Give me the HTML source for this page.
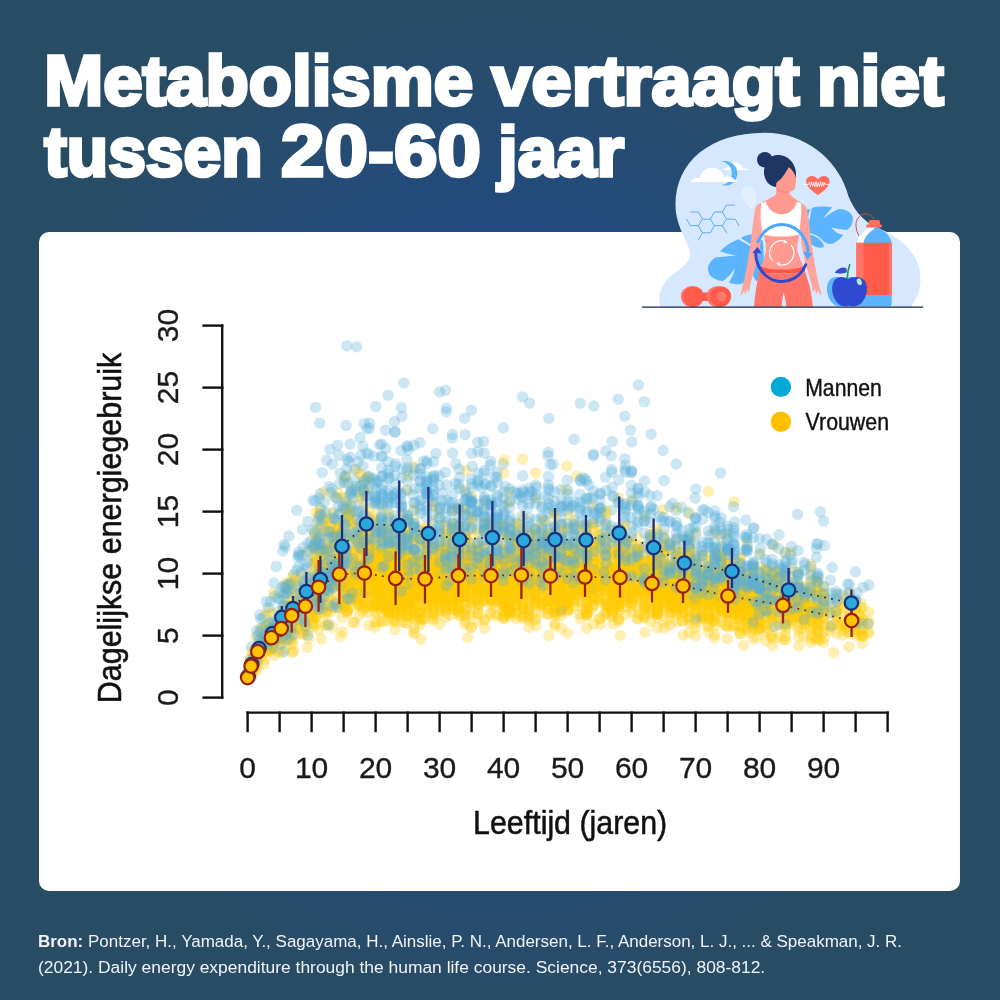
<!DOCTYPE html>
<html lang="nl">
<head>
<meta charset="utf-8">
<title>Metabolisme vertraagt niet tussen 20-60 jaar</title>
<style>
*{margin:0;padding:0;box-sizing:border-box}
html,body{width:1000px;height:1000px;overflow:hidden}
body{position:relative;font-family:"Liberation Sans",sans-serif;
 background:#294c65 radial-gradient(circle 500px at 500px 500px,rgb(24,74,157) 0%,rgb(41,76,101) 100%);}
.card{position:absolute;left:39px;top:231.5px;width:921px;height:659.5px;background:#fff;border-radius:10px}
svg{position:absolute;left:0;top:0;overflow:visible}
.title text{font-family:"Liberation Sans",sans-serif;font-weight:700;font-size:70px;fill:#fff;stroke:#fff;stroke-width:3.6px;stroke-linejoin:miter;stroke-miterlimit:2.5;paint-order:stroke fill}
.scatter circle{fill:#ffcb00;fill-opacity:.3}
.scatter circle.m{fill:#55acd6;fill-opacity:.3}
.ticks text{font-family:"Liberation Sans",sans-serif;font-size:30px;fill:#1a1a1a;stroke:#1a1a1a;stroke-width:.35px}
.axt text{font-family:"Liberation Sans",sans-serif;font-size:33.5px;fill:#111;stroke:#111;stroke-width:.55px}
.leg text{font-family:"Liberation Sans",sans-serif;font-size:23.2px;fill:#111;stroke:#111;stroke-width:.4px}
.src{position:absolute;left:38.1px;top:929px;width:940px;color:#f0f3f7;font-size:16.8px;line-height:26.2px;white-space:nowrap}
.src span{display:block;transform-origin:0 50%}
.src .l1{transform:scaleX(1.012)}
.src .l2{transform:scaleX(1.038)}
</style>
</head>
<body>
<div class="card"></div>

<svg class="title" width="1000" height="230" viewBox="0 0 1000 230" role="heading" aria-level="1">
<text x="44.2" y="105.3" textLength="428.9" lengthAdjust="spacingAndGlyphs">Metabolisme</text>
<text x="491.6" y="105.3" textLength="308.0" lengthAdjust="spacingAndGlyphs">vertraagt</text>
<text x="816.9" y="105.3" textLength="126.8" lengthAdjust="spacingAndGlyphs">niet</text>
<text x="44.2" y="175.6" textLength="218.4" lengthAdjust="spacingAndGlyphs">tussen</text>
<text x="281.0" y="175.8" textLength="199.9" lengthAdjust="spacingAndGlyphs" style="font-size:72.6px">20-60</text>
<text x="498.0" y="175.6" textLength="126.0" lengthAdjust="spacingAndGlyphs">jaar</text>
</svg>

<svg class="chart" width="1000" height="1000" viewBox="0 0 1000 1000">
<filter id="soft" x="0" y="0" width="1000" height="1000" filterUnits="userSpaceOnUse"><feGaussianBlur stdDeviation="0.7"/></filter>
<g class="scatter" filter="url(#soft)">
<circle cx="515.3" cy="604.0" r="5.7"/>
<circle cx="660.6" cy="587.7" r="5.7"/>
<circle cx="445.9" cy="540.7" r="5.7"/>
<circle cx="700.7" cy="583.1" r="5.7"/>
<circle cx="330.7" cy="585.9" r="5.7"/>
<circle cx="669.7" cy="567.0" r="5.7"/>
<circle cx="560.8" cy="600.4" r="5.7"/>
<circle cx="567.9" cy="571.3" r="5.7"/>
<circle cx="785.1" cy="601.1" r="5.7"/>
<circle cx="611.9" cy="595.3" r="5.7"/>
<circle cx="657.7" cy="581.8" r="5.7"/>
<circle cx="523.1" cy="543.2" r="5.7"/>
<circle cx="657.0" cy="603.3" r="5.7"/>
<circle cx="606.5" cy="606.8" r="5.7"/>
<circle cx="439.5" cy="565.2" r="5.7"/>
<circle cx="388.4" cy="564.8" r="5.7"/>
<circle cx="359.6" cy="556.9" r="5.7"/>
<circle cx="380.8" cy="540.0" r="5.7"/>
<circle cx="568.2" cy="585.0" r="5.7"/>
<circle cx="497.0" cy="561.0" r="5.7"/>
<circle cx="272.2" cy="613.8" r="5.7"/>
<circle cx="689.3" cy="548.9" r="5.7"/>
<circle cx="731.8" cy="588.9" r="5.7"/>
<circle cx="638.3" cy="559.0" r="5.7"/>
<circle cx="797.9" cy="582.9" r="5.7"/>
<circle cx="502.7" cy="583.0" r="5.7"/>
<circle cx="342.9" cy="565.7" r="5.7"/>
<circle cx="747.1" cy="596.7" r="5.7"/>
<circle cx="375.4" cy="576.5" r="5.7"/>
<circle cx="561.3" cy="541.0" r="5.7"/>
<circle cx="283.1" cy="609.6" r="5.7"/>
<circle cx="253.6" cy="653.0" r="5.7"/>
<circle cx="810.6" cy="606.7" r="5.7"/>
<circle cx="366.8" cy="542.9" r="5.7"/>
<circle cx="709.2" cy="601.1" r="5.7"/>
<circle cx="670.8" cy="576.8" r="5.7"/>
<circle cx="625.6" cy="595.8" r="5.7"/>
<circle cx="356.5" cy="538.3" r="5.7"/>
<circle cx="273.0" cy="645.0" r="5.7"/>
<circle cx="543.7" cy="544.9" r="5.7"/>
<circle cx="618.5" cy="618.7" r="5.7"/>
<circle cx="611.8" cy="572.9" r="5.7"/>
<circle cx="329.5" cy="558.3" r="5.7"/>
<circle cx="618.7" cy="561.6" r="5.7"/>
<circle cx="612.3" cy="598.9" r="5.7"/>
<circle cx="504.0" cy="562.9" r="5.7"/>
<circle cx="664.5" cy="597.8" r="5.7"/>
<circle cx="772.6" cy="602.4" r="5.7"/>
<circle cx="420.0" cy="567.1" r="5.7"/>
<circle cx="496.9" cy="565.9" r="5.7"/>
<circle cx="682.9" cy="580.5" r="5.7"/>
<circle cx="548.4" cy="562.7" r="5.7"/>
<circle cx="439.5" cy="599.0" r="5.7"/>
<circle cx="382.1" cy="593.8" r="5.7"/>
<circle cx="714.2" cy="575.8" r="5.7"/>
<circle cx="506.5" cy="600.2" r="5.7"/>
<circle cx="546.8" cy="573.5" r="5.7"/>
<circle cx="427.3" cy="587.3" r="5.7"/>
<circle cx="400.7" cy="562.2" r="5.7"/>
<circle cx="515.5" cy="548.4" r="5.7"/>
<circle cx="265.8" cy="624.9" r="5.7"/>
<circle cx="496.9" cy="575.7" r="5.7"/>
<circle cx="452.9" cy="574.5" r="5.7"/>
<circle cx="253.1" cy="669.1" r="5.7"/>
<circle cx="708.5" cy="595.9" r="5.7"/>
<circle cx="368.9" cy="554.2" r="5.7"/>
<circle cx="477.3" cy="598.3" r="5.7"/>
<circle cx="433.3" cy="520.7" r="5.7"/>
<circle cx="329.8" cy="518.8" r="5.7"/>
<circle cx="689.3" cy="584.8" r="5.7"/>
<circle cx="465.3" cy="585.9" r="5.7"/>
<circle cx="760.3" cy="587.8" r="5.7"/>
<circle cx="855.4" cy="622.0" r="5.7"/>
<circle cx="862.4" cy="628.0" r="5.7"/>
<circle cx="702.6" cy="576.8" r="5.7"/>
<circle cx="759.8" cy="591.3" r="5.7"/>
<circle cx="336.8" cy="582.6" r="5.7"/>
<circle cx="548.6" cy="599.2" r="5.7"/>
<circle cx="661.4" cy="571.3" r="5.7"/>
<circle cx="359.3" cy="615.5" r="5.7"/>
<circle cx="352.6" cy="575.2" r="5.7"/>
<circle cx="727.9" cy="607.3" r="5.7"/>
<circle cx="421.1" cy="582.6" r="5.7"/>
<circle cx="724.9" cy="625.3" r="5.7"/>
<circle cx="859.2" cy="621.8" r="5.7"/>
<circle cx="346.5" cy="506.1" r="5.7"/>
<circle cx="491.1" cy="555.6" r="5.7"/>
<circle cx="465.3" cy="609.4" r="5.7"/>
<circle cx="394.5" cy="619.4" r="5.7"/>
<circle cx="320.6" cy="548.7" r="5.7"/>
<circle cx="817.4" cy="581.9" r="5.7"/>
<circle cx="619.1" cy="552.9" r="5.7"/>
<circle cx="394.6" cy="547.1" r="5.7"/>
<circle cx="387.6" cy="574.4" r="5.7"/>
<circle cx="548.9" cy="574.2" r="5.7"/>
<circle cx="338.9" cy="560.3" r="5.7"/>
<circle cx="433.0" cy="594.8" r="5.7"/>
<circle cx="522.8" cy="564.3" r="5.7"/>
<circle cx="554.8" cy="565.8" r="5.7"/>
<circle cx="560.7" cy="598.3" r="5.7"/>
<circle cx="313.9" cy="546.1" r="5.7"/>
<circle cx="535.4" cy="528.4" r="5.7"/>
<circle cx="427.1" cy="540.0" r="5.7"/>
<circle cx="560.8" cy="584.2" r="5.7"/>
<circle cx="628.1" cy="558.0" r="5.7"/>
<circle cx="446.7" cy="594.5" r="5.7"/>
<circle cx="535.6" cy="499.0" r="5.7"/>
<circle cx="382.3" cy="507.8" r="5.7"/>
<circle cx="327.5" cy="589.8" r="5.7"/>
<circle cx="473.5" cy="591.6" r="5.7"/>
<circle cx="644.2" cy="585.2" r="5.7"/>
<circle cx="683.4" cy="594.6" r="5.7"/>
<circle cx="465.0" cy="576.3" r="5.7"/>
<circle cx="522.1" cy="561.4" r="5.7"/>
<circle cx="663.3" cy="587.4" r="5.7"/>
<circle cx="574.1" cy="564.2" r="5.7"/>
<circle cx="357.6" cy="574.3" r="5.7"/>
<circle cx="620.2" cy="585.5" r="5.7"/>
<circle cx="588.4" cy="612.7" r="5.7"/>
<circle cx="458.2" cy="591.3" r="5.7"/>
<circle cx="522.7" cy="558.7" r="5.7"/>
<circle cx="491.3" cy="574.9" r="5.7"/>
<circle cx="414.2" cy="615.7" r="5.7"/>
<circle cx="363.9" cy="507.2" r="5.7"/>
<circle cx="355.9" cy="580.7" r="5.7"/>
<circle cx="689.7" cy="577.2" r="5.7"/>
<circle cx="420.9" cy="576.2" r="5.7"/>
<circle cx="567.2" cy="603.4" r="5.7"/>
<circle cx="535.7" cy="545.1" r="5.7"/>
<circle cx="618.4" cy="585.8" r="5.7"/>
<circle cx="650.8" cy="590.4" r="5.7"/>
<circle cx="285.3" cy="620.7" r="5.7"/>
<circle cx="846.8" cy="627.9" r="5.7"/>
<circle cx="394.2" cy="584.8" r="5.7"/>
<circle cx="387.4" cy="604.5" r="5.7"/>
<circle cx="637.4" cy="582.5" r="5.7"/>
<circle cx="394.7" cy="561.1" r="5.7"/>
<circle cx="672.4" cy="593.2" r="5.7"/>
<circle cx="689.2" cy="578.2" r="5.7"/>
<circle cx="549.3" cy="581.2" r="5.7"/>
<circle cx="359.7" cy="473.0" r="5.7"/>
<circle cx="332.0" cy="529.7" r="5.7"/>
<circle cx="484.4" cy="573.9" r="5.7"/>
<circle cx="381.7" cy="558.5" r="5.7"/>
<circle cx="328.3" cy="564.1" r="5.7"/>
<circle cx="663.2" cy="601.9" r="5.7"/>
<circle cx="271.1" cy="649.7" r="5.7"/>
<circle cx="784.9" cy="596.8" r="5.7"/>
<circle cx="394.8" cy="588.0" r="5.7"/>
<circle cx="471.6" cy="517.4" r="5.7"/>
<circle cx="321.7" cy="584.9" r="5.7"/>
<circle cx="433.7" cy="618.4" r="5.7"/>
<circle cx="759.4" cy="584.6" r="5.7"/>
<circle cx="619.3" cy="597.4" r="5.7"/>
<circle cx="452.8" cy="533.4" r="5.7"/>
<circle cx="394.6" cy="560.5" r="5.7"/>
<circle cx="480.4" cy="589.6" r="5.7"/>
<circle cx="382.0" cy="595.1" r="5.7"/>
<circle cx="759.4" cy="622.8" r="5.7"/>
<circle cx="410.8" cy="602.2" r="5.7"/>
<circle cx="740.5" cy="608.1" r="5.7"/>
<circle cx="656.7" cy="564.7" r="5.7"/>
<circle cx="473.1" cy="582.4" r="5.7"/>
<circle cx="497.0" cy="569.0" r="5.7"/>
<circle cx="510.1" cy="588.6" r="5.7"/>
<circle cx="342.9" cy="525.3" r="5.7"/>
<circle cx="369.5" cy="561.5" r="5.7"/>
<circle cx="541.9" cy="553.3" r="5.7"/>
<circle cx="753.7" cy="599.0" r="5.7"/>
<circle cx="714.4" cy="606.4" r="5.7"/>
<circle cx="554.8" cy="604.8" r="5.7"/>
<circle cx="593.6" cy="579.7" r="5.7"/>
<circle cx="459.0" cy="591.1" r="5.7"/>
<circle cx="560.7" cy="566.6" r="5.7"/>
<circle cx="740.4" cy="602.6" r="5.7"/>
<circle cx="403.7" cy="584.2" r="5.7"/>
<circle cx="381.8" cy="598.2" r="5.7"/>
<circle cx="732.0" cy="626.7" r="5.7"/>
<circle cx="505.9" cy="594.6" r="5.7"/>
<circle cx="414.3" cy="581.1" r="5.7"/>
<circle cx="544.3" cy="570.1" r="5.7"/>
<circle cx="567.8" cy="595.3" r="5.7"/>
<circle cx="467.7" cy="637.8" r="5.7"/>
<circle cx="677.2" cy="600.5" r="5.7"/>
<circle cx="555.7" cy="562.3" r="5.7"/>
<circle cx="348.2" cy="601.9" r="5.7"/>
<circle cx="353.3" cy="579.9" r="5.7"/>
<circle cx="420.3" cy="618.3" r="5.7"/>
<circle cx="516.5" cy="582.6" r="5.7"/>
<circle cx="403.1" cy="591.7" r="5.7"/>
<circle cx="688.9" cy="600.9" r="5.7"/>
<circle cx="567.7" cy="568.0" r="5.7"/>
<circle cx="690.7" cy="541.4" r="5.7"/>
<circle cx="558.7" cy="545.4" r="5.7"/>
<circle cx="388.9" cy="561.6" r="5.7"/>
<circle cx="548.5" cy="567.5" r="5.7"/>
<circle cx="516.6" cy="571.8" r="5.7"/>
<circle cx="573.6" cy="571.3" r="5.7"/>
<circle cx="708.2" cy="605.4" r="5.7"/>
<circle cx="727.3" cy="638.5" r="5.7"/>
<circle cx="388.4" cy="552.4" r="5.7"/>
<circle cx="721.9" cy="592.3" r="5.7"/>
<circle cx="503.3" cy="590.3" r="5.7"/>
<circle cx="709.2" cy="615.7" r="5.7"/>
<circle cx="772.1" cy="587.6" r="5.7"/>
<circle cx="721.3" cy="595.2" r="5.7"/>
<circle cx="576.2" cy="601.8" r="5.7"/>
<circle cx="324.2" cy="517.8" r="5.7"/>
<circle cx="612.5" cy="594.1" r="5.7"/>
<circle cx="445.4" cy="552.9" r="5.7"/>
<circle cx="375.4" cy="598.3" r="5.7"/>
<circle cx="656.8" cy="593.0" r="5.7"/>
<circle cx="548.8" cy="550.8" r="5.7"/>
<circle cx="766.0" cy="589.4" r="5.7"/>
<circle cx="503.6" cy="616.6" r="5.7"/>
<circle cx="389.2" cy="565.6" r="5.7"/>
<circle cx="458.5" cy="598.6" r="5.7"/>
<circle cx="384.5" cy="565.2" r="5.7"/>
<circle cx="509.9" cy="570.2" r="5.7"/>
<circle cx="497.0" cy="585.8" r="5.7"/>
<circle cx="318.5" cy="570.5" r="5.7"/>
<circle cx="849.3" cy="615.2" r="5.7"/>
<circle cx="612.3" cy="599.1" r="5.7"/>
<circle cx="360.7" cy="602.6" r="5.7"/>
<circle cx="381.7" cy="568.9" r="5.7"/>
<circle cx="714.5" cy="598.8" r="5.7"/>
<circle cx="471.6" cy="591.1" r="5.7"/>
<circle cx="862.2" cy="636.1" r="5.7"/>
<circle cx="340.7" cy="513.3" r="5.7"/>
<circle cx="369.7" cy="545.5" r="5.7"/>
<circle cx="292.8" cy="581.1" r="5.7"/>
<circle cx="316.9" cy="594.8" r="5.7"/>
<circle cx="555.4" cy="514.8" r="5.7"/>
<circle cx="554.8" cy="611.5" r="5.7"/>
<circle cx="567.2" cy="557.3" r="5.7"/>
<circle cx="388.5" cy="570.7" r="5.7"/>
<circle cx="522.1" cy="582.1" r="5.7"/>
<circle cx="432.7" cy="567.6" r="5.7"/>
<circle cx="471.3" cy="582.6" r="5.7"/>
<circle cx="574.0" cy="599.1" r="5.7"/>
<circle cx="522.5" cy="585.4" r="5.7"/>
<circle cx="721.1" cy="602.8" r="5.7"/>
<circle cx="567.7" cy="602.9" r="5.7"/>
<circle cx="823.5" cy="631.6" r="5.7"/>
<circle cx="554.0" cy="545.6" r="5.7"/>
<circle cx="375.1" cy="555.5" r="5.7"/>
<circle cx="574.1" cy="560.8" r="5.7"/>
<circle cx="517.4" cy="549.0" r="5.7"/>
<circle cx="676.9" cy="595.9" r="5.7"/>
<circle cx="358.6" cy="604.9" r="5.7"/>
<circle cx="355.1" cy="586.9" r="5.7"/>
<circle cx="288.1" cy="628.6" r="5.7"/>
<circle cx="420.4" cy="605.6" r="5.7"/>
<circle cx="432.8" cy="576.8" r="5.7"/>
<circle cx="624.7" cy="564.3" r="5.7"/>
<circle cx="439.6" cy="578.1" r="5.7"/>
<circle cx="720.8" cy="591.1" r="5.7"/>
<circle cx="400.8" cy="593.5" r="5.7"/>
<circle cx="580.2" cy="589.1" r="5.7"/>
<circle cx="497.7" cy="592.8" r="5.7"/>
<circle cx="593.5" cy="538.9" r="5.7"/>
<circle cx="622.7" cy="600.4" r="5.7"/>
<circle cx="347.8" cy="580.0" r="5.7"/>
<circle cx="424.6" cy="593.4" r="5.7"/>
<circle cx="357.6" cy="577.3" r="5.7"/>
<circle cx="625.0" cy="576.8" r="5.7"/>
<circle cx="440.1" cy="599.6" r="5.7"/>
<circle cx="445.4" cy="548.8" r="5.7"/>
<circle cx="388.9" cy="575.2" r="5.7"/>
<circle cx="765.6" cy="568.9" r="5.7"/>
<circle cx="849.2" cy="619.5" r="5.7"/>
<circle cx="509.6" cy="537.0" r="5.7"/>
<circle cx="388.1" cy="569.3" r="5.7"/>
<circle cx="464.6" cy="573.9" r="5.7"/>
<circle cx="600.9" cy="624.2" r="5.7"/>
<circle cx="587.1" cy="577.7" r="5.7"/>
<circle cx="721.0" cy="585.5" r="5.7"/>
<circle cx="452.6" cy="523.7" r="5.7"/>
<circle cx="766.3" cy="603.5" r="5.7"/>
<circle cx="394.3" cy="587.9" r="5.7"/>
<circle cx="818.2" cy="632.0" r="5.7"/>
<circle cx="388.0" cy="582.7" r="5.7"/>
<circle cx="349.3" cy="588.0" r="5.7"/>
<circle cx="644.9" cy="576.1" r="5.7"/>
<circle cx="426.0" cy="608.5" r="5.7"/>
<circle cx="536.2" cy="602.7" r="5.7"/>
<circle cx="502.9" cy="575.3" r="5.7"/>
<circle cx="366.4" cy="582.2" r="5.7"/>
<circle cx="758.7" cy="603.6" r="5.7"/>
<circle cx="618.8" cy="498.0" r="5.7"/>
<circle cx="567.7" cy="571.4" r="5.7"/>
<circle cx="619.2" cy="574.5" r="5.7"/>
<circle cx="394.9" cy="571.0" r="5.7"/>
<circle cx="402.1" cy="614.7" r="5.7"/>
<circle cx="360.3" cy="579.7" r="5.7"/>
<circle cx="367.2" cy="562.1" r="5.7"/>
<circle cx="423.5" cy="619.8" r="5.7"/>
<circle cx="381.7" cy="534.7" r="5.7"/>
<circle cx="680.5" cy="589.3" r="5.7"/>
<circle cx="407.5" cy="565.4" r="5.7"/>
<circle cx="515.8" cy="580.1" r="5.7"/>
<circle cx="528.9" cy="537.8" r="5.7"/>
<circle cx="817.4" cy="620.7" r="5.7"/>
<circle cx="471.8" cy="578.9" r="5.7"/>
<circle cx="287.6" cy="635.9" r="5.7"/>
<circle cx="446.3" cy="598.9" r="5.7"/>
<circle cx="766.3" cy="583.5" r="5.7"/>
<circle cx="783.4" cy="589.0" r="5.7"/>
<circle cx="522.7" cy="459.1" r="5.7"/>
<circle cx="331.1" cy="584.9" r="5.7"/>
<circle cx="398.9" cy="545.7" r="5.7"/>
<circle cx="618.8" cy="567.3" r="5.7"/>
<circle cx="420.4" cy="587.5" r="5.7"/>
<circle cx="580.3" cy="583.6" r="5.7"/>
<circle cx="374.9" cy="592.1" r="5.7"/>
<circle cx="797.7" cy="598.8" r="5.7"/>
<circle cx="298.8" cy="614.0" r="5.7"/>
<circle cx="535.2" cy="583.4" r="5.7"/>
<circle cx="503.7" cy="473.3" r="5.7"/>
<circle cx="407.8" cy="597.9" r="5.7"/>
<circle cx="619.0" cy="557.1" r="5.7"/>
<circle cx="432.6" cy="572.5" r="5.7"/>
<circle cx="448.1" cy="563.3" r="5.7"/>
<circle cx="739.2" cy="600.5" r="5.7"/>
<circle cx="280.4" cy="638.5" r="5.7"/>
<circle cx="250.6" cy="661.8" r="5.7"/>
<circle cx="740.2" cy="600.7" r="5.7"/>
<circle cx="733.8" cy="596.8" r="5.7"/>
<circle cx="522.3" cy="568.9" r="5.7"/>
<circle cx="529.0" cy="559.3" r="5.7"/>
<circle cx="458.5" cy="578.5" r="5.7"/>
<circle cx="797.8" cy="611.8" r="5.7"/>
<circle cx="421.1" cy="563.8" r="5.7"/>
<circle cx="720.9" cy="606.5" r="5.7"/>
<circle cx="437.7" cy="575.0" r="5.7"/>
<circle cx="592.8" cy="588.0" r="5.7"/>
<circle cx="555.3" cy="606.9" r="5.7"/>
<circle cx="754.2" cy="579.4" r="5.7"/>
<circle cx="670.0" cy="549.9" r="5.7"/>
<circle cx="393.0" cy="557.0" r="5.7"/>
<circle cx="618.8" cy="606.4" r="5.7"/>
<circle cx="429.6" cy="601.3" r="5.7"/>
<circle cx="496.5" cy="616.3" r="5.7"/>
<circle cx="503.5" cy="589.6" r="5.7"/>
<circle cx="740.6" cy="558.1" r="5.7"/>
<circle cx="439.9" cy="592.8" r="5.7"/>
<circle cx="382.0" cy="571.8" r="5.7"/>
<circle cx="758.8" cy="620.6" r="5.7"/>
<circle cx="587.0" cy="615.2" r="5.7"/>
<circle cx="271.7" cy="630.4" r="5.7"/>
<circle cx="491.2" cy="604.8" r="5.7"/>
<circle cx="505.5" cy="613.7" r="5.7"/>
<circle cx="702.4" cy="586.3" r="5.7"/>
<circle cx="587.1" cy="563.3" r="5.7"/>
<circle cx="797.7" cy="610.6" r="5.7"/>
<circle cx="842.9" cy="602.2" r="5.7"/>
<circle cx="567.7" cy="544.1" r="5.7"/>
<circle cx="811.4" cy="634.5" r="5.7"/>
<circle cx="523.0" cy="547.8" r="5.7"/>
<circle cx="752.8" cy="595.1" r="5.7"/>
<circle cx="478.5" cy="559.5" r="5.7"/>
<circle cx="494.9" cy="595.8" r="5.7"/>
<circle cx="753.4" cy="583.9" r="5.7"/>
<circle cx="352.3" cy="591.1" r="5.7"/>
<circle cx="353.6" cy="549.0" r="5.7"/>
<circle cx="402.0" cy="596.6" r="5.7"/>
<circle cx="420.3" cy="600.7" r="5.7"/>
<circle cx="338.0" cy="493.0" r="5.7"/>
<circle cx="347.7" cy="576.4" r="5.7"/>
<circle cx="484.1" cy="562.4" r="5.7"/>
<circle cx="381.8" cy="598.8" r="5.7"/>
<circle cx="292.2" cy="641.2" r="5.7"/>
<circle cx="267.5" cy="650.2" r="5.7"/>
<circle cx="535.8" cy="581.1" r="5.7"/>
<circle cx="334.3" cy="535.9" r="5.7"/>
<circle cx="252.5" cy="671.7" r="5.7"/>
<circle cx="314.0" cy="626.4" r="5.7"/>
<circle cx="357.3" cy="560.6" r="5.7"/>
<circle cx="433.5" cy="603.7" r="5.7"/>
<circle cx="343.9" cy="606.6" r="5.7"/>
<circle cx="496.8" cy="587.3" r="5.7"/>
<circle cx="446.3" cy="612.9" r="5.7"/>
<circle cx="414.9" cy="586.7" r="5.7"/>
<circle cx="322.3" cy="555.7" r="5.7"/>
<circle cx="274.4" cy="655.1" r="5.7"/>
<circle cx="772.2" cy="593.8" r="5.7"/>
<circle cx="337.7" cy="573.6" r="5.7"/>
<circle cx="801.3" cy="590.7" r="5.7"/>
<circle cx="605.7" cy="590.7" r="5.7"/>
<circle cx="449.0" cy="571.1" r="5.7"/>
<circle cx="561.7" cy="574.3" r="5.7"/>
<circle cx="855.4" cy="611.7" r="5.7"/>
<circle cx="700.5" cy="587.8" r="5.7"/>
<circle cx="414.4" cy="563.0" r="5.7"/>
<circle cx="342.7" cy="576.1" r="5.7"/>
<circle cx="496.7" cy="614.7" r="5.7"/>
<circle cx="516.9" cy="600.5" r="5.7"/>
<circle cx="516.8" cy="545.3" r="5.7"/>
<circle cx="547.9" cy="564.2" r="5.7"/>
<circle cx="721.1" cy="607.0" r="5.7"/>
<circle cx="644.9" cy="580.9" r="5.7"/>
<circle cx="593.0" cy="596.7" r="5.7"/>
<circle cx="613.4" cy="579.9" r="5.7"/>
<circle cx="484.1" cy="562.3" r="5.7"/>
<circle cx="452.4" cy="596.4" r="5.7"/>
<circle cx="587.6" cy="608.8" r="5.7"/>
<circle cx="434.0" cy="552.9" r="5.7"/>
<circle cx="574.6" cy="582.2" r="5.7"/>
<circle cx="319.0" cy="513.9" r="5.7"/>
<circle cx="484.5" cy="574.2" r="5.7"/>
<circle cx="567.3" cy="576.3" r="5.7"/>
<circle cx="586.6" cy="595.3" r="5.7"/>
<circle cx="758.7" cy="630.4" r="5.7"/>
<circle cx="452.6" cy="569.2" r="5.7"/>
<circle cx="495.7" cy="583.5" r="5.7"/>
<circle cx="549.1" cy="566.1" r="5.7"/>
<circle cx="504.0" cy="588.5" r="5.7"/>
<circle cx="536.0" cy="553.7" r="5.7"/>
<circle cx="721.4" cy="610.1" r="5.7"/>
<circle cx="575.8" cy="535.0" r="5.7"/>
<circle cx="740.0" cy="626.3" r="5.7"/>
<circle cx="657.1" cy="563.5" r="5.7"/>
<circle cx="599.0" cy="581.3" r="5.7"/>
<circle cx="530.7" cy="589.8" r="5.7"/>
<circle cx="433.7" cy="589.3" r="5.7"/>
<circle cx="471.6" cy="603.4" r="5.7"/>
<circle cx="387.5" cy="541.6" r="5.7"/>
<circle cx="842.7" cy="635.1" r="5.7"/>
<circle cx="479.7" cy="573.0" r="5.7"/>
<circle cx="516.7" cy="562.2" r="5.7"/>
<circle cx="318.3" cy="596.5" r="5.7"/>
<circle cx="346.1" cy="605.3" r="5.7"/>
<circle cx="753.1" cy="578.4" r="5.7"/>
<circle cx="535.1" cy="594.2" r="5.7"/>
<circle cx="333.1" cy="536.6" r="5.7"/>
<circle cx="641.1" cy="561.3" r="5.7"/>
<circle cx="823.2" cy="642.4" r="5.7"/>
<circle cx="414.2" cy="582.5" r="5.7"/>
<circle cx="772.1" cy="592.4" r="5.7"/>
<circle cx="812.5" cy="597.3" r="5.7"/>
<circle cx="348.6" cy="566.4" r="5.7"/>
<circle cx="752.6" cy="583.6" r="5.7"/>
<circle cx="676.4" cy="614.0" r="5.7"/>
<circle cx="469.5" cy="559.0" r="5.7"/>
<circle cx="593.7" cy="528.6" r="5.7"/>
<circle cx="862.3" cy="621.6" r="5.7"/>
<circle cx="427.2" cy="590.4" r="5.7"/>
<circle cx="619.3" cy="569.4" r="5.7"/>
<circle cx="477.7" cy="573.4" r="5.7"/>
<circle cx="721.3" cy="602.7" r="5.7"/>
<circle cx="473.6" cy="569.3" r="5.7"/>
<circle cx="404.8" cy="583.0" r="5.7"/>
<circle cx="365.5" cy="530.3" r="5.7"/>
<circle cx="663.5" cy="610.8" r="5.7"/>
<circle cx="478.5" cy="584.5" r="5.7"/>
<circle cx="580.4" cy="532.3" r="5.7"/>
<circle cx="775.8" cy="585.1" r="5.7"/>
<circle cx="375.1" cy="534.5" r="5.7"/>
<circle cx="338.5" cy="585.1" r="5.7"/>
<circle cx="464.9" cy="568.4" r="5.7"/>
<circle cx="387.8" cy="565.6" r="5.7"/>
<circle cx="817.5" cy="589.0" r="5.7"/>
<circle cx="785.2" cy="594.7" r="5.7"/>
<circle cx="367.3" cy="477.3" r="5.7"/>
<circle cx="497.5" cy="578.4" r="5.7"/>
<circle cx="317.7" cy="586.9" r="5.7"/>
<circle cx="862.4" cy="629.7" r="5.7"/>
<circle cx="352.1" cy="582.8" r="5.7"/>
<circle cx="618.2" cy="591.8" r="5.7"/>
<circle cx="506.9" cy="592.2" r="5.7"/>
<circle cx="618.7" cy="605.7" r="5.7"/>
<circle cx="439.6" cy="595.3" r="5.7"/>
<circle cx="604.3" cy="615.1" r="5.7"/>
<circle cx="536.2" cy="588.0" r="5.7"/>
<circle cx="510.6" cy="583.7" r="5.7"/>
<circle cx="608.8" cy="571.0" r="5.7"/>
<circle cx="464.7" cy="561.6" r="5.7"/>
<circle cx="414.0" cy="553.5" r="5.7"/>
<circle cx="631.7" cy="565.1" r="5.7"/>
<circle cx="347.0" cy="611.1" r="5.7"/>
<circle cx="599.5" cy="555.1" r="5.7"/>
<circle cx="625.8" cy="540.8" r="5.7"/>
<circle cx="541.9" cy="589.6" r="5.7"/>
<circle cx="587.1" cy="591.0" r="5.7"/>
<circle cx="314.2" cy="548.2" r="5.7"/>
<circle cx="742.1" cy="627.7" r="5.7"/>
<circle cx="535.9" cy="571.9" r="5.7"/>
<circle cx="463.2" cy="590.3" r="5.7"/>
<circle cx="505.3" cy="606.7" r="5.7"/>
<circle cx="490.7" cy="598.7" r="5.7"/>
<circle cx="823.5" cy="600.8" r="5.7"/>
<circle cx="535.2" cy="572.4" r="5.7"/>
<circle cx="682.5" cy="589.7" r="5.7"/>
<circle cx="644.3" cy="598.1" r="5.7"/>
<circle cx="445.2" cy="591.1" r="5.7"/>
<circle cx="387.9" cy="568.3" r="5.7"/>
<circle cx="358.0" cy="600.3" r="5.7"/>
<circle cx="619.3" cy="570.5" r="5.7"/>
<circle cx="868.8" cy="611.9" r="5.7"/>
<circle cx="459.1" cy="597.5" r="5.7"/>
<circle cx="560.8" cy="574.3" r="5.7"/>
<circle cx="555.3" cy="572.7" r="5.7"/>
<circle cx="633.7" cy="583.7" r="5.7"/>
<circle cx="330.0" cy="582.2" r="5.7"/>
<circle cx="490.4" cy="570.7" r="5.7"/>
<circle cx="529.1" cy="542.6" r="5.7"/>
<circle cx="420.6" cy="585.9" r="5.7"/>
<circle cx="715.0" cy="596.9" r="5.7"/>
<circle cx="656.2" cy="590.6" r="5.7"/>
<circle cx="650.8" cy="591.0" r="5.7"/>
<circle cx="432.9" cy="581.7" r="5.7"/>
<circle cx="414.5" cy="595.6" r="5.7"/>
<circle cx="413.7" cy="555.9" r="5.7"/>
<circle cx="702.0" cy="611.4" r="5.7"/>
<circle cx="720.9" cy="569.4" r="5.7"/>
<circle cx="574.1" cy="560.7" r="5.7"/>
<circle cx="509.4" cy="585.3" r="5.7"/>
<circle cx="427.0" cy="569.8" r="5.7"/>
<circle cx="594.2" cy="589.9" r="5.7"/>
<circle cx="701.6" cy="589.8" r="5.7"/>
<circle cx="753.8" cy="596.5" r="5.7"/>
<circle cx="740.5" cy="578.0" r="5.7"/>
<circle cx="765.6" cy="597.6" r="5.7"/>
<circle cx="759.7" cy="585.2" r="5.7"/>
<circle cx="439.1" cy="562.2" r="5.7"/>
<circle cx="606.2" cy="606.0" r="5.7"/>
<circle cx="375.4" cy="627.2" r="5.7"/>
<circle cx="406.0" cy="591.9" r="5.7"/>
<circle cx="755.0" cy="592.2" r="5.7"/>
<circle cx="420.2" cy="571.5" r="5.7"/>
<circle cx="592.8" cy="549.1" r="5.7"/>
<circle cx="341.8" cy="497.5" r="5.7"/>
<circle cx="688.7" cy="537.4" r="5.7"/>
<circle cx="606.2" cy="537.8" r="5.7"/>
<circle cx="516.2" cy="581.8" r="5.7"/>
<circle cx="410.3" cy="592.2" r="5.7"/>
<circle cx="413.9" cy="633.7" r="5.7"/>
<circle cx="478.1" cy="563.9" r="5.7"/>
<circle cx="433.4" cy="564.4" r="5.7"/>
<circle cx="656.0" cy="529.4" r="5.7"/>
<circle cx="669.9" cy="602.0" r="5.7"/>
<circle cx="586.5" cy="563.2" r="5.7"/>
<circle cx="574.3" cy="562.8" r="5.7"/>
<circle cx="657.8" cy="556.6" r="5.7"/>
<circle cx="477.6" cy="592.6" r="5.7"/>
<circle cx="388.1" cy="533.3" r="5.7"/>
<circle cx="772.1" cy="587.0" r="5.7"/>
<circle cx="407.8" cy="587.1" r="5.7"/>
<circle cx="791.9" cy="616.5" r="5.7"/>
<circle cx="561.9" cy="597.0" r="5.7"/>
<circle cx="413.4" cy="587.8" r="5.7"/>
<circle cx="606.0" cy="552.4" r="5.7"/>
<circle cx="407.6" cy="572.8" r="5.7"/>
<circle cx="855.9" cy="609.1" r="5.7"/>
<circle cx="702.5" cy="604.3" r="5.7"/>
<circle cx="618.6" cy="565.7" r="5.7"/>
<circle cx="357.2" cy="591.0" r="5.7"/>
<circle cx="509.8" cy="599.8" r="5.7"/>
<circle cx="490.3" cy="568.9" r="5.7"/>
<circle cx="657.2" cy="576.2" r="5.7"/>
<circle cx="619.1" cy="603.2" r="5.7"/>
<circle cx="297.3" cy="627.9" r="5.7"/>
<circle cx="644.0" cy="583.1" r="5.7"/>
<circle cx="567.3" cy="611.9" r="5.7"/>
<circle cx="323.9" cy="590.3" r="5.7"/>
<circle cx="497.5" cy="565.1" r="5.7"/>
<circle cx="362.5" cy="547.3" r="5.7"/>
<circle cx="500.5" cy="524.3" r="5.7"/>
<circle cx="574.2" cy="580.9" r="5.7"/>
<circle cx="388.7" cy="593.5" r="5.7"/>
<circle cx="676.1" cy="605.7" r="5.7"/>
<circle cx="770.3" cy="594.2" r="5.7"/>
<circle cx="656.5" cy="574.0" r="5.7"/>
<circle cx="401.7" cy="570.9" r="5.7"/>
<circle cx="779.3" cy="617.8" r="5.7"/>
<circle cx="483.6" cy="572.0" r="5.7"/>
<circle cx="727.6" cy="534.3" r="5.7"/>
<circle cx="670.1" cy="589.1" r="5.7"/>
<circle cx="529.6" cy="581.5" r="5.7"/>
<circle cx="478.0" cy="587.1" r="5.7"/>
<circle cx="393.7" cy="586.7" r="5.7"/>
<circle cx="708.6" cy="566.2" r="5.7"/>
<circle cx="567.6" cy="597.6" r="5.7"/>
<circle cx="555.3" cy="614.2" r="5.7"/>
<circle cx="388.2" cy="611.3" r="5.7"/>
<circle cx="715.1" cy="594.8" r="5.7"/>
<circle cx="432.6" cy="567.9" r="5.7"/>
<circle cx="379.9" cy="536.3" r="5.7"/>
<circle cx="434.2" cy="597.2" r="5.7"/>
<circle cx="811.1" cy="638.3" r="5.7"/>
<circle cx="705.9" cy="605.8" r="5.7"/>
<circle cx="479.6" cy="557.2" r="5.7"/>
<circle cx="560.5" cy="611.9" r="5.7"/>
<circle cx="637.9" cy="589.8" r="5.7"/>
<circle cx="586.9" cy="561.1" r="5.7"/>
<circle cx="381.9" cy="564.6" r="5.7"/>
<circle cx="310.8" cy="615.0" r="5.7"/>
<circle cx="401.4" cy="563.9" r="5.7"/>
<circle cx="427.1" cy="609.3" r="5.7"/>
<circle cx="625.2" cy="601.7" r="5.7"/>
<circle cx="734.1" cy="591.6" r="5.7"/>
<circle cx="463.8" cy="573.2" r="5.7"/>
<circle cx="461.4" cy="580.9" r="5.7"/>
<circle cx="462.9" cy="574.0" r="5.7"/>
<circle cx="593.2" cy="562.3" r="5.7"/>
<circle cx="484.9" cy="592.2" r="5.7"/>
<circle cx="465.3" cy="587.4" r="5.7"/>
<circle cx="433.4" cy="563.8" r="5.7"/>
<circle cx="778.4" cy="584.8" r="5.7"/>
<circle cx="700.3" cy="579.5" r="5.7"/>
<circle cx="466.5" cy="573.2" r="5.7"/>
<circle cx="406.7" cy="577.7" r="5.7"/>
<circle cx="657.1" cy="592.4" r="5.7"/>
<circle cx="516.8" cy="576.9" r="5.7"/>
<circle cx="376.0" cy="576.7" r="5.7"/>
<circle cx="603.6" cy="581.1" r="5.7"/>
<circle cx="288.3" cy="585.4" r="5.7"/>
<circle cx="816.7" cy="640.2" r="5.7"/>
<circle cx="414.3" cy="584.4" r="5.7"/>
<circle cx="714.4" cy="557.5" r="5.7"/>
<circle cx="445.6" cy="570.6" r="5.7"/>
<circle cx="369.4" cy="574.4" r="5.7"/>
<circle cx="670.3" cy="603.1" r="5.7"/>
<circle cx="395.5" cy="581.0" r="5.7"/>
<circle cx="388.7" cy="605.6" r="5.7"/>
<circle cx="452.2" cy="579.4" r="5.7"/>
<circle cx="746.7" cy="614.6" r="5.7"/>
<circle cx="540.3" cy="573.1" r="5.7"/>
<circle cx="670.5" cy="605.4" r="5.7"/>
<circle cx="583.9" cy="579.9" r="5.7"/>
<circle cx="771.7" cy="616.4" r="5.7"/>
<circle cx="316.5" cy="562.3" r="5.7"/>
<circle cx="388.7" cy="564.2" r="5.7"/>
<circle cx="452.9" cy="558.8" r="5.7"/>
<circle cx="368.9" cy="576.3" r="5.7"/>
<circle cx="414.1" cy="563.7" r="5.7"/>
<circle cx="791.7" cy="616.8" r="5.7"/>
<circle cx="765.3" cy="586.0" r="5.7"/>
<circle cx="739.3" cy="604.2" r="5.7"/>
<circle cx="643.6" cy="583.7" r="5.7"/>
<circle cx="541.8" cy="587.7" r="5.7"/>
<circle cx="656.8" cy="561.3" r="5.7"/>
<circle cx="580.2" cy="558.7" r="5.7"/>
<circle cx="446.2" cy="583.2" r="5.7"/>
<circle cx="534.3" cy="560.7" r="5.7"/>
<circle cx="357.1" cy="514.9" r="5.7"/>
<circle cx="426.3" cy="574.4" r="5.7"/>
<circle cx="542.1" cy="595.2" r="5.7"/>
<circle cx="817.6" cy="594.6" r="5.7"/>
<circle cx="484.2" cy="589.7" r="5.7"/>
<circle cx="360.8" cy="496.8" r="5.7"/>
<circle cx="414.9" cy="563.3" r="5.7"/>
<circle cx="586.4" cy="553.4" r="5.7"/>
<circle cx="271.4" cy="636.5" r="5.7"/>
<circle cx="427.3" cy="591.4" r="5.7"/>
<circle cx="341.7" cy="554.7" r="5.7"/>
<circle cx="644.9" cy="594.4" r="5.7"/>
<circle cx="479.9" cy="559.7" r="5.7"/>
<circle cx="657.5" cy="601.6" r="5.7"/>
<circle cx="407.9" cy="576.9" r="5.7"/>
<circle cx="407.3" cy="553.6" r="5.7"/>
<circle cx="847.2" cy="597.6" r="5.7"/>
<circle cx="303.3" cy="607.1" r="5.7"/>
<circle cx="785.1" cy="587.9" r="5.7"/>
<circle cx="734.4" cy="597.5" r="5.7"/>
<circle cx="310.8" cy="597.6" r="5.7"/>
<circle cx="452.3" cy="582.1" r="5.7"/>
<circle cx="810.6" cy="612.1" r="5.7"/>
<circle cx="369.4" cy="578.2" r="5.7"/>
<circle cx="462.0" cy="571.4" r="5.7"/>
<circle cx="561.3" cy="524.8" r="5.7"/>
<circle cx="676.3" cy="579.4" r="5.7"/>
<circle cx="740.3" cy="609.8" r="5.7"/>
<circle cx="650.2" cy="584.2" r="5.7"/>
<circle cx="568.3" cy="571.7" r="5.7"/>
<circle cx="663.6" cy="549.4" r="5.7"/>
<circle cx="458.8" cy="564.9" r="5.7"/>
<circle cx="458.7" cy="588.8" r="5.7"/>
<circle cx="504.0" cy="603.5" r="5.7"/>
<circle cx="414.1" cy="560.0" r="5.7"/>
<circle cx="573.7" cy="556.0" r="5.7"/>
<circle cx="464.8" cy="574.3" r="5.7"/>
<circle cx="560.3" cy="570.1" r="5.7"/>
<circle cx="522.7" cy="576.0" r="5.7"/>
<circle cx="522.9" cy="562.1" r="5.7"/>
<circle cx="606.5" cy="599.7" r="5.7"/>
<circle cx="336.6" cy="535.9" r="5.7"/>
<circle cx="747.0" cy="604.6" r="5.7"/>
<circle cx="630.4" cy="589.7" r="5.7"/>
<circle cx="388.2" cy="562.0" r="5.7"/>
<circle cx="452.8" cy="573.1" r="5.7"/>
<circle cx="599.3" cy="535.1" r="5.7"/>
<circle cx="696.0" cy="597.6" r="5.7"/>
<circle cx="381.7" cy="566.4" r="5.7"/>
<circle cx="714.3" cy="581.9" r="5.7"/>
<circle cx="587.1" cy="606.9" r="5.7"/>
<circle cx="275.4" cy="638.5" r="5.7"/>
<circle cx="720.9" cy="594.2" r="5.7"/>
<circle cx="382.7" cy="621.1" r="5.7"/>
<circle cx="410.4" cy="587.2" r="5.7"/>
<circle cx="491.8" cy="599.5" r="5.7"/>
<circle cx="644.1" cy="616.9" r="5.7"/>
<circle cx="391.4" cy="573.5" r="5.7"/>
<circle cx="625.4" cy="557.3" r="5.7"/>
<circle cx="842.0" cy="606.8" r="5.7"/>
<circle cx="351.9" cy="596.4" r="5.7"/>
<circle cx="329.0" cy="580.7" r="5.7"/>
<circle cx="497.3" cy="576.4" r="5.7"/>
<circle cx="740.1" cy="614.2" r="5.7"/>
<circle cx="555.7" cy="592.1" r="5.7"/>
<circle cx="445.5" cy="568.7" r="5.7"/>
<circle cx="388.4" cy="584.4" r="5.7"/>
<circle cx="343.4" cy="599.4" r="5.7"/>
<circle cx="478.6" cy="575.2" r="5.7"/>
<circle cx="465.5" cy="554.7" r="5.7"/>
<circle cx="329.6" cy="526.9" r="5.7"/>
<circle cx="580.7" cy="580.3" r="5.7"/>
<circle cx="534.8" cy="619.9" r="5.7"/>
<circle cx="363.9" cy="566.6" r="5.7"/>
<circle cx="726.8" cy="608.4" r="5.7"/>
<circle cx="452.6" cy="586.8" r="5.7"/>
<circle cx="565.6" cy="489.9" r="5.7"/>
<circle cx="485.1" cy="519.5" r="5.7"/>
<circle cx="670.2" cy="593.3" r="5.7"/>
<circle cx="580.5" cy="569.0" r="5.7"/>
<circle cx="452.5" cy="557.1" r="5.7"/>
<circle cx="413.8" cy="553.8" r="5.7"/>
<circle cx="695.9" cy="587.5" r="5.7"/>
<circle cx="798.0" cy="627.0" r="5.7"/>
<circle cx="580.9" cy="567.0" r="5.7"/>
<circle cx="529.2" cy="603.4" r="5.7"/>
<circle cx="420.6" cy="560.8" r="5.7"/>
<circle cx="419.9" cy="570.8" r="5.7"/>
<circle cx="498.0" cy="588.5" r="5.7"/>
<circle cx="618.2" cy="619.4" r="5.7"/>
<circle cx="324.2" cy="536.8" r="5.7"/>
<circle cx="560.6" cy="573.4" r="5.7"/>
<circle cx="638.0" cy="569.9" r="5.7"/>
<circle cx="465.8" cy="538.5" r="5.7"/>
<circle cx="644.8" cy="560.4" r="5.7"/>
<circle cx="663.6" cy="590.3" r="5.7"/>
<circle cx="407.7" cy="566.5" r="5.7"/>
<circle cx="407.5" cy="540.2" r="5.7"/>
<circle cx="535.2" cy="578.7" r="5.7"/>
<circle cx="682.3" cy="620.9" r="5.7"/>
<circle cx="555.1" cy="607.7" r="5.7"/>
<circle cx="758.4" cy="615.2" r="5.7"/>
<circle cx="745.7" cy="602.2" r="5.7"/>
<circle cx="740.2" cy="630.9" r="5.7"/>
<circle cx="618.7" cy="582.8" r="5.7"/>
<circle cx="759.5" cy="622.6" r="5.7"/>
<circle cx="753.0" cy="573.2" r="5.7"/>
<circle cx="689.2" cy="595.4" r="5.7"/>
<circle cx="759.5" cy="598.3" r="5.7"/>
<circle cx="359.8" cy="592.8" r="5.7"/>
<circle cx="837.1" cy="601.9" r="5.7"/>
<circle cx="509.8" cy="588.8" r="5.7"/>
<circle cx="333.4" cy="496.2" r="5.7"/>
<circle cx="670.2" cy="552.6" r="5.7"/>
<circle cx="445.9" cy="534.7" r="5.7"/>
<circle cx="401.0" cy="586.8" r="5.7"/>
<circle cx="612.6" cy="554.5" r="5.7"/>
<circle cx="484.0" cy="561.5" r="5.7"/>
<circle cx="797.8" cy="607.6" r="5.7"/>
<circle cx="312.6" cy="617.7" r="5.7"/>
<circle cx="814.9" cy="638.3" r="5.7"/>
<circle cx="452.0" cy="589.9" r="5.7"/>
<circle cx="429.7" cy="575.2" r="5.7"/>
<circle cx="721.3" cy="573.2" r="5.7"/>
<circle cx="535.8" cy="472.9" r="5.7"/>
<circle cx="271.5" cy="645.7" r="5.7"/>
<circle cx="258.5" cy="658.8" r="5.7"/>
<circle cx="650.7" cy="587.7" r="5.7"/>
<circle cx="522.6" cy="594.5" r="5.7"/>
<circle cx="389.4" cy="585.9" r="5.7"/>
<circle cx="388.8" cy="572.0" r="5.7"/>
<circle cx="676.5" cy="547.5" r="5.7"/>
<circle cx="307.2" cy="623.5" r="5.7"/>
<circle cx="387.5" cy="540.1" r="5.7"/>
<circle cx="346.7" cy="536.7" r="5.7"/>
<circle cx="413.1" cy="564.2" r="5.7"/>
<circle cx="529.8" cy="533.5" r="5.7"/>
<circle cx="358.6" cy="576.5" r="5.7"/>
<circle cx="341.7" cy="586.9" r="5.7"/>
<circle cx="484.2" cy="578.7" r="5.7"/>
<circle cx="625.2" cy="568.6" r="5.7"/>
<circle cx="382.9" cy="600.6" r="5.7"/>
<circle cx="308.7" cy="638.6" r="5.7"/>
<circle cx="484.4" cy="587.3" r="5.7"/>
<circle cx="548.1" cy="585.0" r="5.7"/>
<circle cx="567.9" cy="572.2" r="5.7"/>
<circle cx="452.9" cy="510.6" r="5.7"/>
<circle cx="420.6" cy="613.4" r="5.7"/>
<circle cx="384.6" cy="593.1" r="5.7"/>
<circle cx="400.9" cy="545.3" r="5.7"/>
<circle cx="471.1" cy="552.9" r="5.7"/>
<circle cx="735.8" cy="566.6" r="5.7"/>
<circle cx="332.5" cy="627.4" r="5.7"/>
<circle cx="426.0" cy="604.8" r="5.7"/>
<circle cx="427.3" cy="585.9" r="5.7"/>
<circle cx="586.3" cy="554.9" r="5.7"/>
<circle cx="753.7" cy="608.6" r="5.7"/>
<circle cx="766.1" cy="606.0" r="5.7"/>
<circle cx="490.3" cy="587.8" r="5.7"/>
<circle cx="364.5" cy="575.8" r="5.7"/>
<circle cx="439.7" cy="587.7" r="5.7"/>
<circle cx="772.2" cy="586.7" r="5.7"/>
<circle cx="369.4" cy="566.5" r="5.7"/>
<circle cx="497.3" cy="576.2" r="5.7"/>
<circle cx="417.7" cy="586.7" r="5.7"/>
<circle cx="559.4" cy="554.6" r="5.7"/>
<circle cx="525.3" cy="600.9" r="5.7"/>
<circle cx="387.5" cy="593.3" r="5.7"/>
<circle cx="753.5" cy="638.7" r="5.7"/>
<circle cx="445.9" cy="577.6" r="5.7"/>
<circle cx="823.9" cy="595.6" r="5.7"/>
<circle cx="599.2" cy="599.1" r="5.7"/>
<circle cx="407.3" cy="565.4" r="5.7"/>
<circle cx="300.3" cy="633.8" r="5.7"/>
<circle cx="670.6" cy="569.2" r="5.7"/>
<circle cx="732.4" cy="581.3" r="5.7"/>
<circle cx="541.6" cy="604.7" r="5.7"/>
<circle cx="465.3" cy="588.8" r="5.7"/>
<circle cx="401.5" cy="571.6" r="5.7"/>
<circle cx="561.5" cy="578.0" r="5.7"/>
<circle cx="638.4" cy="591.9" r="5.7"/>
<circle cx="414.4" cy="598.3" r="5.7"/>
<circle cx="541.9" cy="580.7" r="5.7"/>
<circle cx="451.7" cy="584.7" r="5.7"/>
<circle cx="433.2" cy="583.7" r="5.7"/>
<circle cx="561.2" cy="628.1" r="5.7"/>
<circle cx="320.8" cy="581.2" r="5.7"/>
<circle cx="588.6" cy="549.9" r="5.7"/>
<circle cx="388.3" cy="582.0" r="5.7"/>
<circle cx="644.5" cy="581.7" r="5.7"/>
<circle cx="394.6" cy="611.9" r="5.7"/>
<circle cx="263.0" cy="630.1" r="5.7"/>
<circle cx="414.0" cy="581.6" r="5.7"/>
<circle cx="389.1" cy="556.8" r="5.7"/>
<circle cx="683.4" cy="606.7" r="5.7"/>
<circle cx="791.8" cy="576.8" r="5.7"/>
<circle cx="630.7" cy="590.9" r="5.7"/>
<circle cx="625.7" cy="554.1" r="5.7"/>
<circle cx="791.4" cy="552.0" r="5.7"/>
<circle cx="452.3" cy="569.1" r="5.7"/>
<circle cx="355.7" cy="537.4" r="5.7"/>
<circle cx="482.9" cy="591.5" r="5.7"/>
<circle cx="403.7" cy="549.3" r="5.7"/>
<circle cx="445.6" cy="606.4" r="5.7"/>
<circle cx="269.2" cy="640.7" r="5.7"/>
<circle cx="407.6" cy="599.6" r="5.7"/>
<circle cx="530.8" cy="552.4" r="5.7"/>
<circle cx="354.5" cy="561.3" r="5.7"/>
<circle cx="798.3" cy="572.2" r="5.7"/>
<circle cx="272.3" cy="636.7" r="5.7"/>
<circle cx="814.0" cy="625.3" r="5.7"/>
<circle cx="657.1" cy="567.8" r="5.7"/>
<circle cx="683.2" cy="635.2" r="5.7"/>
<circle cx="490.3" cy="560.2" r="5.7"/>
<circle cx="394.4" cy="610.8" r="5.7"/>
<circle cx="465.2" cy="509.6" r="5.7"/>
<circle cx="458.2" cy="611.5" r="5.7"/>
<circle cx="251.9" cy="651.5" r="5.7"/>
<circle cx="743.6" cy="608.3" r="5.7"/>
<circle cx="485.0" cy="581.8" r="5.7"/>
<circle cx="651.9" cy="594.8" r="5.7"/>
<circle cx="714.3" cy="638.0" r="5.7"/>
<circle cx="375.0" cy="566.4" r="5.7"/>
<circle cx="369.4" cy="568.8" r="5.7"/>
<circle cx="420.2" cy="620.3" r="5.7"/>
<circle cx="249.7" cy="674.2" r="5.7"/>
<circle cx="685.3" cy="558.1" r="5.7"/>
<circle cx="442.3" cy="610.3" r="5.7"/>
<circle cx="778.3" cy="594.0" r="5.7"/>
<circle cx="783.7" cy="596.2" r="5.7"/>
<circle cx="388.0" cy="606.0" r="5.7"/>
<circle cx="328.2" cy="576.0" r="5.7"/>
<circle cx="715.7" cy="586.2" r="5.7"/>
<circle cx="580.7" cy="558.9" r="5.7"/>
<circle cx="631.1" cy="568.0" r="5.7"/>
<circle cx="464.6" cy="489.6" r="5.7"/>
<circle cx="312.8" cy="577.5" r="5.7"/>
<circle cx="762.2" cy="591.0" r="5.7"/>
<circle cx="471.6" cy="553.5" r="5.7"/>
<circle cx="778.6" cy="570.6" r="5.7"/>
<circle cx="804.5" cy="618.0" r="5.7"/>
<circle cx="439.3" cy="610.3" r="5.7"/>
<circle cx="356.5" cy="575.9" r="5.7"/>
<circle cx="478.4" cy="604.2" r="5.7"/>
<circle cx="580.3" cy="602.2" r="5.7"/>
<circle cx="548.8" cy="576.7" r="5.7"/>
<circle cx="554.8" cy="565.6" r="5.7"/>
<circle cx="612.7" cy="588.1" r="5.7"/>
<circle cx="612.1" cy="586.7" r="5.7"/>
<circle cx="521.2" cy="616.6" r="5.7"/>
<circle cx="446.8" cy="577.6" r="5.7"/>
<circle cx="414.7" cy="601.8" r="5.7"/>
<circle cx="344.5" cy="603.8" r="5.7"/>
<circle cx="381.7" cy="567.9" r="5.7"/>
<circle cx="445.8" cy="597.0" r="5.7"/>
<circle cx="695.8" cy="595.4" r="5.7"/>
<circle cx="325.7" cy="612.4" r="5.7"/>
<circle cx="477.8" cy="587.3" r="5.7"/>
<circle cx="516.0" cy="561.4" r="5.7"/>
<circle cx="497.0" cy="582.0" r="5.7"/>
<circle cx="561.4" cy="585.1" r="5.7"/>
<circle cx="670.2" cy="602.2" r="5.7"/>
<circle cx="733.1" cy="613.7" r="5.7"/>
<circle cx="702.5" cy="599.5" r="5.7"/>
<circle cx="374.8" cy="553.0" r="5.7"/>
<circle cx="657.0" cy="530.7" r="5.7"/>
<circle cx="477.6" cy="598.8" r="5.7"/>
<circle cx="334.6" cy="599.9" r="5.7"/>
<circle cx="747.3" cy="578.9" r="5.7"/>
<circle cx="823.8" cy="617.7" r="5.7"/>
<circle cx="407.6" cy="595.9" r="5.7"/>
<circle cx="599.4" cy="572.1" r="5.7"/>
<circle cx="426.7" cy="544.2" r="5.7"/>
<circle cx="567.6" cy="571.9" r="5.7"/>
<circle cx="586.1" cy="614.3" r="5.7"/>
<circle cx="330.9" cy="522.5" r="5.7"/>
<circle cx="638.5" cy="570.2" r="5.7"/>
<circle cx="388.2" cy="580.9" r="5.7"/>
<circle cx="407.2" cy="555.6" r="5.7"/>
<circle cx="714.7" cy="619.3" r="5.7"/>
<circle cx="325.4" cy="554.7" r="5.7"/>
<circle cx="375.3" cy="571.6" r="5.7"/>
<circle cx="554.4" cy="610.1" r="5.7"/>
<circle cx="816.7" cy="582.0" r="5.7"/>
<circle cx="625.3" cy="550.0" r="5.7"/>
<circle cx="426.4" cy="557.2" r="5.7"/>
<circle cx="690.0" cy="560.9" r="5.7"/>
<circle cx="696.1" cy="562.1" r="5.7"/>
<circle cx="647.7" cy="596.1" r="5.7"/>
<circle cx="541.8" cy="603.9" r="5.7"/>
<circle cx="631.9" cy="570.1" r="5.7"/>
<circle cx="382.3" cy="552.5" r="5.7"/>
<circle cx="388.5" cy="575.5" r="5.7"/>
<circle cx="673.9" cy="589.8" r="5.7"/>
<circle cx="738.3" cy="584.8" r="5.7"/>
<circle cx="689.7" cy="573.2" r="5.7"/>
<circle cx="484.2" cy="528.8" r="5.7"/>
<circle cx="612.3" cy="582.8" r="5.7"/>
<circle cx="570.3" cy="609.8" r="5.7"/>
<circle cx="760.2" cy="610.8" r="5.7"/>
<circle cx="751.1" cy="625.4" r="5.7"/>
<circle cx="503.5" cy="560.8" r="5.7"/>
<circle cx="669.9" cy="571.2" r="5.7"/>
<circle cx="426.2" cy="595.3" r="5.7"/>
<circle cx="548.9" cy="635.5" r="5.7"/>
<circle cx="708.1" cy="576.9" r="5.7"/>
<circle cx="340.1" cy="557.8" r="5.7"/>
<circle cx="454.9" cy="537.2" r="5.7"/>
<circle cx="432.8" cy="574.0" r="5.7"/>
<circle cx="562.7" cy="582.3" r="5.7"/>
<circle cx="445.9" cy="586.1" r="5.7"/>
<circle cx="555.3" cy="615.1" r="5.7"/>
<circle cx="707.5" cy="571.8" r="5.7"/>
<circle cx="759.9" cy="613.1" r="5.7"/>
<circle cx="492.9" cy="577.1" r="5.7"/>
<circle cx="606.2" cy="564.3" r="5.7"/>
<circle cx="484.3" cy="558.6" r="5.7"/>
<circle cx="657.4" cy="564.2" r="5.7"/>
<circle cx="663.9" cy="574.2" r="5.7"/>
<circle cx="619.7" cy="592.1" r="5.7"/>
<circle cx="522.3" cy="556.4" r="5.7"/>
<circle cx="695.2" cy="532.6" r="5.7"/>
<circle cx="663.6" cy="570.9" r="5.7"/>
<circle cx="670.5" cy="604.6" r="5.7"/>
<circle cx="499.5" cy="596.2" r="5.7"/>
<circle cx="612.3" cy="553.8" r="5.7"/>
<circle cx="504.0" cy="618.6" r="5.7"/>
<circle cx="708.6" cy="607.9" r="5.7"/>
<circle cx="381.8" cy="586.0" r="5.7"/>
<circle cx="688.9" cy="619.4" r="5.7"/>
<circle cx="433.3" cy="568.7" r="5.7"/>
<circle cx="489.8" cy="523.2" r="5.7"/>
<circle cx="624.8" cy="560.8" r="5.7"/>
<circle cx="349.9" cy="512.5" r="5.7"/>
<circle cx="340.7" cy="636.4" r="5.7"/>
<circle cx="624.4" cy="568.3" r="5.7"/>
<circle cx="605.3" cy="588.6" r="5.7"/>
<circle cx="637.6" cy="536.8" r="5.7"/>
<circle cx="823.9" cy="612.4" r="5.7"/>
<circle cx="535.3" cy="595.3" r="5.7"/>
<circle cx="484.7" cy="585.2" r="5.7"/>
<circle cx="547.7" cy="573.1" r="5.7"/>
<circle cx="490.6" cy="556.0" r="5.7"/>
<circle cx="420.6" cy="590.8" r="5.7"/>
<circle cx="395.0" cy="590.0" r="5.7"/>
<circle cx="787.2" cy="592.0" r="5.7"/>
<circle cx="631.0" cy="597.1" r="5.7"/>
<circle cx="772.7" cy="606.9" r="5.7"/>
<circle cx="347.5" cy="598.6" r="5.7"/>
<circle cx="439.0" cy="512.6" r="5.7"/>
<circle cx="593.7" cy="563.7" r="5.7"/>
<circle cx="645.4" cy="590.1" r="5.7"/>
<circle cx="471.3" cy="561.2" r="5.7"/>
<circle cx="458.4" cy="556.2" r="5.7"/>
<circle cx="295.1" cy="635.8" r="5.7"/>
<circle cx="465.3" cy="585.7" r="5.7"/>
<circle cx="318.0" cy="550.5" r="5.7"/>
<circle cx="445.6" cy="586.0" r="5.7"/>
<circle cx="618.2" cy="556.7" r="5.7"/>
<circle cx="425.2" cy="577.0" r="5.7"/>
<circle cx="422.8" cy="605.1" r="5.7"/>
<circle cx="291.2" cy="587.5" r="5.7"/>
<circle cx="358.9" cy="597.8" r="5.7"/>
<circle cx="791.9" cy="594.8" r="5.7"/>
<circle cx="727.6" cy="596.3" r="5.7"/>
<circle cx="727.6" cy="613.2" r="5.7"/>
<circle cx="490.2" cy="559.2" r="5.7"/>
<circle cx="325.1" cy="572.7" r="5.7"/>
<circle cx="833.6" cy="652.5" r="5.7"/>
<circle cx="547.5" cy="614.4" r="5.7"/>
<circle cx="523.4" cy="570.0" r="5.7"/>
<circle cx="412.7" cy="560.1" r="5.7"/>
<circle cx="323.8" cy="587.7" r="5.7"/>
<circle cx="340.8" cy="586.7" r="5.7"/>
<circle cx="715.4" cy="554.0" r="5.7"/>
<circle cx="368.4" cy="612.7" r="5.7"/>
<circle cx="459.1" cy="584.2" r="5.7"/>
<circle cx="348.9" cy="533.7" r="5.7"/>
<circle cx="426.3" cy="611.1" r="5.7"/>
<circle cx="464.6" cy="575.1" r="5.7"/>
<circle cx="612.5" cy="571.1" r="5.7"/>
<circle cx="478.2" cy="576.3" r="5.7"/>
<circle cx="445.4" cy="569.5" r="5.7"/>
<circle cx="823.7" cy="598.7" r="5.7"/>
<circle cx="639.0" cy="589.3" r="5.7"/>
<circle cx="593.3" cy="571.7" r="5.7"/>
<circle cx="644.4" cy="546.2" r="5.7"/>
<circle cx="644.2" cy="580.0" r="5.7"/>
<circle cx="669.8" cy="562.1" r="5.7"/>
<circle cx="650.9" cy="537.8" r="5.7"/>
<circle cx="417.5" cy="582.9" r="5.7"/>
<circle cx="759.7" cy="587.8" r="5.7"/>
<circle cx="712.6" cy="617.6" r="5.7"/>
<circle cx="503.8" cy="577.4" r="5.7"/>
<circle cx="811.0" cy="629.3" r="5.7"/>
<circle cx="613.1" cy="623.9" r="5.7"/>
<circle cx="497.5" cy="558.7" r="5.7"/>
<circle cx="624.9" cy="578.0" r="5.7"/>
<circle cx="619.1" cy="594.9" r="5.7"/>
<circle cx="292.5" cy="602.9" r="5.7"/>
<circle cx="688.9" cy="576.2" r="5.7"/>
<circle cx="294.2" cy="625.5" r="5.7"/>
<circle cx="708.3" cy="604.0" r="5.7"/>
<circle cx="638.1" cy="551.1" r="5.7"/>
<circle cx="295.4" cy="594.1" r="5.7"/>
<circle cx="358.3" cy="567.5" r="5.7"/>
<circle cx="441.4" cy="582.9" r="5.7"/>
<circle cx="651.7" cy="577.6" r="5.7"/>
<circle cx="593.3" cy="578.6" r="5.7"/>
<circle cx="382.5" cy="601.5" r="5.7"/>
<circle cx="453.1" cy="528.0" r="5.7"/>
<circle cx="631.9" cy="603.4" r="5.7"/>
<circle cx="420.3" cy="527.4" r="5.7"/>
<circle cx="414.3" cy="541.0" r="5.7"/>
<circle cx="785.0" cy="578.0" r="5.7"/>
<circle cx="464.3" cy="561.2" r="5.7"/>
<circle cx="740.0" cy="595.9" r="5.7"/>
<circle cx="503.8" cy="573.2" r="5.7"/>
<circle cx="497.4" cy="572.8" r="5.7"/>
<circle cx="721.0" cy="608.9" r="5.7"/>
<circle cx="561.4" cy="567.9" r="5.7"/>
<circle cx="497.4" cy="594.5" r="5.7"/>
<circle cx="809.7" cy="591.9" r="5.7"/>
<circle cx="414.0" cy="585.7" r="5.7"/>
<circle cx="612.2" cy="553.4" r="5.7"/>
<circle cx="397.8" cy="582.5" r="5.7"/>
<circle cx="663.5" cy="589.2" r="5.7"/>
<circle cx="573.9" cy="588.4" r="5.7"/>
<circle cx="554.1" cy="591.9" r="5.7"/>
<circle cx="381.6" cy="612.2" r="5.7"/>
<circle cx="464.1" cy="589.4" r="5.7"/>
<circle cx="458.4" cy="573.4" r="5.7"/>
<circle cx="592.7" cy="605.1" r="5.7"/>
<circle cx="721.7" cy="570.7" r="5.7"/>
<circle cx="516.5" cy="583.4" r="5.7"/>
<circle cx="445.8" cy="554.8" r="5.7"/>
<circle cx="604.4" cy="578.9" r="5.7"/>
<circle cx="638.1" cy="550.0" r="5.7"/>
<circle cx="721.1" cy="587.9" r="5.7"/>
<circle cx="346.3" cy="601.9" r="5.7"/>
<circle cx="849.1" cy="618.7" r="5.7"/>
<circle cx="419.5" cy="583.5" r="5.7"/>
<circle cx="734.3" cy="607.9" r="5.7"/>
<circle cx="580.3" cy="578.4" r="5.7"/>
<circle cx="357.4" cy="604.1" r="5.7"/>
<circle cx="325.5" cy="625.1" r="5.7"/>
<circle cx="427.1" cy="547.7" r="5.7"/>
<circle cx="464.8" cy="603.6" r="5.7"/>
<circle cx="414.2" cy="577.5" r="5.7"/>
<circle cx="593.6" cy="580.8" r="5.7"/>
<circle cx="478.4" cy="569.8" r="5.7"/>
<circle cx="528.6" cy="545.1" r="5.7"/>
<circle cx="711.8" cy="587.2" r="5.7"/>
<circle cx="394.9" cy="550.9" r="5.7"/>
<circle cx="376.5" cy="572.6" r="5.7"/>
<circle cx="535.6" cy="574.4" r="5.7"/>
<circle cx="548.8" cy="577.8" r="5.7"/>
<circle cx="437.8" cy="547.4" r="5.7"/>
<circle cx="564.9" cy="582.5" r="5.7"/>
<circle cx="484.1" cy="577.2" r="5.7"/>
<circle cx="548.2" cy="569.0" r="5.7"/>
<circle cx="612.5" cy="611.2" r="5.7"/>
<circle cx="663.5" cy="578.6" r="5.7"/>
<circle cx="472.2" cy="551.4" r="5.7"/>
<circle cx="765.5" cy="597.8" r="5.7"/>
<circle cx="739.7" cy="577.3" r="5.7"/>
<circle cx="560.9" cy="562.0" r="5.7"/>
<circle cx="612.2" cy="614.6" r="5.7"/>
<circle cx="586.8" cy="553.1" r="5.7"/>
<circle cx="414.1" cy="593.1" r="5.7"/>
<circle cx="528.8" cy="570.0" r="5.7"/>
<circle cx="618.3" cy="601.9" r="5.7"/>
<circle cx="446.1" cy="576.2" r="5.7"/>
<circle cx="657.2" cy="614.1" r="5.7"/>
<circle cx="580.2" cy="577.9" r="5.7"/>
<circle cx="388.6" cy="555.8" r="5.7"/>
<circle cx="433.2" cy="564.0" r="5.7"/>
<circle cx="333.5" cy="608.3" r="5.7"/>
<circle cx="419.5" cy="609.9" r="5.7"/>
<circle cx="440.0" cy="594.7" r="5.7"/>
<circle cx="510.5" cy="581.6" r="5.7"/>
<circle cx="624.8" cy="576.4" r="5.7"/>
<circle cx="803.9" cy="616.3" r="5.7"/>
<circle cx="772.8" cy="572.3" r="5.7"/>
<circle cx="554.9" cy="599.5" r="5.7"/>
<circle cx="465.4" cy="564.5" r="5.7"/>
<circle cx="381.8" cy="529.9" r="5.7"/>
<circle cx="439.4" cy="607.0" r="5.7"/>
<circle cx="334.9" cy="558.4" r="5.7"/>
<circle cx="792.0" cy="619.9" r="5.7"/>
<circle cx="355.5" cy="575.4" r="5.7"/>
<circle cx="798.5" cy="609.5" r="5.7"/>
<circle cx="510.5" cy="599.2" r="5.7"/>
<circle cx="816.8" cy="610.8" r="5.7"/>
<circle cx="730.8" cy="604.5" r="5.7"/>
<circle cx="779.4" cy="601.3" r="5.7"/>
<circle cx="477.6" cy="589.1" r="5.7"/>
<circle cx="401.1" cy="563.3" r="5.7"/>
<circle cx="708.9" cy="619.7" r="5.7"/>
<circle cx="445.9" cy="601.0" r="5.7"/>
<circle cx="740.2" cy="575.2" r="5.7"/>
<circle cx="772.3" cy="600.2" r="5.7"/>
<circle cx="426.9" cy="587.4" r="5.7"/>
<circle cx="802.6" cy="615.9" r="5.7"/>
<circle cx="555.0" cy="599.3" r="5.7"/>
<circle cx="723.9" cy="582.6" r="5.7"/>
<circle cx="586.6" cy="593.8" r="5.7"/>
<circle cx="485.0" cy="619.8" r="5.7"/>
<circle cx="638.9" cy="568.5" r="5.7"/>
<circle cx="650.9" cy="579.3" r="5.7"/>
<circle cx="542.0" cy="602.9" r="5.7"/>
<circle cx="477.8" cy="591.1" r="5.7"/>
<circle cx="458.5" cy="564.2" r="5.7"/>
<circle cx="637.6" cy="558.7" r="5.7"/>
<circle cx="707.9" cy="601.2" r="5.7"/>
<circle cx="283.6" cy="636.6" r="5.7"/>
<circle cx="433.3" cy="553.3" r="5.7"/>
<circle cx="535.0" cy="599.7" r="5.7"/>
<circle cx="759.7" cy="609.1" r="5.7"/>
<circle cx="282.5" cy="613.5" r="5.7"/>
<circle cx="363.9" cy="540.4" r="5.7"/>
<circle cx="714.5" cy="575.1" r="5.7"/>
<circle cx="426.3" cy="590.0" r="5.7"/>
<circle cx="442.1" cy="562.5" r="5.7"/>
<circle cx="810.6" cy="610.8" r="5.7"/>
<circle cx="431.6" cy="583.9" r="5.7"/>
<circle cx="702.0" cy="592.4" r="5.7"/>
<circle cx="586.9" cy="613.6" r="5.7"/>
<circle cx="325.2" cy="623.0" r="5.7"/>
<circle cx="433.4" cy="600.5" r="5.7"/>
<circle cx="407.1" cy="519.2" r="5.7"/>
<circle cx="624.9" cy="587.9" r="5.7"/>
<circle cx="632.1" cy="583.1" r="5.7"/>
<circle cx="510.1" cy="560.4" r="5.7"/>
<circle cx="261.1" cy="642.6" r="5.7"/>
<circle cx="510.4" cy="595.1" r="5.7"/>
<circle cx="510.2" cy="582.0" r="5.7"/>
<circle cx="510.1" cy="585.1" r="5.7"/>
<circle cx="535.6" cy="586.2" r="5.7"/>
<circle cx="679.2" cy="604.1" r="5.7"/>
<circle cx="452.6" cy="582.0" r="5.7"/>
<circle cx="824.1" cy="626.8" r="5.7"/>
<circle cx="593.6" cy="604.7" r="5.7"/>
<circle cx="772.3" cy="635.4" r="5.7"/>
<circle cx="804.2" cy="607.9" r="5.7"/>
<circle cx="382.4" cy="607.5" r="5.7"/>
<circle cx="568.2" cy="602.6" r="5.7"/>
<circle cx="388.5" cy="548.3" r="5.7"/>
<circle cx="740.2" cy="597.9" r="5.7"/>
<circle cx="586.6" cy="557.0" r="5.7"/>
<circle cx="661.0" cy="554.2" r="5.7"/>
<circle cx="682.5" cy="612.2" r="5.7"/>
<circle cx="320.4" cy="603.0" r="5.7"/>
<circle cx="375.1" cy="580.4" r="5.7"/>
<circle cx="402.0" cy="513.6" r="5.7"/>
<circle cx="370.0" cy="559.7" r="5.7"/>
<circle cx="278.5" cy="623.0" r="5.7"/>
<circle cx="612.3" cy="611.4" r="5.7"/>
<circle cx="477.8" cy="544.8" r="5.7"/>
<circle cx="490.8" cy="565.0" r="5.7"/>
<circle cx="814.6" cy="579.7" r="5.7"/>
<circle cx="721.1" cy="599.5" r="5.7"/>
<circle cx="600.3" cy="568.5" r="5.7"/>
<circle cx="548.3" cy="600.5" r="5.7"/>
<circle cx="295.5" cy="576.9" r="5.7"/>
<circle cx="380.9" cy="569.6" r="5.7"/>
<circle cx="554.8" cy="574.3" r="5.7"/>
<circle cx="574.5" cy="568.3" r="5.7"/>
<circle cx="567.4" cy="558.4" r="5.7"/>
<circle cx="299.4" cy="598.9" r="5.7"/>
<circle cx="491.1" cy="583.6" r="5.7"/>
<circle cx="804.8" cy="596.7" r="5.7"/>
<circle cx="733.3" cy="614.2" r="5.7"/>
<circle cx="306.5" cy="588.0" r="5.7"/>
<circle cx="567.3" cy="583.6" r="5.7"/>
<circle cx="404.9" cy="622.5" r="5.7"/>
<circle cx="256.3" cy="670.7" r="5.7"/>
<circle cx="361.6" cy="476.9" r="5.7"/>
<circle cx="335.9" cy="569.0" r="5.7"/>
<circle cx="728.4" cy="607.6" r="5.7"/>
<circle cx="670.6" cy="577.5" r="5.7"/>
<circle cx="509.9" cy="586.3" r="5.7"/>
<circle cx="342.5" cy="603.8" r="5.7"/>
<circle cx="576.5" cy="476.3" r="5.7"/>
<circle cx="267.6" cy="647.0" r="5.7"/>
<circle cx="381.7" cy="554.3" r="5.7"/>
<circle cx="382.2" cy="587.4" r="5.7"/>
<circle cx="676.0" cy="583.1" r="5.7"/>
<circle cx="452.7" cy="597.4" r="5.7"/>
<circle cx="561.5" cy="589.5" r="5.7"/>
<circle cx="720.9" cy="549.5" r="5.7"/>
<circle cx="619.0" cy="577.0" r="5.7"/>
<circle cx="861.7" cy="608.2" r="5.7"/>
<circle cx="701.5" cy="599.6" r="5.7"/>
<circle cx="407.9" cy="617.0" r="5.7"/>
<circle cx="359.1" cy="545.0" r="5.7"/>
<circle cx="490.7" cy="588.5" r="5.7"/>
<circle cx="509.4" cy="560.5" r="5.7"/>
<circle cx="528.9" cy="585.7" r="5.7"/>
<circle cx="747.0" cy="590.5" r="5.7"/>
<circle cx="419.8" cy="563.8" r="5.7"/>
<circle cx="699.0" cy="603.6" r="5.7"/>
<circle cx="663.7" cy="582.3" r="5.7"/>
<circle cx="468.6" cy="569.9" r="5.7"/>
<circle cx="516.4" cy="584.9" r="5.7"/>
<circle cx="446.1" cy="576.9" r="5.7"/>
<circle cx="452.3" cy="605.2" r="5.7"/>
<circle cx="444.8" cy="571.1" r="5.7"/>
<circle cx="741.1" cy="589.9" r="5.7"/>
<circle cx="367.3" cy="598.4" r="5.7"/>
<circle cx="842.6" cy="624.1" r="5.7"/>
<circle cx="523.1" cy="600.6" r="5.7"/>
<circle cx="676.9" cy="582.5" r="5.7"/>
<circle cx="268.7" cy="638.2" r="5.7"/>
<circle cx="765.9" cy="640.4" r="5.7"/>
<circle cx="573.9" cy="524.5" r="5.7"/>
<circle cx="322.4" cy="570.2" r="5.7"/>
<circle cx="747.1" cy="612.9" r="5.7"/>
<circle cx="702.2" cy="608.2" r="5.7"/>
<circle cx="484.1" cy="589.5" r="5.7"/>
<circle cx="426.7" cy="593.8" r="5.7"/>
<circle cx="746.8" cy="600.6" r="5.7"/>
<circle cx="669.6" cy="544.1" r="5.7"/>
<circle cx="555.0" cy="560.0" r="5.7"/>
<circle cx="529.2" cy="614.8" r="5.7"/>
<circle cx="375.6" cy="587.0" r="5.7"/>
<circle cx="580.5" cy="571.9" r="5.7"/>
<circle cx="811.4" cy="617.6" r="5.7"/>
<circle cx="388.3" cy="597.8" r="5.7"/>
<circle cx="676.2" cy="586.1" r="5.7"/>
<circle cx="759.5" cy="627.8" r="5.7"/>
<circle cx="433.6" cy="578.7" r="5.7"/>
<circle cx="356.7" cy="584.0" r="5.7"/>
<circle cx="528.8" cy="569.1" r="5.7"/>
<circle cx="702.2" cy="617.7" r="5.7"/>
<circle cx="675.9" cy="584.0" r="5.7"/>
<circle cx="394.1" cy="559.0" r="5.7"/>
<circle cx="311.0" cy="602.2" r="5.7"/>
<circle cx="682.6" cy="593.6" r="5.7"/>
<circle cx="472.0" cy="558.7" r="5.7"/>
<circle cx="387.1" cy="611.8" r="5.7"/>
<circle cx="317.8" cy="528.9" r="5.7"/>
<circle cx="439.5" cy="602.0" r="5.7"/>
<circle cx="543.9" cy="520.2" r="5.7"/>
<circle cx="433.1" cy="575.9" r="5.7"/>
<circle cx="338.7" cy="532.8" r="5.7"/>
<circle cx="328.6" cy="586.1" r="5.7"/>
<circle cx="574.1" cy="560.3" r="5.7"/>
<circle cx="302.6" cy="573.8" r="5.7"/>
<circle cx="623.8" cy="598.9" r="5.7"/>
<circle cx="515.5" cy="607.2" r="5.7"/>
<circle cx="432.7" cy="611.6" r="5.7"/>
<circle cx="407.6" cy="603.0" r="5.7"/>
<circle cx="612.3" cy="554.1" r="5.7"/>
<circle cx="657.4" cy="590.2" r="5.7"/>
<circle cx="785.4" cy="574.2" r="5.7"/>
<circle cx="612.6" cy="584.2" r="5.7"/>
<circle cx="291.1" cy="603.7" r="5.7"/>
<circle cx="312.9" cy="617.9" r="5.7"/>
<circle cx="555.0" cy="559.8" r="5.7"/>
<circle cx="795.9" cy="609.4" r="5.7"/>
<circle cx="528.9" cy="609.6" r="5.7"/>
<circle cx="375.5" cy="559.7" r="5.7"/>
<circle cx="446.2" cy="589.0" r="5.7"/>
<circle cx="561.4" cy="586.7" r="5.7"/>
<circle cx="674.8" cy="599.2" r="5.7"/>
<circle cx="810.6" cy="619.2" r="5.7"/>
<circle cx="593.7" cy="573.9" r="5.7"/>
<circle cx="791.8" cy="601.4" r="5.7"/>
<circle cx="602.7" cy="571.6" r="5.7"/>
<circle cx="765.8" cy="574.2" r="5.7"/>
<circle cx="541.7" cy="579.8" r="5.7"/>
<circle cx="586.8" cy="559.8" r="5.7"/>
<circle cx="503.2" cy="574.7" r="5.7"/>
<circle cx="452.6" cy="583.0" r="5.7"/>
<circle cx="708.0" cy="614.6" r="5.7"/>
<circle cx="838.3" cy="625.3" r="5.7"/>
<circle cx="395.0" cy="629.8" r="5.7"/>
<circle cx="401.1" cy="595.5" r="5.7"/>
<circle cx="414.0" cy="571.7" r="5.7"/>
<circle cx="414.0" cy="596.9" r="5.7"/>
<circle cx="529.0" cy="610.3" r="5.7"/>
<circle cx="682.9" cy="612.2" r="5.7"/>
<circle cx="605.4" cy="603.5" r="5.7"/>
<circle cx="747.0" cy="576.9" r="5.7"/>
<circle cx="770.0" cy="570.3" r="5.7"/>
<circle cx="433.1" cy="565.1" r="5.7"/>
<circle cx="548.9" cy="555.8" r="5.7"/>
<circle cx="567.0" cy="572.5" r="5.7"/>
<circle cx="503.3" cy="565.7" r="5.7"/>
<circle cx="621.9" cy="565.7" r="5.7"/>
<circle cx="285.2" cy="626.3" r="5.7"/>
<circle cx="702.2" cy="615.3" r="5.7"/>
<circle cx="542.0" cy="584.1" r="5.7"/>
<circle cx="669.6" cy="594.8" r="5.7"/>
<circle cx="465.3" cy="576.1" r="5.7"/>
<circle cx="566.8" cy="580.0" r="5.7"/>
<circle cx="658.8" cy="605.5" r="5.7"/>
<circle cx="713.1" cy="620.8" r="5.7"/>
<circle cx="612.7" cy="560.9" r="5.7"/>
<circle cx="420.4" cy="568.3" r="5.7"/>
<circle cx="318.2" cy="570.4" r="5.7"/>
<circle cx="427.3" cy="581.5" r="5.7"/>
<circle cx="784.5" cy="590.7" r="5.7"/>
<circle cx="497.0" cy="583.1" r="5.7"/>
<circle cx="638.0" cy="553.2" r="5.7"/>
<circle cx="375.2" cy="583.4" r="5.7"/>
<circle cx="560.6" cy="580.8" r="5.7"/>
<circle cx="810.5" cy="569.7" r="5.7"/>
<circle cx="402.1" cy="582.2" r="5.7"/>
<circle cx="746.8" cy="604.6" r="5.7"/>
<circle cx="528.6" cy="616.7" r="5.7"/>
<circle cx="771.8" cy="595.4" r="5.7"/>
<circle cx="731.9" cy="593.3" r="5.7"/>
<circle cx="695.5" cy="575.8" r="5.7"/>
<circle cx="492.0" cy="579.2" r="5.7"/>
<circle cx="407.2" cy="538.5" r="5.7"/>
<circle cx="597.9" cy="575.3" r="5.7"/>
<circle cx="341.5" cy="554.6" r="5.7"/>
<circle cx="625.6" cy="567.1" r="5.7"/>
<circle cx="362.1" cy="485.1" r="5.7"/>
<circle cx="375.5" cy="593.3" r="5.7"/>
<circle cx="689.7" cy="598.6" r="5.7"/>
<circle cx="451.9" cy="604.3" r="5.7"/>
<circle cx="314.0" cy="548.5" r="5.7"/>
<circle cx="510.2" cy="550.8" r="5.7"/>
<circle cx="797.9" cy="588.6" r="5.7"/>
<circle cx="459.1" cy="587.5" r="5.7"/>
<circle cx="672.7" cy="592.5" r="5.7"/>
<circle cx="803.7" cy="599.0" r="5.7"/>
<circle cx="605.7" cy="548.4" r="5.7"/>
<circle cx="452.1" cy="595.7" r="5.7"/>
<circle cx="369.1" cy="580.3" r="5.7"/>
<circle cx="509.9" cy="612.5" r="5.7"/>
<circle cx="561.3" cy="592.5" r="5.7"/>
<circle cx="725.3" cy="604.2" r="5.7"/>
<circle cx="388.7" cy="581.1" r="5.7"/>
<circle cx="338.2" cy="570.1" r="5.7"/>
<circle cx="541.9" cy="600.2" r="5.7"/>
<circle cx="401.3" cy="602.6" r="5.7"/>
<circle cx="682.7" cy="583.7" r="5.7"/>
<circle cx="701.9" cy="595.8" r="5.7"/>
<circle cx="804.2" cy="610.2" r="5.7"/>
<circle cx="655.2" cy="563.0" r="5.7"/>
<circle cx="696.8" cy="602.9" r="5.7"/>
<circle cx="427.2" cy="543.0" r="5.7"/>
<circle cx="562.1" cy="557.7" r="5.7"/>
<circle cx="388.7" cy="513.7" r="5.7"/>
<circle cx="624.0" cy="540.2" r="5.7"/>
<circle cx="543.5" cy="549.7" r="5.7"/>
<circle cx="519.3" cy="557.2" r="5.7"/>
<circle cx="529.1" cy="586.5" r="5.7"/>
<circle cx="797.8" cy="584.7" r="5.7"/>
<circle cx="778.0" cy="616.8" r="5.7"/>
<circle cx="471.8" cy="520.5" r="5.7"/>
<circle cx="619.2" cy="530.1" r="5.7"/>
<circle cx="766.0" cy="606.6" r="5.7"/>
<circle cx="506.8" cy="580.0" r="5.7"/>
<circle cx="631.8" cy="590.7" r="5.7"/>
<circle cx="440.6" cy="587.2" r="5.7"/>
<circle cx="548.6" cy="561.2" r="5.7"/>
<circle cx="779.1" cy="615.4" r="5.7"/>
<circle cx="785.0" cy="607.3" r="5.7"/>
<circle cx="483.9" cy="575.3" r="5.7"/>
<circle cx="728.5" cy="616.2" r="5.7"/>
<circle cx="733.7" cy="582.6" r="5.7"/>
<circle cx="432.6" cy="579.3" r="5.7"/>
<circle cx="811.3" cy="614.4" r="5.7"/>
<circle cx="842.6" cy="608.2" r="5.7"/>
<circle cx="625.5" cy="576.3" r="5.7"/>
<circle cx="382.8" cy="552.4" r="5.7"/>
<circle cx="401.1" cy="599.7" r="5.7"/>
<circle cx="313.7" cy="576.8" r="5.7"/>
<circle cx="765.8" cy="627.8" r="5.7"/>
<circle cx="381.9" cy="566.8" r="5.7"/>
<circle cx="740.3" cy="562.8" r="5.7"/>
<circle cx="445.9" cy="558.7" r="5.7"/>
<circle cx="464.1" cy="575.4" r="5.7"/>
<circle cx="625.0" cy="571.7" r="5.7"/>
<circle cx="548.2" cy="608.9" r="5.7"/>
<circle cx="701.8" cy="577.9" r="5.7"/>
<circle cx="715.0" cy="598.8" r="5.7"/>
<circle cx="403.9" cy="588.5" r="5.7"/>
<circle cx="707.2" cy="560.8" r="5.7"/>
<circle cx="458.7" cy="614.1" r="5.7"/>
<circle cx="465.9" cy="582.9" r="5.7"/>
<circle cx="529.6" cy="537.4" r="5.7"/>
<circle cx="682.6" cy="620.6" r="5.7"/>
<circle cx="736.4" cy="598.2" r="5.7"/>
<circle cx="446.3" cy="588.3" r="5.7"/>
<circle cx="758.8" cy="609.8" r="5.7"/>
<circle cx="541.9" cy="598.4" r="5.7"/>
<circle cx="737.7" cy="591.7" r="5.7"/>
<circle cx="348.0" cy="509.1" r="5.7"/>
<circle cx="625.1" cy="557.3" r="5.7"/>
<circle cx="734.1" cy="584.2" r="5.7"/>
<circle cx="452.7" cy="597.5" r="5.7"/>
<circle cx="285.8" cy="606.0" r="5.7"/>
<circle cx="548.9" cy="575.2" r="5.7"/>
<circle cx="522.7" cy="578.7" r="5.7"/>
<circle cx="452.2" cy="602.6" r="5.7"/>
<circle cx="682.3" cy="607.9" r="5.7"/>
<circle cx="458.9" cy="576.5" r="5.7"/>
<circle cx="746.6" cy="604.8" r="5.7"/>
<circle cx="509.8" cy="567.7" r="5.7"/>
<circle cx="631.7" cy="556.2" r="5.7"/>
<circle cx="760.1" cy="611.7" r="5.7"/>
<circle cx="523.0" cy="609.3" r="5.7"/>
<circle cx="503.4" cy="557.5" r="5.7"/>
<circle cx="344.7" cy="606.0" r="5.7"/>
<circle cx="671.5" cy="584.2" r="5.7"/>
<circle cx="785.7" cy="625.0" r="5.7"/>
<circle cx="481.3" cy="586.0" r="5.7"/>
<circle cx="342.9" cy="586.7" r="5.7"/>
<circle cx="420.1" cy="578.8" r="5.7"/>
<circle cx="515.8" cy="566.2" r="5.7"/>
<circle cx="548.3" cy="593.0" r="5.7"/>
<circle cx="631.3" cy="590.5" r="5.7"/>
<circle cx="808.3" cy="586.2" r="5.7"/>
<circle cx="542.0" cy="567.0" r="5.7"/>
<circle cx="375.2" cy="622.1" r="5.7"/>
<circle cx="336.2" cy="563.7" r="5.7"/>
<circle cx="817.1" cy="616.5" r="5.7"/>
<circle cx="587.0" cy="577.5" r="5.7"/>
<circle cx="613.1" cy="578.1" r="5.7"/>
<circle cx="534.8" cy="576.4" r="5.7"/>
<circle cx="413.7" cy="613.2" r="5.7"/>
<circle cx="414.8" cy="586.6" r="5.7"/>
<circle cx="387.4" cy="590.8" r="5.7"/>
<circle cx="561.2" cy="549.8" r="5.7"/>
<circle cx="516.5" cy="544.6" r="5.7"/>
<circle cx="785.6" cy="603.8" r="5.7"/>
<circle cx="651.0" cy="537.6" r="5.7"/>
<circle cx="394.3" cy="598.4" r="5.7"/>
<circle cx="734.1" cy="587.3" r="5.7"/>
<circle cx="599.6" cy="541.8" r="5.7"/>
<circle cx="683.1" cy="581.7" r="5.7"/>
<circle cx="644.0" cy="605.5" r="5.7"/>
<circle cx="432.1" cy="557.3" r="5.7"/>
<circle cx="459.1" cy="600.2" r="5.7"/>
<circle cx="413.7" cy="586.2" r="5.7"/>
<circle cx="740.6" cy="595.7" r="5.7"/>
<circle cx="388.7" cy="581.7" r="5.7"/>
<circle cx="329.5" cy="592.3" r="5.7"/>
<circle cx="599.7" cy="590.7" r="5.7"/>
<circle cx="618.1" cy="593.4" r="5.7"/>
<circle cx="375.6" cy="604.8" r="5.7"/>
<circle cx="535.8" cy="597.1" r="5.7"/>
<circle cx="446.1" cy="581.5" r="5.7"/>
<circle cx="529.4" cy="598.6" r="5.7"/>
<circle cx="814.7" cy="607.3" r="5.7"/>
<circle cx="754.0" cy="605.7" r="5.7"/>
<circle cx="384.9" cy="575.9" r="5.7"/>
<circle cx="342.5" cy="575.5" r="5.7"/>
<circle cx="525.1" cy="586.9" r="5.7"/>
<circle cx="753.3" cy="590.6" r="5.7"/>
<circle cx="360.6" cy="591.5" r="5.7"/>
<circle cx="426.5" cy="597.3" r="5.7"/>
<circle cx="445.9" cy="597.4" r="5.7"/>
<circle cx="662.1" cy="565.4" r="5.7"/>
<circle cx="731.0" cy="583.3" r="5.7"/>
<circle cx="618.8" cy="552.5" r="5.7"/>
<circle cx="320.0" cy="576.1" r="5.7"/>
<circle cx="484.2" cy="574.9" r="5.7"/>
<circle cx="689.5" cy="606.9" r="5.7"/>
<circle cx="690.5" cy="597.8" r="5.7"/>
<circle cx="312.3" cy="570.8" r="5.7"/>
<circle cx="473.9" cy="576.5" r="5.7"/>
<circle cx="541.7" cy="571.2" r="5.7"/>
<circle cx="824.2" cy="596.8" r="5.7"/>
<circle cx="765.9" cy="605.9" r="5.7"/>
<circle cx="400.9" cy="568.7" r="5.7"/>
<circle cx="746.4" cy="595.3" r="5.7"/>
<circle cx="432.9" cy="582.4" r="5.7"/>
<circle cx="341.7" cy="594.0" r="5.7"/>
<circle cx="798.1" cy="593.0" r="5.7"/>
<circle cx="504.2" cy="587.7" r="5.7"/>
<circle cx="540.1" cy="602.7" r="5.7"/>
<circle cx="314.8" cy="562.2" r="5.7"/>
<circle cx="676.0" cy="597.8" r="5.7"/>
<circle cx="478.3" cy="566.1" r="5.7"/>
<circle cx="702.2" cy="570.7" r="5.7"/>
<circle cx="432.8" cy="601.3" r="5.7"/>
<circle cx="586.9" cy="596.7" r="5.7"/>
<circle cx="668.8" cy="619.5" r="5.7"/>
<circle cx="391.8" cy="577.3" r="5.7"/>
<circle cx="421.4" cy="598.8" r="5.7"/>
<circle cx="766.7" cy="631.2" r="5.7"/>
<circle cx="650.8" cy="578.2" r="5.7"/>
<circle cx="715.0" cy="568.2" r="5.7"/>
<circle cx="361.1" cy="596.8" r="5.7"/>
<circle cx="618.5" cy="559.9" r="5.7"/>
<circle cx="362.3" cy="551.9" r="5.7"/>
<circle cx="599.4" cy="581.6" r="5.7"/>
<circle cx="461.4" cy="567.8" r="5.7"/>
<circle cx="650.8" cy="577.4" r="5.7"/>
<circle cx="383.9" cy="558.4" r="5.7"/>
<circle cx="324.0" cy="550.9" r="5.7"/>
<circle cx="573.9" cy="587.9" r="5.7"/>
<circle cx="689.1" cy="588.2" r="5.7"/>
<circle cx="810.7" cy="620.5" r="5.7"/>
<circle cx="452.9" cy="574.7" r="5.7"/>
<circle cx="541.7" cy="560.0" r="5.7"/>
<circle cx="594.0" cy="563.2" r="5.7"/>
<circle cx="856.0" cy="629.4" r="5.7"/>
<circle cx="721.0" cy="589.3" r="5.7"/>
<circle cx="702.0" cy="616.2" r="5.7"/>
<circle cx="777.0" cy="596.7" r="5.7"/>
<circle cx="452.0" cy="590.0" r="5.7"/>
<circle cx="548.8" cy="601.2" r="5.7"/>
<circle cx="733.0" cy="610.2" r="5.7"/>
<circle cx="702.9" cy="556.7" r="5.7"/>
<circle cx="587.0" cy="583.0" r="5.7"/>
<circle cx="388.8" cy="571.0" r="5.7"/>
<circle cx="587.1" cy="579.4" r="5.7"/>
<circle cx="330.4" cy="526.6" r="5.7"/>
<circle cx="535.5" cy="563.3" r="5.7"/>
<circle cx="452.0" cy="547.3" r="5.7"/>
<circle cx="817.0" cy="599.6" r="5.7"/>
<circle cx="293.7" cy="651.5" r="5.7"/>
<circle cx="351.5" cy="524.5" r="5.7"/>
<circle cx="740.5" cy="598.5" r="5.7"/>
<circle cx="363.9" cy="595.6" r="5.7"/>
<circle cx="682.3" cy="579.1" r="5.7"/>
<circle cx="599.7" cy="617.9" r="5.7"/>
<circle cx="721.4" cy="591.2" r="5.7"/>
<circle cx="382.2" cy="567.0" r="5.7"/>
<circle cx="538.1" cy="588.8" r="5.7"/>
<circle cx="722.1" cy="556.5" r="5.7"/>
<circle cx="494.3" cy="580.5" r="5.7"/>
<circle cx="695.7" cy="607.3" r="5.7"/>
<circle cx="574.0" cy="551.4" r="5.7"/>
<circle cx="382.2" cy="606.7" r="5.7"/>
<circle cx="407.1" cy="593.8" r="5.7"/>
<circle cx="445.8" cy="558.4" r="5.7"/>
<circle cx="592.8" cy="550.5" r="5.7"/>
<circle cx="618.5" cy="595.5" r="5.7"/>
<circle cx="433.9" cy="577.2" r="5.7"/>
<circle cx="554.7" cy="570.9" r="5.7"/>
<circle cx="346.6" cy="576.2" r="5.7"/>
<circle cx="395.1" cy="555.3" r="5.7"/>
<circle cx="261.6" cy="657.8" r="5.7"/>
<circle cx="535.3" cy="575.3" r="5.7"/>
<circle cx="574.3" cy="586.2" r="5.7"/>
<circle cx="465.1" cy="601.1" r="5.7"/>
<circle cx="427.5" cy="585.4" r="5.7"/>
<circle cx="446.0" cy="600.9" r="5.7"/>
<circle cx="400.9" cy="580.2" r="5.7"/>
<circle cx="663.7" cy="552.0" r="5.7"/>
<circle cx="773.0" cy="579.0" r="5.7"/>
<circle cx="382.4" cy="602.9" r="5.7"/>
<circle cx="542.6" cy="542.5" r="5.7"/>
<circle cx="443.7" cy="559.5" r="5.7"/>
<circle cx="682.3" cy="576.1" r="5.7"/>
<circle cx="740.4" cy="617.4" r="5.7"/>
<circle cx="688.6" cy="632.6" r="5.7"/>
<circle cx="395.2" cy="560.6" r="5.7"/>
<circle cx="382.0" cy="543.9" r="5.7"/>
<circle cx="542.6" cy="552.6" r="5.7"/>
<circle cx="804.6" cy="608.9" r="5.7"/>
<circle cx="670.0" cy="576.0" r="5.7"/>
<circle cx="702.7" cy="605.1" r="5.7"/>
<circle cx="368.7" cy="572.0" r="5.7"/>
<circle cx="567.3" cy="574.6" r="5.7"/>
<circle cx="376.0" cy="604.7" r="5.7"/>
<circle cx="364.9" cy="591.1" r="5.7"/>
<circle cx="567.5" cy="560.9" r="5.7"/>
<circle cx="380.9" cy="575.3" r="5.7"/>
<circle cx="346.5" cy="515.8" r="5.7"/>
<circle cx="478.4" cy="577.3" r="5.7"/>
<circle cx="427.5" cy="578.7" r="5.7"/>
<circle cx="395.3" cy="594.9" r="5.7"/>
<circle cx="407.5" cy="600.9" r="5.7"/>
<circle cx="471.5" cy="496.3" r="5.7"/>
<circle cx="400.9" cy="532.9" r="5.7"/>
<circle cx="461.1" cy="595.9" r="5.7"/>
<circle cx="477.7" cy="554.5" r="5.7"/>
<circle cx="682.1" cy="599.7" r="5.7"/>
<circle cx="510.1" cy="589.3" r="5.7"/>
<circle cx="714.8" cy="572.1" r="5.7"/>
<circle cx="612.0" cy="603.0" r="5.7"/>
<circle cx="674.0" cy="599.7" r="5.7"/>
<circle cx="695.9" cy="583.2" r="5.7"/>
<circle cx="446.2" cy="557.8" r="5.7"/>
<circle cx="394.9" cy="590.7" r="5.7"/>
<circle cx="599.4" cy="562.1" r="5.7"/>
<circle cx="515.7" cy="566.5" r="5.7"/>
<circle cx="785.0" cy="618.8" r="5.7"/>
<circle cx="413.7" cy="573.4" r="5.7"/>
<circle cx="516.1" cy="618.4" r="5.7"/>
<circle cx="339.1" cy="533.4" r="5.7"/>
<circle cx="394.8" cy="526.0" r="5.7"/>
<circle cx="741.0" cy="616.5" r="5.7"/>
<circle cx="548.1" cy="584.3" r="5.7"/>
<circle cx="593.8" cy="588.8" r="5.7"/>
<circle cx="691.3" cy="603.2" r="5.7"/>
<circle cx="307.6" cy="631.1" r="5.7"/>
<circle cx="458.7" cy="551.4" r="5.7"/>
<circle cx="413.7" cy="595.2" r="5.7"/>
<circle cx="364.3" cy="588.8" r="5.7"/>
<circle cx="785.1" cy="603.5" r="5.7"/>
<circle cx="862.2" cy="619.7" r="5.7"/>
<circle cx="560.5" cy="588.0" r="5.7"/>
<circle cx="371.7" cy="547.7" r="5.7"/>
<circle cx="561.2" cy="608.0" r="5.7"/>
<circle cx="408.0" cy="591.9" r="5.7"/>
<circle cx="328.5" cy="540.7" r="5.7"/>
<circle cx="556.0" cy="565.4" r="5.7"/>
<circle cx="438.8" cy="572.4" r="5.7"/>
<circle cx="426.8" cy="595.3" r="5.7"/>
<circle cx="628.1" cy="567.1" r="5.7"/>
<circle cx="335.6" cy="604.7" r="5.7"/>
<circle cx="523.4" cy="562.8" r="5.7"/>
<circle cx="567.0" cy="577.7" r="5.7"/>
<circle cx="785.7" cy="591.1" r="5.7"/>
<circle cx="315.9" cy="616.7" r="5.7"/>
<circle cx="407.5" cy="567.4" r="5.7"/>
<circle cx="394.6" cy="542.1" r="5.7"/>
<circle cx="688.9" cy="602.5" r="5.7"/>
<circle cx="254.8" cy="648.9" r="5.7"/>
<circle cx="759.8" cy="553.3" r="5.7"/>
<circle cx="516.0" cy="563.2" r="5.7"/>
<circle cx="573.6" cy="587.7" r="5.7"/>
<circle cx="490.9" cy="591.2" r="5.7"/>
<circle cx="420.3" cy="565.4" r="5.7"/>
<circle cx="682.9" cy="602.8" r="5.7"/>
<circle cx="547.7" cy="608.8" r="5.7"/>
<circle cx="478.1" cy="573.4" r="5.7"/>
<circle cx="656.8" cy="601.2" r="5.7"/>
<circle cx="420.3" cy="573.7" r="5.7"/>
<circle cx="428.8" cy="536.3" r="5.7"/>
<circle cx="394.9" cy="612.9" r="5.7"/>
<circle cx="808.3" cy="610.3" r="5.7"/>
<circle cx="625.3" cy="587.4" r="5.7"/>
<circle cx="432.8" cy="620.8" r="5.7"/>
<circle cx="625.5" cy="558.5" r="5.7"/>
<circle cx="721.3" cy="598.1" r="5.7"/>
<circle cx="765.7" cy="617.4" r="5.7"/>
<circle cx="522.1" cy="556.6" r="5.7"/>
<circle cx="345.1" cy="535.1" r="5.7"/>
<circle cx="605.2" cy="598.1" r="5.7"/>
<circle cx="647.4" cy="606.4" r="5.7"/>
<circle cx="446.2" cy="566.7" r="5.7"/>
<circle cx="599.3" cy="543.8" r="5.7"/>
<circle cx="676.0" cy="610.7" r="5.7"/>
<circle cx="804.7" cy="606.8" r="5.7"/>
<circle cx="788.0" cy="601.4" r="5.7"/>
<circle cx="426.5" cy="581.4" r="5.7"/>
<circle cx="759.1" cy="594.4" r="5.7"/>
<circle cx="798.0" cy="615.6" r="5.7"/>
<circle cx="797.4" cy="617.0" r="5.7"/>
<circle cx="362.8" cy="548.8" r="5.7"/>
<circle cx="702.4" cy="554.6" r="5.7"/>
<circle cx="791.7" cy="595.2" r="5.7"/>
<circle cx="598.7" cy="576.4" r="5.7"/>
<circle cx="699.8" cy="600.6" r="5.7"/>
<circle cx="625.3" cy="569.4" r="5.7"/>
<circle cx="555.0" cy="557.1" r="5.7"/>
<circle cx="670.2" cy="583.1" r="5.7"/>
<circle cx="497.6" cy="546.1" r="5.7"/>
<circle cx="574.0" cy="542.9" r="5.7"/>
<circle cx="695.0" cy="603.4" r="5.7"/>
<circle cx="676.5" cy="584.4" r="5.7"/>
<circle cx="494.3" cy="586.1" r="5.7"/>
<circle cx="388.3" cy="587.4" r="5.7"/>
<circle cx="514.7" cy="571.4" r="5.7"/>
<circle cx="657.3" cy="609.0" r="5.7"/>
<circle cx="580.5" cy="546.2" r="5.7"/>
<circle cx="868.4" cy="631.8" r="5.7"/>
<circle cx="708.9" cy="586.2" r="5.7"/>
<circle cx="342.8" cy="591.0" r="5.7"/>
<circle cx="701.8" cy="573.8" r="5.7"/>
<circle cx="660.5" cy="570.4" r="5.7"/>
<circle cx="415.0" cy="597.8" r="5.7"/>
<circle cx="752.8" cy="595.4" r="5.7"/>
<circle cx="458.7" cy="541.6" r="5.7"/>
<circle cx="587.2" cy="588.9" r="5.7"/>
<circle cx="426.4" cy="558.5" r="5.7"/>
<circle cx="432.9" cy="569.2" r="5.7"/>
<circle cx="497.3" cy="590.2" r="5.7"/>
<circle cx="503.9" cy="596.1" r="5.7"/>
<circle cx="817.1" cy="621.9" r="5.7"/>
<circle cx="439.2" cy="570.4" r="5.7"/>
<circle cx="823.4" cy="593.6" r="5.7"/>
<circle cx="370.3" cy="554.1" r="5.7"/>
<circle cx="465.5" cy="542.0" r="5.7"/>
<circle cx="554.8" cy="559.2" r="5.7"/>
<circle cx="302.3" cy="620.5" r="5.7"/>
<circle cx="444.4" cy="526.0" r="5.7"/>
<circle cx="721.0" cy="590.4" r="5.7"/>
<circle cx="626.7" cy="600.8" r="5.7"/>
<circle cx="503.3" cy="604.4" r="5.7"/>
<circle cx="381.7" cy="582.7" r="5.7"/>
<circle cx="855.6" cy="629.2" r="5.7"/>
<circle cx="644.9" cy="575.1" r="5.7"/>
<circle cx="580.9" cy="584.0" r="5.7"/>
<circle cx="433.2" cy="588.6" r="5.7"/>
<circle cx="288.7" cy="605.1" r="5.7"/>
<circle cx="315.8" cy="541.2" r="5.7"/>
<circle cx="612.9" cy="587.2" r="5.7"/>
<circle cx="452.1" cy="573.2" r="5.7"/>
<circle cx="539.6" cy="532.2" r="5.7"/>
<circle cx="753.2" cy="591.0" r="5.7"/>
<circle cx="836.3" cy="615.7" r="5.7"/>
<circle cx="375.0" cy="612.7" r="5.7"/>
<circle cx="591.6" cy="593.3" r="5.7"/>
<circle cx="587.4" cy="552.7" r="5.7"/>
<circle cx="664.1" cy="628.3" r="5.7"/>
<circle cx="338.4" cy="529.0" r="5.7"/>
<circle cx="529.6" cy="572.9" r="5.7"/>
<circle cx="360.6" cy="547.4" r="5.7"/>
<circle cx="542.6" cy="586.7" r="5.7"/>
<circle cx="381.9" cy="588.9" r="5.7"/>
<circle cx="471.7" cy="584.7" r="5.7"/>
<circle cx="471.6" cy="598.3" r="5.7"/>
<circle cx="465.1" cy="616.3" r="5.7"/>
<circle cx="472.1" cy="594.2" r="5.7"/>
<circle cx="561.6" cy="594.8" r="5.7"/>
<circle cx="427.4" cy="586.2" r="5.7"/>
<circle cx="817.6" cy="599.3" r="5.7"/>
<circle cx="452.5" cy="556.6" r="5.7"/>
<circle cx="586.8" cy="526.9" r="5.7"/>
<circle cx="382.6" cy="582.5" r="5.7"/>
<circle cx="420.1" cy="587.6" r="5.7"/>
<circle cx="356.2" cy="525.0" r="5.7"/>
<circle cx="472.0" cy="517.5" r="5.7"/>
<circle cx="567.9" cy="602.4" r="5.7"/>
<circle cx="720.7" cy="589.3" r="5.7"/>
<circle cx="445.7" cy="589.8" r="5.7"/>
<circle cx="468.6" cy="591.7" r="5.7"/>
<circle cx="484.1" cy="600.6" r="5.7"/>
<circle cx="638.6" cy="574.9" r="5.7"/>
<circle cx="771.9" cy="616.4" r="5.7"/>
<circle cx="458.5" cy="580.2" r="5.7"/>
<circle cx="663.9" cy="576.8" r="5.7"/>
<circle cx="716.0" cy="577.0" r="5.7"/>
<circle cx="375.3" cy="589.2" r="5.7"/>
<circle cx="275.3" cy="640.1" r="5.7"/>
<circle cx="664.3" cy="583.3" r="5.7"/>
<circle cx="484.5" cy="598.6" r="5.7"/>
<circle cx="443.9" cy="565.6" r="5.7"/>
<circle cx="580.2" cy="618.7" r="5.7"/>
<circle cx="368.7" cy="508.5" r="5.7"/>
<circle cx="319.9" cy="562.3" r="5.7"/>
<circle cx="573.9" cy="589.8" r="5.7"/>
<circle cx="650.8" cy="559.9" r="5.7"/>
<circle cx="567.8" cy="529.0" r="5.7"/>
<circle cx="484.1" cy="561.8" r="5.7"/>
<circle cx="459.9" cy="608.0" r="5.7"/>
<circle cx="401.5" cy="532.5" r="5.7"/>
<circle cx="535.4" cy="600.8" r="5.7"/>
<circle cx="663.7" cy="572.4" r="5.7"/>
<circle cx="420.4" cy="580.7" r="5.7"/>
<circle cx="610.9" cy="568.9" r="5.7"/>
<circle cx="602.4" cy="574.2" r="5.7"/>
<circle cx="354.2" cy="551.8" r="5.7"/>
<circle cx="288.9" cy="608.2" r="5.7"/>
<circle cx="509.0" cy="492.4" r="5.7"/>
<circle cx="253.2" cy="671.1" r="5.7"/>
<circle cx="541.9" cy="579.5" r="5.7"/>
<circle cx="727.9" cy="616.2" r="5.7"/>
<circle cx="600.9" cy="579.4" r="5.7"/>
<circle cx="689.1" cy="617.3" r="5.7"/>
<circle cx="727.9" cy="604.5" r="5.7"/>
<circle cx="718.9" cy="583.1" r="5.7"/>
<circle cx="570.3" cy="583.7" r="5.7"/>
<circle cx="785.4" cy="635.9" r="5.7"/>
<circle cx="740.2" cy="558.0" r="5.7"/>
<circle cx="319.1" cy="586.6" r="5.7"/>
<circle cx="644.4" cy="573.7" r="5.7"/>
<circle cx="593.3" cy="523.4" r="5.7"/>
<circle cx="759.1" cy="620.4" r="5.7"/>
<circle cx="612.5" cy="598.2" r="5.7"/>
<circle cx="352.2" cy="598.8" r="5.7"/>
<circle cx="739.8" cy="590.1" r="5.7"/>
<circle cx="670.0" cy="569.1" r="5.7"/>
<circle cx="516.9" cy="588.8" r="5.7"/>
<circle cx="478.0" cy="575.7" r="5.7"/>
<circle cx="382.5" cy="575.0" r="5.7"/>
<circle cx="637.3" cy="618.2" r="5.7"/>
<circle cx="471.2" cy="557.0" r="5.7"/>
<circle cx="722.1" cy="592.5" r="5.7"/>
<circle cx="285.5" cy="583.4" r="5.7"/>
<circle cx="688.4" cy="588.6" r="5.7"/>
<circle cx="689.0" cy="563.2" r="5.7"/>
<circle cx="804.5" cy="623.4" r="5.7"/>
<circle cx="555.4" cy="611.9" r="5.7"/>
<circle cx="778.9" cy="577.0" r="5.7"/>
<circle cx="369.5" cy="577.9" r="5.7"/>
<circle cx="759.1" cy="621.5" r="5.7"/>
<circle cx="477.4" cy="582.8" r="5.7"/>
<circle cx="478.4" cy="573.0" r="5.7"/>
<circle cx="407.5" cy="566.5" r="5.7"/>
<circle cx="528.8" cy="555.7" r="5.7"/>
<circle cx="413.9" cy="595.5" r="5.7"/>
<circle cx="644.5" cy="571.9" r="5.7"/>
<circle cx="708.0" cy="578.7" r="5.7"/>
<circle cx="522.4" cy="580.4" r="5.7"/>
<circle cx="599.3" cy="590.4" r="5.7"/>
<circle cx="312.9" cy="593.0" r="5.7"/>
<circle cx="753.2" cy="595.2" r="5.7"/>
<circle cx="321.7" cy="585.8" r="5.7"/>
<circle cx="465.1" cy="581.1" r="5.7"/>
<circle cx="817.0" cy="614.8" r="5.7"/>
<circle cx="691.2" cy="549.8" r="5.7"/>
<circle cx="791.8" cy="597.0" r="5.7"/>
<circle cx="791.8" cy="568.2" r="5.7"/>
<circle cx="376.4" cy="595.4" r="5.7"/>
<circle cx="388.7" cy="609.5" r="5.7"/>
<circle cx="529.6" cy="575.3" r="5.7"/>
<circle cx="632.2" cy="598.8" r="5.7"/>
<circle cx="407.7" cy="564.0" r="5.7"/>
<circle cx="382.3" cy="570.0" r="5.7"/>
<circle cx="609.8" cy="568.1" r="5.7"/>
<circle cx="485.6" cy="557.5" r="5.7"/>
<circle cx="741.3" cy="590.0" r="5.7"/>
<circle cx="394.9" cy="622.3" r="5.7"/>
<circle cx="593.1" cy="506.2" r="5.7"/>
<circle cx="593.4" cy="550.2" r="5.7"/>
<circle cx="496.5" cy="583.0" r="5.7"/>
<circle cx="714.7" cy="600.1" r="5.7"/>
<circle cx="765.6" cy="597.7" r="5.7"/>
<circle cx="510.6" cy="612.2" r="5.7"/>
<circle cx="573.0" cy="557.4" r="5.7"/>
<circle cx="696.2" cy="584.7" r="5.7"/>
<circle cx="426.3" cy="571.4" r="5.7"/>
<circle cx="832.7" cy="624.8" r="5.7"/>
<circle cx="510.0" cy="559.1" r="5.7"/>
<circle cx="554.9" cy="574.3" r="5.7"/>
<circle cx="709.0" cy="569.9" r="5.7"/>
<circle cx="426.7" cy="546.4" r="5.7"/>
<circle cx="400.8" cy="569.1" r="5.7"/>
<circle cx="824.1" cy="586.9" r="5.7"/>
<circle cx="696.1" cy="568.7" r="5.7"/>
<circle cx="683.1" cy="605.7" r="5.7"/>
<circle cx="433.6" cy="574.3" r="5.7"/>
<circle cx="615.9" cy="574.9" r="5.7"/>
<circle cx="315.1" cy="533.5" r="5.7"/>
<circle cx="683.0" cy="569.6" r="5.7"/>
<circle cx="785.0" cy="618.1" r="5.7"/>
<circle cx="733.4" cy="607.4" r="5.7"/>
<circle cx="596.7" cy="584.2" r="5.7"/>
<circle cx="293.3" cy="628.5" r="5.7"/>
<circle cx="388.4" cy="576.6" r="5.7"/>
<circle cx="541.3" cy="540.2" r="5.7"/>
<circle cx="414.1" cy="595.6" r="5.7"/>
<circle cx="407.5" cy="563.0" r="5.7"/>
<circle cx="376.0" cy="560.3" r="5.7"/>
<circle cx="394.8" cy="603.4" r="5.7"/>
<circle cx="746.3" cy="605.5" r="5.7"/>
<circle cx="804.1" cy="622.8" r="5.7"/>
<circle cx="497.5" cy="581.9" r="5.7"/>
<circle cx="616.1" cy="570.3" r="5.7"/>
<circle cx="478.3" cy="609.7" r="5.7"/>
<circle cx="322.1" cy="566.4" r="5.7"/>
<circle cx="658.0" cy="597.7" r="5.7"/>
<circle cx="714.9" cy="586.9" r="5.7"/>
<circle cx="586.7" cy="540.9" r="5.7"/>
<circle cx="420.9" cy="577.9" r="5.7"/>
<circle cx="548.9" cy="555.4" r="5.7"/>
<circle cx="859.1" cy="615.2" r="5.7"/>
<circle cx="618.5" cy="589.8" r="5.7"/>
<circle cx="352.2" cy="562.0" r="5.7"/>
<circle cx="688.0" cy="587.7" r="5.7"/>
<circle cx="484.7" cy="560.0" r="5.7"/>
<circle cx="420.2" cy="575.1" r="5.7"/>
<circle cx="710.5" cy="592.5" r="5.7"/>
<circle cx="458.5" cy="573.3" r="5.7"/>
<circle cx="484.6" cy="571.6" r="5.7"/>
<circle cx="806.0" cy="606.3" r="5.7"/>
<circle cx="458.9" cy="611.4" r="5.7"/>
<circle cx="477.9" cy="549.5" r="5.7"/>
<circle cx="670.3" cy="597.5" r="5.7"/>
<circle cx="727.5" cy="604.3" r="5.7"/>
<circle cx="657.5" cy="592.3" r="5.7"/>
<circle cx="722.3" cy="604.3" r="5.7"/>
<circle cx="274.4" cy="638.4" r="5.7"/>
<circle cx="345.5" cy="548.7" r="5.7"/>
<circle cx="313.6" cy="595.6" r="5.7"/>
<circle cx="357.3" cy="599.5" r="5.7"/>
<circle cx="490.9" cy="590.9" r="5.7"/>
<circle cx="733.7" cy="603.5" r="5.7"/>
<circle cx="414.3" cy="581.2" r="5.7"/>
<circle cx="536.1" cy="557.9" r="5.7"/>
<circle cx="759.9" cy="613.2" r="5.7"/>
<circle cx="606.0" cy="542.7" r="5.7"/>
<circle cx="458.2" cy="508.1" r="5.7"/>
<circle cx="497.1" cy="589.8" r="5.7"/>
<circle cx="510.1" cy="558.4" r="5.7"/>
<circle cx="516.3" cy="584.2" r="5.7"/>
<circle cx="459.2" cy="597.4" r="5.7"/>
<circle cx="375.6" cy="602.7" r="5.7"/>
<circle cx="791.4" cy="591.0" r="5.7"/>
<circle cx="618.7" cy="551.8" r="5.7"/>
<circle cx="433.6" cy="580.4" r="5.7"/>
<circle cx="637.7" cy="586.8" r="5.7"/>
<circle cx="721.1" cy="599.2" r="5.7"/>
<circle cx="721.6" cy="566.0" r="5.7"/>
<circle cx="496.4" cy="560.2" r="5.7"/>
<circle cx="478.2" cy="572.0" r="5.7"/>
<circle cx="708.4" cy="591.9" r="5.7"/>
<circle cx="669.7" cy="580.3" r="5.7"/>
<circle cx="563.4" cy="527.9" r="5.7"/>
<circle cx="727.8" cy="626.6" r="5.7"/>
<circle cx="696.4" cy="582.4" r="5.7"/>
<circle cx="554.9" cy="554.5" r="5.7"/>
<circle cx="593.1" cy="545.8" r="5.7"/>
<circle cx="464.8" cy="539.6" r="5.7"/>
<circle cx="842.7" cy="624.3" r="5.7"/>
<circle cx="726.8" cy="591.8" r="5.7"/>
<circle cx="262.0" cy="653.1" r="5.7"/>
<circle cx="625.0" cy="591.6" r="5.7"/>
<circle cx="713.4" cy="533.1" r="5.7"/>
<circle cx="407.2" cy="605.9" r="5.7"/>
<circle cx="599.6" cy="565.1" r="5.7"/>
<circle cx="341.9" cy="617.3" r="5.7"/>
<circle cx="471.6" cy="559.5" r="5.7"/>
<circle cx="433.2" cy="548.2" r="5.7"/>
<circle cx="281.7" cy="619.4" r="5.7"/>
<circle cx="439.9" cy="582.5" r="5.7"/>
<circle cx="823.9" cy="604.3" r="5.7"/>
<circle cx="817.5" cy="614.6" r="5.7"/>
<circle cx="810.7" cy="628.0" r="5.7"/>
<circle cx="489.0" cy="572.4" r="5.7"/>
<circle cx="682.3" cy="578.1" r="5.7"/>
<circle cx="541.7" cy="547.2" r="5.7"/>
<circle cx="490.5" cy="582.1" r="5.7"/>
<circle cx="328.3" cy="599.7" r="5.7"/>
<circle cx="375.3" cy="589.7" r="5.7"/>
<circle cx="562.5" cy="534.8" r="5.7"/>
<circle cx="613.5" cy="590.8" r="5.7"/>
<circle cx="388.6" cy="574.4" r="5.7"/>
<circle cx="268.2" cy="650.9" r="5.7"/>
<circle cx="454.5" cy="591.2" r="5.7"/>
<circle cx="667.9" cy="574.1" r="5.7"/>
<circle cx="694.4" cy="577.6" r="5.7"/>
<circle cx="439.5" cy="583.3" r="5.7"/>
<circle cx="688.8" cy="576.0" r="5.7"/>
<circle cx="398.7" cy="594.2" r="5.7"/>
<circle cx="433.1" cy="569.0" r="5.7"/>
<circle cx="330.7" cy="611.6" r="5.7"/>
<circle cx="522.4" cy="572.9" r="5.7"/>
<circle cx="740.5" cy="613.5" r="5.7"/>
<circle cx="599.4" cy="593.2" r="5.7"/>
<circle cx="586.0" cy="527.3" r="5.7"/>
<circle cx="644.4" cy="561.5" r="5.7"/>
<circle cx="753.0" cy="607.6" r="5.7"/>
<circle cx="798.7" cy="645.9" r="5.7"/>
<circle cx="426.7" cy="568.9" r="5.7"/>
<circle cx="445.9" cy="569.6" r="5.7"/>
<circle cx="785.2" cy="573.4" r="5.7"/>
<circle cx="503.8" cy="550.7" r="5.7"/>
<circle cx="753.8" cy="616.3" r="5.7"/>
<circle cx="732.7" cy="599.1" r="5.7"/>
<circle cx="257.5" cy="665.7" r="5.7"/>
<circle cx="387.8" cy="593.9" r="5.7"/>
<circle cx="598.5" cy="599.0" r="5.7"/>
<circle cx="320.1" cy="509.2" r="5.7"/>
<circle cx="555.0" cy="586.3" r="5.7"/>
<circle cx="382.1" cy="590.0" r="5.7"/>
<circle cx="382.2" cy="521.7" r="5.7"/>
<circle cx="400.8" cy="596.0" r="5.7"/>
<circle cx="358.5" cy="532.9" r="5.7"/>
<circle cx="369.1" cy="569.9" r="5.7"/>
<circle cx="768.3" cy="582.4" r="5.7"/>
<circle cx="535.5" cy="561.5" r="5.7"/>
<circle cx="625.2" cy="592.2" r="5.7"/>
<circle cx="580.2" cy="570.7" r="5.7"/>
<circle cx="314.4" cy="596.2" r="5.7"/>
<circle cx="535.5" cy="558.7" r="5.7"/>
<circle cx="464.6" cy="574.8" r="5.7"/>
<circle cx="388.5" cy="570.4" r="5.7"/>
<circle cx="425.0" cy="563.7" r="5.7"/>
<circle cx="772.7" cy="638.5" r="5.7"/>
<circle cx="298.0" cy="628.4" r="5.7"/>
<circle cx="413.9" cy="466.3" r="5.7"/>
<circle cx="568.2" cy="559.7" r="5.7"/>
<circle cx="394.9" cy="579.1" r="5.7"/>
<circle cx="376.1" cy="554.4" r="5.7"/>
<circle cx="665.4" cy="605.8" r="5.7"/>
<circle cx="516.1" cy="578.8" r="5.7"/>
<circle cx="701.6" cy="598.6" r="5.7"/>
<circle cx="528.9" cy="533.8" r="5.7"/>
<circle cx="637.2" cy="588.5" r="5.7"/>
<circle cx="618.4" cy="603.9" r="5.7"/>
<circle cx="310.6" cy="595.7" r="5.7"/>
<circle cx="284.4" cy="598.5" r="5.7"/>
<circle cx="676.3" cy="579.1" r="5.7"/>
<circle cx="536.3" cy="579.6" r="5.7"/>
<circle cx="303.8" cy="634.2" r="5.7"/>
<circle cx="490.2" cy="614.4" r="5.7"/>
<circle cx="484.3" cy="504.6" r="5.7"/>
<circle cx="528.9" cy="566.1" r="5.7"/>
<circle cx="817.1" cy="625.9" r="5.7"/>
<circle cx="542.1" cy="576.1" r="5.7"/>
<circle cx="464.7" cy="614.3" r="5.7"/>
<circle cx="323.6" cy="573.0" r="5.7"/>
<circle cx="593.3" cy="558.9" r="5.7"/>
<circle cx="701.7" cy="618.9" r="5.7"/>
<circle cx="275.5" cy="629.1" r="5.7"/>
<circle cx="759.4" cy="605.6" r="5.7"/>
<circle cx="484.5" cy="589.0" r="5.7"/>
<circle cx="361.3" cy="528.1" r="5.7"/>
<circle cx="328.6" cy="624.1" r="5.7"/>
<circle cx="598.8" cy="542.7" r="5.7"/>
<circle cx="276.4" cy="637.7" r="5.7"/>
<circle cx="670.5" cy="596.8" r="5.7"/>
<circle cx="281.7" cy="631.0" r="5.7"/>
<circle cx="644.5" cy="579.4" r="5.7"/>
<circle cx="350.7" cy="607.8" r="5.7"/>
<circle cx="382.0" cy="590.5" r="5.7"/>
<circle cx="264.8" cy="659.5" r="5.7"/>
<circle cx="650.6" cy="612.6" r="5.7"/>
<circle cx="253.3" cy="657.3" r="5.7"/>
<circle cx="759.0" cy="609.1" r="5.7"/>
<circle cx="433.2" cy="591.5" r="5.7"/>
<circle cx="339.4" cy="608.4" r="5.7"/>
<circle cx="677.4" cy="553.3" r="5.7"/>
<circle cx="263.2" cy="635.3" r="5.7"/>
<circle cx="381.4" cy="582.1" r="5.7"/>
<circle cx="339.6" cy="524.3" r="5.7"/>
<circle cx="515.7" cy="559.2" r="5.7"/>
<circle cx="491.3" cy="565.8" r="5.7"/>
<circle cx="407.6" cy="585.1" r="5.7"/>
<circle cx="726.9" cy="595.0" r="5.7"/>
<circle cx="717.1" cy="604.2" r="5.7"/>
<circle cx="434.6" cy="591.0" r="5.7"/>
<circle cx="368.9" cy="569.4" r="5.7"/>
<circle cx="292.8" cy="627.4" r="5.7"/>
<circle cx="371.3" cy="540.8" r="5.7"/>
<circle cx="469.9" cy="602.4" r="5.7"/>
<circle cx="547.8" cy="599.4" r="5.7"/>
<circle cx="255.6" cy="658.0" r="5.7"/>
<circle cx="433.4" cy="564.2" r="5.7"/>
<circle cx="670.0" cy="580.9" r="5.7"/>
<circle cx="394.9" cy="610.6" r="5.7"/>
<circle cx="784.9" cy="597.5" r="5.7"/>
<circle cx="291.7" cy="593.2" r="5.7"/>
<circle cx="566.6" cy="561.8" r="5.7"/>
<circle cx="375.1" cy="584.4" r="5.7"/>
<circle cx="433.0" cy="590.3" r="5.7"/>
<circle cx="381.9" cy="596.9" r="5.7"/>
<circle cx="291.1" cy="619.7" r="5.7"/>
<circle cx="413.4" cy="566.8" r="5.7"/>
<circle cx="406.8" cy="565.2" r="5.7"/>
<circle cx="599.1" cy="581.4" r="5.7"/>
<circle cx="745.5" cy="579.2" r="5.7"/>
<circle cx="315.8" cy="616.4" r="5.7"/>
<circle cx="380.3" cy="581.9" r="5.7"/>
<circle cx="433.3" cy="568.3" r="5.7"/>
<circle cx="452.3" cy="579.1" r="5.7"/>
<circle cx="682.2" cy="551.8" r="5.7"/>
<circle cx="516.3" cy="572.2" r="5.7"/>
<circle cx="565.3" cy="606.3" r="5.7"/>
<circle cx="426.3" cy="584.7" r="5.7"/>
<circle cx="542.0" cy="561.1" r="5.7"/>
<circle cx="586.8" cy="594.5" r="5.7"/>
<circle cx="529.4" cy="553.4" r="5.7"/>
<circle cx="388.5" cy="565.0" r="5.7"/>
<circle cx="789.4" cy="605.4" r="5.7"/>
<circle cx="490.7" cy="556.3" r="5.7"/>
<circle cx="402.0" cy="571.3" r="5.7"/>
<circle cx="401.1" cy="559.2" r="5.7"/>
<circle cx="259.6" cy="650.3" r="5.7"/>
<circle cx="734.1" cy="591.0" r="5.7"/>
<circle cx="471.4" cy="553.7" r="5.7"/>
<circle cx="439.6" cy="564.3" r="5.7"/>
<circle cx="714.4" cy="584.5" r="5.7"/>
<circle cx="407.3" cy="576.2" r="5.7"/>
<circle cx="414.2" cy="590.0" r="5.7"/>
<circle cx="616.3" cy="547.5" r="5.7"/>
<circle cx="542.4" cy="564.8" r="5.7"/>
<circle cx="497.6" cy="561.3" r="5.7"/>
<circle cx="657.0" cy="577.9" r="5.7"/>
<circle cx="746.5" cy="542.7" r="5.7"/>
<circle cx="496.7" cy="590.3" r="5.7"/>
<circle cx="677.1" cy="560.3" r="5.7"/>
<circle cx="407.4" cy="571.8" r="5.7"/>
<circle cx="433.8" cy="559.9" r="5.7"/>
<circle cx="288.0" cy="630.5" r="5.7"/>
<circle cx="467.1" cy="576.3" r="5.7"/>
<circle cx="414.1" cy="627.6" r="5.7"/>
<circle cx="439.5" cy="604.3" r="5.7"/>
<circle cx="804.6" cy="602.3" r="5.7"/>
<circle cx="414.1" cy="588.8" r="5.7"/>
<circle cx="420.2" cy="566.9" r="5.7"/>
<circle cx="554.9" cy="525.7" r="5.7"/>
<circle cx="339.1" cy="568.0" r="5.7"/>
<circle cx="746.3" cy="575.8" r="5.7"/>
<circle cx="369.9" cy="578.8" r="5.7"/>
<circle cx="497.4" cy="560.5" r="5.7"/>
<circle cx="398.4" cy="596.6" r="5.7"/>
<circle cx="369.6" cy="560.9" r="5.7"/>
<circle cx="759.8" cy="592.3" r="5.7"/>
<circle cx="413.6" cy="593.2" r="5.7"/>
<circle cx="557.5" cy="584.5" r="5.7"/>
<circle cx="392.9" cy="620.2" r="5.7"/>
<circle cx="860.6" cy="602.6" r="5.7"/>
<circle cx="548.7" cy="572.2" r="5.7"/>
<circle cx="862.2" cy="619.1" r="5.7"/>
<circle cx="496.7" cy="583.2" r="5.7"/>
<circle cx="388.5" cy="557.9" r="5.7"/>
<circle cx="440.8" cy="573.9" r="5.7"/>
<circle cx="375.3" cy="549.7" r="5.7"/>
<circle cx="263.2" cy="649.8" r="5.7"/>
<circle cx="377.8" cy="621.9" r="5.7"/>
<circle cx="714.6" cy="587.5" r="5.7"/>
<circle cx="497.7" cy="560.7" r="5.7"/>
<circle cx="868.5" cy="633.8" r="5.7"/>
<circle cx="810.9" cy="564.5" r="5.7"/>
<circle cx="714.6" cy="576.9" r="5.7"/>
<circle cx="503.6" cy="573.3" r="5.7"/>
<circle cx="504.0" cy="572.1" r="5.7"/>
<circle cx="516.3" cy="592.4" r="5.7"/>
<circle cx="559.4" cy="557.7" r="5.7"/>
<circle cx="689.3" cy="513.4" r="5.7"/>
<circle cx="317.2" cy="521.7" r="5.7"/>
<circle cx="517.4" cy="611.7" r="5.7"/>
<circle cx="535.3" cy="578.8" r="5.7"/>
<circle cx="408.0" cy="475.5" r="5.7"/>
<circle cx="401.1" cy="616.0" r="5.7"/>
<circle cx="510.1" cy="601.4" r="5.7"/>
<circle cx="484.7" cy="556.5" r="5.7"/>
<circle cx="482.4" cy="595.7" r="5.7"/>
<circle cx="323.6" cy="565.6" r="5.7"/>
<circle cx="394.7" cy="588.9" r="5.7"/>
<circle cx="307.3" cy="647.5" r="5.7"/>
<circle cx="427.1" cy="577.7" r="5.7"/>
<circle cx="458.1" cy="560.2" r="5.7"/>
<circle cx="573.9" cy="572.0" r="5.7"/>
<circle cx="395.4" cy="568.5" r="5.7"/>
<circle cx="267.9" cy="635.5" r="5.7"/>
<circle cx="554.9" cy="604.2" r="5.7"/>
<circle cx="593.0" cy="575.9" r="5.7"/>
<circle cx="313.2" cy="581.1" r="5.7"/>
<circle cx="754.0" cy="606.9" r="5.7"/>
<circle cx="344.3" cy="554.9" r="5.7"/>
<circle cx="427.0" cy="581.5" r="5.7"/>
<circle cx="702.1" cy="598.5" r="5.7"/>
<circle cx="650.2" cy="580.3" r="5.7"/>
<circle cx="388.5" cy="565.0" r="5.7"/>
<circle cx="702.5" cy="586.9" r="5.7"/>
<circle cx="286.3" cy="627.8" r="5.7"/>
<circle cx="702.1" cy="589.9" r="5.7"/>
<circle cx="612.0" cy="575.7" r="5.7"/>
<circle cx="509.8" cy="608.6" r="5.7"/>
<circle cx="338.4" cy="528.2" r="5.7"/>
<circle cx="271.0" cy="642.6" r="5.7"/>
<circle cx="517.0" cy="524.3" r="5.7"/>
<circle cx="563.8" cy="607.4" r="5.7"/>
<circle cx="561.2" cy="543.8" r="5.7"/>
<circle cx="349.7" cy="586.3" r="5.7"/>
<circle cx="401.7" cy="603.8" r="5.7"/>
<circle cx="420.4" cy="553.5" r="5.7"/>
<circle cx="523.6" cy="517.5" r="5.7"/>
<circle cx="452.0" cy="561.4" r="5.7"/>
<circle cx="611.9" cy="563.9" r="5.7"/>
<circle cx="349.1" cy="586.0" r="5.7"/>
<circle cx="503.7" cy="540.8" r="5.7"/>
<circle cx="491.0" cy="569.8" r="5.7"/>
<circle cx="421.7" cy="575.0" r="5.7"/>
<circle cx="465.6" cy="563.7" r="5.7"/>
<circle cx="382.7" cy="566.8" r="5.7"/>
<circle cx="746.1" cy="613.7" r="5.7"/>
<circle cx="446.2" cy="561.7" r="5.7"/>
<circle cx="458.4" cy="563.5" r="5.7"/>
<circle cx="414.4" cy="519.5" r="5.7"/>
<circle cx="420.8" cy="639.2" r="5.7"/>
<circle cx="632.4" cy="599.3" r="5.7"/>
<circle cx="271.5" cy="634.2" r="5.7"/>
<circle cx="365.8" cy="567.0" r="5.7"/>
<circle cx="752.9" cy="572.6" r="5.7"/>
<circle cx="554.9" cy="626.0" r="5.7"/>
<circle cx="296.0" cy="600.9" r="5.7"/>
<circle cx="787.3" cy="589.2" r="5.7"/>
<circle cx="427.0" cy="578.5" r="5.7"/>
<circle cx="471.6" cy="548.6" r="5.7"/>
<circle cx="395.1" cy="565.9" r="5.7"/>
<circle cx="702.5" cy="586.8" r="5.7"/>
<circle cx="592.8" cy="583.6" r="5.7"/>
<circle cx="375.7" cy="592.2" r="5.7"/>
<circle cx="778.9" cy="580.7" r="5.7"/>
<circle cx="709.1" cy="590.0" r="5.7"/>
<circle cx="250.6" cy="665.5" r="5.7"/>
<circle cx="848.8" cy="631.7" r="5.7"/>
<circle cx="752.2" cy="592.6" r="5.7"/>
<circle cx="477.7" cy="567.7" r="5.7"/>
<circle cx="784.6" cy="614.5" r="5.7"/>
<circle cx="349.6" cy="595.5" r="5.7"/>
<circle cx="746.9" cy="606.7" r="5.7"/>
<circle cx="510.0" cy="582.6" r="5.7"/>
<circle cx="327.7" cy="576.8" r="5.7"/>
<circle cx="622.6" cy="548.6" r="5.7"/>
<circle cx="721.7" cy="581.4" r="5.7"/>
<circle cx="459.0" cy="596.3" r="5.7"/>
<circle cx="401.0" cy="609.0" r="5.7"/>
<circle cx="427.1" cy="529.1" r="5.7"/>
<circle cx="335.5" cy="576.0" r="5.7"/>
<circle cx="477.9" cy="570.9" r="5.7"/>
<circle cx="752.9" cy="606.2" r="5.7"/>
<circle cx="657.9" cy="549.4" r="5.7"/>
<circle cx="368.9" cy="571.8" r="5.7"/>
<circle cx="535.5" cy="593.7" r="5.7"/>
<circle class="m" cx="785.8" cy="603.3" r="5.7"/>
<circle class="m" cx="586.9" cy="499.4" r="5.7"/>
<circle cx="580.8" cy="593.4" r="5.7"/>
<circle cx="788.2" cy="610.8" r="5.7"/>
<circle cx="711.4" cy="605.2" r="5.7"/>
<circle cx="387.9" cy="611.2" r="5.7"/>
<circle cx="653.5" cy="584.7" r="5.7"/>
<circle cx="779.1" cy="609.0" r="5.7"/>
<circle cx="798.2" cy="618.1" r="5.7"/>
<circle cx="368.1" cy="603.0" r="5.7"/>
<circle cx="421.0" cy="594.2" r="5.7"/>
<circle class="m" cx="477.8" cy="482.2" r="5.7"/>
<circle cx="452.9" cy="558.0" r="5.7"/>
<circle cx="478.9" cy="582.3" r="5.7"/>
<circle cx="382.1" cy="533.1" r="5.7"/>
<circle cx="426.9" cy="599.3" r="5.7"/>
<circle class="m" cx="644.3" cy="549.1" r="5.7"/>
<circle cx="442.9" cy="582.2" r="5.7"/>
<circle cx="682.9" cy="591.8" r="5.7"/>
<circle class="m" cx="676.0" cy="510.5" r="5.7"/>
<circle cx="541.6" cy="545.6" r="5.7"/>
<circle cx="760.1" cy="612.5" r="5.7"/>
<circle class="m" cx="772.2" cy="573.5" r="5.7"/>
<circle cx="503.5" cy="565.9" r="5.7"/>
<circle class="m" cx="549.1" cy="490.3" r="5.7"/>
<circle cx="548.1" cy="558.7" r="5.7"/>
<circle cx="464.4" cy="556.6" r="5.7"/>
<circle class="m" cx="437.0" cy="551.9" r="5.7"/>
<circle class="m" cx="631.9" cy="532.6" r="5.7"/>
<circle cx="567.5" cy="583.3" r="5.7"/>
<circle cx="631.5" cy="573.7" r="5.7"/>
<circle class="m" cx="708.4" cy="574.7" r="5.7"/>
<circle cx="631.7" cy="602.0" r="5.7"/>
<circle cx="803.4" cy="604.3" r="5.7"/>
<circle class="m" cx="554.9" cy="491.9" r="5.7"/>
<circle class="m" cx="567.5" cy="501.4" r="5.7"/>
<circle cx="580.3" cy="540.7" r="5.7"/>
<circle cx="401.0" cy="563.3" r="5.7"/>
<circle class="m" cx="747.0" cy="537.5" r="5.7"/>
<circle cx="555.2" cy="594.8" r="5.7"/>
<circle class="m" cx="425.4" cy="489.3" r="5.7"/>
<circle cx="401.4" cy="603.9" r="5.7"/>
<circle cx="401.2" cy="569.0" r="5.7"/>
<circle cx="373.2" cy="568.4" r="5.7"/>
<circle cx="484.1" cy="572.7" r="5.7"/>
<circle cx="427.0" cy="591.2" r="5.7"/>
<circle cx="484.7" cy="571.4" r="5.7"/>
<circle cx="400.8" cy="582.0" r="5.7"/>
<circle cx="516.3" cy="537.6" r="5.7"/>
<circle cx="785.4" cy="601.6" r="5.7"/>
<circle cx="578.0" cy="597.7" r="5.7"/>
<circle cx="510.4" cy="590.7" r="5.7"/>
<circle cx="718.6" cy="600.6" r="5.7"/>
<circle cx="606.4" cy="613.7" r="5.7"/>
<circle class="m" cx="483.9" cy="557.2" r="5.7"/>
<circle cx="365.9" cy="566.9" r="5.7"/>
<circle class="m" cx="394.7" cy="494.4" r="5.7"/>
<circle cx="747.4" cy="597.5" r="5.7"/>
<circle cx="522.7" cy="608.2" r="5.7"/>
<circle class="m" cx="797.4" cy="572.1" r="5.7"/>
<circle cx="542.9" cy="593.7" r="5.7"/>
<circle cx="382.0" cy="558.5" r="5.7"/>
<circle cx="765.3" cy="608.2" r="5.7"/>
<circle cx="824.3" cy="638.0" r="5.7"/>
<circle cx="708.0" cy="598.3" r="5.7"/>
<circle class="m" cx="471.6" cy="483.9" r="5.7"/>
<circle cx="838.5" cy="594.8" r="5.7"/>
<circle cx="555.0" cy="556.9" r="5.7"/>
<circle class="m" cx="548.9" cy="560.0" r="5.7"/>
<circle class="m" cx="363.9" cy="528.3" r="5.7"/>
<circle cx="446.4" cy="553.5" r="5.7"/>
<circle class="m" cx="686.3" cy="539.8" r="5.7"/>
<circle cx="606.2" cy="582.2" r="5.7"/>
<circle cx="471.6" cy="578.4" r="5.7"/>
<circle class="m" cx="690.1" cy="528.4" r="5.7"/>
<circle cx="445.7" cy="590.9" r="5.7"/>
<circle cx="360.1" cy="584.6" r="5.7"/>
<circle cx="759.5" cy="611.1" r="5.7"/>
<circle cx="548.3" cy="535.1" r="5.7"/>
<circle cx="299.3" cy="622.1" r="5.7"/>
<circle cx="688.1" cy="597.7" r="5.7"/>
<circle cx="496.9" cy="596.5" r="5.7"/>
<circle cx="727.0" cy="584.7" r="5.7"/>
<circle class="m" cx="433.1" cy="531.0" r="5.7"/>
<circle cx="392.0" cy="563.5" r="5.7"/>
<circle cx="573.9" cy="594.4" r="5.7"/>
<circle class="m" cx="433.2" cy="543.0" r="5.7"/>
<circle class="m" cx="387.6" cy="506.3" r="5.7"/>
<circle cx="388.3" cy="516.5" r="5.7"/>
<circle cx="420.3" cy="624.7" r="5.7"/>
<circle cx="316.1" cy="569.4" r="5.7"/>
<circle class="m" cx="830.1" cy="599.7" r="5.7"/>
<circle class="m" cx="531.6" cy="492.0" r="5.7"/>
<circle cx="714.8" cy="576.4" r="5.7"/>
<circle class="m" cx="625.1" cy="549.4" r="5.7"/>
<circle class="m" cx="710.8" cy="578.5" r="5.7"/>
<circle cx="484.3" cy="530.4" r="5.7"/>
<circle class="m" cx="263.0" cy="640.4" r="5.7"/>
<circle cx="286.2" cy="617.4" r="5.7"/>
<circle cx="629.7" cy="567.4" r="5.7"/>
<circle cx="451.7" cy="533.8" r="5.7"/>
<circle class="m" cx="381.6" cy="444.0" r="5.7"/>
<circle cx="394.7" cy="558.4" r="5.7"/>
<circle cx="779.0" cy="604.0" r="5.7"/>
<circle cx="452.4" cy="598.2" r="5.7"/>
<circle cx="523.2" cy="575.1" r="5.7"/>
<circle cx="702.5" cy="595.0" r="5.7"/>
<circle cx="516.3" cy="549.3" r="5.7"/>
<circle cx="471.3" cy="577.6" r="5.7"/>
<circle cx="415.0" cy="603.0" r="5.7"/>
<circle cx="382.5" cy="603.0" r="5.7"/>
<circle cx="778.9" cy="599.7" r="5.7"/>
<circle cx="281.2" cy="652.7" r="5.7"/>
<circle cx="490.4" cy="539.4" r="5.7"/>
<circle cx="765.6" cy="610.7" r="5.7"/>
<circle class="m" cx="688.9" cy="567.3" r="5.7"/>
<circle cx="548.3" cy="533.1" r="5.7"/>
<circle class="m" cx="792.1" cy="596.2" r="5.7"/>
<circle cx="637.5" cy="564.5" r="5.7"/>
<circle cx="618.5" cy="603.8" r="5.7"/>
<circle cx="340.0" cy="569.2" r="5.7"/>
<circle cx="407.9" cy="592.3" r="5.7"/>
<circle cx="335.3" cy="573.5" r="5.7"/>
<circle class="m" cx="753.2" cy="537.9" r="5.7"/>
<circle cx="753.9" cy="594.2" r="5.7"/>
<circle cx="552.7" cy="594.3" r="5.7"/>
<circle cx="566.8" cy="465.9" r="5.7"/>
<circle cx="523.2" cy="604.7" r="5.7"/>
<circle cx="381.7" cy="582.8" r="5.7"/>
<circle cx="416.0" cy="534.2" r="5.7"/>
<circle cx="509.9" cy="571.7" r="5.7"/>
<circle class="m" cx="381.7" cy="494.0" r="5.7"/>
<circle cx="714.8" cy="634.6" r="5.7"/>
<circle cx="413.7" cy="528.6" r="5.7"/>
<circle cx="280.5" cy="631.5" r="5.7"/>
<circle cx="375.9" cy="573.4" r="5.7"/>
<circle class="m" cx="385.4" cy="531.9" r="5.7"/>
<circle cx="733.5" cy="611.8" r="5.7"/>
<circle cx="849.5" cy="592.5" r="5.7"/>
<circle cx="344.3" cy="595.2" r="5.7"/>
<circle cx="670.8" cy="572.7" r="5.7"/>
<circle class="m" cx="407.5" cy="446.7" r="5.7"/>
<circle cx="714.6" cy="593.5" r="5.7"/>
<circle cx="567.3" cy="579.3" r="5.7"/>
<circle cx="748.9" cy="622.6" r="5.7"/>
<circle cx="370.1" cy="559.7" r="5.7"/>
<circle class="m" cx="337.7" cy="546.9" r="5.7"/>
<circle cx="497.4" cy="574.0" r="5.7"/>
<circle cx="810.4" cy="642.2" r="5.7"/>
<circle cx="346.9" cy="561.7" r="5.7"/>
<circle cx="484.3" cy="545.0" r="5.7"/>
<circle cx="445.0" cy="617.4" r="5.7"/>
<circle class="m" cx="377.0" cy="481.9" r="5.7"/>
<circle cx="558.5" cy="561.1" r="5.7"/>
<circle cx="734.1" cy="501.9" r="5.7"/>
<circle cx="459.2" cy="557.4" r="5.7"/>
<circle cx="554.5" cy="567.7" r="5.7"/>
<circle cx="446.1" cy="571.7" r="5.7"/>
<circle cx="666.1" cy="601.0" r="5.7"/>
<circle class="m" cx="375.7" cy="524.1" r="5.7"/>
<circle cx="650.6" cy="575.7" r="5.7"/>
<circle cx="413.7" cy="584.9" r="5.7"/>
<circle cx="740.8" cy="588.3" r="5.7"/>
<circle cx="644.6" cy="566.1" r="5.7"/>
<circle cx="382.6" cy="608.0" r="5.7"/>
<circle cx="503.1" cy="598.0" r="5.7"/>
<circle cx="638.2" cy="570.2" r="5.7"/>
<circle cx="375.6" cy="583.4" r="5.7"/>
<circle cx="554.6" cy="551.7" r="5.7"/>
<circle cx="580.0" cy="591.8" r="5.7"/>
<circle cx="460.8" cy="559.8" r="5.7"/>
<circle cx="783.9" cy="640.0" r="5.7"/>
<circle cx="850.8" cy="605.2" r="5.7"/>
<circle cx="341.9" cy="540.4" r="5.7"/>
<circle cx="695.7" cy="563.3" r="5.7"/>
<circle class="m" cx="497.5" cy="514.5" r="5.7"/>
<circle cx="695.8" cy="593.9" r="5.7"/>
<circle cx="400.8" cy="576.1" r="5.7"/>
<circle cx="728.6" cy="591.6" r="5.7"/>
<circle cx="355.8" cy="541.0" r="5.7"/>
<circle cx="734.5" cy="602.4" r="5.7"/>
<circle class="m" cx="395.2" cy="493.6" r="5.7"/>
<circle class="m" cx="791.8" cy="604.0" r="5.7"/>
<circle cx="608.2" cy="608.3" r="5.7"/>
<circle cx="606.5" cy="552.7" r="5.7"/>
<circle cx="663.6" cy="552.4" r="5.7"/>
<circle cx="439.8" cy="590.0" r="5.7"/>
<circle cx="701.5" cy="618.6" r="5.7"/>
<circle cx="490.3" cy="571.5" r="5.7"/>
<circle cx="495.1" cy="548.1" r="5.7"/>
<circle class="m" cx="734.2" cy="579.0" r="5.7"/>
<circle class="m" cx="318.8" cy="584.7" r="5.7"/>
<circle class="m" cx="580.4" cy="584.9" r="5.7"/>
<circle cx="529.4" cy="545.8" r="5.7"/>
<circle cx="497.4" cy="568.4" r="5.7"/>
<circle cx="631.7" cy="543.2" r="5.7"/>
<circle cx="618.8" cy="597.6" r="5.7"/>
<circle cx="754.3" cy="616.1" r="5.7"/>
<circle cx="695.2" cy="581.5" r="5.7"/>
<circle class="m" cx="651.2" cy="557.6" r="5.7"/>
<circle cx="513.3" cy="591.1" r="5.7"/>
<circle cx="532.7" cy="559.5" r="5.7"/>
<circle cx="644.9" cy="632.1" r="5.7"/>
<circle cx="740.1" cy="592.3" r="5.7"/>
<circle cx="529.8" cy="571.5" r="5.7"/>
<circle cx="727.9" cy="598.6" r="5.7"/>
<circle cx="497.5" cy="581.4" r="5.7"/>
<circle cx="734.3" cy="595.4" r="5.7"/>
<circle cx="438.2" cy="576.0" r="5.7"/>
<circle cx="394.6" cy="584.6" r="5.7"/>
<circle cx="381.6" cy="585.2" r="5.7"/>
<circle cx="611.9" cy="549.1" r="5.7"/>
<circle class="m" cx="573.9" cy="526.4" r="5.7"/>
<circle cx="715.1" cy="599.7" r="5.7"/>
<circle class="m" cx="701.6" cy="546.1" r="5.7"/>
<circle cx="785.8" cy="627.0" r="5.7"/>
<circle class="m" cx="343.6" cy="564.8" r="5.7"/>
<circle class="m" cx="574.3" cy="520.1" r="5.7"/>
<circle cx="638.9" cy="614.2" r="5.7"/>
<circle cx="625.4" cy="614.6" r="5.7"/>
<circle cx="413.8" cy="601.0" r="5.7"/>
<circle class="m" cx="624.8" cy="546.2" r="5.7"/>
<circle cx="579.7" cy="593.1" r="5.7"/>
<circle cx="477.7" cy="621.1" r="5.7"/>
<circle cx="644.1" cy="579.7" r="5.7"/>
<circle cx="343.9" cy="480.8" r="5.7"/>
<circle class="m" cx="485.5" cy="500.4" r="5.7"/>
<circle cx="420.5" cy="590.5" r="5.7"/>
<circle cx="657.4" cy="583.6" r="5.7"/>
<circle class="m" cx="745.8" cy="520.0" r="5.7"/>
<circle cx="734.2" cy="585.4" r="5.7"/>
<circle cx="414.5" cy="619.3" r="5.7"/>
<circle class="m" cx="739.9" cy="582.3" r="5.7"/>
<circle cx="471.2" cy="567.8" r="5.7"/>
<circle cx="369.6" cy="596.6" r="5.7"/>
<circle class="m" cx="465.0" cy="558.7" r="5.7"/>
<circle cx="535.5" cy="603.7" r="5.7"/>
<circle cx="375.7" cy="571.6" r="5.7"/>
<circle class="m" cx="503.5" cy="561.0" r="5.7"/>
<circle cx="587.4" cy="570.4" r="5.7"/>
<circle cx="420.3" cy="533.5" r="5.7"/>
<circle class="m" cx="348.5" cy="461.5" r="5.7"/>
<circle cx="490.1" cy="565.3" r="5.7"/>
<circle class="m" cx="728.0" cy="549.5" r="5.7"/>
<circle cx="716.8" cy="594.7" r="5.7"/>
<circle class="m" cx="696.6" cy="588.8" r="5.7"/>
<circle class="m" cx="279.2" cy="592.4" r="5.7"/>
<circle class="m" cx="618.4" cy="503.0" r="5.7"/>
<circle cx="561.3" cy="598.2" r="5.7"/>
<circle cx="548.1" cy="555.8" r="5.7"/>
<circle cx="494.4" cy="586.3" r="5.7"/>
<circle cx="375.4" cy="530.4" r="5.7"/>
<circle cx="253.9" cy="659.0" r="5.7"/>
<circle class="m" cx="359.7" cy="505.0" r="5.7"/>
<circle class="m" cx="491.0" cy="503.1" r="5.7"/>
<circle cx="650.6" cy="568.2" r="5.7"/>
<circle cx="414.3" cy="614.6" r="5.7"/>
<circle class="m" cx="497.2" cy="494.7" r="5.7"/>
<circle cx="631.7" cy="571.3" r="5.7"/>
<circle class="m" cx="328.7" cy="605.5" r="5.7"/>
<circle cx="459.0" cy="567.9" r="5.7"/>
<circle class="m" cx="414.9" cy="503.1" r="5.7"/>
<circle cx="497.2" cy="579.0" r="5.7"/>
<circle cx="375.5" cy="580.3" r="5.7"/>
<circle class="m" cx="261.9" cy="642.3" r="5.7"/>
<circle cx="432.3" cy="567.4" r="5.7"/>
<circle cx="298.9" cy="612.0" r="5.7"/>
<circle cx="514.5" cy="578.4" r="5.7"/>
<circle cx="438.9" cy="580.9" r="5.7"/>
<circle class="m" cx="574.4" cy="567.1" r="5.7"/>
<circle cx="490.3" cy="571.9" r="5.7"/>
<circle cx="740.4" cy="633.5" r="5.7"/>
<circle cx="714.4" cy="614.8" r="5.7"/>
<circle cx="830.9" cy="627.6" r="5.7"/>
<circle cx="400.5" cy="612.7" r="5.7"/>
<circle cx="394.4" cy="592.6" r="5.7"/>
<circle cx="619.4" cy="586.0" r="5.7"/>
<circle cx="500.5" cy="575.3" r="5.7"/>
<circle cx="548.5" cy="562.3" r="5.7"/>
<circle class="m" cx="855.3" cy="600.7" r="5.7"/>
<circle cx="407.7" cy="579.7" r="5.7"/>
<circle cx="804.2" cy="587.4" r="5.7"/>
<circle cx="490.8" cy="573.1" r="5.7"/>
<circle cx="407.9" cy="607.7" r="5.7"/>
<circle class="m" cx="450.0" cy="552.4" r="5.7"/>
<circle cx="567.6" cy="606.4" r="5.7"/>
<circle cx="746.9" cy="588.0" r="5.7"/>
<circle class="m" cx="388.1" cy="498.8" r="5.7"/>
<circle class="m" cx="313.2" cy="556.4" r="5.7"/>
<circle cx="529.2" cy="591.3" r="5.7"/>
<circle cx="316.6" cy="597.9" r="5.7"/>
<circle cx="567.2" cy="610.4" r="5.7"/>
<circle cx="522.5" cy="566.3" r="5.7"/>
<circle class="m" cx="338.6" cy="506.6" r="5.7"/>
<circle cx="346.6" cy="581.9" r="5.7"/>
<circle class="m" cx="753.5" cy="574.0" r="5.7"/>
<circle class="m" cx="289.7" cy="639.6" r="5.7"/>
<circle class="m" cx="785.1" cy="562.6" r="5.7"/>
<circle cx="335.1" cy="559.6" r="5.7"/>
<circle cx="798.5" cy="616.2" r="5.7"/>
<circle cx="804.2" cy="603.4" r="5.7"/>
<circle cx="311.0" cy="596.7" r="5.7"/>
<circle cx="493.7" cy="585.4" r="5.7"/>
<circle cx="753.2" cy="617.0" r="5.7"/>
<circle cx="495.1" cy="558.2" r="5.7"/>
<circle cx="727.3" cy="595.4" r="5.7"/>
<circle cx="554.4" cy="575.0" r="5.7"/>
<circle cx="354.4" cy="622.5" r="5.7"/>
<circle cx="631.8" cy="591.9" r="5.7"/>
<circle cx="727.4" cy="596.6" r="5.7"/>
<circle cx="664.6" cy="595.4" r="5.7"/>
<circle cx="817.2" cy="608.4" r="5.7"/>
<circle cx="567.1" cy="576.0" r="5.7"/>
<circle class="m" cx="413.8" cy="564.4" r="5.7"/>
<circle class="m" cx="484.3" cy="552.8" r="5.7"/>
<circle cx="695.8" cy="604.6" r="5.7"/>
<circle class="m" cx="265.3" cy="644.8" r="5.7"/>
<circle cx="631.5" cy="572.7" r="5.7"/>
<circle cx="574.5" cy="556.7" r="5.7"/>
<circle class="m" cx="276.8" cy="623.5" r="5.7"/>
<circle cx="407.5" cy="598.1" r="5.7"/>
<circle cx="785.1" cy="591.7" r="5.7"/>
<circle class="m" cx="552.0" cy="506.0" r="5.7"/>
<circle cx="561.1" cy="561.7" r="5.7"/>
<circle cx="484.3" cy="570.6" r="5.7"/>
<circle cx="542.8" cy="552.1" r="5.7"/>
<circle cx="458.5" cy="591.3" r="5.7"/>
<circle cx="343.6" cy="601.4" r="5.7"/>
<circle cx="407.9" cy="536.9" r="5.7"/>
<circle cx="759.1" cy="618.0" r="5.7"/>
<circle class="m" cx="734.4" cy="545.6" r="5.7"/>
<circle cx="407.2" cy="562.1" r="5.7"/>
<circle cx="587.0" cy="546.5" r="5.7"/>
<circle cx="765.8" cy="570.1" r="5.7"/>
<circle cx="313.4" cy="591.9" r="5.7"/>
<circle class="m" cx="522.6" cy="396.9" r="5.7"/>
<circle class="m" cx="349.7" cy="514.8" r="5.7"/>
<circle cx="676.8" cy="507.5" r="5.7"/>
<circle cx="549.3" cy="605.5" r="5.7"/>
<circle class="m" cx="490.4" cy="465.3" r="5.7"/>
<circle class="m" cx="714.9" cy="526.3" r="5.7"/>
<circle class="m" cx="529.2" cy="503.1" r="5.7"/>
<circle cx="388.4" cy="579.4" r="5.7"/>
<circle cx="361.6" cy="534.3" r="5.7"/>
<circle cx="567.8" cy="579.6" r="5.7"/>
<circle cx="612.8" cy="545.9" r="5.7"/>
<circle class="m" cx="496.9" cy="477.5" r="5.7"/>
<circle cx="593.1" cy="578.8" r="5.7"/>
<circle cx="364.8" cy="608.4" r="5.7"/>
<circle cx="548.8" cy="558.9" r="5.7"/>
<circle cx="369.1" cy="538.2" r="5.7"/>
<circle class="m" cx="503.3" cy="463.7" r="5.7"/>
<circle cx="600.1" cy="570.4" r="5.7"/>
<circle class="m" cx="560.9" cy="524.1" r="5.7"/>
<circle class="m" cx="516.4" cy="559.1" r="5.7"/>
<circle class="m" cx="259.8" cy="615.0" r="5.7"/>
<circle class="m" cx="413.8" cy="537.4" r="5.7"/>
<circle cx="503.6" cy="605.7" r="5.7"/>
<circle cx="586.9" cy="589.1" r="5.7"/>
<circle class="m" cx="469.7" cy="555.5" r="5.7"/>
<circle cx="542.2" cy="563.3" r="5.7"/>
<circle class="m" cx="490.6" cy="520.8" r="5.7"/>
<circle class="m" cx="582.7" cy="554.7" r="5.7"/>
<circle cx="670.5" cy="574.2" r="5.7"/>
<circle class="m" cx="663.9" cy="538.4" r="5.7"/>
<circle cx="401.0" cy="576.4" r="5.7"/>
<circle cx="771.7" cy="607.0" r="5.7"/>
<circle cx="740.5" cy="589.7" r="5.7"/>
<circle cx="613.0" cy="588.8" r="5.7"/>
<circle cx="804.1" cy="636.5" r="5.7"/>
<circle class="m" cx="785.1" cy="592.9" r="5.7"/>
<circle cx="663.0" cy="572.4" r="5.7"/>
<circle cx="733.7" cy="614.5" r="5.7"/>
<circle cx="626.7" cy="564.0" r="5.7"/>
<circle cx="326.3" cy="544.2" r="5.7"/>
<circle cx="551.2" cy="573.8" r="5.7"/>
<circle cx="654.0" cy="576.7" r="5.7"/>
<circle class="m" cx="286.2" cy="631.6" r="5.7"/>
<circle class="m" cx="361.3" cy="549.0" r="5.7"/>
<circle class="m" cx="567.6" cy="523.6" r="5.7"/>
<circle cx="656.7" cy="583.8" r="5.7"/>
<circle cx="493.2" cy="591.9" r="5.7"/>
<circle cx="478.7" cy="565.8" r="5.7"/>
<circle cx="557.1" cy="585.7" r="5.7"/>
<circle cx="561.5" cy="590.9" r="5.7"/>
<circle cx="779.0" cy="637.1" r="5.7"/>
<circle cx="752.8" cy="617.3" r="5.7"/>
<circle cx="432.6" cy="583.6" r="5.7"/>
<circle cx="452.1" cy="567.8" r="5.7"/>
<circle cx="778.6" cy="578.7" r="5.7"/>
<circle class="m" cx="464.6" cy="549.1" r="5.7"/>
<circle cx="477.3" cy="577.5" r="5.7"/>
<circle class="m" cx="364.5" cy="514.6" r="5.7"/>
<circle class="m" cx="484.0" cy="473.4" r="5.7"/>
<circle cx="650.9" cy="578.5" r="5.7"/>
<circle cx="445.8" cy="536.7" r="5.7"/>
<circle class="m" cx="350.6" cy="491.6" r="5.7"/>
<circle cx="445.5" cy="585.4" r="5.7"/>
<circle cx="288.4" cy="592.6" r="5.7"/>
<circle cx="528.6" cy="555.8" r="5.7"/>
<circle cx="581.8" cy="609.3" r="5.7"/>
<circle class="m" cx="798.0" cy="589.0" r="5.7"/>
<circle cx="778.9" cy="624.6" r="5.7"/>
<circle cx="365.1" cy="544.2" r="5.7"/>
<circle class="m" cx="426.9" cy="476.9" r="5.7"/>
<circle cx="849.0" cy="646.8" r="5.7"/>
<circle class="m" cx="322.3" cy="472.6" r="5.7"/>
<circle cx="772.2" cy="602.9" r="5.7"/>
<circle cx="631.7" cy="546.5" r="5.7"/>
<circle cx="491.4" cy="577.7" r="5.7"/>
<circle cx="445.3" cy="586.2" r="5.7"/>
<circle cx="516.4" cy="584.0" r="5.7"/>
<circle cx="313.2" cy="623.5" r="5.7"/>
<circle cx="618.4" cy="606.6" r="5.7"/>
<circle cx="369.3" cy="565.2" r="5.7"/>
<circle cx="573.2" cy="551.5" r="5.7"/>
<circle class="m" cx="782.2" cy="569.0" r="5.7"/>
<circle class="m" cx="580.0" cy="507.6" r="5.7"/>
<circle cx="401.2" cy="613.2" r="5.7"/>
<circle cx="589.9" cy="587.8" r="5.7"/>
<circle class="m" cx="391.3" cy="503.6" r="5.7"/>
<circle class="m" cx="270.3" cy="629.2" r="5.7"/>
<circle cx="560.6" cy="578.3" r="5.7"/>
<circle cx="379.4" cy="563.3" r="5.7"/>
<circle cx="842.6" cy="630.7" r="5.7"/>
<circle class="m" cx="471.7" cy="453.1" r="5.7"/>
<circle cx="650.7" cy="580.8" r="5.7"/>
<circle cx="651.7" cy="595.4" r="5.7"/>
<circle cx="533.9" cy="592.5" r="5.7"/>
<circle cx="708.7" cy="606.9" r="5.7"/>
<circle cx="753.4" cy="613.6" r="5.7"/>
<circle class="m" cx="766.3" cy="586.0" r="5.7"/>
<circle class="m" cx="740.4" cy="571.6" r="5.7"/>
<circle cx="381.2" cy="564.7" r="5.7"/>
<circle cx="413.7" cy="556.8" r="5.7"/>
<circle cx="638.1" cy="571.8" r="5.7"/>
<circle cx="824.6" cy="608.9" r="5.7"/>
<circle class="m" cx="388.3" cy="538.8" r="5.7"/>
<circle class="m" cx="600.3" cy="548.0" r="5.7"/>
<circle class="m" cx="748.1" cy="569.7" r="5.7"/>
<circle class="m" cx="637.2" cy="565.6" r="5.7"/>
<circle cx="324.4" cy="581.2" r="5.7"/>
<circle class="m" cx="479.0" cy="551.1" r="5.7"/>
<circle cx="675.7" cy="551.4" r="5.7"/>
<circle class="m" cx="426.9" cy="480.6" r="5.7"/>
<circle cx="739.5" cy="618.8" r="5.7"/>
<circle class="m" cx="715.9" cy="594.3" r="5.7"/>
<circle cx="803.8" cy="589.6" r="5.7"/>
<circle cx="535.4" cy="561.0" r="5.7"/>
<circle cx="452.8" cy="605.7" r="5.7"/>
<circle cx="484.6" cy="523.2" r="5.7"/>
<circle cx="791.6" cy="586.2" r="5.7"/>
<circle cx="394.0" cy="606.9" r="5.7"/>
<circle class="m" cx="279.7" cy="598.7" r="5.7"/>
<circle cx="504.3" cy="582.9" r="5.7"/>
<circle cx="312.4" cy="586.7" r="5.7"/>
<circle cx="612.6" cy="538.9" r="5.7"/>
<circle cx="446.2" cy="535.3" r="5.7"/>
<circle cx="466.0" cy="527.6" r="5.7"/>
<circle cx="388.2" cy="599.6" r="5.7"/>
<circle cx="548.2" cy="550.2" r="5.7"/>
<circle cx="670.8" cy="588.3" r="5.7"/>
<circle cx="415.6" cy="563.9" r="5.7"/>
<circle cx="726.0" cy="567.6" r="5.7"/>
<circle cx="556.7" cy="586.8" r="5.7"/>
<circle cx="753.4" cy="602.4" r="5.7"/>
<circle cx="701.4" cy="584.7" r="5.7"/>
<circle class="m" cx="624.6" cy="566.0" r="5.7"/>
<circle cx="669.6" cy="595.9" r="5.7"/>
<circle cx="542.3" cy="561.6" r="5.7"/>
<circle cx="516.1" cy="577.0" r="5.7"/>
<circle class="m" cx="721.3" cy="546.7" r="5.7"/>
<circle cx="339.7" cy="586.3" r="5.7"/>
<circle cx="612.5" cy="590.7" r="5.7"/>
<circle cx="558.3" cy="570.0" r="5.7"/>
<circle cx="798.9" cy="636.7" r="5.7"/>
<circle cx="618.5" cy="592.3" r="5.7"/>
<circle cx="650.3" cy="621.2" r="5.7"/>
<circle cx="382.2" cy="593.2" r="5.7"/>
<circle cx="337.9" cy="568.1" r="5.7"/>
<circle cx="708.5" cy="554.0" r="5.7"/>
<circle cx="416.9" cy="537.5" r="5.7"/>
<circle cx="547.7" cy="601.0" r="5.7"/>
<circle class="m" cx="625.5" cy="472.1" r="5.7"/>
<circle cx="356.1" cy="578.3" r="5.7"/>
<circle class="m" cx="299.1" cy="555.2" r="5.7"/>
<circle class="m" cx="613.8" cy="496.8" r="5.7"/>
<circle cx="753.2" cy="594.8" r="5.7"/>
<circle class="m" cx="747.1" cy="573.7" r="5.7"/>
<circle cx="676.0" cy="601.3" r="5.7"/>
<circle cx="792.3" cy="605.7" r="5.7"/>
<circle cx="427.5" cy="556.4" r="5.7"/>
<circle class="m" cx="638.1" cy="493.1" r="5.7"/>
<circle class="m" cx="798.0" cy="585.8" r="5.7"/>
<circle cx="765.8" cy="592.0" r="5.7"/>
<circle cx="420.3" cy="560.7" r="5.7"/>
<circle cx="586.7" cy="604.1" r="5.7"/>
<circle cx="394.6" cy="588.5" r="5.7"/>
<circle cx="400.5" cy="585.9" r="5.7"/>
<circle cx="592.9" cy="607.5" r="5.7"/>
<circle cx="452.2" cy="601.4" r="5.7"/>
<circle class="m" cx="637.9" cy="489.3" r="5.7"/>
<circle class="m" cx="446.5" cy="484.7" r="5.7"/>
<circle class="m" cx="547.5" cy="536.3" r="5.7"/>
<circle cx="593.0" cy="558.1" r="5.7"/>
<circle cx="631.3" cy="576.7" r="5.7"/>
<circle class="m" cx="695.9" cy="561.3" r="5.7"/>
<circle cx="446.1" cy="553.5" r="5.7"/>
<circle cx="445.8" cy="610.2" r="5.7"/>
<circle class="m" cx="817.0" cy="577.0" r="5.7"/>
<circle cx="272.0" cy="628.3" r="5.7"/>
<circle cx="465.4" cy="571.8" r="5.7"/>
<circle cx="599.8" cy="541.5" r="5.7"/>
<circle cx="452.4" cy="527.9" r="5.7"/>
<circle cx="657.1" cy="567.2" r="5.7"/>
<circle cx="360.6" cy="583.2" r="5.7"/>
<circle cx="407.8" cy="572.7" r="5.7"/>
<circle cx="573.7" cy="549.5" r="5.7"/>
<circle cx="695.3" cy="628.3" r="5.7"/>
<circle class="m" cx="375.2" cy="503.5" r="5.7"/>
<circle cx="567.2" cy="566.3" r="5.7"/>
<circle class="m" cx="708.2" cy="512.3" r="5.7"/>
<circle class="m" cx="769.1" cy="579.3" r="5.7"/>
<circle class="m" cx="510.3" cy="549.3" r="5.7"/>
<circle cx="676.6" cy="592.7" r="5.7"/>
<circle class="m" cx="605.9" cy="450.9" r="5.7"/>
<circle cx="734.0" cy="563.1" r="5.7"/>
<circle cx="375.6" cy="586.1" r="5.7"/>
<circle class="m" cx="277.0" cy="631.4" r="5.7"/>
<circle cx="567.8" cy="598.2" r="5.7"/>
<circle class="m" cx="378.4" cy="481.0" r="5.7"/>
<circle cx="375.5" cy="570.6" r="5.7"/>
<circle class="m" cx="779.7" cy="568.2" r="5.7"/>
<circle cx="486.3" cy="562.7" r="5.7"/>
<circle class="m" cx="657.2" cy="562.1" r="5.7"/>
<circle class="m" cx="541.3" cy="518.4" r="5.7"/>
<circle cx="439.2" cy="574.7" r="5.7"/>
<circle cx="447.2" cy="583.4" r="5.7"/>
<circle cx="411.6" cy="559.2" r="5.7"/>
<circle class="m" cx="785.8" cy="589.7" r="5.7"/>
<circle cx="503.2" cy="566.7" r="5.7"/>
<circle class="m" cx="580.3" cy="510.4" r="5.7"/>
<circle cx="695.7" cy="614.3" r="5.7"/>
<circle cx="595.3" cy="585.9" r="5.7"/>
<circle cx="567.0" cy="605.4" r="5.7"/>
<circle class="m" cx="676.3" cy="560.8" r="5.7"/>
<circle cx="402.9" cy="531.9" r="5.7"/>
<circle cx="663.8" cy="573.2" r="5.7"/>
<circle cx="386.1" cy="575.4" r="5.7"/>
<circle cx="319.6" cy="602.9" r="5.7"/>
<circle cx="593.4" cy="573.7" r="5.7"/>
<circle cx="304.4" cy="580.7" r="5.7"/>
<circle cx="694.3" cy="581.1" r="5.7"/>
<circle cx="335.6" cy="586.1" r="5.7"/>
<circle class="m" cx="573.8" cy="524.6" r="5.7"/>
<circle cx="420.1" cy="574.0" r="5.7"/>
<circle cx="523.0" cy="571.7" r="5.7"/>
<circle class="m" cx="332.0" cy="551.9" r="5.7"/>
<circle cx="631.6" cy="551.7" r="5.7"/>
<circle cx="439.8" cy="589.4" r="5.7"/>
<circle cx="359.6" cy="557.5" r="5.7"/>
<circle cx="382.0" cy="556.1" r="5.7"/>
<circle cx="535.3" cy="546.4" r="5.7"/>
<circle cx="747.0" cy="630.0" r="5.7"/>
<circle cx="790.6" cy="611.6" r="5.7"/>
<circle class="m" cx="322.6" cy="585.7" r="5.7"/>
<circle cx="356.3" cy="469.5" r="5.7"/>
<circle cx="334.4" cy="535.1" r="5.7"/>
<circle cx="633.2" cy="593.5" r="5.7"/>
<circle class="m" cx="375.6" cy="500.6" r="5.7"/>
<circle cx="567.4" cy="557.7" r="5.7"/>
<circle class="m" cx="398.2" cy="554.0" r="5.7"/>
<circle cx="567.0" cy="562.1" r="5.7"/>
<circle cx="779.3" cy="574.7" r="5.7"/>
<circle cx="746.9" cy="608.1" r="5.7"/>
<circle cx="420.0" cy="565.1" r="5.7"/>
<circle cx="369.2" cy="516.9" r="5.7"/>
<circle class="m" cx="446.1" cy="561.0" r="5.7"/>
<circle class="m" cx="548.7" cy="542.8" r="5.7"/>
<circle cx="553.9" cy="583.1" r="5.7"/>
<circle cx="785.5" cy="580.4" r="5.7"/>
<circle cx="453.1" cy="575.4" r="5.7"/>
<circle class="m" cx="497.4" cy="482.4" r="5.7"/>
<circle cx="266.7" cy="624.6" r="5.7"/>
<circle class="m" cx="693.3" cy="595.2" r="5.7"/>
<circle cx="401.7" cy="577.3" r="5.7"/>
<circle cx="368.3" cy="564.0" r="5.7"/>
<circle cx="702.1" cy="585.2" r="5.7"/>
<circle cx="523.0" cy="592.6" r="5.7"/>
<circle class="m" cx="478.1" cy="451.5" r="5.7"/>
<circle cx="484.7" cy="531.6" r="5.7"/>
<circle cx="740.6" cy="613.2" r="5.7"/>
<circle cx="759.6" cy="590.4" r="5.7"/>
<circle cx="522.9" cy="618.5" r="5.7"/>
<circle cx="554.4" cy="593.2" r="5.7"/>
<circle cx="592.9" cy="568.9" r="5.7"/>
<circle cx="503.1" cy="570.4" r="5.7"/>
<circle cx="683.0" cy="593.7" r="5.7"/>
<circle cx="420.0" cy="591.8" r="5.7"/>
<circle cx="458.5" cy="586.8" r="5.7"/>
<circle class="m" cx="601.7" cy="512.3" r="5.7"/>
<circle cx="478.5" cy="588.7" r="5.7"/>
<circle cx="657.2" cy="566.5" r="5.7"/>
<circle class="m" cx="657.4" cy="577.1" r="5.7"/>
<circle class="m" cx="733.6" cy="506.6" r="5.7"/>
<circle cx="714.6" cy="586.6" r="5.7"/>
<circle cx="529.1" cy="553.5" r="5.7"/>
<circle class="m" cx="333.5" cy="513.2" r="5.7"/>
<circle cx="278.5" cy="636.7" r="5.7"/>
<circle class="m" cx="402.2" cy="512.1" r="5.7"/>
<circle cx="375.5" cy="577.5" r="5.7"/>
<circle cx="471.2" cy="551.2" r="5.7"/>
<circle class="m" cx="785.0" cy="570.3" r="5.7"/>
<circle cx="516.9" cy="589.9" r="5.7"/>
<circle cx="676.1" cy="567.8" r="5.7"/>
<circle cx="388.5" cy="590.1" r="5.7"/>
<circle cx="326.5" cy="605.9" r="5.7"/>
<circle cx="785.1" cy="552.4" r="5.7"/>
<circle class="m" cx="548.6" cy="484.9" r="5.7"/>
<circle cx="651.0" cy="574.8" r="5.7"/>
<circle cx="695.2" cy="624.0" r="5.7"/>
<circle cx="479.2" cy="548.9" r="5.7"/>
<circle cx="328.8" cy="548.6" r="5.7"/>
<circle cx="388.2" cy="579.3" r="5.7"/>
<circle cx="413.7" cy="610.7" r="5.7"/>
<circle cx="810.3" cy="592.4" r="5.7"/>
<circle cx="612.4" cy="596.7" r="5.7"/>
<circle cx="401.2" cy="589.9" r="5.7"/>
<circle cx="401.2" cy="554.2" r="5.7"/>
<circle cx="426.4" cy="577.9" r="5.7"/>
<circle cx="325.3" cy="549.8" r="5.7"/>
<circle cx="529.2" cy="594.0" r="5.7"/>
<circle class="m" cx="364.7" cy="592.1" r="5.7"/>
<circle class="m" cx="339.5" cy="546.6" r="5.7"/>
<circle cx="680.2" cy="561.2" r="5.7"/>
<circle cx="335.0" cy="581.0" r="5.7"/>
<circle cx="369.3" cy="548.1" r="5.7"/>
<circle cx="445.9" cy="574.5" r="5.7"/>
<circle cx="364.7" cy="587.0" r="5.7"/>
<circle class="m" cx="551.8" cy="568.4" r="5.7"/>
<circle cx="612.4" cy="565.5" r="5.7"/>
<circle cx="407.8" cy="554.4" r="5.7"/>
<circle cx="567.9" cy="609.1" r="5.7"/>
<circle cx="442.1" cy="557.1" r="5.7"/>
<circle cx="355.5" cy="568.3" r="5.7"/>
<circle cx="753.4" cy="601.9" r="5.7"/>
<circle cx="368.4" cy="548.5" r="5.7"/>
<circle class="m" cx="330.9" cy="492.4" r="5.7"/>
<circle class="m" cx="624.6" cy="522.3" r="5.7"/>
<circle cx="623.7" cy="563.8" r="5.7"/>
<circle cx="465.2" cy="509.3" r="5.7"/>
<circle class="m" cx="627.6" cy="540.6" r="5.7"/>
<circle cx="427.2" cy="554.1" r="5.7"/>
<circle cx="451.9" cy="558.1" r="5.7"/>
<circle class="m" cx="465.3" cy="499.9" r="5.7"/>
<circle cx="633.4" cy="582.8" r="5.7"/>
<circle cx="477.9" cy="576.7" r="5.7"/>
<circle cx="388.4" cy="611.0" r="5.7"/>
<circle cx="319.4" cy="602.2" r="5.7"/>
<circle class="m" cx="727.4" cy="563.2" r="5.7"/>
<circle cx="516.6" cy="606.0" r="5.7"/>
<circle cx="376.0" cy="593.1" r="5.7"/>
<circle cx="772.1" cy="614.7" r="5.7"/>
<circle class="m" cx="548.1" cy="537.3" r="5.7"/>
<circle cx="288.8" cy="620.7" r="5.7"/>
<circle class="m" cx="586.2" cy="528.5" r="5.7"/>
<circle cx="605.4" cy="550.3" r="5.7"/>
<circle cx="657.5" cy="579.3" r="5.7"/>
<circle class="m" cx="650.7" cy="546.7" r="5.7"/>
<circle cx="657.0" cy="593.9" r="5.7"/>
<circle cx="656.9" cy="596.0" r="5.7"/>
<circle cx="510.2" cy="590.4" r="5.7"/>
<circle cx="720.9" cy="568.3" r="5.7"/>
<circle class="m" cx="434.0" cy="547.2" r="5.7"/>
<circle class="m" cx="493.1" cy="526.9" r="5.7"/>
<circle class="m" cx="573.7" cy="536.2" r="5.7"/>
<circle cx="721.6" cy="580.4" r="5.7"/>
<circle class="m" cx="330.1" cy="582.0" r="5.7"/>
<circle cx="413.9" cy="579.7" r="5.7"/>
<circle cx="612.8" cy="572.0" r="5.7"/>
<circle cx="618.6" cy="583.6" r="5.7"/>
<circle cx="741.4" cy="613.9" r="5.7"/>
<circle cx="451.4" cy="583.8" r="5.7"/>
<circle class="m" cx="401.4" cy="507.3" r="5.7"/>
<circle cx="426.8" cy="540.9" r="5.7"/>
<circle cx="465.0" cy="596.3" r="5.7"/>
<circle class="m" cx="714.8" cy="562.6" r="5.7"/>
<circle cx="644.4" cy="582.4" r="5.7"/>
<circle cx="458.8" cy="522.6" r="5.7"/>
<circle cx="465.7" cy="573.2" r="5.7"/>
<circle cx="542.8" cy="568.8" r="5.7"/>
<circle class="m" cx="367.3" cy="495.4" r="5.7"/>
<circle class="m" cx="452.7" cy="502.6" r="5.7"/>
<circle cx="645.0" cy="516.7" r="5.7"/>
<circle class="m" cx="772.2" cy="599.3" r="5.7"/>
<circle cx="364.4" cy="532.4" r="5.7"/>
<circle class="m" cx="740.4" cy="593.6" r="5.7"/>
<circle class="m" cx="401.9" cy="504.9" r="5.7"/>
<circle cx="752.7" cy="598.8" r="5.7"/>
<circle cx="514.0" cy="559.4" r="5.7"/>
<circle cx="351.6" cy="551.3" r="5.7"/>
<circle cx="753.1" cy="605.8" r="5.7"/>
<circle class="m" cx="660.9" cy="520.1" r="5.7"/>
<circle class="m" cx="739.7" cy="562.6" r="5.7"/>
<circle class="m" cx="593.0" cy="512.5" r="5.7"/>
<circle cx="721.2" cy="553.7" r="5.7"/>
<circle cx="388.4" cy="614.0" r="5.7"/>
<circle cx="353.1" cy="595.6" r="5.7"/>
<circle cx="401.4" cy="604.7" r="5.7"/>
<circle class="m" cx="765.7" cy="612.6" r="5.7"/>
<circle cx="561.3" cy="565.3" r="5.7"/>
<circle cx="395.2" cy="589.3" r="5.7"/>
<circle class="m" cx="452.3" cy="508.4" r="5.7"/>
<circle cx="586.5" cy="548.5" r="5.7"/>
<circle cx="688.5" cy="563.3" r="5.7"/>
<circle cx="484.8" cy="628.5" r="5.7"/>
<circle class="m" cx="721.5" cy="557.9" r="5.7"/>
<circle cx="326.8" cy="613.1" r="5.7"/>
<circle cx="747.2" cy="614.0" r="5.7"/>
<circle cx="446.9" cy="568.2" r="5.7"/>
<circle cx="753.2" cy="628.6" r="5.7"/>
<circle cx="394.5" cy="576.6" r="5.7"/>
<circle cx="529.8" cy="601.5" r="5.7"/>
<circle cx="311.2" cy="613.0" r="5.7"/>
<circle class="m" cx="381.5" cy="549.1" r="5.7"/>
<circle cx="829.9" cy="631.3" r="5.7"/>
<circle cx="554.7" cy="623.8" r="5.7"/>
<circle cx="625.2" cy="558.2" r="5.7"/>
<circle cx="495.6" cy="568.1" r="5.7"/>
<circle class="m" cx="484.6" cy="522.2" r="5.7"/>
<circle class="m" cx="567.7" cy="544.8" r="5.7"/>
<circle cx="656.9" cy="567.6" r="5.7"/>
<circle class="m" cx="818.6" cy="577.3" r="5.7"/>
<circle class="m" cx="816.3" cy="600.3" r="5.7"/>
<circle cx="644.9" cy="569.6" r="5.7"/>
<circle class="m" cx="290.9" cy="583.1" r="5.7"/>
<circle class="m" cx="817.9" cy="583.1" r="5.7"/>
<circle cx="516.5" cy="592.9" r="5.7"/>
<circle cx="714.4" cy="622.0" r="5.7"/>
<circle cx="561.1" cy="597.3" r="5.7"/>
<circle cx="460.6" cy="572.5" r="5.7"/>
<circle cx="490.8" cy="569.9" r="5.7"/>
<circle cx="394.2" cy="579.5" r="5.7"/>
<circle cx="503.6" cy="576.5" r="5.7"/>
<circle class="m" cx="331.4" cy="580.5" r="5.7"/>
<circle cx="369.3" cy="575.6" r="5.7"/>
<circle cx="650.7" cy="571.5" r="5.7"/>
<circle cx="708.2" cy="592.5" r="5.7"/>
<circle class="m" cx="568.0" cy="510.6" r="5.7"/>
<circle cx="374.8" cy="594.4" r="5.7"/>
<circle cx="715.2" cy="599.7" r="5.7"/>
<circle cx="638.0" cy="618.9" r="5.7"/>
<circle cx="721.9" cy="621.8" r="5.7"/>
<circle class="m" cx="631.6" cy="578.6" r="5.7"/>
<circle cx="666.1" cy="577.1" r="5.7"/>
<circle cx="798.2" cy="615.2" r="5.7"/>
<circle cx="759.3" cy="610.3" r="5.7"/>
<circle class="m" cx="490.9" cy="524.0" r="5.7"/>
<circle cx="360.0" cy="604.8" r="5.7"/>
<circle cx="663.4" cy="588.7" r="5.7"/>
<circle cx="849.2" cy="617.9" r="5.7"/>
<circle cx="670.3" cy="597.9" r="5.7"/>
<circle cx="580.8" cy="588.3" r="5.7"/>
<circle class="m" cx="560.8" cy="610.1" r="5.7"/>
<circle cx="695.8" cy="600.9" r="5.7"/>
<circle cx="426.7" cy="570.1" r="5.7"/>
<circle cx="695.1" cy="606.9" r="5.7"/>
<circle cx="766.6" cy="577.1" r="5.7"/>
<circle cx="750.1" cy="585.6" r="5.7"/>
<circle class="m" cx="653.6" cy="509.8" r="5.7"/>
<circle cx="382.2" cy="587.4" r="5.7"/>
<circle cx="702.5" cy="593.0" r="5.7"/>
<circle class="m" cx="721.1" cy="581.1" r="5.7"/>
<circle class="m" cx="726.8" cy="577.1" r="5.7"/>
<circle cx="578.7" cy="574.8" r="5.7"/>
<circle cx="356.7" cy="585.5" r="5.7"/>
<circle cx="663.5" cy="582.6" r="5.7"/>
<circle class="m" cx="740.2" cy="574.6" r="5.7"/>
<circle cx="449.9" cy="615.1" r="5.7"/>
<circle cx="382.1" cy="621.5" r="5.7"/>
<circle cx="413.8" cy="610.9" r="5.7"/>
<circle cx="708.3" cy="590.1" r="5.7"/>
<circle class="m" cx="439.8" cy="533.1" r="5.7"/>
<circle cx="559.2" cy="571.1" r="5.7"/>
<circle class="m" cx="727.5" cy="545.3" r="5.7"/>
<circle cx="529.1" cy="573.0" r="5.7"/>
<circle cx="769.4" cy="587.5" r="5.7"/>
<circle class="m" cx="364.6" cy="484.4" r="5.7"/>
<circle class="m" cx="657.0" cy="567.9" r="5.7"/>
<circle class="m" cx="382.3" cy="456.8" r="5.7"/>
<circle class="m" cx="471.9" cy="501.3" r="5.7"/>
<circle cx="741.0" cy="621.6" r="5.7"/>
<circle cx="504.3" cy="559.5" r="5.7"/>
<circle cx="804.2" cy="604.8" r="5.7"/>
<circle class="m" cx="785.5" cy="582.9" r="5.7"/>
<circle cx="395.6" cy="561.0" r="5.7"/>
<circle cx="408.1" cy="550.4" r="5.7"/>
<circle class="m" cx="704.6" cy="509.7" r="5.7"/>
<circle cx="433.0" cy="581.0" r="5.7"/>
<circle cx="465.6" cy="578.6" r="5.7"/>
<circle class="m" cx="332.1" cy="566.0" r="5.7"/>
<circle cx="279.9" cy="639.8" r="5.7"/>
<circle cx="338.4" cy="582.9" r="5.7"/>
<circle cx="615.8" cy="607.6" r="5.7"/>
<circle cx="401.0" cy="569.7" r="5.7"/>
<circle cx="421.0" cy="583.5" r="5.7"/>
<circle cx="424.5" cy="568.8" r="5.7"/>
<circle cx="561.2" cy="565.9" r="5.7"/>
<circle cx="561.6" cy="546.0" r="5.7"/>
<circle class="m" cx="318.5" cy="580.9" r="5.7"/>
<circle cx="535.3" cy="604.7" r="5.7"/>
<circle class="m" cx="276.0" cy="623.3" r="5.7"/>
<circle cx="645.1" cy="590.9" r="5.7"/>
<circle cx="401.2" cy="601.4" r="5.7"/>
<circle cx="490.7" cy="540.9" r="5.7"/>
<circle class="m" cx="286.7" cy="588.5" r="5.7"/>
<circle cx="651.3" cy="565.1" r="5.7"/>
<circle cx="470.8" cy="576.5" r="5.7"/>
<circle cx="637.8" cy="589.4" r="5.7"/>
<circle cx="452.6" cy="578.8" r="5.7"/>
<circle class="m" cx="451.0" cy="536.1" r="5.7"/>
<circle cx="503.9" cy="560.4" r="5.7"/>
<circle cx="625.6" cy="562.5" r="5.7"/>
<circle cx="439.1" cy="574.8" r="5.7"/>
<circle cx="689.2" cy="582.5" r="5.7"/>
<circle cx="458.3" cy="563.8" r="5.7"/>
<circle cx="554.3" cy="558.5" r="5.7"/>
<circle class="m" cx="275.5" cy="627.5" r="5.7"/>
<circle cx="644.5" cy="617.6" r="5.7"/>
<circle cx="805.3" cy="604.3" r="5.7"/>
<circle cx="478.3" cy="549.5" r="5.7"/>
<circle class="m" cx="276.3" cy="566.4" r="5.7"/>
<circle class="m" cx="789.4" cy="576.3" r="5.7"/>
<circle class="m" cx="670.0" cy="521.9" r="5.7"/>
<circle class="m" cx="357.0" cy="527.3" r="5.7"/>
<circle cx="624.6" cy="564.8" r="5.7"/>
<circle cx="584.6" cy="581.1" r="5.7"/>
<circle class="m" cx="490.7" cy="573.4" r="5.7"/>
<circle class="m" cx="445.3" cy="472.4" r="5.7"/>
<circle cx="367.1" cy="491.1" r="5.7"/>
<circle cx="766.6" cy="624.7" r="5.7"/>
<circle cx="352.4" cy="489.3" r="5.7"/>
<circle cx="690.1" cy="600.0" r="5.7"/>
<circle cx="587.0" cy="550.0" r="5.7"/>
<circle class="m" cx="446.2" cy="508.2" r="5.7"/>
<circle cx="618.9" cy="598.4" r="5.7"/>
<circle cx="414.4" cy="560.4" r="5.7"/>
<circle cx="330.3" cy="547.4" r="5.7"/>
<circle cx="567.5" cy="579.2" r="5.7"/>
<circle class="m" cx="350.1" cy="444.3" r="5.7"/>
<circle cx="427.0" cy="565.7" r="5.7"/>
<circle cx="772.7" cy="571.8" r="5.7"/>
<circle class="m" cx="333.2" cy="578.9" r="5.7"/>
<circle cx="753.0" cy="593.3" r="5.7"/>
<circle cx="733.5" cy="598.1" r="5.7"/>
<circle class="m" cx="676.2" cy="557.0" r="5.7"/>
<circle cx="663.8" cy="559.9" r="5.7"/>
<circle class="m" cx="388.7" cy="547.5" r="5.7"/>
<circle cx="436.5" cy="585.7" r="5.7"/>
<circle class="m" cx="481.8" cy="540.2" r="5.7"/>
<circle cx="811.6" cy="614.6" r="5.7"/>
<circle class="m" cx="481.6" cy="487.8" r="5.7"/>
<circle cx="348.1" cy="516.7" r="5.7"/>
<circle cx="459.1" cy="511.3" r="5.7"/>
<circle cx="314.9" cy="623.9" r="5.7"/>
<circle cx="459.2" cy="600.8" r="5.7"/>
<circle cx="708.7" cy="580.2" r="5.7"/>
<circle class="m" cx="637.6" cy="557.6" r="5.7"/>
<circle cx="827.0" cy="607.0" r="5.7"/>
<circle class="m" cx="345.1" cy="477.5" r="5.7"/>
<circle cx="535.5" cy="619.6" r="5.7"/>
<circle cx="484.5" cy="591.5" r="5.7"/>
<circle class="m" cx="715.2" cy="556.1" r="5.7"/>
<circle class="m" cx="709.7" cy="535.1" r="5.7"/>
<circle cx="529.7" cy="586.7" r="5.7"/>
<circle cx="285.9" cy="649.1" r="5.7"/>
<circle cx="682.8" cy="602.9" r="5.7"/>
<circle class="m" cx="516.9" cy="493.1" r="5.7"/>
<circle class="m" cx="342.5" cy="508.3" r="5.7"/>
<circle cx="599.4" cy="618.9" r="5.7"/>
<circle cx="491.2" cy="578.3" r="5.7"/>
<circle cx="599.7" cy="601.9" r="5.7"/>
<circle cx="631.3" cy="612.2" r="5.7"/>
<circle cx="849.1" cy="633.2" r="5.7"/>
<circle cx="638.2" cy="592.8" r="5.7"/>
<circle class="m" cx="740.8" cy="564.8" r="5.7"/>
<circle cx="759.5" cy="567.3" r="5.7"/>
<circle cx="522.9" cy="579.1" r="5.7"/>
<circle cx="466.0" cy="470.5" r="5.7"/>
<circle cx="662.5" cy="572.6" r="5.7"/>
<circle cx="445.7" cy="575.9" r="5.7"/>
<circle cx="689.4" cy="584.5" r="5.7"/>
<circle class="m" cx="429.0" cy="539.0" r="5.7"/>
<circle cx="606.4" cy="604.6" r="5.7"/>
<circle cx="277.3" cy="640.3" r="5.7"/>
<circle cx="386.0" cy="567.5" r="5.7"/>
<circle class="m" cx="739.7" cy="606.2" r="5.7"/>
<circle class="m" cx="439.3" cy="552.2" r="5.7"/>
<circle cx="420.7" cy="568.5" r="5.7"/>
<circle cx="407.5" cy="490.2" r="5.7"/>
<circle cx="420.5" cy="592.2" r="5.7"/>
<circle class="m" cx="407.9" cy="534.9" r="5.7"/>
<circle cx="502.6" cy="549.2" r="5.7"/>
<circle cx="746.7" cy="602.6" r="5.7"/>
<circle cx="747.0" cy="586.8" r="5.7"/>
<circle cx="381.9" cy="574.8" r="5.7"/>
<circle cx="535.8" cy="566.9" r="5.7"/>
<circle cx="697.3" cy="585.0" r="5.7"/>
<circle cx="741.7" cy="606.9" r="5.7"/>
<circle cx="753.1" cy="628.2" r="5.7"/>
<circle cx="413.9" cy="558.9" r="5.7"/>
<circle cx="357.1" cy="579.5" r="5.7"/>
<circle cx="388.1" cy="596.4" r="5.7"/>
<circle cx="422.3" cy="618.9" r="5.7"/>
<circle cx="529.6" cy="563.2" r="5.7"/>
<circle cx="733.4" cy="600.2" r="5.7"/>
<circle cx="651.7" cy="609.7" r="5.7"/>
<circle cx="575.2" cy="562.4" r="5.7"/>
<circle cx="446.1" cy="606.0" r="5.7"/>
<circle cx="701.3" cy="584.4" r="5.7"/>
<circle class="m" cx="497.9" cy="518.8" r="5.7"/>
<circle class="m" cx="503.1" cy="524.1" r="5.7"/>
<circle class="m" cx="682.8" cy="575.3" r="5.7"/>
<circle class="m" cx="268.7" cy="638.5" r="5.7"/>
<circle cx="252.3" cy="660.1" r="5.7"/>
<circle class="m" cx="778.4" cy="576.5" r="5.7"/>
<circle cx="663.3" cy="593.6" r="5.7"/>
<circle cx="491.1" cy="573.5" r="5.7"/>
<circle cx="413.9" cy="592.1" r="5.7"/>
<circle cx="445.4" cy="531.9" r="5.7"/>
<circle cx="727.9" cy="594.7" r="5.7"/>
<circle cx="255.8" cy="650.5" r="5.7"/>
<circle class="m" cx="766.3" cy="610.3" r="5.7"/>
<circle cx="369.1" cy="530.9" r="5.7"/>
<circle cx="573.6" cy="606.3" r="5.7"/>
<circle cx="439.8" cy="584.1" r="5.7"/>
<circle cx="351.2" cy="596.1" r="5.7"/>
<circle cx="586.9" cy="536.0" r="5.7"/>
<circle cx="541.9" cy="583.6" r="5.7"/>
<circle cx="561.5" cy="567.7" r="5.7"/>
<circle cx="650.4" cy="609.7" r="5.7"/>
<circle cx="445.1" cy="524.6" r="5.7"/>
<circle class="m" cx="585.9" cy="548.6" r="5.7"/>
<circle cx="618.6" cy="575.2" r="5.7"/>
<circle class="m" cx="567.4" cy="565.4" r="5.7"/>
<circle cx="571.6" cy="566.7" r="5.7"/>
<circle cx="515.9" cy="568.3" r="5.7"/>
<circle cx="707.7" cy="626.6" r="5.7"/>
<circle cx="368.9" cy="592.7" r="5.7"/>
<circle cx="593.5" cy="596.3" r="5.7"/>
<circle class="m" cx="401.3" cy="558.1" r="5.7"/>
<circle class="m" cx="772.5" cy="586.8" r="5.7"/>
<circle class="m" cx="357.2" cy="512.0" r="5.7"/>
<circle cx="509.5" cy="607.9" r="5.7"/>
<circle class="m" cx="688.6" cy="582.2" r="5.7"/>
<circle class="m" cx="263.5" cy="617.6" r="5.7"/>
<circle cx="475.4" cy="581.2" r="5.7"/>
<circle cx="497.4" cy="599.5" r="5.7"/>
<circle cx="682.6" cy="565.6" r="5.7"/>
<circle cx="460.4" cy="574.0" r="5.7"/>
<circle cx="521.9" cy="587.7" r="5.7"/>
<circle cx="458.5" cy="551.3" r="5.7"/>
<circle cx="586.5" cy="586.4" r="5.7"/>
<circle cx="407.7" cy="597.2" r="5.7"/>
<circle class="m" cx="516.3" cy="563.0" r="5.7"/>
<circle class="m" cx="348.0" cy="516.0" r="5.7"/>
<circle class="m" cx="373.3" cy="503.1" r="5.7"/>
<circle cx="365.1" cy="607.0" r="5.7"/>
<circle class="m" cx="689.1" cy="572.8" r="5.7"/>
<circle class="m" cx="650.8" cy="552.1" r="5.7"/>
<circle cx="798.1" cy="630.0" r="5.7"/>
<circle class="m" cx="766.5" cy="539.3" r="5.7"/>
<circle cx="321.6" cy="612.0" r="5.7"/>
<circle cx="363.2" cy="611.1" r="5.7"/>
<circle class="m" cx="567.3" cy="480.5" r="5.7"/>
<circle class="m" cx="759.6" cy="554.5" r="5.7"/>
<circle cx="746.8" cy="616.3" r="5.7"/>
<circle cx="746.7" cy="601.0" r="5.7"/>
<circle cx="362.4" cy="539.8" r="5.7"/>
<circle class="m" cx="497.2" cy="554.4" r="5.7"/>
<circle class="m" cx="603.2" cy="533.2" r="5.7"/>
<circle class="m" cx="497.4" cy="496.6" r="5.7"/>
<circle cx="555.4" cy="565.6" r="5.7"/>
<circle class="m" cx="318.5" cy="546.8" r="5.7"/>
<circle cx="452.6" cy="574.1" r="5.7"/>
<circle cx="624.9" cy="578.7" r="5.7"/>
<circle cx="696.2" cy="621.0" r="5.7"/>
<circle class="m" cx="772.3" cy="611.9" r="5.7"/>
<circle cx="528.9" cy="627.3" r="5.7"/>
<circle cx="855.8" cy="635.7" r="5.7"/>
<circle cx="515.3" cy="523.8" r="5.7"/>
<circle cx="388.1" cy="609.1" r="5.7"/>
<circle cx="624.8" cy="581.8" r="5.7"/>
<circle cx="400.7" cy="555.3" r="5.7"/>
<circle cx="749.4" cy="633.0" r="5.7"/>
<circle class="m" cx="720.2" cy="558.3" r="5.7"/>
<circle cx="670.4" cy="569.9" r="5.7"/>
<circle cx="592.3" cy="561.2" r="5.7"/>
<circle class="m" cx="560.3" cy="567.1" r="5.7"/>
<circle cx="314.9" cy="534.1" r="5.7"/>
<circle cx="368.6" cy="571.9" r="5.7"/>
<circle class="m" cx="490.4" cy="536.2" r="5.7"/>
<circle cx="374.4" cy="518.9" r="5.7"/>
<circle cx="771.7" cy="584.9" r="5.7"/>
<circle cx="797.6" cy="602.8" r="5.7"/>
<circle cx="427.6" cy="591.6" r="5.7"/>
<circle class="m" cx="792.0" cy="593.9" r="5.7"/>
<circle cx="490.2" cy="573.0" r="5.7"/>
<circle cx="618.4" cy="578.4" r="5.7"/>
<circle cx="478.2" cy="599.8" r="5.7"/>
<circle cx="278.4" cy="651.8" r="5.7"/>
<circle cx="755.5" cy="591.4" r="5.7"/>
<circle cx="663.8" cy="591.8" r="5.7"/>
<circle cx="663.7" cy="583.9" r="5.7"/>
<circle cx="334.4" cy="564.4" r="5.7"/>
<circle cx="509.7" cy="570.8" r="5.7"/>
<circle cx="528.9" cy="557.8" r="5.7"/>
<circle class="m" cx="360.2" cy="535.4" r="5.7"/>
<circle cx="727.6" cy="611.7" r="5.7"/>
<circle class="m" cx="727.6" cy="549.7" r="5.7"/>
<circle cx="459.3" cy="615.9" r="5.7"/>
<circle cx="401.5" cy="622.3" r="5.7"/>
<circle cx="471.1" cy="528.7" r="5.7"/>
<circle cx="522.6" cy="568.7" r="5.7"/>
<circle class="m" cx="442.4" cy="493.2" r="5.7"/>
<circle cx="483.1" cy="592.6" r="5.7"/>
<circle cx="477.8" cy="613.8" r="5.7"/>
<circle cx="407.5" cy="560.2" r="5.7"/>
<circle cx="620.3" cy="635.4" r="5.7"/>
<circle cx="580.9" cy="567.6" r="5.7"/>
<circle cx="315.6" cy="617.3" r="5.7"/>
<circle cx="400.4" cy="584.3" r="5.7"/>
<circle cx="427.3" cy="593.2" r="5.7"/>
<circle class="m" cx="548.6" cy="513.1" r="5.7"/>
<circle class="m" cx="542.4" cy="528.2" r="5.7"/>
<circle cx="702.5" cy="574.6" r="5.7"/>
<circle cx="280.3" cy="614.5" r="5.7"/>
<circle cx="360.1" cy="590.2" r="5.7"/>
<circle cx="677.0" cy="561.4" r="5.7"/>
<circle class="m" cx="496.8" cy="517.1" r="5.7"/>
<circle cx="365.9" cy="552.7" r="5.7"/>
<circle cx="574.0" cy="566.7" r="5.7"/>
<circle class="m" cx="583.5" cy="503.8" r="5.7"/>
<circle class="m" cx="625.3" cy="563.4" r="5.7"/>
<circle class="m" cx="466.1" cy="494.1" r="5.7"/>
<circle cx="414.3" cy="609.1" r="5.7"/>
<circle cx="548.7" cy="586.3" r="5.7"/>
<circle cx="733.7" cy="625.5" r="5.7"/>
<circle cx="382.5" cy="605.1" r="5.7"/>
<circle cx="507.7" cy="534.3" r="5.7"/>
<circle class="m" cx="458.9" cy="557.3" r="5.7"/>
<circle class="m" cx="458.6" cy="551.3" r="5.7"/>
<circle class="m" cx="687.8" cy="594.1" r="5.7"/>
<circle cx="401.6" cy="594.5" r="5.7"/>
<circle class="m" cx="785.2" cy="593.8" r="5.7"/>
<circle cx="759.3" cy="596.7" r="5.7"/>
<circle class="m" cx="445.7" cy="558.6" r="5.7"/>
<circle class="m" cx="863.4" cy="587.4" r="5.7"/>
<circle cx="743.9" cy="578.4" r="5.7"/>
<circle cx="452.6" cy="586.9" r="5.7"/>
<circle class="m" cx="624.8" cy="512.3" r="5.7"/>
<circle cx="390.0" cy="587.0" r="5.7"/>
<circle class="m" cx="810.9" cy="566.7" r="5.7"/>
<circle cx="715.2" cy="625.5" r="5.7"/>
<circle class="m" cx="321.0" cy="515.3" r="5.7"/>
<circle class="m" cx="302.6" cy="529.6" r="5.7"/>
<circle class="m" cx="575.9" cy="528.8" r="5.7"/>
<circle cx="490.7" cy="578.4" r="5.7"/>
<circle cx="484.9" cy="599.2" r="5.7"/>
<circle class="m" cx="817.4" cy="603.6" r="5.7"/>
<circle cx="630.9" cy="591.6" r="5.7"/>
<circle cx="600.0" cy="533.5" r="5.7"/>
<circle cx="714.8" cy="580.8" r="5.7"/>
<circle cx="353.6" cy="570.5" r="5.7"/>
<circle cx="444.8" cy="547.4" r="5.7"/>
<circle class="m" cx="560.8" cy="517.3" r="5.7"/>
<circle cx="356.5" cy="570.8" r="5.7"/>
<circle cx="607.7" cy="570.8" r="5.7"/>
<circle class="m" cx="324.6" cy="530.7" r="5.7"/>
<circle cx="458.6" cy="600.2" r="5.7"/>
<circle class="m" cx="650.6" cy="536.3" r="5.7"/>
<circle class="m" cx="363.2" cy="542.0" r="5.7"/>
<circle cx="766.2" cy="606.7" r="5.7"/>
<circle cx="433.2" cy="595.5" r="5.7"/>
<circle cx="746.7" cy="578.1" r="5.7"/>
<circle class="m" cx="407.5" cy="515.3" r="5.7"/>
<circle cx="542.4" cy="575.4" r="5.7"/>
<circle class="m" cx="407.2" cy="480.3" r="5.7"/>
<circle cx="663.1" cy="586.3" r="5.7"/>
<circle class="m" cx="361.1" cy="485.3" r="5.7"/>
<circle cx="446.1" cy="589.3" r="5.7"/>
<circle cx="395.1" cy="581.0" r="5.7"/>
<circle cx="452.4" cy="568.9" r="5.7"/>
<circle cx="401.7" cy="582.2" r="5.7"/>
<circle class="m" cx="676.6" cy="573.4" r="5.7"/>
<circle class="m" cx="605.7" cy="547.1" r="5.7"/>
<circle class="m" cx="273.0" cy="622.4" r="5.7"/>
<circle cx="535.2" cy="537.2" r="5.7"/>
<circle cx="693.9" cy="613.0" r="5.7"/>
<circle class="m" cx="408.0" cy="540.4" r="5.7"/>
<circle class="m" cx="509.5" cy="563.7" r="5.7"/>
<circle cx="574.1" cy="583.3" r="5.7"/>
<circle cx="555.2" cy="554.9" r="5.7"/>
<circle cx="708.5" cy="586.8" r="5.7"/>
<circle cx="733.9" cy="601.5" r="5.7"/>
<circle cx="336.2" cy="553.5" r="5.7"/>
<circle cx="388.7" cy="567.4" r="5.7"/>
<circle cx="452.2" cy="569.3" r="5.7"/>
<circle cx="566.9" cy="570.5" r="5.7"/>
<circle cx="753.7" cy="588.1" r="5.7"/>
<circle class="m" cx="503.5" cy="506.8" r="5.7"/>
<circle cx="476.0" cy="562.5" r="5.7"/>
<circle class="m" cx="420.6" cy="513.3" r="5.7"/>
<circle class="m" cx="682.9" cy="572.7" r="5.7"/>
<circle cx="682.2" cy="586.6" r="5.7"/>
<circle cx="420.5" cy="566.5" r="5.7"/>
<circle cx="347.2" cy="610.3" r="5.7"/>
<circle class="m" cx="573.6" cy="505.2" r="5.7"/>
<circle cx="823.2" cy="616.1" r="5.7"/>
<circle cx="797.9" cy="595.8" r="5.7"/>
<circle cx="696.9" cy="588.5" r="5.7"/>
<circle cx="593.2" cy="576.7" r="5.7"/>
<circle cx="342.6" cy="602.9" r="5.7"/>
<circle class="m" cx="328.9" cy="567.2" r="5.7"/>
<circle cx="586.7" cy="568.1" r="5.7"/>
<circle class="m" cx="529.6" cy="491.5" r="5.7"/>
<circle cx="515.7" cy="540.3" r="5.7"/>
<circle cx="740.7" cy="598.5" r="5.7"/>
<circle cx="338.1" cy="522.3" r="5.7"/>
<circle cx="618.9" cy="621.3" r="5.7"/>
<circle cx="509.5" cy="577.4" r="5.7"/>
<circle cx="554.8" cy="564.5" r="5.7"/>
<circle cx="458.7" cy="590.3" r="5.7"/>
<circle class="m" cx="778.7" cy="578.9" r="5.7"/>
<circle cx="555.0" cy="550.3" r="5.7"/>
<circle class="m" cx="721.0" cy="582.9" r="5.7"/>
<circle cx="503.3" cy="564.8" r="5.7"/>
<circle cx="420.2" cy="588.3" r="5.7"/>
<circle cx="261.1" cy="646.2" r="5.7"/>
<circle cx="459.2" cy="538.0" r="5.7"/>
<circle cx="734.4" cy="610.4" r="5.7"/>
<circle cx="734.8" cy="625.1" r="5.7"/>
<circle cx="440.6" cy="563.3" r="5.7"/>
<circle cx="759.7" cy="597.2" r="5.7"/>
<circle cx="376.2" cy="611.1" r="5.7"/>
<circle cx="522.5" cy="593.6" r="5.7"/>
<circle class="m" cx="723.7" cy="569.2" r="5.7"/>
<circle cx="401.4" cy="576.1" r="5.7"/>
<circle cx="637.1" cy="576.8" r="5.7"/>
<circle cx="621.7" cy="582.8" r="5.7"/>
<circle cx="835.9" cy="615.3" r="5.7"/>
<circle cx="676.7" cy="595.4" r="5.7"/>
<circle cx="477.7" cy="602.8" r="5.7"/>
<circle cx="324.8" cy="561.5" r="5.7"/>
<circle cx="322.7" cy="609.6" r="5.7"/>
<circle cx="280.1" cy="644.6" r="5.7"/>
<circle cx="605.9" cy="575.6" r="5.7"/>
<circle cx="503.1" cy="557.6" r="5.7"/>
<circle cx="740.3" cy="606.9" r="5.7"/>
<circle class="m" cx="382.3" cy="542.4" r="5.7"/>
<circle class="m" cx="471.3" cy="479.2" r="5.7"/>
<circle class="m" cx="720.6" cy="472.9" r="5.7"/>
<circle cx="656.9" cy="553.8" r="5.7"/>
<circle cx="497.4" cy="574.4" r="5.7"/>
<circle cx="819.2" cy="624.6" r="5.7"/>
<circle class="m" cx="329.1" cy="486.4" r="5.7"/>
<circle class="m" cx="407.7" cy="518.5" r="5.7"/>
<circle class="m" cx="778.9" cy="534.8" r="5.7"/>
<circle cx="345.9" cy="475.4" r="5.7"/>
<circle cx="330.0" cy="578.1" r="5.7"/>
<circle cx="676.3" cy="592.0" r="5.7"/>
<circle cx="733.9" cy="608.3" r="5.7"/>
<circle cx="650.8" cy="581.8" r="5.7"/>
<circle cx="560.9" cy="575.9" r="5.7"/>
<circle cx="657.2" cy="582.6" r="5.7"/>
<circle cx="657.4" cy="567.3" r="5.7"/>
<circle cx="740.1" cy="599.5" r="5.7"/>
<circle class="m" cx="793.8" cy="603.7" r="5.7"/>
<circle class="m" cx="256.7" cy="662.0" r="5.7"/>
<circle class="m" cx="270.5" cy="601.6" r="5.7"/>
<circle cx="619.2" cy="592.0" r="5.7"/>
<circle class="m" cx="492.3" cy="504.8" r="5.7"/>
<circle cx="478.5" cy="613.2" r="5.7"/>
<circle cx="640.4" cy="572.3" r="5.7"/>
<circle class="m" cx="555.1" cy="573.3" r="5.7"/>
<circle cx="650.2" cy="601.7" r="5.7"/>
<circle cx="580.8" cy="588.1" r="5.7"/>
<circle cx="452.4" cy="585.0" r="5.7"/>
<circle cx="312.9" cy="613.4" r="5.7"/>
<circle cx="350.1" cy="503.6" r="5.7"/>
<circle cx="452.7" cy="566.9" r="5.7"/>
<circle cx="529.0" cy="620.2" r="5.7"/>
<circle cx="509.9" cy="560.5" r="5.7"/>
<circle class="m" cx="638.1" cy="574.3" r="5.7"/>
<circle cx="318.5" cy="630.3" r="5.7"/>
<circle class="m" cx="375.7" cy="494.9" r="5.7"/>
<circle class="m" cx="548.4" cy="452.3" r="5.7"/>
<circle cx="414.2" cy="572.8" r="5.7"/>
<circle cx="772.3" cy="613.6" r="5.7"/>
<circle class="m" cx="798.1" cy="600.2" r="5.7"/>
<circle class="m" cx="426.8" cy="551.1" r="5.7"/>
<circle cx="683.3" cy="582.1" r="5.7"/>
<circle cx="747.0" cy="573.3" r="5.7"/>
<circle cx="557.0" cy="603.2" r="5.7"/>
<circle class="m" cx="435.9" cy="453.5" r="5.7"/>
<circle cx="375.2" cy="605.9" r="5.7"/>
<circle class="m" cx="509.6" cy="535.7" r="5.7"/>
<circle cx="823.7" cy="598.8" r="5.7"/>
<circle class="m" cx="611.2" cy="510.3" r="5.7"/>
<circle cx="759.5" cy="587.6" r="5.7"/>
<circle cx="797.9" cy="598.6" r="5.7"/>
<circle cx="721.8" cy="573.3" r="5.7"/>
<circle cx="631.7" cy="499.8" r="5.7"/>
<circle cx="695.3" cy="635.9" r="5.7"/>
<circle cx="535.6" cy="554.4" r="5.7"/>
<circle cx="858.8" cy="613.5" r="5.7"/>
<circle cx="820.7" cy="639.8" r="5.7"/>
<circle cx="670.3" cy="596.4" r="5.7"/>
<circle cx="301.0" cy="593.4" r="5.7"/>
<circle cx="612.6" cy="609.5" r="5.7"/>
<circle cx="432.7" cy="596.6" r="5.7"/>
<circle cx="389.2" cy="562.4" r="5.7"/>
<circle cx="765.6" cy="583.3" r="5.7"/>
<circle cx="521.0" cy="566.1" r="5.7"/>
<circle cx="458.3" cy="610.0" r="5.7"/>
<circle cx="301.5" cy="620.2" r="5.7"/>
<circle cx="670.4" cy="594.6" r="5.7"/>
<circle cx="592.9" cy="542.7" r="5.7"/>
<circle cx="522.7" cy="553.6" r="5.7"/>
<circle cx="657.4" cy="555.0" r="5.7"/>
<circle class="m" cx="277.4" cy="598.2" r="5.7"/>
<circle cx="465.3" cy="559.8" r="5.7"/>
<circle cx="529.4" cy="579.5" r="5.7"/>
<circle cx="381.4" cy="561.4" r="5.7"/>
<circle cx="509.0" cy="593.3" r="5.7"/>
<circle cx="780.5" cy="601.3" r="5.7"/>
<circle cx="349.8" cy="599.1" r="5.7"/>
<circle cx="555.3" cy="588.3" r="5.7"/>
<circle cx="375.5" cy="606.1" r="5.7"/>
<circle class="m" cx="509.8" cy="539.3" r="5.7"/>
<circle class="m" cx="252.0" cy="668.8" r="5.7"/>
<circle class="m" cx="762.4" cy="593.9" r="5.7"/>
<circle class="m" cx="366.4" cy="496.2" r="5.7"/>
<circle cx="631.5" cy="604.2" r="5.7"/>
<circle cx="507.0" cy="611.7" r="5.7"/>
<circle cx="542.2" cy="605.9" r="5.7"/>
<circle cx="407.9" cy="605.6" r="5.7"/>
<circle class="m" cx="344.0" cy="592.9" r="5.7"/>
<circle cx="433.6" cy="599.1" r="5.7"/>
<circle class="m" cx="804.5" cy="603.0" r="5.7"/>
<circle class="m" cx="452.8" cy="549.4" r="5.7"/>
<circle cx="818.1" cy="631.4" r="5.7"/>
<circle class="m" cx="541.8" cy="506.9" r="5.7"/>
<circle cx="673.1" cy="595.6" r="5.7"/>
<circle cx="548.7" cy="613.7" r="5.7"/>
<circle class="m" cx="420.4" cy="468.7" r="5.7"/>
<circle class="m" cx="746.8" cy="584.2" r="5.7"/>
<circle cx="694.9" cy="598.8" r="5.7"/>
<circle cx="367.4" cy="606.9" r="5.7"/>
<circle cx="599.8" cy="581.7" r="5.7"/>
<circle class="m" cx="510.2" cy="501.9" r="5.7"/>
<circle cx="457.1" cy="578.8" r="5.7"/>
<circle cx="657.4" cy="572.7" r="5.7"/>
<circle cx="414.1" cy="631.6" r="5.7"/>
<circle cx="650.4" cy="579.6" r="5.7"/>
<circle cx="446.1" cy="599.6" r="5.7"/>
<circle cx="548.3" cy="557.4" r="5.7"/>
<circle cx="268.6" cy="636.9" r="5.7"/>
<circle cx="522.3" cy="600.8" r="5.7"/>
<circle cx="689.5" cy="609.0" r="5.7"/>
<circle cx="368.8" cy="625.2" r="5.7"/>
<circle cx="746.8" cy="620.3" r="5.7"/>
<circle class="m" cx="338.8" cy="455.3" r="5.7"/>
<circle cx="561.2" cy="601.9" r="5.7"/>
<circle cx="446.9" cy="563.8" r="5.7"/>
<circle class="m" cx="328.3" cy="560.2" r="5.7"/>
<circle cx="599.7" cy="586.8" r="5.7"/>
<circle class="m" cx="478.4" cy="564.3" r="5.7"/>
<circle class="m" cx="657.1" cy="495.6" r="5.7"/>
<circle class="m" cx="649.0" cy="538.4" r="5.7"/>
<circle class="m" cx="420.3" cy="506.3" r="5.7"/>
<circle class="m" cx="395.1" cy="498.7" r="5.7"/>
<circle class="m" cx="263.3" cy="644.7" r="5.7"/>
<circle cx="410.8" cy="594.9" r="5.7"/>
<circle cx="452.5" cy="569.0" r="5.7"/>
<circle cx="484.7" cy="561.1" r="5.7"/>
<circle cx="408.1" cy="605.8" r="5.7"/>
<circle cx="689.2" cy="589.0" r="5.7"/>
<circle class="m" cx="631.9" cy="525.9" r="5.7"/>
<circle cx="451.7" cy="564.2" r="5.7"/>
<circle cx="574.5" cy="594.5" r="5.7"/>
<circle cx="516.2" cy="613.4" r="5.7"/>
<circle cx="285.1" cy="614.4" r="5.7"/>
<circle class="m" cx="567.2" cy="543.5" r="5.7"/>
<circle cx="459.0" cy="593.5" r="5.7"/>
<circle class="m" cx="733.8" cy="543.9" r="5.7"/>
<circle cx="561.6" cy="586.5" r="5.7"/>
<circle class="m" cx="574.1" cy="543.2" r="5.7"/>
<circle cx="443.4" cy="564.7" r="5.7"/>
<circle cx="503.9" cy="603.4" r="5.7"/>
<circle cx="465.3" cy="596.1" r="5.7"/>
<circle cx="471.5" cy="554.7" r="5.7"/>
<circle cx="657.4" cy="577.3" r="5.7"/>
<circle cx="433.2" cy="615.1" r="5.7"/>
<circle cx="445.7" cy="545.2" r="5.7"/>
<circle cx="394.8" cy="548.5" r="5.7"/>
<circle cx="580.2" cy="591.8" r="5.7"/>
<circle class="m" cx="331.5" cy="572.5" r="5.7"/>
<circle cx="708.6" cy="613.2" r="5.7"/>
<circle cx="268.0" cy="649.0" r="5.7"/>
<circle cx="586.6" cy="628.2" r="5.7"/>
<circle class="m" cx="297.6" cy="585.6" r="5.7"/>
<circle cx="733.2" cy="578.4" r="5.7"/>
<circle cx="752.6" cy="566.5" r="5.7"/>
<circle cx="611.9" cy="568.7" r="5.7"/>
<circle cx="551.5" cy="552.1" r="5.7"/>
<circle cx="390.8" cy="558.1" r="5.7"/>
<circle cx="580.4" cy="525.6" r="5.7"/>
<circle cx="739.8" cy="600.7" r="5.7"/>
<circle class="m" cx="455.4" cy="483.6" r="5.7"/>
<circle cx="672.6" cy="612.0" r="5.7"/>
<circle class="m" cx="407.3" cy="575.0" r="5.7"/>
<circle class="m" cx="451.7" cy="527.4" r="5.7"/>
<circle cx="662.0" cy="550.5" r="5.7"/>
<circle cx="787.0" cy="606.6" r="5.7"/>
<circle class="m" cx="401.9" cy="477.7" r="5.7"/>
<circle cx="606.0" cy="556.2" r="5.7"/>
<circle cx="785.4" cy="610.4" r="5.7"/>
<circle cx="516.0" cy="581.6" r="5.7"/>
<circle cx="772.0" cy="620.0" r="5.7"/>
<circle class="m" cx="746.8" cy="538.3" r="5.7"/>
<circle cx="426.7" cy="568.6" r="5.7"/>
<circle cx="644.1" cy="584.4" r="5.7"/>
<circle class="m" cx="574.0" cy="439.2" r="5.7"/>
<circle cx="586.6" cy="604.2" r="5.7"/>
<circle cx="739.8" cy="633.5" r="5.7"/>
<circle cx="250.0" cy="658.4" r="5.7"/>
<circle cx="465.1" cy="551.2" r="5.7"/>
<circle cx="265.8" cy="614.7" r="5.7"/>
<circle cx="548.4" cy="575.0" r="5.7"/>
<circle cx="836.8" cy="633.1" r="5.7"/>
<circle cx="804.4" cy="613.0" r="5.7"/>
<circle class="m" cx="381.9" cy="520.2" r="5.7"/>
<circle cx="452.1" cy="589.9" r="5.7"/>
<circle class="m" cx="338.8" cy="581.2" r="5.7"/>
<circle class="m" cx="733.8" cy="586.6" r="5.7"/>
<circle cx="587.2" cy="566.2" r="5.7"/>
<circle cx="484.5" cy="546.6" r="5.7"/>
<circle cx="478.3" cy="559.6" r="5.7"/>
<circle cx="452.2" cy="588.5" r="5.7"/>
<circle class="m" cx="458.8" cy="577.6" r="5.7"/>
<circle cx="385.7" cy="570.7" r="5.7"/>
<circle class="m" cx="351.1" cy="505.2" r="5.7"/>
<circle class="m" cx="656.8" cy="562.9" r="5.7"/>
<circle cx="446.0" cy="569.4" r="5.7"/>
<circle class="m" cx="545.3" cy="496.0" r="5.7"/>
<circle class="m" cx="746.8" cy="599.4" r="5.7"/>
<circle cx="490.6" cy="571.6" r="5.7"/>
<circle cx="439.7" cy="591.9" r="5.7"/>
<circle cx="714.2" cy="587.8" r="5.7"/>
<circle cx="264.0" cy="663.9" r="5.7"/>
<circle cx="375.3" cy="605.9" r="5.7"/>
<circle cx="570.4" cy="596.5" r="5.7"/>
<circle class="m" cx="266.0" cy="627.4" r="5.7"/>
<circle cx="388.1" cy="581.9" r="5.7"/>
<circle cx="504.0" cy="588.2" r="5.7"/>
<circle cx="426.5" cy="571.5" r="5.7"/>
<circle class="m" cx="452.4" cy="434.5" r="5.7"/>
<circle class="m" cx="663.6" cy="543.8" r="5.7"/>
<circle cx="567.8" cy="592.8" r="5.7"/>
<circle cx="605.8" cy="590.7" r="5.7"/>
<circle class="m" cx="319.0" cy="564.7" r="5.7"/>
<circle class="m" cx="744.6" cy="536.7" r="5.7"/>
<circle cx="644.5" cy="606.0" r="5.7"/>
<circle cx="571.8" cy="592.5" r="5.7"/>
<circle cx="669.9" cy="581.8" r="5.7"/>
<circle cx="670.2" cy="613.4" r="5.7"/>
<circle cx="407.2" cy="573.7" r="5.7"/>
<circle cx="560.5" cy="578.8" r="5.7"/>
<circle cx="702.1" cy="595.3" r="5.7"/>
<circle cx="365.0" cy="586.2" r="5.7"/>
<circle cx="453.0" cy="572.6" r="5.7"/>
<circle cx="746.1" cy="596.0" r="5.7"/>
<circle cx="458.1" cy="572.8" r="5.7"/>
<circle cx="261.8" cy="644.6" r="5.7"/>
<circle cx="375.2" cy="514.9" r="5.7"/>
<circle cx="376.1" cy="541.6" r="5.7"/>
<circle class="m" cx="291.4" cy="607.3" r="5.7"/>
<circle cx="401.3" cy="571.2" r="5.7"/>
<circle class="m" cx="282.7" cy="551.0" r="5.7"/>
<circle cx="388.0" cy="526.2" r="5.7"/>
<circle cx="574.7" cy="547.1" r="5.7"/>
<circle cx="688.6" cy="601.0" r="5.7"/>
<circle cx="292.5" cy="644.9" r="5.7"/>
<circle class="m" cx="695.4" cy="588.9" r="5.7"/>
<circle cx="355.0" cy="558.7" r="5.7"/>
<circle cx="669.9" cy="592.7" r="5.7"/>
<circle cx="408.4" cy="585.4" r="5.7"/>
<circle cx="707.9" cy="582.2" r="5.7"/>
<circle cx="471.4" cy="573.7" r="5.7"/>
<circle cx="510.0" cy="611.1" r="5.7"/>
<circle cx="561.3" cy="565.2" r="5.7"/>
<circle cx="414.1" cy="556.6" r="5.7"/>
<circle cx="772.7" cy="605.3" r="5.7"/>
<circle cx="523.0" cy="559.3" r="5.7"/>
<circle class="m" cx="395.3" cy="502.4" r="5.7"/>
<circle cx="471.8" cy="582.7" r="5.7"/>
<circle cx="316.8" cy="558.1" r="5.7"/>
<circle cx="433.2" cy="573.4" r="5.7"/>
<circle class="m" cx="477.3" cy="529.1" r="5.7"/>
<circle cx="284.9" cy="613.7" r="5.7"/>
<circle cx="702.3" cy="570.1" r="5.7"/>
<circle cx="458.2" cy="569.9" r="5.7"/>
<circle cx="555.2" cy="571.8" r="5.7"/>
<circle cx="408.5" cy="595.3" r="5.7"/>
<circle cx="785.4" cy="596.8" r="5.7"/>
<circle class="m" cx="324.4" cy="502.1" r="5.7"/>
<circle cx="305.6" cy="614.2" r="5.7"/>
<circle class="m" cx="426.1" cy="483.1" r="5.7"/>
<circle class="m" cx="855.0" cy="601.6" r="5.7"/>
<circle cx="407.7" cy="528.8" r="5.7"/>
<circle cx="529.7" cy="543.2" r="5.7"/>
<circle cx="528.8" cy="616.6" r="5.7"/>
<circle class="m" cx="529.3" cy="517.6" r="5.7"/>
<circle cx="862.0" cy="633.9" r="5.7"/>
<circle cx="728.0" cy="612.3" r="5.7"/>
<circle cx="465.0" cy="554.8" r="5.7"/>
<circle class="m" cx="766.3" cy="602.6" r="5.7"/>
<circle class="m" cx="490.6" cy="539.2" r="5.7"/>
<circle cx="439.3" cy="599.6" r="5.7"/>
<circle class="m" cx="293.7" cy="574.6" r="5.7"/>
<circle cx="555.6" cy="553.7" r="5.7"/>
<circle class="m" cx="503.3" cy="527.2" r="5.7"/>
<circle cx="445.7" cy="608.4" r="5.7"/>
<circle cx="255.3" cy="667.7" r="5.7"/>
<circle cx="325.1" cy="551.5" r="5.7"/>
<circle cx="789.4" cy="605.5" r="5.7"/>
<circle cx="676.7" cy="580.0" r="5.7"/>
<circle class="m" cx="462.6" cy="533.5" r="5.7"/>
<circle class="m" cx="491.4" cy="485.7" r="5.7"/>
<circle cx="407.2" cy="623.3" r="5.7"/>
<circle class="m" cx="432.9" cy="514.2" r="5.7"/>
<circle class="m" cx="483.9" cy="576.2" r="5.7"/>
<circle class="m" cx="672.6" cy="503.5" r="5.7"/>
<circle class="m" cx="374.2" cy="483.6" r="5.7"/>
<circle cx="533.0" cy="552.8" r="5.7"/>
<circle class="m" cx="275.6" cy="633.3" r="5.7"/>
<circle cx="772.9" cy="592.4" r="5.7"/>
<circle cx="421.3" cy="539.8" r="5.7"/>
<circle cx="451.9" cy="582.5" r="5.7"/>
<circle cx="388.0" cy="573.0" r="5.7"/>
<circle class="m" cx="731.4" cy="581.2" r="5.7"/>
<circle class="m" cx="830.4" cy="580.1" r="5.7"/>
<circle class="m" cx="836.1" cy="591.2" r="5.7"/>
<circle cx="544.0" cy="537.1" r="5.7"/>
<circle cx="679.0" cy="568.9" r="5.7"/>
<circle cx="438.4" cy="567.8" r="5.7"/>
<circle class="m" cx="659.4" cy="516.2" r="5.7"/>
<circle cx="433.0" cy="504.7" r="5.7"/>
<circle cx="836.3" cy="611.6" r="5.7"/>
<circle cx="395.1" cy="615.2" r="5.7"/>
<circle cx="714.6" cy="589.2" r="5.7"/>
<circle class="m" cx="708.6" cy="581.0" r="5.7"/>
<circle cx="754.0" cy="590.7" r="5.7"/>
<circle class="m" cx="529.4" cy="488.2" r="5.7"/>
<circle cx="395.1" cy="587.7" r="5.7"/>
<circle class="m" cx="791.9" cy="611.4" r="5.7"/>
<circle class="m" cx="861.9" cy="623.6" r="5.7"/>
<circle cx="772.8" cy="580.6" r="5.7"/>
<circle cx="670.3" cy="598.1" r="5.7"/>
<circle cx="342.5" cy="587.6" r="5.7"/>
<circle cx="785.0" cy="619.8" r="5.7"/>
<circle cx="774.1" cy="545.9" r="5.7"/>
<circle cx="407.5" cy="530.0" r="5.7"/>
<circle cx="665.9" cy="590.0" r="5.7"/>
<circle class="m" cx="561.1" cy="507.2" r="5.7"/>
<circle cx="382.2" cy="575.7" r="5.7"/>
<circle cx="376.0" cy="549.2" r="5.7"/>
<circle cx="408.3" cy="521.7" r="5.7"/>
<circle cx="791.7" cy="615.4" r="5.7"/>
<circle cx="618.9" cy="551.1" r="5.7"/>
<circle cx="772.1" cy="574.1" r="5.7"/>
<circle cx="420.2" cy="578.6" r="5.7"/>
<circle class="m" cx="624.8" cy="416.2" r="5.7"/>
<circle class="m" cx="350.2" cy="457.0" r="5.7"/>
<circle cx="625.2" cy="525.0" r="5.7"/>
<circle class="m" cx="605.8" cy="520.5" r="5.7"/>
<circle class="m" cx="707.9" cy="542.4" r="5.7"/>
<circle cx="521.8" cy="583.4" r="5.7"/>
<circle class="m" cx="472.2" cy="550.4" r="5.7"/>
<circle cx="291.1" cy="606.1" r="5.7"/>
<circle cx="797.9" cy="592.9" r="5.7"/>
<circle cx="374.1" cy="575.7" r="5.7"/>
<circle class="m" cx="708.0" cy="571.5" r="5.7"/>
<circle cx="426.8" cy="595.8" r="5.7"/>
<circle cx="510.0" cy="612.5" r="5.7"/>
<circle cx="567.7" cy="588.8" r="5.7"/>
<circle cx="401.6" cy="582.2" r="5.7"/>
<circle cx="669.4" cy="586.7" r="5.7"/>
<circle cx="421.4" cy="563.8" r="5.7"/>
<circle cx="516.8" cy="603.6" r="5.7"/>
<circle cx="515.4" cy="590.6" r="5.7"/>
<circle cx="849.3" cy="611.1" r="5.7"/>
<circle cx="516.3" cy="590.5" r="5.7"/>
<circle cx="451.3" cy="561.9" r="5.7"/>
<circle cx="397.8" cy="583.0" r="5.7"/>
<circle class="m" cx="309.2" cy="578.7" r="5.7"/>
<circle class="m" cx="304.6" cy="610.0" r="5.7"/>
<circle cx="542.0" cy="560.1" r="5.7"/>
<circle cx="586.4" cy="568.5" r="5.7"/>
<circle cx="426.0" cy="527.8" r="5.7"/>
<circle cx="785.6" cy="599.5" r="5.7"/>
<circle cx="593.7" cy="624.0" r="5.7"/>
<circle cx="662.7" cy="573.7" r="5.7"/>
<circle cx="611.3" cy="530.3" r="5.7"/>
<circle class="m" cx="287.3" cy="621.3" r="5.7"/>
<circle cx="599.2" cy="597.5" r="5.7"/>
<circle cx="548.5" cy="539.5" r="5.7"/>
<circle class="m" cx="606.1" cy="490.6" r="5.7"/>
<circle cx="375.9" cy="581.3" r="5.7"/>
<circle cx="395.1" cy="604.5" r="5.7"/>
<circle cx="788.0" cy="623.2" r="5.7"/>
<circle cx="458.6" cy="559.7" r="5.7"/>
<circle cx="554.8" cy="584.4" r="5.7"/>
<circle cx="542.3" cy="544.2" r="5.7"/>
<circle cx="868.6" cy="623.7" r="5.7"/>
<circle cx="496.7" cy="579.1" r="5.7"/>
<circle cx="375.3" cy="575.3" r="5.7"/>
<circle cx="657.6" cy="587.5" r="5.7"/>
<circle cx="804.8" cy="596.8" r="5.7"/>
<circle cx="471.4" cy="581.5" r="5.7"/>
<circle class="m" cx="555.2" cy="575.4" r="5.7"/>
<circle class="m" cx="816.5" cy="548.6" r="5.7"/>
<circle class="m" cx="791.8" cy="563.2" r="5.7"/>
<circle cx="345.4" cy="498.3" r="5.7"/>
<circle cx="542.9" cy="545.1" r="5.7"/>
<circle cx="366.8" cy="535.7" r="5.7"/>
<circle class="m" cx="290.3" cy="630.7" r="5.7"/>
<circle class="m" cx="727.6" cy="576.7" r="5.7"/>
<circle class="m" cx="356.9" cy="492.0" r="5.7"/>
<circle class="m" cx="452.3" cy="438.1" r="5.7"/>
<circle class="m" cx="631.2" cy="536.4" r="5.7"/>
<circle class="m" cx="407.9" cy="572.0" r="5.7"/>
<circle cx="804.3" cy="613.2" r="5.7"/>
<circle cx="369.2" cy="541.9" r="5.7"/>
<circle cx="663.5" cy="574.8" r="5.7"/>
<circle class="m" cx="257.6" cy="654.9" r="5.7"/>
<circle cx="477.8" cy="590.9" r="5.7"/>
<circle class="m" cx="392.5" cy="496.7" r="5.7"/>
<circle cx="637.7" cy="575.0" r="5.7"/>
<circle cx="388.6" cy="605.5" r="5.7"/>
<circle cx="414.2" cy="577.8" r="5.7"/>
<circle cx="663.3" cy="563.4" r="5.7"/>
<circle class="m" cx="778.6" cy="602.0" r="5.7"/>
<circle cx="772.5" cy="589.5" r="5.7"/>
<circle cx="612.3" cy="562.7" r="5.7"/>
<circle cx="650.2" cy="565.7" r="5.7"/>
<circle cx="408.0" cy="608.7" r="5.7"/>
<circle cx="536.0" cy="585.0" r="5.7"/>
<circle cx="381.8" cy="587.1" r="5.7"/>
<circle cx="541.1" cy="612.7" r="5.7"/>
<circle cx="375.5" cy="585.6" r="5.7"/>
<circle class="m" cx="548.6" cy="560.0" r="5.7"/>
<circle cx="561.5" cy="578.1" r="5.7"/>
<circle cx="382.5" cy="593.3" r="5.7"/>
<circle cx="516.4" cy="539.5" r="5.7"/>
<circle cx="377.6" cy="556.6" r="5.7"/>
<circle class="m" cx="585.0" cy="478.8" r="5.7"/>
<circle cx="420.9" cy="574.6" r="5.7"/>
<circle cx="600.9" cy="557.0" r="5.7"/>
<circle cx="446.0" cy="576.5" r="5.7"/>
<circle cx="668.3" cy="578.3" r="5.7"/>
<circle cx="269.8" cy="647.6" r="5.7"/>
<circle cx="720.9" cy="592.8" r="5.7"/>
<circle cx="816.5" cy="580.1" r="5.7"/>
<circle cx="420.5" cy="593.8" r="5.7"/>
<circle class="m" cx="366.3" cy="557.4" r="5.7"/>
<circle cx="721.8" cy="611.7" r="5.7"/>
<circle cx="356.3" cy="577.8" r="5.7"/>
<circle cx="529.4" cy="570.0" r="5.7"/>
<circle cx="407.3" cy="561.4" r="5.7"/>
<circle class="m" cx="302.9" cy="618.2" r="5.7"/>
<circle cx="465.3" cy="582.9" r="5.7"/>
<circle cx="810.8" cy="606.7" r="5.7"/>
<circle cx="364.3" cy="602.6" r="5.7"/>
<circle cx="560.8" cy="551.3" r="5.7"/>
<circle cx="772.7" cy="604.0" r="5.7"/>
<circle cx="369.0" cy="581.0" r="5.7"/>
<circle class="m" cx="561.7" cy="524.4" r="5.7"/>
<circle class="m" cx="702.6" cy="509.8" r="5.7"/>
<circle cx="593.4" cy="574.3" r="5.7"/>
<circle class="m" cx="523.8" cy="492.1" r="5.7"/>
<circle cx="312.2" cy="606.6" r="5.7"/>
<circle cx="516.3" cy="527.4" r="5.7"/>
<circle cx="382.2" cy="595.0" r="5.7"/>
<circle cx="297.5" cy="607.0" r="5.7"/>
<circle cx="617.0" cy="572.7" r="5.7"/>
<circle class="m" cx="484.8" cy="483.6" r="5.7"/>
<circle class="m" cx="433.4" cy="494.8" r="5.7"/>
<circle cx="817.5" cy="612.7" r="5.7"/>
<circle cx="625.3" cy="562.6" r="5.7"/>
<circle cx="580.6" cy="579.9" r="5.7"/>
<circle cx="785.8" cy="594.2" r="5.7"/>
<circle cx="254.9" cy="657.8" r="5.7"/>
<circle cx="388.3" cy="620.4" r="5.7"/>
<circle class="m" cx="428.0" cy="497.5" r="5.7"/>
<circle cx="394.3" cy="601.5" r="5.7"/>
<circle cx="734.5" cy="595.6" r="5.7"/>
<circle cx="382.1" cy="582.4" r="5.7"/>
<circle cx="361.3" cy="532.0" r="5.7"/>
<circle cx="689.2" cy="592.8" r="5.7"/>
<circle cx="714.2" cy="594.8" r="5.7"/>
<circle class="m" cx="715.0" cy="553.3" r="5.7"/>
<circle cx="362.7" cy="491.5" r="5.7"/>
<circle cx="682.3" cy="571.4" r="5.7"/>
<circle class="m" cx="586.0" cy="523.7" r="5.7"/>
<circle cx="339.1" cy="575.0" r="5.7"/>
<circle cx="593.1" cy="531.5" r="5.7"/>
<circle cx="541.9" cy="572.2" r="5.7"/>
<circle class="m" cx="593.4" cy="588.5" r="5.7"/>
<circle cx="359.1" cy="575.2" r="5.7"/>
<circle cx="344.3" cy="592.4" r="5.7"/>
<circle class="m" cx="791.5" cy="546.4" r="5.7"/>
<circle class="m" cx="509.7" cy="488.8" r="5.7"/>
<circle class="m" cx="548.1" cy="508.2" r="5.7"/>
<circle cx="303.7" cy="631.7" r="5.7"/>
<circle cx="550.4" cy="599.1" r="5.7"/>
<circle cx="823.4" cy="610.4" r="5.7"/>
<circle cx="727.7" cy="565.3" r="5.7"/>
<circle cx="490.7" cy="569.7" r="5.7"/>
<circle cx="355.2" cy="572.3" r="5.7"/>
<circle cx="663.6" cy="535.2" r="5.7"/>
<circle class="m" cx="649.8" cy="522.4" r="5.7"/>
<circle cx="747.3" cy="608.3" r="5.7"/>
<circle class="m" cx="497.3" cy="502.2" r="5.7"/>
<circle cx="497.3" cy="570.6" r="5.7"/>
<circle cx="369.3" cy="591.3" r="5.7"/>
<circle cx="606.1" cy="564.3" r="5.7"/>
<circle class="m" cx="695.6" cy="598.8" r="5.7"/>
<circle cx="427.1" cy="544.0" r="5.7"/>
<circle cx="727.0" cy="564.6" r="5.7"/>
<circle cx="358.9" cy="565.2" r="5.7"/>
<circle class="m" cx="453.0" cy="493.7" r="5.7"/>
<circle cx="459.1" cy="550.4" r="5.7"/>
<circle cx="407.9" cy="597.2" r="5.7"/>
<circle cx="631.7" cy="541.7" r="5.7"/>
<circle cx="388.0" cy="581.6" r="5.7"/>
<circle class="m" cx="831.2" cy="593.1" r="5.7"/>
<circle cx="503.4" cy="591.3" r="5.7"/>
<circle cx="318.9" cy="556.6" r="5.7"/>
<circle class="m" cx="637.7" cy="526.0" r="5.7"/>
<circle class="m" cx="368.5" cy="546.8" r="5.7"/>
<circle class="m" cx="637.7" cy="505.6" r="5.7"/>
<circle cx="784.7" cy="606.6" r="5.7"/>
<circle class="m" cx="535.6" cy="485.0" r="5.7"/>
<circle class="m" cx="278.3" cy="611.6" r="5.7"/>
<circle cx="426.8" cy="586.0" r="5.7"/>
<circle cx="721.1" cy="606.1" r="5.7"/>
<circle class="m" cx="689.5" cy="548.1" r="5.7"/>
<circle class="m" cx="546.5" cy="539.2" r="5.7"/>
<circle class="m" cx="328.8" cy="532.3" r="5.7"/>
<circle class="m" cx="561.0" cy="545.3" r="5.7"/>
<circle cx="632.2" cy="587.4" r="5.7"/>
<circle cx="465.1" cy="576.9" r="5.7"/>
<circle cx="432.8" cy="566.9" r="5.7"/>
<circle cx="472.0" cy="584.9" r="5.7"/>
<circle class="m" cx="810.8" cy="592.5" r="5.7"/>
<circle class="m" cx="491.3" cy="550.7" r="5.7"/>
<circle cx="651.3" cy="557.0" r="5.7"/>
<circle cx="727.7" cy="573.3" r="5.7"/>
<circle cx="625.6" cy="579.4" r="5.7"/>
<circle cx="465.2" cy="596.8" r="5.7"/>
<circle class="m" cx="588.9" cy="485.1" r="5.7"/>
<circle class="m" cx="752.5" cy="565.1" r="5.7"/>
<circle class="m" cx="414.0" cy="445.3" r="5.7"/>
<circle class="m" cx="408.0" cy="450.0" r="5.7"/>
<circle cx="599.5" cy="590.1" r="5.7"/>
<circle cx="522.9" cy="608.6" r="5.7"/>
<circle cx="452.1" cy="587.0" r="5.7"/>
<circle cx="625.3" cy="581.2" r="5.7"/>
<circle cx="797.7" cy="615.5" r="5.7"/>
<circle cx="759.4" cy="608.7" r="5.7"/>
<circle cx="426.6" cy="589.9" r="5.7"/>
<circle class="m" cx="574.1" cy="534.9" r="5.7"/>
<circle class="m" cx="695.4" cy="563.0" r="5.7"/>
<circle cx="644.2" cy="557.2" r="5.7"/>
<circle cx="319.6" cy="597.3" r="5.7"/>
<circle cx="820.7" cy="612.6" r="5.7"/>
<circle cx="375.1" cy="606.6" r="5.7"/>
<circle class="m" cx="426.5" cy="461.0" r="5.7"/>
<circle cx="464.8" cy="582.4" r="5.7"/>
<circle cx="587.3" cy="563.7" r="5.7"/>
<circle cx="569.8" cy="516.0" r="5.7"/>
<circle cx="714.2" cy="601.2" r="5.7"/>
<circle class="m" cx="393.5" cy="564.2" r="5.7"/>
<circle cx="334.6" cy="573.1" r="5.7"/>
<circle cx="728.4" cy="583.7" r="5.7"/>
<circle cx="401.3" cy="594.3" r="5.7"/>
<circle cx="420.5" cy="565.1" r="5.7"/>
<circle class="m" cx="771.5" cy="591.9" r="5.7"/>
<circle cx="702.0" cy="598.9" r="5.7"/>
<circle class="m" cx="401.6" cy="540.2" r="5.7"/>
<circle cx="453.4" cy="584.6" r="5.7"/>
<circle cx="816.7" cy="591.9" r="5.7"/>
<circle cx="446.5" cy="592.1" r="5.7"/>
<circle cx="471.4" cy="627.0" r="5.7"/>
<circle class="m" cx="328.2" cy="576.8" r="5.7"/>
<circle cx="535.1" cy="539.3" r="5.7"/>
<circle cx="325.4" cy="530.7" r="5.7"/>
<circle cx="561.5" cy="544.5" r="5.7"/>
<circle class="m" cx="339.3" cy="546.2" r="5.7"/>
<circle class="m" cx="272.9" cy="630.5" r="5.7"/>
<circle class="m" cx="509.6" cy="520.1" r="5.7"/>
<circle class="m" cx="354.7" cy="575.0" r="5.7"/>
<circle cx="663.8" cy="597.1" r="5.7"/>
<circle cx="342.7" cy="631.8" r="5.7"/>
<circle class="m" cx="396.4" cy="551.1" r="5.7"/>
<circle class="m" cx="663.8" cy="564.5" r="5.7"/>
<circle cx="561.2" cy="571.2" r="5.7"/>
<circle class="m" cx="471.6" cy="547.7" r="5.7"/>
<circle cx="638.3" cy="600.1" r="5.7"/>
<circle cx="284.5" cy="622.5" r="5.7"/>
<circle cx="413.6" cy="553.9" r="5.7"/>
<circle cx="458.9" cy="538.2" r="5.7"/>
<circle cx="497.4" cy="587.1" r="5.7"/>
<circle cx="382.2" cy="590.0" r="5.7"/>
<circle cx="638.7" cy="587.5" r="5.7"/>
<circle class="m" cx="830.8" cy="625.8" r="5.7"/>
<circle cx="734.9" cy="586.0" r="5.7"/>
<circle cx="400.9" cy="577.6" r="5.7"/>
<circle cx="728.4" cy="606.4" r="5.7"/>
<circle cx="312.4" cy="608.9" r="5.7"/>
<circle cx="637.5" cy="596.4" r="5.7"/>
<circle cx="453.1" cy="552.2" r="5.7"/>
<circle cx="354.0" cy="572.0" r="5.7"/>
<circle cx="433.6" cy="607.4" r="5.7"/>
<circle cx="394.4" cy="589.1" r="5.7"/>
<circle cx="563.8" cy="592.1" r="5.7"/>
<circle cx="617.6" cy="603.0" r="5.7"/>
<circle cx="394.2" cy="560.1" r="5.7"/>
<circle class="m" cx="491.2" cy="486.5" r="5.7"/>
<circle cx="734.4" cy="589.3" r="5.7"/>
<circle cx="516.5" cy="581.1" r="5.7"/>
<circle cx="401.8" cy="610.1" r="5.7"/>
<circle cx="355.4" cy="593.6" r="5.7"/>
<circle class="m" cx="298.8" cy="555.3" r="5.7"/>
<circle class="m" cx="354.3" cy="469.8" r="5.7"/>
<circle cx="605.7" cy="523.5" r="5.7"/>
<circle class="m" cx="714.1" cy="567.9" r="5.7"/>
<circle cx="759.5" cy="608.4" r="5.7"/>
<circle class="m" cx="747.2" cy="566.3" r="5.7"/>
<circle cx="682.5" cy="599.7" r="5.7"/>
<circle class="m" cx="311.8" cy="584.4" r="5.7"/>
<circle cx="433.4" cy="505.7" r="5.7"/>
<circle class="m" cx="682.9" cy="536.1" r="5.7"/>
<circle cx="625.6" cy="563.9" r="5.7"/>
<circle cx="708.8" cy="604.6" r="5.7"/>
<circle cx="401.5" cy="592.4" r="5.7"/>
<circle class="m" cx="625.0" cy="544.4" r="5.7"/>
<circle class="m" cx="644.3" cy="521.3" r="5.7"/>
<circle cx="491.1" cy="523.4" r="5.7"/>
<circle cx="599.6" cy="570.1" r="5.7"/>
<circle cx="414.0" cy="508.9" r="5.7"/>
<circle cx="414.4" cy="563.5" r="5.7"/>
<circle cx="365.9" cy="553.3" r="5.7"/>
<circle class="m" cx="848.9" cy="601.4" r="5.7"/>
<circle class="m" cx="505.3" cy="486.4" r="5.7"/>
<circle class="m" cx="637.7" cy="548.6" r="5.7"/>
<circle class="m" cx="395.3" cy="535.3" r="5.7"/>
<circle class="m" cx="824.0" cy="608.9" r="5.7"/>
<circle cx="381.7" cy="529.4" r="5.7"/>
<circle cx="477.9" cy="604.5" r="5.7"/>
<circle cx="670.2" cy="566.8" r="5.7"/>
<circle class="m" cx="340.3" cy="473.1" r="5.7"/>
<circle cx="464.9" cy="536.8" r="5.7"/>
<circle cx="606.0" cy="564.1" r="5.7"/>
<circle cx="338.3" cy="562.2" r="5.7"/>
<circle cx="532.6" cy="554.2" r="5.7"/>
<circle class="m" cx="727.4" cy="526.2" r="5.7"/>
<circle class="m" cx="712.0" cy="547.2" r="5.7"/>
<circle class="m" cx="528.7" cy="526.5" r="5.7"/>
<circle cx="529.6" cy="562.5" r="5.7"/>
<circle class="m" cx="586.4" cy="572.6" r="5.7"/>
<circle class="m" cx="771.7" cy="544.2" r="5.7"/>
<circle cx="389.3" cy="573.4" r="5.7"/>
<circle cx="625.6" cy="575.3" r="5.7"/>
<circle cx="791.8" cy="600.7" r="5.7"/>
<circle class="m" cx="746.6" cy="584.7" r="5.7"/>
<circle cx="856.2" cy="629.0" r="5.7"/>
<circle cx="446.7" cy="573.2" r="5.7"/>
<circle cx="522.6" cy="606.3" r="5.7"/>
<circle cx="407.2" cy="579.1" r="5.7"/>
<circle cx="548.1" cy="591.8" r="5.7"/>
<circle cx="515.5" cy="565.9" r="5.7"/>
<circle class="m" cx="439.1" cy="574.6" r="5.7"/>
<circle cx="394.1" cy="566.1" r="5.7"/>
<circle cx="330.1" cy="585.4" r="5.7"/>
<circle cx="747.5" cy="628.1" r="5.7"/>
<circle cx="506.1" cy="584.7" r="5.7"/>
<circle cx="631.2" cy="591.7" r="5.7"/>
<circle cx="676.2" cy="604.6" r="5.7"/>
<circle class="m" cx="305.7" cy="588.9" r="5.7"/>
<circle cx="389.9" cy="547.6" r="5.7"/>
<circle cx="331.2" cy="595.6" r="5.7"/>
<circle cx="432.6" cy="565.0" r="5.7"/>
<circle cx="322.7" cy="526.5" r="5.7"/>
<circle cx="433.1" cy="560.6" r="5.7"/>
<circle cx="753.3" cy="614.7" r="5.7"/>
<circle cx="439.6" cy="554.0" r="5.7"/>
<circle cx="644.2" cy="590.3" r="5.7"/>
<circle cx="720.6" cy="592.2" r="5.7"/>
<circle class="m" cx="497.8" cy="525.6" r="5.7"/>
<circle class="m" cx="401.1" cy="525.0" r="5.7"/>
<circle cx="322.7" cy="570.4" r="5.7"/>
<circle cx="791.4" cy="588.5" r="5.7"/>
<circle cx="465.4" cy="556.3" r="5.7"/>
<circle cx="516.7" cy="582.4" r="5.7"/>
<circle cx="702.2" cy="580.9" r="5.7"/>
<circle cx="388.1" cy="611.5" r="5.7"/>
<circle class="m" cx="471.2" cy="528.6" r="5.7"/>
<circle cx="612.3" cy="589.7" r="5.7"/>
<circle cx="727.9" cy="568.2" r="5.7"/>
<circle cx="638.5" cy="597.6" r="5.7"/>
<circle cx="679.7" cy="575.8" r="5.7"/>
<circle class="m" cx="708.3" cy="530.7" r="5.7"/>
<circle cx="401.4" cy="560.3" r="5.7"/>
<circle cx="694.9" cy="572.2" r="5.7"/>
<circle cx="682.2" cy="596.8" r="5.7"/>
<circle cx="620.6" cy="566.9" r="5.7"/>
<circle class="m" cx="702.2" cy="555.5" r="5.7"/>
<circle cx="663.0" cy="603.6" r="5.7"/>
<circle cx="676.6" cy="590.5" r="5.7"/>
<circle cx="855.2" cy="605.7" r="5.7"/>
<circle cx="365.7" cy="571.4" r="5.7"/>
<circle cx="407.3" cy="590.2" r="5.7"/>
<circle cx="452.4" cy="543.9" r="5.7"/>
<circle cx="599.2" cy="564.0" r="5.7"/>
<circle cx="817.2" cy="591.9" r="5.7"/>
<circle class="m" cx="477.7" cy="442.2" r="5.7"/>
<circle cx="821.0" cy="592.9" r="5.7"/>
<circle cx="676.3" cy="566.7" r="5.7"/>
<circle cx="494.1" cy="605.7" r="5.7"/>
<circle cx="479.3" cy="533.1" r="5.7"/>
<circle cx="414.1" cy="594.5" r="5.7"/>
<circle cx="548.4" cy="585.6" r="5.7"/>
<circle cx="663.8" cy="574.9" r="5.7"/>
<circle cx="400.8" cy="584.7" r="5.7"/>
<circle cx="624.7" cy="567.9" r="5.7"/>
<circle cx="587.0" cy="575.5" r="5.7"/>
<circle class="m" cx="359.3" cy="529.9" r="5.7"/>
<circle class="m" cx="580.0" cy="547.5" r="5.7"/>
<circle cx="453.2" cy="608.8" r="5.7"/>
<circle class="m" cx="561.4" cy="539.7" r="5.7"/>
<circle cx="440.1" cy="573.0" r="5.7"/>
<circle cx="593.3" cy="548.3" r="5.7"/>
<circle cx="650.8" cy="561.7" r="5.7"/>
<circle cx="548.1" cy="533.6" r="5.7"/>
<circle class="m" cx="778.1" cy="587.1" r="5.7"/>
<circle cx="574.1" cy="601.5" r="5.7"/>
<circle cx="460.0" cy="554.5" r="5.7"/>
<circle cx="586.8" cy="615.0" r="5.7"/>
<circle cx="509.6" cy="610.0" r="5.7"/>
<circle cx="357.8" cy="564.8" r="5.7"/>
<circle cx="804.0" cy="594.0" r="5.7"/>
<circle class="m" cx="394.4" cy="541.3" r="5.7"/>
<circle cx="797.7" cy="609.4" r="5.7"/>
<circle cx="670.3" cy="569.7" r="5.7"/>
<circle cx="490.7" cy="575.9" r="5.7"/>
<circle cx="477.9" cy="571.6" r="5.7"/>
<circle cx="766.2" cy="588.9" r="5.7"/>
<circle cx="711.5" cy="617.8" r="5.7"/>
<circle cx="381.6" cy="569.0" r="5.7"/>
<circle class="m" cx="414.4" cy="526.4" r="5.7"/>
<circle class="m" cx="385.8" cy="448.3" r="5.7"/>
<circle cx="413.7" cy="542.3" r="5.7"/>
<circle cx="752.8" cy="594.1" r="5.7"/>
<circle cx="657.6" cy="572.1" r="5.7"/>
<circle cx="345.8" cy="578.8" r="5.7"/>
<circle class="m" cx="382.2" cy="495.3" r="5.7"/>
<circle cx="350.6" cy="564.9" r="5.7"/>
<circle cx="622.3" cy="528.9" r="5.7"/>
<circle class="m" cx="381.6" cy="497.3" r="5.7"/>
<circle class="m" cx="407.4" cy="515.4" r="5.7"/>
<circle cx="554.1" cy="514.5" r="5.7"/>
<circle cx="347.1" cy="611.0" r="5.7"/>
<circle class="m" cx="631.7" cy="549.8" r="5.7"/>
<circle cx="356.0" cy="550.4" r="5.7"/>
<circle cx="356.8" cy="541.5" r="5.7"/>
<circle class="m" cx="779.6" cy="587.8" r="5.7"/>
<circle class="m" cx="338.7" cy="555.8" r="5.7"/>
<circle class="m" cx="562.5" cy="505.4" r="5.7"/>
<circle cx="770.6" cy="635.9" r="5.7"/>
<circle cx="663.6" cy="552.0" r="5.7"/>
<circle cx="657.1" cy="613.8" r="5.7"/>
<circle cx="292.4" cy="652.4" r="5.7"/>
<circle class="m" cx="288.9" cy="536.0" r="5.7"/>
<circle cx="355.0" cy="598.5" r="5.7"/>
<circle cx="645.0" cy="603.3" r="5.7"/>
<circle cx="656.8" cy="570.1" r="5.7"/>
<circle class="m" cx="414.6" cy="550.0" r="5.7"/>
<circle cx="823.1" cy="617.9" r="5.7"/>
<circle cx="708.3" cy="625.5" r="5.7"/>
<circle cx="388.1" cy="590.5" r="5.7"/>
<circle class="m" cx="362.9" cy="446.5" r="5.7"/>
<circle cx="650.3" cy="563.3" r="5.7"/>
<circle cx="566.9" cy="552.6" r="5.7"/>
<circle class="m" cx="651.5" cy="574.3" r="5.7"/>
<circle cx="375.6" cy="604.0" r="5.7"/>
<circle cx="529.2" cy="582.8" r="5.7"/>
<circle cx="567.7" cy="581.4" r="5.7"/>
<circle class="m" cx="600.1" cy="512.4" r="5.7"/>
<circle class="m" cx="368.7" cy="519.0" r="5.7"/>
<circle cx="574.5" cy="594.6" r="5.7"/>
<circle class="m" cx="471.0" cy="501.4" r="5.7"/>
<circle cx="484.8" cy="620.1" r="5.7"/>
<circle class="m" cx="689.2" cy="559.8" r="5.7"/>
<circle cx="401.2" cy="572.8" r="5.7"/>
<circle class="m" cx="345.9" cy="501.5" r="5.7"/>
<circle cx="413.9" cy="595.5" r="5.7"/>
<circle cx="317.8" cy="550.7" r="5.7"/>
<circle class="m" cx="433.6" cy="461.7" r="5.7"/>
<circle cx="657.0" cy="585.4" r="5.7"/>
<circle cx="369.0" cy="602.7" r="5.7"/>
<circle class="m" cx="286.6" cy="605.2" r="5.7"/>
<circle cx="394.6" cy="553.0" r="5.7"/>
<circle cx="529.3" cy="560.0" r="5.7"/>
<circle cx="394.9" cy="602.7" r="5.7"/>
<circle class="m" cx="407.6" cy="544.0" r="5.7"/>
<circle cx="503.1" cy="529.0" r="5.7"/>
<circle cx="804.6" cy="602.6" r="5.7"/>
<circle class="m" cx="593.0" cy="569.8" r="5.7"/>
<circle cx="354.8" cy="574.1" r="5.7"/>
<circle cx="772.6" cy="626.3" r="5.7"/>
<circle cx="538.2" cy="563.5" r="5.7"/>
<circle cx="395.2" cy="604.3" r="5.7"/>
<circle class="m" cx="315.0" cy="580.7" r="5.7"/>
<circle cx="280.6" cy="630.3" r="5.7"/>
<circle cx="420.6" cy="564.4" r="5.7"/>
<circle cx="599.6" cy="586.5" r="5.7"/>
<circle cx="373.7" cy="552.8" r="5.7"/>
<circle class="m" cx="670.3" cy="542.5" r="5.7"/>
<circle cx="523.1" cy="557.7" r="5.7"/>
<circle class="m" cx="734.1" cy="554.5" r="5.7"/>
<circle cx="523.5" cy="546.2" r="5.7"/>
<circle cx="586.6" cy="602.8" r="5.7"/>
<circle cx="560.9" cy="615.9" r="5.7"/>
<circle cx="682.5" cy="552.4" r="5.7"/>
<circle cx="343.0" cy="541.1" r="5.7"/>
<circle class="m" cx="388.7" cy="542.0" r="5.7"/>
<circle cx="678.7" cy="580.0" r="5.7"/>
<circle cx="548.7" cy="560.7" r="5.7"/>
<circle class="m" cx="810.7" cy="596.6" r="5.7"/>
<circle cx="352.7" cy="590.3" r="5.7"/>
<circle cx="638.5" cy="591.0" r="5.7"/>
<circle cx="560.6" cy="599.1" r="5.7"/>
<circle cx="260.2" cy="628.3" r="5.7"/>
<circle cx="555.0" cy="595.4" r="5.7"/>
<circle class="m" cx="510.3" cy="572.6" r="5.7"/>
<circle cx="407.5" cy="613.8" r="5.7"/>
<circle cx="517.9" cy="561.8" r="5.7"/>
<circle cx="496.8" cy="577.3" r="5.7"/>
<circle cx="407.4" cy="584.4" r="5.7"/>
<circle cx="497.2" cy="581.1" r="5.7"/>
<circle cx="817.0" cy="611.7" r="5.7"/>
<circle cx="394.8" cy="574.4" r="5.7"/>
<circle cx="555.9" cy="560.3" r="5.7"/>
<circle class="m" cx="284.8" cy="585.6" r="5.7"/>
<circle cx="604.8" cy="586.5" r="5.7"/>
<circle class="m" cx="264.4" cy="637.6" r="5.7"/>
<circle cx="422.8" cy="583.5" r="5.7"/>
<circle class="m" cx="798.1" cy="575.7" r="5.7"/>
<circle cx="408.4" cy="582.0" r="5.7"/>
<circle cx="810.6" cy="606.2" r="5.7"/>
<circle cx="413.9" cy="542.7" r="5.7"/>
<circle cx="845.7" cy="628.0" r="5.7"/>
<circle class="m" cx="733.8" cy="554.4" r="5.7"/>
<circle class="m" cx="702.7" cy="588.7" r="5.7"/>
<circle class="m" cx="670.8" cy="548.8" r="5.7"/>
<circle cx="352.0" cy="583.2" r="5.7"/>
<circle class="m" cx="522.7" cy="475.7" r="5.7"/>
<circle cx="702.5" cy="616.4" r="5.7"/>
<circle cx="753.0" cy="610.6" r="5.7"/>
<circle cx="606.7" cy="591.2" r="5.7"/>
<circle cx="503.5" cy="596.0" r="5.7"/>
<circle cx="360.8" cy="565.6" r="5.7"/>
<circle cx="575.8" cy="567.6" r="5.7"/>
<circle class="m" cx="379.0" cy="504.7" r="5.7"/>
<circle cx="433.4" cy="576.4" r="5.7"/>
<circle cx="638.0" cy="568.2" r="5.7"/>
<circle class="m" cx="643.7" cy="547.0" r="5.7"/>
<circle cx="401.3" cy="577.9" r="5.7"/>
<circle cx="324.1" cy="595.8" r="5.7"/>
<circle cx="433.4" cy="561.2" r="5.7"/>
<circle cx="300.0" cy="591.8" r="5.7"/>
<circle class="m" cx="746.9" cy="566.3" r="5.7"/>
<circle cx="641.2" cy="563.2" r="5.7"/>
<circle cx="689.4" cy="580.6" r="5.7"/>
<circle class="m" cx="426.6" cy="518.0" r="5.7"/>
<circle cx="432.5" cy="590.1" r="5.7"/>
<circle cx="388.8" cy="596.7" r="5.7"/>
<circle class="m" cx="792.2" cy="559.7" r="5.7"/>
<circle cx="618.0" cy="570.2" r="5.7"/>
<circle cx="588.6" cy="572.0" r="5.7"/>
<circle cx="825.9" cy="624.0" r="5.7"/>
<circle cx="331.0" cy="547.7" r="5.7"/>
<circle cx="554.9" cy="544.1" r="5.7"/>
<circle cx="740.9" cy="590.2" r="5.7"/>
<circle cx="516.3" cy="587.6" r="5.7"/>
<circle class="m" cx="459.0" cy="540.4" r="5.7"/>
<circle cx="338.4" cy="556.9" r="5.7"/>
<circle cx="433.0" cy="582.9" r="5.7"/>
<circle cx="255.3" cy="658.7" r="5.7"/>
<circle class="m" cx="497.2" cy="531.5" r="5.7"/>
<circle cx="452.1" cy="581.7" r="5.7"/>
<circle cx="657.2" cy="574.6" r="5.7"/>
<circle cx="437.7" cy="602.7" r="5.7"/>
<circle cx="314.1" cy="560.2" r="5.7"/>
<circle cx="734.0" cy="593.5" r="5.7"/>
<circle class="m" cx="657.1" cy="583.1" r="5.7"/>
<circle class="m" cx="395.1" cy="432.1" r="5.7"/>
<circle cx="394.9" cy="593.8" r="5.7"/>
<circle class="m" cx="464.7" cy="418.3" r="5.7"/>
<circle cx="323.2" cy="492.3" r="5.7"/>
<circle cx="535.5" cy="578.2" r="5.7"/>
<circle class="m" cx="510.1" cy="541.7" r="5.7"/>
<circle cx="349.3" cy="553.5" r="5.7"/>
<circle class="m" cx="720.8" cy="595.8" r="5.7"/>
<circle cx="522.2" cy="586.6" r="5.7"/>
<circle class="m" cx="605.4" cy="477.1" r="5.7"/>
<circle cx="695.0" cy="566.4" r="5.7"/>
<circle cx="605.5" cy="588.3" r="5.7"/>
<circle class="m" cx="740.5" cy="591.3" r="5.7"/>
<circle cx="471.9" cy="565.0" r="5.7"/>
<circle cx="695.5" cy="603.0" r="5.7"/>
<circle cx="694.9" cy="566.5" r="5.7"/>
<circle cx="420.1" cy="568.9" r="5.7"/>
<circle cx="504.6" cy="459.6" r="5.7"/>
<circle class="m" cx="832.2" cy="567.5" r="5.7"/>
<circle class="m" cx="494.3" cy="476.6" r="5.7"/>
<circle cx="339.6" cy="606.8" r="5.7"/>
<circle cx="414.2" cy="592.4" r="5.7"/>
<circle cx="303.0" cy="629.8" r="5.7"/>
<circle cx="559.2" cy="604.4" r="5.7"/>
<circle cx="582.0" cy="590.4" r="5.7"/>
<circle cx="367.9" cy="581.3" r="5.7"/>
<circle cx="375.6" cy="590.2" r="5.7"/>
<circle cx="420.6" cy="542.1" r="5.7"/>
<circle cx="676.3" cy="566.4" r="5.7"/>
<circle class="m" cx="686.4" cy="539.2" r="5.7"/>
<circle cx="382.7" cy="564.5" r="5.7"/>
<circle class="m" cx="535.5" cy="553.2" r="5.7"/>
<circle cx="651.3" cy="573.4" r="5.7"/>
<circle cx="721.1" cy="611.3" r="5.7"/>
<circle cx="572.8" cy="569.5" r="5.7"/>
<circle class="m" cx="708.4" cy="594.7" r="5.7"/>
<circle class="m" cx="509.7" cy="553.0" r="5.7"/>
<circle cx="508.0" cy="502.7" r="5.7"/>
<circle class="m" cx="554.9" cy="527.9" r="5.7"/>
<circle cx="388.3" cy="561.6" r="5.7"/>
<circle class="m" cx="507.6" cy="553.0" r="5.7"/>
<circle class="m" cx="485.2" cy="555.6" r="5.7"/>
<circle class="m" cx="651.5" cy="506.1" r="5.7"/>
<circle class="m" cx="471.9" cy="564.3" r="5.7"/>
<circle cx="651.6" cy="568.2" r="5.7"/>
<circle class="m" cx="339.6" cy="483.5" r="5.7"/>
<circle class="m" cx="676.2" cy="464.0" r="5.7"/>
<circle cx="567.7" cy="633.0" r="5.7"/>
<circle class="m" cx="804.4" cy="593.9" r="5.7"/>
<circle cx="658.6" cy="605.4" r="5.7"/>
<circle class="m" cx="471.2" cy="511.5" r="5.7"/>
<circle cx="522.8" cy="571.5" r="5.7"/>
<circle class="m" cx="568.6" cy="573.2" r="5.7"/>
<circle cx="708.5" cy="491.4" r="5.7"/>
<circle cx="650.9" cy="566.9" r="5.7"/>
<circle cx="353.7" cy="522.7" r="5.7"/>
<circle cx="459.4" cy="597.8" r="5.7"/>
<circle cx="426.8" cy="562.3" r="5.7"/>
<circle cx="657.0" cy="581.8" r="5.7"/>
<circle cx="443.0" cy="549.3" r="5.7"/>
<circle class="m" cx="312.5" cy="546.3" r="5.7"/>
<circle cx="849.2" cy="620.0" r="5.7"/>
<circle cx="664.5" cy="575.4" r="5.7"/>
<circle cx="407.7" cy="575.7" r="5.7"/>
<circle cx="301.1" cy="600.6" r="5.7"/>
<circle cx="401.1" cy="545.6" r="5.7"/>
<circle cx="393.7" cy="573.7" r="5.7"/>
<circle cx="458.3" cy="558.0" r="5.7"/>
<circle class="m" cx="574.4" cy="578.0" r="5.7"/>
<circle cx="517.0" cy="597.5" r="5.7"/>
<circle cx="400.5" cy="560.9" r="5.7"/>
<circle cx="745.1" cy="605.9" r="5.7"/>
<circle class="m" cx="280.6" cy="643.9" r="5.7"/>
<circle cx="605.8" cy="610.9" r="5.7"/>
<circle cx="618.9" cy="539.3" r="5.7"/>
<circle cx="563.2" cy="532.8" r="5.7"/>
<circle class="m" cx="695.8" cy="618.3" r="5.7"/>
<circle class="m" cx="503.5" cy="544.5" r="5.7"/>
<circle class="m" cx="593.3" cy="522.3" r="5.7"/>
<circle class="m" cx="618.2" cy="399.3" r="5.7"/>
<circle cx="321.3" cy="639.2" r="5.7"/>
<circle cx="480.0" cy="568.6" r="5.7"/>
<circle cx="747.2" cy="622.0" r="5.7"/>
<circle cx="290.4" cy="637.7" r="5.7"/>
<circle cx="316.3" cy="583.8" r="5.7"/>
<circle class="m" cx="650.2" cy="534.7" r="5.7"/>
<circle cx="439.7" cy="624.2" r="5.7"/>
<circle cx="670.0" cy="612.5" r="5.7"/>
<circle cx="511.0" cy="595.4" r="5.7"/>
<circle class="m" cx="426.4" cy="491.8" r="5.7"/>
<circle class="m" cx="347.6" cy="566.6" r="5.7"/>
<circle cx="760.3" cy="591.9" r="5.7"/>
<circle class="m" cx="349.8" cy="508.9" r="5.7"/>
<circle cx="792.0" cy="619.9" r="5.7"/>
<circle cx="255.8" cy="637.0" r="5.7"/>
<circle cx="561.0" cy="560.2" r="5.7"/>
<circle cx="306.1" cy="552.1" r="5.7"/>
<circle cx="677.6" cy="609.2" r="5.7"/>
<circle cx="381.7" cy="554.0" r="5.7"/>
<circle cx="712.6" cy="590.4" r="5.7"/>
<circle cx="785.6" cy="629.5" r="5.7"/>
<circle cx="542.0" cy="574.4" r="5.7"/>
<circle class="m" cx="772.4" cy="563.6" r="5.7"/>
<circle cx="330.9" cy="512.4" r="5.7"/>
<circle cx="599.5" cy="539.8" r="5.7"/>
<circle cx="740.0" cy="608.6" r="5.7"/>
<circle cx="325.1" cy="575.1" r="5.7"/>
<circle cx="401.2" cy="562.6" r="5.7"/>
<circle cx="535.9" cy="589.8" r="5.7"/>
<circle cx="458.4" cy="576.7" r="5.7"/>
<circle cx="567.4" cy="557.6" r="5.7"/>
<circle cx="731.4" cy="611.6" r="5.7"/>
<circle cx="433.3" cy="615.3" r="5.7"/>
<circle cx="836.6" cy="612.2" r="5.7"/>
<circle cx="419.8" cy="559.7" r="5.7"/>
<circle cx="580.6" cy="583.3" r="5.7"/>
<circle cx="440.4" cy="585.2" r="5.7"/>
<circle cx="801.4" cy="628.4" r="5.7"/>
<circle class="m" cx="823.8" cy="593.2" r="5.7"/>
<circle cx="366.1" cy="563.7" r="5.7"/>
<circle cx="521.8" cy="583.6" r="5.7"/>
<circle cx="394.7" cy="582.5" r="5.7"/>
<circle cx="568.0" cy="566.6" r="5.7"/>
<circle class="m" cx="282.7" cy="618.0" r="5.7"/>
<circle cx="510.1" cy="586.4" r="5.7"/>
<circle class="m" cx="800.5" cy="608.2" r="5.7"/>
<circle class="m" cx="760.4" cy="578.2" r="5.7"/>
<circle cx="594.8" cy="523.8" r="5.7"/>
<circle cx="503.0" cy="572.0" r="5.7"/>
<circle cx="407.8" cy="569.0" r="5.7"/>
<circle class="m" cx="464.9" cy="562.0" r="5.7"/>
<circle cx="292.3" cy="577.2" r="5.7"/>
<circle cx="650.5" cy="575.9" r="5.7"/>
<circle cx="490.9" cy="600.5" r="5.7"/>
<circle cx="465.7" cy="571.8" r="5.7"/>
<circle cx="368.7" cy="573.8" r="5.7"/>
<circle class="m" cx="343.2" cy="561.2" r="5.7"/>
<circle cx="413.8" cy="589.6" r="5.7"/>
<circle cx="465.6" cy="621.6" r="5.7"/>
<circle cx="272.0" cy="630.7" r="5.7"/>
<circle class="m" cx="490.2" cy="500.0" r="5.7"/>
<circle cx="503.5" cy="550.3" r="5.7"/>
<circle cx="793.5" cy="600.9" r="5.7"/>
<circle class="m" cx="439.8" cy="517.6" r="5.7"/>
<circle cx="520.7" cy="595.9" r="5.7"/>
<circle class="m" cx="644.4" cy="481.0" r="5.7"/>
<circle class="m" cx="296.5" cy="570.3" r="5.7"/>
<circle class="m" cx="689.6" cy="538.0" r="5.7"/>
<circle cx="465.0" cy="587.8" r="5.7"/>
<circle cx="595.1" cy="599.5" r="5.7"/>
<circle cx="679.1" cy="609.8" r="5.7"/>
<circle cx="599.4" cy="572.1" r="5.7"/>
<circle cx="760.5" cy="595.5" r="5.7"/>
<circle cx="370.7" cy="564.2" r="5.7"/>
<circle cx="804.2" cy="608.7" r="5.7"/>
<circle cx="650.5" cy="589.4" r="5.7"/>
<circle class="m" cx="320.4" cy="514.7" r="5.7"/>
<circle cx="388.5" cy="573.5" r="5.7"/>
<circle cx="490.4" cy="568.9" r="5.7"/>
<circle class="m" cx="554.4" cy="555.4" r="5.7"/>
<circle class="m" cx="298.5" cy="599.1" r="5.7"/>
<circle class="m" cx="335.0" cy="573.0" r="5.7"/>
<circle cx="413.8" cy="595.5" r="5.7"/>
<circle class="m" cx="459.1" cy="469.1" r="5.7"/>
<circle cx="516.2" cy="594.7" r="5.7"/>
<circle class="m" cx="363.0" cy="466.1" r="5.7"/>
<circle cx="516.1" cy="574.9" r="5.7"/>
<circle cx="559.1" cy="557.8" r="5.7"/>
<circle cx="536.1" cy="625.7" r="5.7"/>
<circle cx="778.6" cy="624.4" r="5.7"/>
<circle cx="512.0" cy="566.5" r="5.7"/>
<circle cx="381.1" cy="585.0" r="5.7"/>
<circle cx="382.3" cy="571.7" r="5.7"/>
<circle cx="400.9" cy="597.8" r="5.7"/>
<circle cx="856.1" cy="633.5" r="5.7"/>
<circle cx="407.8" cy="556.4" r="5.7"/>
<circle cx="523.0" cy="572.4" r="5.7"/>
<circle cx="670.2" cy="607.2" r="5.7"/>
<circle cx="529.5" cy="555.9" r="5.7"/>
<circle cx="721.6" cy="592.1" r="5.7"/>
<circle class="m" cx="491.3" cy="505.3" r="5.7"/>
<circle cx="344.6" cy="572.1" r="5.7"/>
<circle cx="708.3" cy="632.0" r="5.7"/>
<circle class="m" cx="251.0" cy="665.6" r="5.7"/>
<circle class="m" cx="541.7" cy="569.1" r="5.7"/>
<circle cx="586.2" cy="610.3" r="5.7"/>
<circle cx="439.3" cy="567.5" r="5.7"/>
<circle cx="587.3" cy="572.0" r="5.7"/>
<circle cx="477.5" cy="567.6" r="5.7"/>
<circle cx="529.4" cy="564.2" r="5.7"/>
<circle class="m" cx="394.7" cy="575.8" r="5.7"/>
<circle class="m" cx="535.8" cy="541.0" r="5.7"/>
<circle cx="644.3" cy="588.6" r="5.7"/>
<circle cx="682.8" cy="606.1" r="5.7"/>
<circle cx="433.0" cy="581.8" r="5.7"/>
<circle cx="335.3" cy="601.9" r="5.7"/>
<circle cx="810.4" cy="606.8" r="5.7"/>
<circle cx="471.5" cy="591.8" r="5.7"/>
<circle class="m" cx="548.4" cy="550.5" r="5.7"/>
<circle cx="388.8" cy="578.7" r="5.7"/>
<circle cx="529.0" cy="548.2" r="5.7"/>
<circle cx="517.0" cy="596.2" r="5.7"/>
<circle cx="766.0" cy="619.7" r="5.7"/>
<circle class="m" cx="599.9" cy="522.1" r="5.7"/>
<circle cx="294.8" cy="607.1" r="5.7"/>
<circle cx="427.2" cy="563.0" r="5.7"/>
<circle cx="413.5" cy="607.0" r="5.7"/>
<circle class="m" cx="596.4" cy="513.4" r="5.7"/>
<circle class="m" cx="625.0" cy="469.7" r="5.7"/>
<circle cx="439.5" cy="564.3" r="5.7"/>
<circle class="m" cx="509.9" cy="528.6" r="5.7"/>
<circle class="m" cx="638.3" cy="385.0" r="5.7"/>
<circle class="m" cx="307.7" cy="635.1" r="5.7"/>
<circle cx="625.5" cy="607.3" r="5.7"/>
<circle cx="593.3" cy="587.4" r="5.7"/>
<circle cx="446.3" cy="566.7" r="5.7"/>
<circle cx="420.7" cy="537.1" r="5.7"/>
<circle class="m" cx="329.2" cy="580.1" r="5.7"/>
<circle class="m" cx="344.8" cy="582.4" r="5.7"/>
<circle cx="589.1" cy="584.8" r="5.7"/>
<circle cx="490.7" cy="600.0" r="5.7"/>
<circle cx="394.9" cy="596.0" r="5.7"/>
<circle cx="471.8" cy="602.5" r="5.7"/>
<circle cx="375.7" cy="565.5" r="5.7"/>
<circle class="m" cx="320.9" cy="524.9" r="5.7"/>
<circle cx="580.9" cy="570.3" r="5.7"/>
<circle cx="335.1" cy="531.8" r="5.7"/>
<circle cx="465.2" cy="564.0" r="5.7"/>
<circle cx="522.6" cy="615.6" r="5.7"/>
<circle cx="574.0" cy="551.4" r="5.7"/>
<circle cx="375.7" cy="531.1" r="5.7"/>
<circle class="m" cx="267.6" cy="644.5" r="5.7"/>
<circle cx="369.3" cy="550.3" r="5.7"/>
<circle cx="432.9" cy="605.3" r="5.7"/>
<circle cx="458.4" cy="561.6" r="5.7"/>
<circle cx="753.6" cy="612.2" r="5.7"/>
<circle cx="805.0" cy="618.4" r="5.7"/>
<circle cx="709.4" cy="577.5" r="5.7"/>
<circle class="m" cx="549.2" cy="555.4" r="5.7"/>
<circle cx="690.1" cy="584.3" r="5.7"/>
<circle class="m" cx="766.1" cy="601.9" r="5.7"/>
<circle cx="406.9" cy="565.8" r="5.7"/>
<circle cx="574.6" cy="581.6" r="5.7"/>
<circle cx="459.5" cy="552.1" r="5.7"/>
<circle class="m" cx="325.4" cy="512.5" r="5.7"/>
<circle cx="438.3" cy="586.2" r="5.7"/>
<circle cx="464.6" cy="623.6" r="5.7"/>
<circle cx="497.2" cy="558.7" r="5.7"/>
<circle cx="708.3" cy="586.8" r="5.7"/>
<circle cx="669.8" cy="576.3" r="5.7"/>
<circle class="m" cx="387.9" cy="490.1" r="5.7"/>
<circle cx="817.4" cy="607.8" r="5.7"/>
<circle cx="689.1" cy="557.2" r="5.7"/>
<circle class="m" cx="823.1" cy="600.7" r="5.7"/>
<circle cx="762.1" cy="571.6" r="5.7"/>
<circle cx="401.0" cy="599.8" r="5.7"/>
<circle class="m" cx="669.7" cy="572.9" r="5.7"/>
<circle cx="468.2" cy="549.0" r="5.7"/>
<circle cx="541.6" cy="570.4" r="5.7"/>
<circle cx="567.6" cy="596.9" r="5.7"/>
<circle cx="862.6" cy="636.2" r="5.7"/>
<circle class="m" cx="580.3" cy="562.6" r="5.7"/>
<circle class="m" cx="548.3" cy="558.8" r="5.7"/>
<circle cx="258.3" cy="646.2" r="5.7"/>
<circle cx="541.8" cy="577.9" r="5.7"/>
<circle cx="740.6" cy="585.9" r="5.7"/>
<circle class="m" cx="287.7" cy="584.1" r="5.7"/>
<circle cx="444.7" cy="582.0" r="5.7"/>
<circle class="m" cx="376.1" cy="545.0" r="5.7"/>
<circle class="m" cx="269.4" cy="623.5" r="5.7"/>
<circle cx="413.2" cy="583.6" r="5.7"/>
<circle cx="413.7" cy="617.3" r="5.7"/>
<circle cx="580.3" cy="573.9" r="5.7"/>
<circle cx="368.4" cy="552.6" r="5.7"/>
<circle class="m" cx="344.8" cy="518.5" r="5.7"/>
<circle cx="548.8" cy="578.7" r="5.7"/>
<circle cx="631.1" cy="570.3" r="5.7"/>
<circle class="m" cx="367.0" cy="562.8" r="5.7"/>
<circle cx="390.9" cy="581.9" r="5.7"/>
<circle cx="394.3" cy="554.9" r="5.7"/>
<circle cx="401.1" cy="570.7" r="5.7"/>
<circle cx="811.0" cy="621.4" r="5.7"/>
<circle cx="469.7" cy="612.8" r="5.7"/>
<circle cx="407.9" cy="566.8" r="5.7"/>
<circle cx="479.8" cy="546.4" r="5.7"/>
<circle class="m" cx="324.5" cy="589.8" r="5.7"/>
<circle class="m" cx="316.3" cy="540.7" r="5.7"/>
<circle class="m" cx="308.3" cy="543.3" r="5.7"/>
<circle cx="739.8" cy="570.6" r="5.7"/>
<circle cx="401.5" cy="548.6" r="5.7"/>
<circle class="m" cx="381.8" cy="548.3" r="5.7"/>
<circle cx="465.7" cy="564.0" r="5.7"/>
<circle cx="688.7" cy="557.5" r="5.7"/>
<circle cx="676.6" cy="539.6" r="5.7"/>
<circle cx="746.3" cy="584.1" r="5.7"/>
<circle cx="652.0" cy="570.9" r="5.7"/>
<circle cx="657.0" cy="611.6" r="5.7"/>
<circle cx="676.7" cy="621.4" r="5.7"/>
<circle cx="606.8" cy="570.8" r="5.7"/>
<circle class="m" cx="663.9" cy="521.1" r="5.7"/>
<circle cx="374.8" cy="588.8" r="5.7"/>
<circle cx="326.1" cy="610.4" r="5.7"/>
<circle cx="644.7" cy="608.4" r="5.7"/>
<circle class="m" cx="510.3" cy="516.8" r="5.7"/>
<circle cx="625.2" cy="568.3" r="5.7"/>
<circle cx="351.9" cy="586.8" r="5.7"/>
<circle cx="535.9" cy="530.1" r="5.7"/>
<circle cx="413.8" cy="550.8" r="5.7"/>
<circle cx="516.5" cy="541.7" r="5.7"/>
<circle cx="689.0" cy="611.5" r="5.7"/>
<circle cx="612.3" cy="579.1" r="5.7"/>
<circle cx="714.9" cy="608.3" r="5.7"/>
<circle cx="541.4" cy="567.1" r="5.7"/>
<circle cx="631.3" cy="584.2" r="5.7"/>
<circle class="m" cx="599.9" cy="493.5" r="5.7"/>
<circle cx="836.3" cy="622.8" r="5.7"/>
<circle cx="772.5" cy="603.2" r="5.7"/>
<circle class="m" cx="593.0" cy="508.3" r="5.7"/>
<circle class="m" cx="267.5" cy="633.1" r="5.7"/>
<circle class="m" cx="663.0" cy="575.5" r="5.7"/>
<circle class="m" cx="740.6" cy="571.9" r="5.7"/>
<circle cx="624.7" cy="579.3" r="5.7"/>
<circle class="m" cx="406.5" cy="490.3" r="5.7"/>
<circle cx="740.2" cy="595.6" r="5.7"/>
<circle cx="701.8" cy="588.3" r="5.7"/>
<circle cx="803.9" cy="610.5" r="5.7"/>
<circle class="m" cx="491.3" cy="505.2" r="5.7"/>
<circle cx="574.7" cy="566.8" r="5.7"/>
<circle class="m" cx="773.0" cy="544.3" r="5.7"/>
<circle cx="504.0" cy="525.4" r="5.7"/>
<circle class="m" cx="434.2" cy="475.4" r="5.7"/>
<circle cx="734.5" cy="614.7" r="5.7"/>
<circle cx="445.4" cy="551.4" r="5.7"/>
<circle cx="753.2" cy="613.1" r="5.7"/>
<circle cx="708.4" cy="617.7" r="5.7"/>
<circle cx="484.3" cy="564.5" r="5.7"/>
<circle cx="516.5" cy="559.9" r="5.7"/>
<circle cx="509.8" cy="574.7" r="5.7"/>
<circle cx="734.0" cy="594.9" r="5.7"/>
<circle cx="336.1" cy="544.8" r="5.7"/>
<circle cx="600.2" cy="560.1" r="5.7"/>
<circle cx="523.6" cy="572.9" r="5.7"/>
<circle cx="631.6" cy="555.8" r="5.7"/>
<circle class="m" cx="522.2" cy="505.5" r="5.7"/>
<circle class="m" cx="659.8" cy="557.0" r="5.7"/>
<circle cx="644.8" cy="560.9" r="5.7"/>
<circle cx="587.1" cy="567.4" r="5.7"/>
<circle cx="682.4" cy="615.6" r="5.7"/>
<circle cx="619.2" cy="598.3" r="5.7"/>
<circle cx="561.1" cy="585.6" r="5.7"/>
<circle cx="542.8" cy="588.6" r="5.7"/>
<circle cx="413.7" cy="589.6" r="5.7"/>
<circle class="m" cx="549.0" cy="504.2" r="5.7"/>
<circle cx="263.6" cy="636.7" r="5.7"/>
<circle class="m" cx="322.9" cy="519.6" r="5.7"/>
<circle cx="605.6" cy="583.0" r="5.7"/>
<circle class="m" cx="573.7" cy="582.7" r="5.7"/>
<circle class="m" cx="612.9" cy="537.5" r="5.7"/>
<circle cx="757.0" cy="637.1" r="5.7"/>
<circle cx="421.0" cy="581.3" r="5.7"/>
<circle class="m" cx="345.4" cy="522.8" r="5.7"/>
<circle cx="414.3" cy="590.7" r="5.7"/>
<circle cx="606.1" cy="601.2" r="5.7"/>
<circle class="m" cx="395.6" cy="483.9" r="5.7"/>
<circle cx="670.5" cy="597.8" r="5.7"/>
<circle class="m" cx="325.8" cy="563.5" r="5.7"/>
<circle cx="413.3" cy="562.9" r="5.7"/>
<circle cx="619.2" cy="611.3" r="5.7"/>
<circle cx="461.7" cy="596.8" r="5.7"/>
<circle class="m" cx="447.7" cy="567.5" r="5.7"/>
<circle cx="574.6" cy="561.1" r="5.7"/>
<circle cx="765.4" cy="594.9" r="5.7"/>
<circle cx="606.0" cy="537.9" r="5.7"/>
<circle cx="644.4" cy="577.4" r="5.7"/>
<circle cx="545.8" cy="582.0" r="5.7"/>
<circle cx="618.9" cy="589.0" r="5.7"/>
<circle cx="426.6" cy="608.9" r="5.7"/>
<circle class="m" cx="560.7" cy="572.4" r="5.7"/>
<circle cx="465.3" cy="592.7" r="5.7"/>
<circle cx="804.7" cy="625.7" r="5.7"/>
<circle cx="523.3" cy="588.2" r="5.7"/>
<circle cx="612.7" cy="584.7" r="5.7"/>
<circle cx="368.8" cy="592.2" r="5.7"/>
<circle class="m" cx="637.5" cy="552.0" r="5.7"/>
<circle class="m" cx="328.5" cy="625.1" r="5.7"/>
<circle class="m" cx="835.8" cy="611.1" r="5.7"/>
<circle class="m" cx="344.6" cy="564.3" r="5.7"/>
<circle cx="778.7" cy="599.3" r="5.7"/>
<circle cx="348.9" cy="561.3" r="5.7"/>
<circle cx="664.2" cy="598.4" r="5.7"/>
<circle cx="721.4" cy="597.8" r="5.7"/>
<circle cx="465.8" cy="536.1" r="5.7"/>
<circle cx="426.3" cy="584.3" r="5.7"/>
<circle cx="670.3" cy="607.4" r="5.7"/>
<circle cx="400.4" cy="571.3" r="5.7"/>
<circle class="m" cx="451.8" cy="543.7" r="5.7"/>
<circle cx="606.2" cy="513.4" r="5.7"/>
<circle cx="497.4" cy="585.4" r="5.7"/>
<circle cx="522.7" cy="562.4" r="5.7"/>
<circle cx="644.2" cy="600.8" r="5.7"/>
<circle class="m" cx="491.5" cy="566.2" r="5.7"/>
<circle class="m" cx="556.4" cy="538.8" r="5.7"/>
<circle cx="497.5" cy="602.1" r="5.7"/>
<circle cx="611.5" cy="616.7" r="5.7"/>
<circle cx="721.1" cy="594.4" r="5.7"/>
<circle cx="650.4" cy="534.1" r="5.7"/>
<circle cx="484.0" cy="565.2" r="5.7"/>
<circle cx="714.8" cy="591.5" r="5.7"/>
<circle class="m" cx="734.0" cy="579.0" r="5.7"/>
<circle cx="625.0" cy="556.3" r="5.7"/>
<circle cx="375.5" cy="598.4" r="5.7"/>
<circle cx="503.8" cy="563.7" r="5.7"/>
<circle class="m" cx="783.3" cy="611.0" r="5.7"/>
<circle class="m" cx="744.3" cy="550.5" r="5.7"/>
<circle cx="791.2" cy="608.5" r="5.7"/>
<circle class="m" cx="548.2" cy="529.0" r="5.7"/>
<circle cx="458.8" cy="574.0" r="5.7"/>
<circle cx="721.6" cy="609.9" r="5.7"/>
<circle cx="612.7" cy="568.2" r="5.7"/>
<circle cx="437.3" cy="562.9" r="5.7"/>
<circle class="m" cx="442.0" cy="500.5" r="5.7"/>
<circle cx="388.9" cy="564.8" r="5.7"/>
<circle cx="287.0" cy="629.4" r="5.7"/>
<circle cx="586.7" cy="583.9" r="5.7"/>
<circle class="m" cx="433.5" cy="490.2" r="5.7"/>
<circle cx="375.5" cy="581.1" r="5.7"/>
<circle cx="568.1" cy="573.0" r="5.7"/>
<circle cx="420.5" cy="562.0" r="5.7"/>
<circle class="m" cx="458.3" cy="549.7" r="5.7"/>
<circle cx="734.3" cy="590.5" r="5.7"/>
<circle class="m" cx="408.2" cy="576.3" r="5.7"/>
<circle cx="593.9" cy="558.7" r="5.7"/>
<circle class="m" cx="257.9" cy="652.4" r="5.7"/>
<circle cx="862.3" cy="643.3" r="5.7"/>
<circle class="m" cx="676.0" cy="556.4" r="5.7"/>
<circle cx="368.7" cy="552.5" r="5.7"/>
<circle cx="458.6" cy="580.1" r="5.7"/>
<circle cx="606.0" cy="570.0" r="5.7"/>
<circle class="m" cx="689.5" cy="543.9" r="5.7"/>
<circle class="m" cx="381.5" cy="532.6" r="5.7"/>
<circle class="m" cx="285.9" cy="594.0" r="5.7"/>
<circle cx="817.0" cy="629.6" r="5.7"/>
<circle class="m" cx="319.2" cy="606.8" r="5.7"/>
<circle cx="427.1" cy="560.8" r="5.7"/>
<circle cx="836.6" cy="610.0" r="5.7"/>
<circle cx="618.0" cy="594.7" r="5.7"/>
<circle class="m" cx="483.5" cy="441.4" r="5.7"/>
<circle cx="638.1" cy="607.7" r="5.7"/>
<circle class="m" cx="458.7" cy="518.0" r="5.7"/>
<circle cx="720.8" cy="610.3" r="5.7"/>
<circle cx="395.1" cy="583.3" r="5.7"/>
<circle class="m" cx="613.6" cy="536.6" r="5.7"/>
<circle class="m" cx="574.1" cy="529.3" r="5.7"/>
<circle cx="663.7" cy="588.7" r="5.7"/>
<circle cx="744.9" cy="606.5" r="5.7"/>
<circle class="m" cx="753.6" cy="563.0" r="5.7"/>
<circle cx="345.6" cy="581.3" r="5.7"/>
<circle class="m" cx="477.9" cy="510.9" r="5.7"/>
<circle cx="510.5" cy="583.2" r="5.7"/>
<circle cx="381.6" cy="554.0" r="5.7"/>
<circle cx="439.6" cy="555.1" r="5.7"/>
<circle cx="785.5" cy="603.3" r="5.7"/>
<circle cx="322.3" cy="551.7" r="5.7"/>
<circle class="m" cx="548.4" cy="476.4" r="5.7"/>
<circle cx="451.4" cy="564.1" r="5.7"/>
<circle class="m" cx="567.7" cy="548.4" r="5.7"/>
<circle cx="347.3" cy="613.4" r="5.7"/>
<circle cx="491.0" cy="612.1" r="5.7"/>
<circle cx="823.8" cy="611.2" r="5.7"/>
<circle cx="808.0" cy="612.6" r="5.7"/>
<circle cx="412.0" cy="587.0" r="5.7"/>
<circle class="m" cx="522.8" cy="559.3" r="5.7"/>
<circle cx="401.5" cy="605.8" r="5.7"/>
<circle cx="740.2" cy="597.9" r="5.7"/>
<circle cx="608.3" cy="574.2" r="5.7"/>
<circle class="m" cx="535.4" cy="497.8" r="5.7"/>
<circle class="m" cx="432.7" cy="428.6" r="5.7"/>
<circle cx="579.1" cy="590.0" r="5.7"/>
<circle cx="427.3" cy="553.2" r="5.7"/>
<circle cx="733.9" cy="618.2" r="5.7"/>
<circle class="m" cx="631.8" cy="442.0" r="5.7"/>
<circle class="m" cx="606.0" cy="555.1" r="5.7"/>
<circle cx="598.2" cy="552.5" r="5.7"/>
<circle cx="465.2" cy="538.9" r="5.7"/>
<circle cx="375.6" cy="552.1" r="5.7"/>
<circle cx="638.2" cy="564.1" r="5.7"/>
<circle cx="478.2" cy="572.6" r="5.7"/>
<circle cx="490.5" cy="529.4" r="5.7"/>
<circle cx="420.3" cy="569.5" r="5.7"/>
<circle cx="747.0" cy="584.9" r="5.7"/>
<circle cx="740.4" cy="594.0" r="5.7"/>
<circle cx="535.1" cy="587.0" r="5.7"/>
<circle cx="401.0" cy="583.5" r="5.7"/>
<circle cx="674.2" cy="584.7" r="5.7"/>
<circle cx="753.1" cy="619.1" r="5.7"/>
<circle cx="657.6" cy="605.8" r="5.7"/>
<circle cx="868.7" cy="621.5" r="5.7"/>
<circle class="m" cx="650.0" cy="495.6" r="5.7"/>
<circle cx="580.0" cy="614.4" r="5.7"/>
<circle class="m" cx="458.5" cy="484.1" r="5.7"/>
<circle class="m" cx="414.9" cy="530.6" r="5.7"/>
<circle cx="268.8" cy="610.8" r="5.7"/>
<circle cx="772.2" cy="580.1" r="5.7"/>
<circle class="m" cx="664.0" cy="546.0" r="5.7"/>
<circle class="m" cx="484.8" cy="470.4" r="5.7"/>
<circle cx="753.4" cy="620.2" r="5.7"/>
<circle cx="669.9" cy="564.3" r="5.7"/>
<circle cx="491.2" cy="583.2" r="5.7"/>
<circle class="m" cx="375.5" cy="526.1" r="5.7"/>
<circle class="m" cx="254.9" cy="653.6" r="5.7"/>
<circle class="m" cx="478.3" cy="484.7" r="5.7"/>
<circle cx="861.2" cy="635.2" r="5.7"/>
<circle cx="503.2" cy="606.0" r="5.7"/>
<circle cx="542.2" cy="552.7" r="5.7"/>
<circle cx="580.1" cy="556.1" r="5.7"/>
<circle class="m" cx="778.8" cy="577.9" r="5.7"/>
<circle cx="734.1" cy="607.2" r="5.7"/>
<circle class="m" cx="523.4" cy="569.7" r="5.7"/>
<circle cx="533.3" cy="582.7" r="5.7"/>
<circle class="m" cx="753.0" cy="585.7" r="5.7"/>
<circle class="m" cx="464.9" cy="492.0" r="5.7"/>
<circle cx="349.1" cy="591.0" r="5.7"/>
<circle cx="478.1" cy="571.1" r="5.7"/>
<circle cx="497.2" cy="576.1" r="5.7"/>
<circle cx="425.4" cy="587.9" r="5.7"/>
<circle cx="528.8" cy="563.0" r="5.7"/>
<circle class="m" cx="427.0" cy="532.9" r="5.7"/>
<circle cx="503.6" cy="604.3" r="5.7"/>
<circle cx="454.8" cy="585.2" r="5.7"/>
<circle cx="426.2" cy="600.3" r="5.7"/>
<circle class="m" cx="298.6" cy="552.1" r="5.7"/>
<circle class="m" cx="465.7" cy="572.8" r="5.7"/>
<circle class="m" cx="722.3" cy="546.7" r="5.7"/>
<circle cx="287.3" cy="641.0" r="5.7"/>
<circle cx="810.5" cy="579.0" r="5.7"/>
<circle cx="403.8" cy="582.9" r="5.7"/>
<circle class="m" cx="490.6" cy="461.1" r="5.7"/>
<circle cx="459.6" cy="559.9" r="5.7"/>
<circle class="m" cx="536.4" cy="544.5" r="5.7"/>
<circle cx="439.8" cy="586.4" r="5.7"/>
<circle cx="439.5" cy="598.6" r="5.7"/>
<circle cx="353.3" cy="622.4" r="5.7"/>
<circle cx="548.6" cy="575.7" r="5.7"/>
<circle class="m" cx="393.7" cy="540.3" r="5.7"/>
<circle cx="818.2" cy="618.4" r="5.7"/>
<circle class="m" cx="663.4" cy="559.7" r="5.7"/>
<circle cx="369.0" cy="605.0" r="5.7"/>
<circle cx="342.1" cy="577.9" r="5.7"/>
<circle class="m" cx="381.9" cy="503.1" r="5.7"/>
<circle cx="801.1" cy="609.0" r="5.7"/>
<circle cx="721.2" cy="559.7" r="5.7"/>
<circle cx="497.4" cy="574.2" r="5.7"/>
<circle class="m" cx="618.8" cy="480.0" r="5.7"/>
<circle cx="426.8" cy="580.2" r="5.7"/>
<circle cx="631.7" cy="607.5" r="5.7"/>
<circle cx="643.8" cy="595.7" r="5.7"/>
<circle cx="484.5" cy="562.3" r="5.7"/>
<circle cx="494.0" cy="602.1" r="5.7"/>
<circle class="m" cx="438.8" cy="528.2" r="5.7"/>
<circle cx="401.7" cy="606.0" r="5.7"/>
<circle cx="529.1" cy="570.2" r="5.7"/>
<circle cx="708.3" cy="564.7" r="5.7"/>
<circle class="m" cx="611.3" cy="455.9" r="5.7"/>
<circle cx="650.0" cy="604.5" r="5.7"/>
<circle class="m" cx="618.9" cy="543.1" r="5.7"/>
<circle cx="740.0" cy="604.2" r="5.7"/>
<circle cx="817.7" cy="637.3" r="5.7"/>
<circle cx="676.6" cy="589.8" r="5.7"/>
<circle cx="387.2" cy="589.9" r="5.7"/>
<circle cx="714.9" cy="585.0" r="5.7"/>
<circle cx="375.7" cy="587.3" r="5.7"/>
<circle class="m" cx="663.7" cy="537.8" r="5.7"/>
<circle cx="701.8" cy="572.1" r="5.7"/>
<circle cx="594.1" cy="574.4" r="5.7"/>
<circle cx="341.1" cy="558.4" r="5.7"/>
<circle cx="798.1" cy="618.0" r="5.7"/>
<circle cx="425.3" cy="596.2" r="5.7"/>
<circle cx="467.8" cy="542.9" r="5.7"/>
<circle cx="432.4" cy="561.8" r="5.7"/>
<circle cx="348.7" cy="516.0" r="5.7"/>
<circle class="m" cx="573.9" cy="542.6" r="5.7"/>
<circle cx="612.2" cy="592.9" r="5.7"/>
<circle class="m" cx="470.8" cy="543.1" r="5.7"/>
<circle cx="727.0" cy="584.3" r="5.7"/>
<circle cx="574.6" cy="556.9" r="5.7"/>
<circle cx="452.8" cy="593.4" r="5.7"/>
<circle cx="657.2" cy="617.7" r="5.7"/>
<circle class="m" cx="778.6" cy="611.8" r="5.7"/>
<circle cx="650.9" cy="589.9" r="5.7"/>
<circle cx="797.4" cy="604.8" r="5.7"/>
<circle class="m" cx="779.2" cy="579.7" r="5.7"/>
<circle cx="612.4" cy="585.6" r="5.7"/>
<circle class="m" cx="573.8" cy="557.5" r="5.7"/>
<circle class="m" cx="369.2" cy="476.4" r="5.7"/>
<circle cx="360.6" cy="607.3" r="5.7"/>
<circle cx="830.2" cy="611.1" r="5.7"/>
<circle cx="657.7" cy="610.0" r="5.7"/>
<circle class="m" cx="432.9" cy="495.1" r="5.7"/>
<circle cx="663.0" cy="597.5" r="5.7"/>
<circle cx="413.5" cy="564.8" r="5.7"/>
<circle class="m" cx="528.9" cy="495.0" r="5.7"/>
<circle cx="657.0" cy="614.4" r="5.7"/>
<circle cx="580.7" cy="579.3" r="5.7"/>
<circle cx="388.5" cy="609.1" r="5.7"/>
<circle cx="287.7" cy="587.2" r="5.7"/>
<circle class="m" cx="375.7" cy="532.3" r="5.7"/>
<circle class="m" cx="256.6" cy="630.6" r="5.7"/>
<circle cx="720.5" cy="583.0" r="5.7"/>
<circle cx="765.7" cy="595.4" r="5.7"/>
<circle cx="529.4" cy="545.1" r="5.7"/>
<circle cx="790.9" cy="618.0" r="5.7"/>
<circle cx="529.4" cy="590.3" r="5.7"/>
<circle cx="688.5" cy="588.7" r="5.7"/>
<circle cx="375.4" cy="566.5" r="5.7"/>
<circle cx="360.0" cy="498.1" r="5.7"/>
<circle class="m" cx="490.3" cy="551.8" r="5.7"/>
<circle cx="445.8" cy="586.5" r="5.7"/>
<circle cx="529.1" cy="564.6" r="5.7"/>
<circle cx="721.7" cy="617.1" r="5.7"/>
<circle cx="510.1" cy="616.9" r="5.7"/>
<circle cx="472.2" cy="537.1" r="5.7"/>
<circle class="m" cx="420.1" cy="480.1" r="5.7"/>
<circle cx="708.5" cy="586.1" r="5.7"/>
<circle cx="567.3" cy="575.9" r="5.7"/>
<circle cx="400.9" cy="605.8" r="5.7"/>
<circle cx="375.0" cy="522.6" r="5.7"/>
<circle class="m" cx="467.4" cy="497.8" r="5.7"/>
<circle class="m" cx="483.7" cy="531.6" r="5.7"/>
<circle cx="426.3" cy="553.4" r="5.7"/>
<circle class="m" cx="605.2" cy="548.6" r="5.7"/>
<circle cx="366.4" cy="578.0" r="5.7"/>
<circle class="m" cx="426.6" cy="485.9" r="5.7"/>
<circle cx="805.0" cy="601.0" r="5.7"/>
<circle class="m" cx="284.1" cy="544.5" r="5.7"/>
<circle cx="714.7" cy="575.2" r="5.7"/>
<circle class="m" cx="728.5" cy="548.1" r="5.7"/>
<circle class="m" cx="446.5" cy="408.2" r="5.7"/>
<circle cx="695.6" cy="591.0" r="5.7"/>
<circle class="m" cx="709.8" cy="581.5" r="5.7"/>
<circle cx="496.9" cy="599.2" r="5.7"/>
<circle cx="392.4" cy="549.5" r="5.7"/>
<circle class="m" cx="346.1" cy="425.5" r="5.7"/>
<circle cx="657.7" cy="588.5" r="5.7"/>
<circle cx="490.6" cy="573.9" r="5.7"/>
<circle class="m" cx="727.6" cy="600.1" r="5.7"/>
<circle cx="347.7" cy="577.4" r="5.7"/>
<circle class="m" cx="250.5" cy="660.0" r="5.7"/>
<circle class="m" cx="580.2" cy="479.8" r="5.7"/>
<circle cx="516.1" cy="597.3" r="5.7"/>
<circle class="m" cx="868.8" cy="585.0" r="5.7"/>
<circle cx="323.7" cy="585.7" r="5.7"/>
<circle cx="477.5" cy="567.5" r="5.7"/>
<circle cx="503.5" cy="605.9" r="5.7"/>
<circle class="m" cx="631.5" cy="493.3" r="5.7"/>
<circle cx="634.1" cy="569.9" r="5.7"/>
<circle class="m" cx="555.1" cy="557.7" r="5.7"/>
<circle cx="753.2" cy="625.1" r="5.7"/>
<circle cx="688.9" cy="580.6" r="5.7"/>
<circle cx="567.5" cy="556.1" r="5.7"/>
<circle cx="648.8" cy="585.8" r="5.7"/>
<circle class="m" cx="484.4" cy="529.2" r="5.7"/>
<circle cx="342.6" cy="581.7" r="5.7"/>
<circle cx="593.3" cy="592.7" r="5.7"/>
<circle class="m" cx="382.1" cy="531.2" r="5.7"/>
<circle class="m" cx="334.4" cy="543.6" r="5.7"/>
<circle cx="650.9" cy="586.5" r="5.7"/>
<circle cx="423.1" cy="618.3" r="5.7"/>
<circle class="m" cx="676.3" cy="539.8" r="5.7"/>
<circle cx="683.3" cy="591.6" r="5.7"/>
<circle class="m" cx="459.5" cy="477.5" r="5.7"/>
<circle cx="382.0" cy="589.4" r="5.7"/>
<circle class="m" cx="414.4" cy="523.1" r="5.7"/>
<circle cx="688.6" cy="573.9" r="5.7"/>
<circle cx="817.1" cy="609.8" r="5.7"/>
<circle cx="682.9" cy="580.3" r="5.7"/>
<circle cx="414.3" cy="576.9" r="5.7"/>
<circle cx="816.8" cy="618.3" r="5.7"/>
<circle cx="663.1" cy="562.5" r="5.7"/>
<circle cx="420.0" cy="612.3" r="5.7"/>
<circle cx="740.1" cy="583.9" r="5.7"/>
<circle cx="586.8" cy="593.1" r="5.7"/>
<circle class="m" cx="548.3" cy="557.6" r="5.7"/>
<circle cx="759.5" cy="610.0" r="5.7"/>
<circle class="m" cx="573.8" cy="564.7" r="5.7"/>
<circle cx="459.2" cy="573.3" r="5.7"/>
<circle class="m" cx="529.8" cy="563.5" r="5.7"/>
<circle cx="443.3" cy="550.4" r="5.7"/>
<circle class="m" cx="564.8" cy="559.9" r="5.7"/>
<circle class="m" cx="638.3" cy="509.1" r="5.7"/>
<circle class="m" cx="621.5" cy="538.0" r="5.7"/>
<circle class="m" cx="687.8" cy="540.2" r="5.7"/>
<circle cx="388.9" cy="574.2" r="5.7"/>
<circle cx="522.4" cy="528.8" r="5.7"/>
<circle cx="535.6" cy="611.6" r="5.7"/>
<circle class="m" cx="724.9" cy="575.4" r="5.7"/>
<circle cx="483.8" cy="589.4" r="5.7"/>
<circle class="m" cx="817.8" cy="543.9" r="5.7"/>
<circle cx="318.7" cy="577.4" r="5.7"/>
<circle class="m" cx="334.7" cy="517.5" r="5.7"/>
<circle cx="567.5" cy="548.6" r="5.7"/>
<circle cx="778.6" cy="580.6" r="5.7"/>
<circle class="m" cx="720.8" cy="579.2" r="5.7"/>
<circle cx="682.5" cy="575.8" r="5.7"/>
<circle class="m" cx="364.7" cy="495.6" r="5.7"/>
<circle class="m" cx="528.3" cy="507.1" r="5.7"/>
<circle class="m" cx="528.9" cy="535.7" r="5.7"/>
<circle cx="548.7" cy="554.4" r="5.7"/>
<circle cx="405.0" cy="553.2" r="5.7"/>
<circle class="m" cx="749.6" cy="579.1" r="5.7"/>
<circle cx="638.6" cy="546.3" r="5.7"/>
<circle class="m" cx="313.6" cy="547.8" r="5.7"/>
<circle cx="504.0" cy="612.2" r="5.7"/>
<circle cx="452.1" cy="545.9" r="5.7"/>
<circle cx="439.7" cy="542.9" r="5.7"/>
<circle cx="535.3" cy="595.2" r="5.7"/>
<circle cx="394.9" cy="537.2" r="5.7"/>
<circle cx="351.0" cy="588.7" r="5.7"/>
<circle class="m" cx="399.8" cy="540.8" r="5.7"/>
<circle cx="316.5" cy="537.9" r="5.7"/>
<circle cx="675.9" cy="576.5" r="5.7"/>
<circle cx="765.4" cy="623.8" r="5.7"/>
<circle cx="382.1" cy="579.7" r="5.7"/>
<circle cx="612.9" cy="611.9" r="5.7"/>
<circle class="m" cx="817.9" cy="573.2" r="5.7"/>
<circle cx="413.4" cy="588.6" r="5.7"/>
<circle cx="270.6" cy="625.1" r="5.7"/>
<circle cx="772.7" cy="616.0" r="5.7"/>
<circle cx="720.8" cy="536.4" r="5.7"/>
<circle class="m" cx="810.6" cy="591.2" r="5.7"/>
<circle cx="368.8" cy="478.5" r="5.7"/>
<circle cx="368.7" cy="544.7" r="5.7"/>
<circle class="m" cx="689.3" cy="578.9" r="5.7"/>
<circle cx="433.8" cy="570.7" r="5.7"/>
<circle cx="312.6" cy="623.0" r="5.7"/>
<circle cx="325.0" cy="521.1" r="5.7"/>
<circle class="m" cx="760.1" cy="603.6" r="5.7"/>
<circle cx="458.4" cy="608.2" r="5.7"/>
<circle cx="587.4" cy="599.3" r="5.7"/>
<circle cx="675.8" cy="578.7" r="5.7"/>
<circle class="m" cx="734.7" cy="599.3" r="5.7"/>
<circle cx="375.1" cy="567.4" r="5.7"/>
<circle cx="554.1" cy="612.0" r="5.7"/>
<circle cx="773.9" cy="587.9" r="5.7"/>
<circle cx="689.5" cy="558.3" r="5.7"/>
<circle cx="657.2" cy="558.7" r="5.7"/>
<circle cx="420.1" cy="559.5" r="5.7"/>
<circle cx="651.6" cy="585.9" r="5.7"/>
<circle cx="714.7" cy="577.9" r="5.7"/>
<circle class="m" cx="401.1" cy="501.0" r="5.7"/>
<circle cx="785.6" cy="639.8" r="5.7"/>
<circle cx="407.0" cy="615.3" r="5.7"/>
<circle class="m" cx="792.5" cy="582.7" r="5.7"/>
<circle cx="478.6" cy="576.5" r="5.7"/>
<circle class="m" cx="408.0" cy="583.7" r="5.7"/>
<circle class="m" cx="509.8" cy="522.4" r="5.7"/>
<circle cx="660.5" cy="610.7" r="5.7"/>
<circle cx="720.2" cy="610.1" r="5.7"/>
<circle cx="791.8" cy="622.8" r="5.7"/>
<circle cx="631.5" cy="594.8" r="5.7"/>
<circle cx="701.0" cy="590.1" r="5.7"/>
<circle class="m" cx="753.5" cy="528.4" r="5.7"/>
<circle cx="675.9" cy="607.7" r="5.7"/>
<circle class="m" cx="593.5" cy="454.1" r="5.7"/>
<circle cx="497.7" cy="574.9" r="5.7"/>
<circle cx="689.3" cy="554.9" r="5.7"/>
<circle cx="445.7" cy="552.5" r="5.7"/>
<circle cx="567.6" cy="543.4" r="5.7"/>
<circle class="m" cx="375.4" cy="497.9" r="5.7"/>
<circle cx="624.9" cy="539.4" r="5.7"/>
<circle cx="727.0" cy="625.5" r="5.7"/>
<circle cx="401.6" cy="536.5" r="5.7"/>
<circle cx="663.1" cy="509.9" r="5.7"/>
<circle cx="374.8" cy="560.1" r="5.7"/>
<circle class="m" cx="721.4" cy="517.9" r="5.7"/>
<circle cx="420.5" cy="610.9" r="5.7"/>
<circle class="m" cx="335.6" cy="603.5" r="5.7"/>
<circle cx="721.6" cy="593.2" r="5.7"/>
<circle class="m" cx="733.7" cy="527.7" r="5.7"/>
<circle cx="643.7" cy="609.4" r="5.7"/>
<circle cx="392.5" cy="528.2" r="5.7"/>
<circle cx="548.1" cy="601.7" r="5.7"/>
<circle class="m" cx="301.9" cy="582.4" r="5.7"/>
<circle cx="432.6" cy="563.1" r="5.7"/>
<circle cx="644.9" cy="614.2" r="5.7"/>
<circle class="m" cx="740.8" cy="591.8" r="5.7"/>
<circle cx="740.3" cy="591.3" r="5.7"/>
<circle cx="401.6" cy="599.1" r="5.7"/>
<circle class="m" cx="503.9" cy="491.9" r="5.7"/>
<circle cx="338.9" cy="541.6" r="5.7"/>
<circle class="m" cx="356.1" cy="572.3" r="5.7"/>
<circle cx="321.0" cy="575.5" r="5.7"/>
<circle cx="440.1" cy="590.5" r="5.7"/>
<circle cx="729.8" cy="588.6" r="5.7"/>
<circle cx="664.5" cy="543.0" r="5.7"/>
<circle class="m" cx="855.8" cy="599.6" r="5.7"/>
<circle class="m" cx="682.8" cy="580.0" r="5.7"/>
<circle cx="387.9" cy="539.2" r="5.7"/>
<circle cx="657.7" cy="601.9" r="5.7"/>
<circle cx="606.0" cy="510.5" r="5.7"/>
<circle cx="510.8" cy="602.6" r="5.7"/>
<circle cx="740.2" cy="608.6" r="5.7"/>
<circle cx="448.1" cy="582.2" r="5.7"/>
<circle cx="561.1" cy="593.2" r="5.7"/>
<circle class="m" cx="510.5" cy="550.4" r="5.7"/>
<circle class="m" cx="600.9" cy="507.6" r="5.7"/>
<circle class="m" cx="432.9" cy="534.1" r="5.7"/>
<circle class="m" cx="414.1" cy="468.3" r="5.7"/>
<circle class="m" cx="727.4" cy="538.1" r="5.7"/>
<circle class="m" cx="804.0" cy="588.7" r="5.7"/>
<circle cx="523.1" cy="574.0" r="5.7"/>
<circle cx="548.6" cy="572.0" r="5.7"/>
<circle cx="516.1" cy="580.7" r="5.7"/>
<circle cx="743.4" cy="645.3" r="5.7"/>
<circle cx="328.1" cy="565.3" r="5.7"/>
<circle class="m" cx="344.9" cy="555.6" r="5.7"/>
<circle class="m" cx="669.8" cy="521.0" r="5.7"/>
<circle class="m" cx="784.9" cy="624.0" r="5.7"/>
<circle class="m" cx="407.6" cy="521.7" r="5.7"/>
<circle cx="478.1" cy="560.4" r="5.7"/>
<circle class="m" cx="334.1" cy="546.2" r="5.7"/>
<circle cx="712.4" cy="575.8" r="5.7"/>
<circle cx="419.6" cy="571.1" r="5.7"/>
<circle cx="458.9" cy="567.0" r="5.7"/>
<circle cx="388.1" cy="581.4" r="5.7"/>
<circle cx="664.1" cy="622.0" r="5.7"/>
<circle cx="452.6" cy="563.2" r="5.7"/>
<circle cx="356.8" cy="563.9" r="5.7"/>
<circle class="m" cx="375.4" cy="532.9" r="5.7"/>
<circle class="m" cx="785.7" cy="602.2" r="5.7"/>
<circle class="m" cx="337.6" cy="445.3" r="5.7"/>
<circle class="m" cx="401.4" cy="524.3" r="5.7"/>
<circle cx="407.1" cy="581.2" r="5.7"/>
<circle cx="458.9" cy="526.6" r="5.7"/>
<circle class="m" cx="320.4" cy="508.5" r="5.7"/>
<circle class="m" cx="734.0" cy="543.8" r="5.7"/>
<circle class="m" cx="356.2" cy="539.9" r="5.7"/>
<circle cx="612.1" cy="569.1" r="5.7"/>
<circle cx="426.8" cy="565.4" r="5.7"/>
<circle cx="471.0" cy="557.0" r="5.7"/>
<circle cx="637.4" cy="590.5" r="5.7"/>
<circle class="m" cx="516.5" cy="542.3" r="5.7"/>
<circle cx="619.3" cy="549.2" r="5.7"/>
<circle cx="470.7" cy="627.6" r="5.7"/>
<circle class="m" cx="371.6" cy="478.7" r="5.7"/>
<circle cx="580.4" cy="545.7" r="5.7"/>
<circle class="m" cx="593.4" cy="455.7" r="5.7"/>
<circle class="m" cx="413.0" cy="494.9" r="5.7"/>
<circle class="m" cx="282.3" cy="637.4" r="5.7"/>
<circle class="m" cx="689.5" cy="555.4" r="5.7"/>
<circle cx="682.3" cy="574.5" r="5.7"/>
<circle cx="350.3" cy="525.9" r="5.7"/>
<circle cx="264.9" cy="651.8" r="5.7"/>
<circle cx="400.5" cy="581.3" r="5.7"/>
<circle cx="271.9" cy="651.3" r="5.7"/>
<circle cx="733.4" cy="583.0" r="5.7"/>
<circle class="m" cx="338.9" cy="514.2" r="5.7"/>
<circle cx="752.8" cy="611.4" r="5.7"/>
<circle cx="727.5" cy="589.2" r="5.7"/>
<circle cx="631.7" cy="588.1" r="5.7"/>
<circle cx="446.0" cy="555.1" r="5.7"/>
<circle class="m" cx="695.6" cy="569.9" r="5.7"/>
<circle class="m" cx="568.0" cy="544.1" r="5.7"/>
<circle cx="593.4" cy="590.2" r="5.7"/>
<circle cx="772.1" cy="607.1" r="5.7"/>
<circle cx="341.8" cy="604.1" r="5.7"/>
<circle cx="548.1" cy="557.8" r="5.7"/>
<circle cx="445.9" cy="577.2" r="5.7"/>
<circle cx="554.9" cy="580.5" r="5.7"/>
<circle cx="726.9" cy="556.6" r="5.7"/>
<circle cx="407.3" cy="609.2" r="5.7"/>
<circle class="m" cx="785.8" cy="561.0" r="5.7"/>
<circle cx="497.6" cy="587.1" r="5.7"/>
<circle cx="598.6" cy="572.4" r="5.7"/>
<circle cx="759.5" cy="627.5" r="5.7"/>
<circle cx="593.9" cy="584.7" r="5.7"/>
<circle cx="401.1" cy="539.4" r="5.7"/>
<circle class="m" cx="381.7" cy="467.9" r="5.7"/>
<circle cx="503.2" cy="611.4" r="5.7"/>
<circle cx="768.7" cy="591.2" r="5.7"/>
<circle cx="516.2" cy="587.1" r="5.7"/>
<circle cx="516.7" cy="586.1" r="5.7"/>
<circle cx="522.7" cy="587.5" r="5.7"/>
<circle cx="752.9" cy="621.0" r="5.7"/>
<circle class="m" cx="522.5" cy="581.5" r="5.7"/>
<circle cx="504.5" cy="572.0" r="5.7"/>
<circle class="m" cx="511.2" cy="556.7" r="5.7"/>
<circle cx="458.7" cy="531.6" r="5.7"/>
<circle cx="420.7" cy="549.9" r="5.7"/>
<circle cx="471.7" cy="562.2" r="5.7"/>
<circle cx="759.6" cy="582.9" r="5.7"/>
<circle cx="433.8" cy="579.7" r="5.7"/>
<circle cx="458.7" cy="607.8" r="5.7"/>
<circle cx="428.7" cy="591.5" r="5.7"/>
<circle cx="389.9" cy="565.6" r="5.7"/>
<circle cx="797.8" cy="616.1" r="5.7"/>
<circle cx="414.3" cy="563.3" r="5.7"/>
<circle class="m" cx="779.0" cy="600.8" r="5.7"/>
<circle cx="581.1" cy="577.2" r="5.7"/>
<circle cx="656.9" cy="627.8" r="5.7"/>
<circle cx="542.4" cy="521.8" r="5.7"/>
<circle cx="653.4" cy="559.7" r="5.7"/>
<circle cx="685.2" cy="574.9" r="5.7"/>
<circle class="m" cx="626.6" cy="540.3" r="5.7"/>
<circle cx="580.4" cy="566.9" r="5.7"/>
<circle cx="561.1" cy="609.8" r="5.7"/>
<circle cx="401.3" cy="577.9" r="5.7"/>
<circle cx="395.0" cy="591.4" r="5.7"/>
<circle cx="533.7" cy="548.2" r="5.7"/>
<circle cx="520.1" cy="573.0" r="5.7"/>
<circle class="m" cx="772.0" cy="559.4" r="5.7"/>
<circle class="m" cx="256.7" cy="657.4" r="5.7"/>
<circle cx="322.2" cy="570.1" r="5.7"/>
<circle cx="435.7" cy="563.6" r="5.7"/>
<circle cx="497.2" cy="560.8" r="5.7"/>
<circle cx="548.3" cy="590.5" r="5.7"/>
<circle cx="439.5" cy="592.5" r="5.7"/>
<circle cx="516.2" cy="539.7" r="5.7"/>
<circle class="m" cx="624.8" cy="507.3" r="5.7"/>
<circle cx="529.0" cy="609.5" r="5.7"/>
<circle cx="452.9" cy="609.4" r="5.7"/>
<circle cx="650.4" cy="590.7" r="5.7"/>
<circle class="m" cx="631.3" cy="485.3" r="5.7"/>
<circle cx="353.1" cy="539.1" r="5.7"/>
<circle class="m" cx="580.4" cy="513.7" r="5.7"/>
<circle class="m" cx="849.7" cy="603.2" r="5.7"/>
<circle cx="315.7" cy="512.3" r="5.7"/>
<circle cx="587.3" cy="574.7" r="5.7"/>
<circle class="m" cx="295.0" cy="612.6" r="5.7"/>
<circle cx="810.8" cy="615.7" r="5.7"/>
<circle cx="280.6" cy="640.4" r="5.7"/>
<circle class="m" cx="484.1" cy="499.2" r="5.7"/>
<circle cx="510.5" cy="536.2" r="5.7"/>
<circle cx="420.5" cy="593.5" r="5.7"/>
<circle cx="720.8" cy="574.0" r="5.7"/>
<circle cx="727.2" cy="573.0" r="5.7"/>
<circle class="m" cx="375.8" cy="406.5" r="5.7"/>
<circle cx="765.9" cy="601.0" r="5.7"/>
<circle cx="407.5" cy="615.7" r="5.7"/>
<circle class="m" cx="358.9" cy="542.6" r="5.7"/>
<circle cx="724.2" cy="576.2" r="5.7"/>
<circle cx="516.5" cy="583.9" r="5.7"/>
<circle class="m" cx="328.8" cy="591.2" r="5.7"/>
<circle cx="638.0" cy="569.4" r="5.7"/>
<circle cx="366.2" cy="582.2" r="5.7"/>
<circle cx="555.2" cy="567.6" r="5.7"/>
<circle cx="306.5" cy="596.3" r="5.7"/>
<circle cx="465.1" cy="575.0" r="5.7"/>
<circle cx="656.8" cy="603.6" r="5.7"/>
<circle cx="618.6" cy="574.3" r="5.7"/>
<circle cx="689.3" cy="616.6" r="5.7"/>
<circle class="m" cx="650.6" cy="507.4" r="5.7"/>
<circle class="m" cx="503.7" cy="560.6" r="5.7"/>
<circle cx="717.6" cy="586.2" r="5.7"/>
<circle cx="484.5" cy="558.5" r="5.7"/>
<circle cx="388.3" cy="607.8" r="5.7"/>
<circle cx="426.8" cy="597.1" r="5.7"/>
<circle class="m" cx="433.6" cy="476.4" r="5.7"/>
<circle cx="638.2" cy="549.8" r="5.7"/>
<circle class="m" cx="389.6" cy="543.5" r="5.7"/>
<circle cx="252.2" cy="667.4" r="5.7"/>
<circle cx="420.2" cy="567.4" r="5.7"/>
<circle cx="544.3" cy="567.9" r="5.7"/>
<circle class="m" cx="414.1" cy="568.5" r="5.7"/>
<circle cx="394.7" cy="603.3" r="5.7"/>
<circle class="m" cx="682.4" cy="574.2" r="5.7"/>
<circle cx="727.7" cy="612.6" r="5.7"/>
<circle cx="678.2" cy="556.9" r="5.7"/>
<circle cx="510.4" cy="584.2" r="5.7"/>
<circle cx="433.7" cy="547.9" r="5.7"/>
<circle cx="439.3" cy="585.3" r="5.7"/>
<circle cx="567.8" cy="575.9" r="5.7"/>
<circle class="m" cx="388.8" cy="541.3" r="5.7"/>
<circle cx="535.7" cy="568.3" r="5.7"/>
<circle cx="541.8" cy="599.5" r="5.7"/>
<circle class="m" cx="388.2" cy="461.7" r="5.7"/>
<circle cx="576.6" cy="577.3" r="5.7"/>
<circle cx="325.1" cy="603.3" r="5.7"/>
<circle cx="816.8" cy="608.2" r="5.7"/>
<circle cx="586.7" cy="537.4" r="5.7"/>
<circle cx="567.7" cy="553.8" r="5.7"/>
<circle cx="483.9" cy="601.3" r="5.7"/>
<circle cx="413.8" cy="591.1" r="5.7"/>
<circle cx="347.8" cy="510.6" r="5.7"/>
<circle class="m" cx="388.9" cy="479.0" r="5.7"/>
<circle cx="427.1" cy="571.0" r="5.7"/>
<circle cx="691.4" cy="551.5" r="5.7"/>
<circle class="m" cx="361.0" cy="455.3" r="5.7"/>
<circle cx="773.0" cy="586.2" r="5.7"/>
<circle class="m" cx="433.4" cy="524.4" r="5.7"/>
<circle class="m" cx="420.2" cy="488.4" r="5.7"/>
<circle cx="727.9" cy="606.1" r="5.7"/>
<circle cx="746.3" cy="591.1" r="5.7"/>
<circle class="m" cx="535.4" cy="529.9" r="5.7"/>
<circle cx="478.0" cy="577.1" r="5.7"/>
<circle cx="740.5" cy="589.4" r="5.7"/>
<circle cx="861.8" cy="607.5" r="5.7"/>
<circle class="m" cx="449.1" cy="502.7" r="5.7"/>
<circle cx="400.8" cy="593.8" r="5.7"/>
<circle cx="625.2" cy="552.7" r="5.7"/>
<circle cx="746.7" cy="618.6" r="5.7"/>
<circle cx="375.9" cy="573.6" r="5.7"/>
<circle cx="382.8" cy="558.2" r="5.7"/>
<circle class="m" cx="388.2" cy="517.4" r="5.7"/>
<circle class="m" cx="497.2" cy="514.1" r="5.7"/>
<circle cx="338.9" cy="542.5" r="5.7"/>
<circle class="m" cx="339.8" cy="547.4" r="5.7"/>
<circle cx="413.7" cy="581.7" r="5.7"/>
<circle cx="689.4" cy="622.9" r="5.7"/>
<circle cx="433.2" cy="612.1" r="5.7"/>
<circle cx="817.2" cy="591.4" r="5.7"/>
<circle cx="394.4" cy="567.0" r="5.7"/>
<circle cx="420.6" cy="580.4" r="5.7"/>
<circle cx="695.9" cy="611.3" r="5.7"/>
<circle cx="650.4" cy="567.6" r="5.7"/>
<circle cx="567.4" cy="593.0" r="5.7"/>
<circle cx="478.1" cy="589.7" r="5.7"/>
<circle cx="657.3" cy="588.4" r="5.7"/>
<circle cx="401.5" cy="558.5" r="5.7"/>
<circle class="m" cx="290.4" cy="584.8" r="5.7"/>
<circle cx="387.9" cy="529.8" r="5.7"/>
<circle class="m" cx="419.9" cy="442.7" r="5.7"/>
<circle class="m" cx="490.7" cy="541.4" r="5.7"/>
<circle cx="573.8" cy="555.3" r="5.7"/>
<circle cx="574.3" cy="582.7" r="5.7"/>
<circle class="m" cx="376.1" cy="489.4" r="5.7"/>
<circle cx="721.2" cy="556.5" r="5.7"/>
<circle cx="657.2" cy="614.0" r="5.7"/>
<circle cx="438.7" cy="612.6" r="5.7"/>
<circle cx="721.2" cy="582.2" r="5.7"/>
<circle cx="391.4" cy="553.1" r="5.7"/>
<circle cx="465.6" cy="572.9" r="5.7"/>
<circle class="m" cx="394.8" cy="431.7" r="5.7"/>
<circle cx="358.6" cy="537.1" r="5.7"/>
<circle cx="401.4" cy="556.6" r="5.7"/>
<circle cx="625.5" cy="586.8" r="5.7"/>
<circle cx="376.2" cy="565.9" r="5.7"/>
<circle class="m" cx="364.0" cy="491.1" r="5.7"/>
<circle cx="510.3" cy="580.8" r="5.7"/>
<circle cx="446.2" cy="600.7" r="5.7"/>
<circle cx="722.8" cy="562.4" r="5.7"/>
<circle cx="779.7" cy="588.5" r="5.7"/>
<circle cx="401.4" cy="592.6" r="5.7"/>
<circle class="m" cx="465.8" cy="499.6" r="5.7"/>
<circle cx="529.5" cy="565.0" r="5.7"/>
<circle cx="772.6" cy="645.7" r="5.7"/>
<circle cx="389.9" cy="613.5" r="5.7"/>
<circle cx="759.6" cy="628.7" r="5.7"/>
<circle cx="439.3" cy="594.3" r="5.7"/>
<circle cx="297.6" cy="581.7" r="5.7"/>
<circle cx="439.4" cy="587.1" r="5.7"/>
<circle class="m" cx="720.0" cy="522.1" r="5.7"/>
<circle class="m" cx="375.6" cy="538.3" r="5.7"/>
<circle cx="439.4" cy="586.1" r="5.7"/>
<circle cx="512.8" cy="570.8" r="5.7"/>
<circle cx="414.1" cy="598.5" r="5.7"/>
<circle cx="695.9" cy="557.1" r="5.7"/>
<circle class="m" cx="420.0" cy="500.9" r="5.7"/>
<circle cx="516.1" cy="533.0" r="5.7"/>
<circle class="m" cx="484.2" cy="516.8" r="5.7"/>
<circle cx="760.0" cy="605.8" r="5.7"/>
<circle class="m" cx="517.0" cy="535.1" r="5.7"/>
<circle cx="554.8" cy="589.9" r="5.7"/>
<circle class="m" cx="644.4" cy="578.2" r="5.7"/>
<circle cx="689.0" cy="576.2" r="5.7"/>
<circle cx="841.6" cy="619.6" r="5.7"/>
<circle cx="516.6" cy="547.5" r="5.7"/>
<circle class="m" cx="567.7" cy="545.2" r="5.7"/>
<circle class="m" cx="727.7" cy="529.2" r="5.7"/>
<circle class="m" cx="584.0" cy="524.8" r="5.7"/>
<circle cx="446.3" cy="591.8" r="5.7"/>
<circle class="m" cx="605.4" cy="555.4" r="5.7"/>
<circle cx="509.9" cy="555.6" r="5.7"/>
<circle cx="315.0" cy="561.9" r="5.7"/>
<circle cx="670.0" cy="625.0" r="5.7"/>
<circle class="m" cx="516.3" cy="536.4" r="5.7"/>
<circle cx="669.9" cy="588.1" r="5.7"/>
<circle cx="459.2" cy="564.4" r="5.7"/>
<circle cx="644.2" cy="576.6" r="5.7"/>
<circle cx="701.4" cy="607.6" r="5.7"/>
<circle cx="593.3" cy="599.3" r="5.7"/>
<circle cx="369.5" cy="573.7" r="5.7"/>
<circle cx="503.5" cy="535.5" r="5.7"/>
<circle cx="682.8" cy="565.9" r="5.7"/>
<circle cx="394.0" cy="565.8" r="5.7"/>
<circle class="m" cx="536.8" cy="487.2" r="5.7"/>
<circle cx="714.8" cy="607.5" r="5.7"/>
<circle class="m" cx="625.6" cy="509.6" r="5.7"/>
<circle cx="370.5" cy="568.3" r="5.7"/>
<circle cx="279.2" cy="631.5" r="5.7"/>
<circle cx="503.3" cy="617.7" r="5.7"/>
<circle cx="679.3" cy="576.3" r="5.7"/>
<circle class="m" cx="352.4" cy="558.6" r="5.7"/>
<circle cx="529.4" cy="586.9" r="5.7"/>
<circle cx="350.5" cy="521.3" r="5.7"/>
<circle cx="329.9" cy="575.3" r="5.7"/>
<circle cx="470.9" cy="615.0" r="5.7"/>
<circle cx="351.3" cy="552.1" r="5.7"/>
<circle cx="394.6" cy="574.5" r="5.7"/>
<circle cx="669.9" cy="594.3" r="5.7"/>
<circle cx="381.1" cy="592.6" r="5.7"/>
<circle class="m" cx="402.6" cy="469.0" r="5.7"/>
<circle cx="465.7" cy="609.8" r="5.7"/>
<circle cx="764.6" cy="601.6" r="5.7"/>
<circle cx="452.7" cy="590.2" r="5.7"/>
<circle cx="772.3" cy="588.1" r="5.7"/>
<circle cx="471.4" cy="599.4" r="5.7"/>
<circle class="m" cx="793.2" cy="586.8" r="5.7"/>
<circle cx="708.5" cy="573.8" r="5.7"/>
<circle class="m" cx="483.3" cy="508.9" r="5.7"/>
<circle cx="638.2" cy="565.3" r="5.7"/>
<circle class="m" cx="427.1" cy="463.2" r="5.7"/>
<circle class="m" cx="519.4" cy="493.4" r="5.7"/>
<circle class="m" cx="516.1" cy="533.1" r="5.7"/>
<circle cx="804.3" cy="604.9" r="5.7"/>
<circle cx="401.2" cy="587.3" r="5.7"/>
<circle cx="529.1" cy="561.5" r="5.7"/>
<circle class="m" cx="465.2" cy="507.7" r="5.7"/>
<circle class="m" cx="803.7" cy="592.4" r="5.7"/>
<circle cx="475.4" cy="590.6" r="5.7"/>
<circle class="m" cx="382.1" cy="567.5" r="5.7"/>
<circle class="m" cx="388.0" cy="502.3" r="5.7"/>
<circle cx="675.0" cy="605.0" r="5.7"/>
<circle class="m" cx="740.0" cy="571.7" r="5.7"/>
<circle cx="811.0" cy="590.1" r="5.7"/>
<circle class="m" cx="618.4" cy="527.2" r="5.7"/>
<circle class="m" cx="471.8" cy="527.3" r="5.7"/>
<circle cx="433.9" cy="576.2" r="5.7"/>
<circle cx="273.4" cy="593.4" r="5.7"/>
<circle cx="401.7" cy="587.1" r="5.7"/>
<circle class="m" cx="695.7" cy="526.9" r="5.7"/>
<circle class="m" cx="748.5" cy="588.0" r="5.7"/>
<circle class="m" cx="798.0" cy="587.1" r="5.7"/>
<circle class="m" cx="760.0" cy="582.1" r="5.7"/>
<circle class="m" cx="382.2" cy="536.0" r="5.7"/>
<circle class="m" cx="313.3" cy="599.6" r="5.7"/>
<circle class="m" cx="509.6" cy="507.4" r="5.7"/>
<circle class="m" cx="347.4" cy="558.0" r="5.7"/>
<circle class="m" cx="847.6" cy="584.0" r="5.7"/>
<circle class="m" cx="275.1" cy="638.4" r="5.7"/>
<circle class="m" cx="394.4" cy="421.6" r="5.7"/>
<circle class="m" cx="625.3" cy="556.3" r="5.7"/>
<circle class="m" cx="817.4" cy="575.3" r="5.7"/>
<circle class="m" cx="554.8" cy="545.3" r="5.7"/>
<circle class="m" cx="360.1" cy="437.7" r="5.7"/>
<circle class="m" cx="549.5" cy="549.3" r="5.7"/>
<circle class="m" cx="408.1" cy="521.3" r="5.7"/>
<circle class="m" cx="746.7" cy="549.3" r="5.7"/>
<circle class="m" cx="435.8" cy="502.0" r="5.7"/>
<circle class="m" cx="313.3" cy="605.4" r="5.7"/>
<circle class="m" cx="701.5" cy="585.7" r="5.7"/>
<circle class="m" cx="439.8" cy="507.5" r="5.7"/>
<circle class="m" cx="632.0" cy="501.7" r="5.7"/>
<circle class="m" cx="319.1" cy="543.2" r="5.7"/>
<circle class="m" cx="753.1" cy="564.8" r="5.7"/>
<circle class="m" cx="353.6" cy="511.3" r="5.7"/>
<circle class="m" cx="356.7" cy="346.8" r="5.7"/>
<circle class="m" cx="622.7" cy="505.2" r="5.7"/>
<circle class="m" cx="459.0" cy="559.8" r="5.7"/>
<circle class="m" cx="369.5" cy="428.3" r="5.7"/>
<circle class="m" cx="471.8" cy="502.3" r="5.7"/>
<circle class="m" cx="760.2" cy="548.6" r="5.7"/>
<circle class="m" cx="746.8" cy="551.7" r="5.7"/>
<circle class="m" cx="484.2" cy="572.2" r="5.7"/>
<circle class="m" cx="347.3" cy="459.2" r="5.7"/>
<circle class="m" cx="345.8" cy="552.2" r="5.7"/>
<circle class="m" cx="327.6" cy="551.7" r="5.7"/>
<circle class="m" cx="452.2" cy="551.1" r="5.7"/>
<circle class="m" cx="445.9" cy="554.3" r="5.7"/>
<circle class="m" cx="395.1" cy="544.0" r="5.7"/>
<circle class="m" cx="535.3" cy="520.0" r="5.7"/>
<circle class="m" cx="348.8" cy="543.9" r="5.7"/>
<circle class="m" cx="331.0" cy="575.9" r="5.7"/>
<circle class="m" cx="401.8" cy="545.4" r="5.7"/>
<circle class="m" cx="631.8" cy="470.6" r="5.7"/>
<circle class="m" cx="342.4" cy="563.7" r="5.7"/>
<circle class="m" cx="560.9" cy="489.5" r="5.7"/>
<circle class="m" cx="388.2" cy="527.9" r="5.7"/>
<circle class="m" cx="503.5" cy="552.5" r="5.7"/>
<circle class="m" cx="478.5" cy="557.0" r="5.7"/>
<circle class="m" cx="791.9" cy="593.4" r="5.7"/>
<circle class="m" cx="439.3" cy="518.3" r="5.7"/>
<circle class="m" cx="582.1" cy="477.9" r="5.7"/>
<circle class="m" cx="656.7" cy="564.7" r="5.7"/>
<circle class="m" cx="818.0" cy="613.8" r="5.7"/>
<circle class="m" cx="323.7" cy="572.3" r="5.7"/>
<circle class="m" cx="345.1" cy="546.7" r="5.7"/>
<circle class="m" cx="319.1" cy="498.6" r="5.7"/>
<circle class="m" cx="308.7" cy="551.1" r="5.7"/>
<circle class="m" cx="383.8" cy="566.0" r="5.7"/>
<circle class="m" cx="497.2" cy="544.2" r="5.7"/>
<circle class="m" cx="734.4" cy="567.5" r="5.7"/>
<circle class="m" cx="484.7" cy="501.6" r="5.7"/>
<circle class="m" cx="543.1" cy="585.7" r="5.7"/>
<circle class="m" cx="612.6" cy="542.8" r="5.7"/>
<circle class="m" cx="343.2" cy="505.4" r="5.7"/>
<circle class="m" cx="631.2" cy="559.3" r="5.7"/>
<circle class="m" cx="470.9" cy="503.1" r="5.7"/>
<circle class="m" cx="803.7" cy="591.5" r="5.7"/>
<circle class="m" cx="536.2" cy="503.0" r="5.7"/>
<circle class="m" cx="394.6" cy="522.4" r="5.7"/>
<circle class="m" cx="600.7" cy="494.0" r="5.7"/>
<circle class="m" cx="560.8" cy="506.9" r="5.7"/>
<circle class="m" cx="714.7" cy="551.9" r="5.7"/>
<circle class="m" cx="605.5" cy="579.8" r="5.7"/>
<circle class="m" cx="379.0" cy="523.1" r="5.7"/>
<circle class="m" cx="790.5" cy="554.8" r="5.7"/>
<circle class="m" cx="366.8" cy="428.7" r="5.7"/>
<circle class="m" cx="742.8" cy="567.8" r="5.7"/>
<circle class="m" cx="586.6" cy="513.0" r="5.7"/>
<circle class="m" cx="381.4" cy="489.6" r="5.7"/>
<circle class="m" cx="345.3" cy="548.8" r="5.7"/>
<circle class="m" cx="471.5" cy="555.8" r="5.7"/>
<circle class="m" cx="529.4" cy="575.5" r="5.7"/>
<circle class="m" cx="439.4" cy="534.9" r="5.7"/>
<circle class="m" cx="485.1" cy="517.3" r="5.7"/>
<circle class="m" cx="593.7" cy="406.0" r="5.7"/>
<circle class="m" cx="535.6" cy="545.4" r="5.7"/>
<circle class="m" cx="415.3" cy="550.5" r="5.7"/>
<circle class="m" cx="753.5" cy="566.8" r="5.7"/>
<circle class="m" cx="688.8" cy="546.0" r="5.7"/>
<circle class="m" cx="676.3" cy="525.7" r="5.7"/>
<circle class="m" cx="740.4" cy="579.4" r="5.7"/>
<circle class="m" cx="320.7" cy="599.7" r="5.7"/>
<circle class="m" cx="708.3" cy="574.5" r="5.7"/>
<circle class="m" cx="369.6" cy="423.2" r="5.7"/>
<circle class="m" cx="580.8" cy="550.6" r="5.7"/>
<circle class="m" cx="669.2" cy="573.7" r="5.7"/>
<circle class="m" cx="528.4" cy="551.1" r="5.7"/>
<circle class="m" cx="618.8" cy="502.2" r="5.7"/>
<circle class="m" cx="702.7" cy="551.9" r="5.7"/>
<circle class="m" cx="321.5" cy="572.4" r="5.7"/>
<circle class="m" cx="446.2" cy="560.0" r="5.7"/>
<circle class="m" cx="273.9" cy="635.7" r="5.7"/>
<circle class="m" cx="427.0" cy="534.1" r="5.7"/>
<circle class="m" cx="797.6" cy="514.4" r="5.7"/>
<circle class="m" cx="664.2" cy="529.1" r="5.7"/>
<circle class="m" cx="509.9" cy="528.6" r="5.7"/>
<circle class="m" cx="663.1" cy="517.2" r="5.7"/>
<circle class="m" cx="349.9" cy="494.1" r="5.7"/>
<circle class="m" cx="631.5" cy="472.9" r="5.7"/>
<circle class="m" cx="248.4" cy="679.1" r="5.7"/>
<circle class="m" cx="778.2" cy="586.9" r="5.7"/>
<circle class="m" cx="439.4" cy="525.1" r="5.7"/>
<circle class="m" cx="548.6" cy="541.8" r="5.7"/>
<circle class="m" cx="752.7" cy="576.7" r="5.7"/>
<circle class="m" cx="759.6" cy="538.8" r="5.7"/>
<circle class="m" cx="446.2" cy="585.7" r="5.7"/>
<circle class="m" cx="329.5" cy="537.5" r="5.7"/>
<circle class="m" cx="503.4" cy="516.4" r="5.7"/>
<circle class="m" cx="388.9" cy="477.7" r="5.7"/>
<circle class="m" cx="721.8" cy="571.2" r="5.7"/>
<circle class="m" cx="528.9" cy="548.6" r="5.7"/>
<circle class="m" cx="670.3" cy="571.6" r="5.7"/>
<circle class="m" cx="419.9" cy="561.5" r="5.7"/>
<circle class="m" cx="708.5" cy="543.7" r="5.7"/>
<circle class="m" cx="740.0" cy="581.5" r="5.7"/>
<circle class="m" cx="471.6" cy="501.5" r="5.7"/>
<circle class="m" cx="644.5" cy="568.7" r="5.7"/>
<circle class="m" cx="484.4" cy="527.1" r="5.7"/>
<circle class="m" cx="728.1" cy="569.8" r="5.7"/>
<circle class="m" cx="759.8" cy="588.0" r="5.7"/>
<circle class="m" cx="310.6" cy="541.5" r="5.7"/>
<circle class="m" cx="478.0" cy="558.0" r="5.7"/>
<circle class="m" cx="478.0" cy="515.1" r="5.7"/>
<circle class="m" cx="325.2" cy="590.3" r="5.7"/>
<circle class="m" cx="420.5" cy="538.9" r="5.7"/>
<circle class="m" cx="587.0" cy="534.9" r="5.7"/>
<circle class="m" cx="701.4" cy="586.6" r="5.7"/>
<circle class="m" cx="439.1" cy="485.3" r="5.7"/>
<circle class="m" cx="625.4" cy="465.4" r="5.7"/>
<circle class="m" cx="548.8" cy="544.3" r="5.7"/>
<circle class="m" cx="419.0" cy="530.3" r="5.7"/>
<circle class="m" cx="836.6" cy="593.7" r="5.7"/>
<circle class="m" cx="708.5" cy="566.3" r="5.7"/>
<circle class="m" cx="445.6" cy="555.4" r="5.7"/>
<circle class="m" cx="259.7" cy="632.1" r="5.7"/>
<circle class="m" cx="600.0" cy="518.0" r="5.7"/>
<circle class="m" cx="522.3" cy="558.6" r="5.7"/>
<circle class="m" cx="335.7" cy="576.8" r="5.7"/>
<circle class="m" cx="293.0" cy="618.4" r="5.7"/>
<circle class="m" cx="401.1" cy="545.9" r="5.7"/>
<circle class="m" cx="849.4" cy="593.1" r="5.7"/>
<circle class="m" cx="321.7" cy="584.7" r="5.7"/>
<circle class="m" cx="771.5" cy="600.7" r="5.7"/>
<circle class="m" cx="540.4" cy="581.9" r="5.7"/>
<circle class="m" cx="413.8" cy="510.5" r="5.7"/>
<circle class="m" cx="327.1" cy="573.4" r="5.7"/>
<circle class="m" cx="418.1" cy="554.6" r="5.7"/>
<circle class="m" cx="449.7" cy="580.6" r="5.7"/>
<circle class="m" cx="766.5" cy="610.9" r="5.7"/>
<circle class="m" cx="446.0" cy="542.6" r="5.7"/>
<circle class="m" cx="316.7" cy="596.1" r="5.7"/>
<circle class="m" cx="399.8" cy="554.5" r="5.7"/>
<circle class="m" cx="420.7" cy="571.0" r="5.7"/>
<circle class="m" cx="401.7" cy="536.9" r="5.7"/>
<circle class="m" cx="746.6" cy="534.4" r="5.7"/>
<circle class="m" cx="849.3" cy="584.5" r="5.7"/>
<circle class="m" cx="451.7" cy="511.7" r="5.7"/>
<circle class="m" cx="753.3" cy="581.6" r="5.7"/>
<circle class="m" cx="772.4" cy="574.5" r="5.7"/>
<circle class="m" cx="459.3" cy="532.9" r="5.7"/>
<circle class="m" cx="362.8" cy="518.4" r="5.7"/>
<circle class="m" cx="574.3" cy="548.2" r="5.7"/>
<circle class="m" cx="605.2" cy="540.8" r="5.7"/>
<circle class="m" cx="484.5" cy="497.0" r="5.7"/>
<circle class="m" cx="664.0" cy="582.2" r="5.7"/>
<circle class="m" cx="407.3" cy="445.6" r="5.7"/>
<circle class="m" cx="382.2" cy="525.9" r="5.7"/>
<circle class="m" cx="299.8" cy="589.1" r="5.7"/>
<circle class="m" cx="332.8" cy="606.4" r="5.7"/>
<circle class="m" cx="714.9" cy="511.0" r="5.7"/>
<circle class="m" cx="503.5" cy="531.3" r="5.7"/>
<circle class="m" cx="593.4" cy="491.2" r="5.7"/>
<circle class="m" cx="522.8" cy="546.3" r="5.7"/>
<circle class="m" cx="759.3" cy="588.9" r="5.7"/>
<circle class="m" cx="273.2" cy="648.0" r="5.7"/>
<circle class="m" cx="644.6" cy="533.1" r="5.7"/>
<circle class="m" cx="496.9" cy="517.6" r="5.7"/>
<circle class="m" cx="420.1" cy="545.6" r="5.7"/>
<circle class="m" cx="318.7" cy="517.0" r="5.7"/>
<circle class="m" cx="458.5" cy="554.7" r="5.7"/>
<circle class="m" cx="804.5" cy="570.1" r="5.7"/>
<circle class="m" cx="611.7" cy="469.5" r="5.7"/>
<circle class="m" cx="439.5" cy="392.0" r="5.7"/>
<circle class="m" cx="484.7" cy="553.4" r="5.7"/>
<circle class="m" cx="766.0" cy="600.1" r="5.7"/>
<circle class="m" cx="354.9" cy="480.5" r="5.7"/>
<circle class="m" cx="785.4" cy="583.5" r="5.7"/>
<circle class="m" cx="728.4" cy="554.3" r="5.7"/>
<circle class="m" cx="759.2" cy="589.8" r="5.7"/>
<circle class="m" cx="664.0" cy="480.5" r="5.7"/>
<circle class="m" cx="433.8" cy="543.1" r="5.7"/>
<circle class="m" cx="554.9" cy="576.2" r="5.7"/>
<circle class="m" cx="331.6" cy="565.0" r="5.7"/>
<circle class="m" cx="734.4" cy="521.9" r="5.7"/>
<circle class="m" cx="275.1" cy="639.1" r="5.7"/>
<circle class="m" cx="644.4" cy="401.6" r="5.7"/>
<circle class="m" cx="283.8" cy="594.5" r="5.7"/>
<circle class="m" cx="831.8" cy="603.0" r="5.7"/>
<circle class="m" cx="713.5" cy="590.4" r="5.7"/>
<circle class="m" cx="804.5" cy="597.2" r="5.7"/>
<circle class="m" cx="682.4" cy="588.9" r="5.7"/>
<circle class="m" cx="478.1" cy="550.3" r="5.7"/>
<circle class="m" cx="342.1" cy="575.4" r="5.7"/>
<circle class="m" cx="338.5" cy="563.4" r="5.7"/>
<circle class="m" cx="376.2" cy="529.6" r="5.7"/>
<circle class="m" cx="510.2" cy="537.2" r="5.7"/>
<circle class="m" cx="578.7" cy="553.8" r="5.7"/>
<circle class="m" cx="760.0" cy="580.5" r="5.7"/>
<circle class="m" cx="465.7" cy="524.5" r="5.7"/>
<circle class="m" cx="439.3" cy="545.4" r="5.7"/>
<circle class="m" cx="509.8" cy="500.5" r="5.7"/>
<circle class="m" cx="282.0" cy="587.4" r="5.7"/>
<circle class="m" cx="855.6" cy="623.5" r="5.7"/>
<circle class="m" cx="714.6" cy="576.5" r="5.7"/>
<circle class="m" cx="363.4" cy="489.8" r="5.7"/>
<circle class="m" cx="350.3" cy="599.1" r="5.7"/>
<circle class="m" cx="363.8" cy="482.3" r="5.7"/>
<circle class="m" cx="440.2" cy="508.2" r="5.7"/>
<circle class="m" cx="580.7" cy="481.4" r="5.7"/>
<circle class="m" cx="516.4" cy="561.6" r="5.7"/>
<circle class="m" cx="542.2" cy="543.5" r="5.7"/>
<circle class="m" cx="522.3" cy="563.8" r="5.7"/>
<circle class="m" cx="459.0" cy="508.9" r="5.7"/>
<circle class="m" cx="296.8" cy="510.1" r="5.7"/>
<circle class="m" cx="397.5" cy="491.5" r="5.7"/>
<circle class="m" cx="820.4" cy="511.8" r="5.7"/>
<circle class="m" cx="445.7" cy="517.5" r="5.7"/>
<circle class="m" cx="299.8" cy="603.0" r="5.7"/>
<circle class="m" cx="317.1" cy="574.0" r="5.7"/>
<circle class="m" cx="375.6" cy="500.7" r="5.7"/>
<circle class="m" cx="401.3" cy="537.7" r="5.7"/>
<circle class="m" cx="644.8" cy="520.7" r="5.7"/>
<circle class="m" cx="478.2" cy="473.3" r="5.7"/>
<circle class="m" cx="362.8" cy="516.3" r="5.7"/>
<circle class="m" cx="759.6" cy="588.6" r="5.7"/>
<circle class="m" cx="708.7" cy="547.1" r="5.7"/>
<circle class="m" cx="734.6" cy="582.9" r="5.7"/>
<circle class="m" cx="503.5" cy="497.9" r="5.7"/>
<circle class="m" cx="606.1" cy="530.7" r="5.7"/>
<circle class="m" cx="247.9" cy="670.4" r="5.7"/>
<circle class="m" cx="811.2" cy="580.9" r="5.7"/>
<circle class="m" cx="548.3" cy="545.5" r="5.7"/>
<circle class="m" cx="746.8" cy="586.9" r="5.7"/>
<circle class="m" cx="392.3" cy="533.0" r="5.7"/>
<circle class="m" cx="599.8" cy="508.2" r="5.7"/>
<circle class="m" cx="345.7" cy="525.2" r="5.7"/>
<circle class="m" cx="306.8" cy="568.1" r="5.7"/>
<circle class="m" cx="270.9" cy="629.1" r="5.7"/>
<circle class="m" cx="631.3" cy="471.8" r="5.7"/>
<circle class="m" cx="797.9" cy="607.3" r="5.7"/>
<circle class="m" cx="283.6" cy="606.3" r="5.7"/>
<circle class="m" cx="618.5" cy="533.8" r="5.7"/>
<circle class="m" cx="395.1" cy="466.2" r="5.7"/>
<circle class="m" cx="753.0" cy="561.7" r="5.7"/>
<circle class="m" cx="759.2" cy="572.6" r="5.7"/>
<circle class="m" cx="312.4" cy="529.6" r="5.7"/>
<circle class="m" cx="574.5" cy="562.2" r="5.7"/>
<circle class="m" cx="288.4" cy="590.2" r="5.7"/>
<circle class="m" cx="464.8" cy="549.5" r="5.7"/>
<circle class="m" cx="540.7" cy="566.7" r="5.7"/>
<circle class="m" cx="526.7" cy="557.6" r="5.7"/>
<circle class="m" cx="504.0" cy="511.7" r="5.7"/>
<circle class="m" cx="439.7" cy="530.4" r="5.7"/>
<circle class="m" cx="676.2" cy="533.4" r="5.7"/>
<circle class="m" cx="644.7" cy="515.3" r="5.7"/>
<circle class="m" cx="285.1" cy="546.8" r="5.7"/>
<circle class="m" cx="599.9" cy="500.2" r="5.7"/>
<circle class="m" cx="721.2" cy="560.5" r="5.7"/>
<circle class="m" cx="548.1" cy="498.4" r="5.7"/>
<circle class="m" cx="368.5" cy="454.6" r="5.7"/>
<circle class="m" cx="535.7" cy="494.5" r="5.7"/>
<circle class="m" cx="283.0" cy="605.3" r="5.7"/>
<circle class="m" cx="733.9" cy="570.0" r="5.7"/>
<circle class="m" cx="274.0" cy="582.9" r="5.7"/>
<circle class="m" cx="657.4" cy="554.2" r="5.7"/>
<circle class="m" cx="381.2" cy="517.5" r="5.7"/>
<circle class="m" cx="504.3" cy="514.6" r="5.7"/>
<circle class="m" cx="304.3" cy="585.3" r="5.7"/>
<circle class="m" cx="714.6" cy="529.6" r="5.7"/>
<circle class="m" cx="587.2" cy="560.0" r="5.7"/>
<circle class="m" cx="313.0" cy="500.4" r="5.7"/>
<circle class="m" cx="452.0" cy="531.8" r="5.7"/>
<circle class="m" cx="260.8" cy="639.8" r="5.7"/>
<circle class="m" cx="541.9" cy="542.3" r="5.7"/>
<circle class="m" cx="804.0" cy="562.3" r="5.7"/>
<circle class="m" cx="497.5" cy="554.5" r="5.7"/>
<circle class="m" cx="727.6" cy="539.9" r="5.7"/>
<circle class="m" cx="740.8" cy="585.3" r="5.7"/>
<circle class="m" cx="407.3" cy="538.1" r="5.7"/>
<circle class="m" cx="315.6" cy="407.4" r="5.7"/>
<circle class="m" cx="420.2" cy="538.9" r="5.7"/>
<circle class="m" cx="414.3" cy="527.6" r="5.7"/>
<circle class="m" cx="381.9" cy="530.7" r="5.7"/>
<circle class="m" cx="560.9" cy="543.3" r="5.7"/>
<circle class="m" cx="484.0" cy="511.1" r="5.7"/>
<circle class="m" cx="426.9" cy="554.0" r="5.7"/>
<circle class="m" cx="748.2" cy="583.5" r="5.7"/>
<circle class="m" cx="721.2" cy="575.6" r="5.7"/>
<circle class="m" cx="830.5" cy="613.4" r="5.7"/>
<circle class="m" cx="352.2" cy="533.9" r="5.7"/>
<circle class="m" cx="554.4" cy="536.6" r="5.7"/>
<circle class="m" cx="717.4" cy="555.9" r="5.7"/>
<circle class="m" cx="284.7" cy="588.0" r="5.7"/>
<circle class="m" cx="482.3" cy="540.7" r="5.7"/>
<circle class="m" cx="423.5" cy="461.0" r="5.7"/>
<circle class="m" cx="337.7" cy="569.0" r="5.7"/>
<circle class="m" cx="368.8" cy="558.2" r="5.7"/>
<circle class="m" cx="529.5" cy="403.0" r="5.7"/>
<circle class="m" cx="554.4" cy="501.3" r="5.7"/>
<circle class="m" cx="348.2" cy="483.2" r="5.7"/>
<circle class="m" cx="376.3" cy="497.2" r="5.7"/>
<circle class="m" cx="724.7" cy="533.5" r="5.7"/>
<circle class="m" cx="746.5" cy="579.4" r="5.7"/>
<circle class="m" cx="611.7" cy="530.3" r="5.7"/>
<circle class="m" cx="714.5" cy="566.9" r="5.7"/>
<circle class="m" cx="631.4" cy="576.0" r="5.7"/>
<circle class="m" cx="561.7" cy="500.5" r="5.7"/>
<circle class="m" cx="580.1" cy="502.1" r="5.7"/>
<circle class="m" cx="260.8" cy="619.0" r="5.7"/>
<circle class="m" cx="389.1" cy="531.8" r="5.7"/>
<circle class="m" cx="352.2" cy="593.1" r="5.7"/>
<circle class="m" cx="682.7" cy="569.6" r="5.7"/>
<circle class="m" cx="586.6" cy="511.5" r="5.7"/>
<circle class="m" cx="695.3" cy="574.5" r="5.7"/>
<circle class="m" cx="333.9" cy="566.7" r="5.7"/>
<circle class="m" cx="251.5" cy="646.8" r="5.7"/>
<circle class="m" cx="695.5" cy="517.4" r="5.7"/>
<circle class="m" cx="426.6" cy="493.3" r="5.7"/>
<circle class="m" cx="770.3" cy="599.9" r="5.7"/>
<circle class="m" cx="521.0" cy="550.9" r="5.7"/>
<circle class="m" cx="750.7" cy="585.2" r="5.7"/>
<circle class="m" cx="254.9" cy="657.0" r="5.7"/>
<circle class="m" cx="574.9" cy="575.7" r="5.7"/>
<circle class="m" cx="304.8" cy="564.7" r="5.7"/>
<circle class="m" cx="433.0" cy="538.5" r="5.7"/>
<circle class="m" cx="663.9" cy="570.5" r="5.7"/>
<circle class="m" cx="676.3" cy="522.4" r="5.7"/>
<circle class="m" cx="571.9" cy="506.5" r="5.7"/>
<circle class="m" cx="612.2" cy="441.5" r="5.7"/>
<circle class="m" cx="369.0" cy="538.8" r="5.7"/>
<circle class="m" cx="753.8" cy="527.6" r="5.7"/>
<circle class="m" cx="695.4" cy="584.6" r="5.7"/>
<circle class="m" cx="349.4" cy="535.5" r="5.7"/>
<circle class="m" cx="319.6" cy="550.6" r="5.7"/>
<circle class="m" cx="778.5" cy="548.4" r="5.7"/>
<circle class="m" cx="366.6" cy="452.9" r="5.7"/>
<circle class="m" cx="303.3" cy="547.4" r="5.7"/>
<circle class="m" cx="471.3" cy="508.6" r="5.7"/>
<circle class="m" cx="580.5" cy="521.3" r="5.7"/>
<circle class="m" cx="702.6" cy="519.2" r="5.7"/>
<circle class="m" cx="734.0" cy="584.8" r="5.7"/>
<circle class="m" cx="753.4" cy="568.9" r="5.7"/>
<circle class="m" cx="682.1" cy="530.2" r="5.7"/>
<circle class="m" cx="612.2" cy="487.3" r="5.7"/>
<circle class="m" cx="336.0" cy="564.7" r="5.7"/>
<circle class="m" cx="625.6" cy="560.6" r="5.7"/>
<circle class="m" cx="388.3" cy="473.8" r="5.7"/>
<circle class="m" cx="266.3" cy="601.4" r="5.7"/>
<circle class="m" cx="485.7" cy="484.5" r="5.7"/>
<circle class="m" cx="734.0" cy="537.0" r="5.7"/>
<circle class="m" cx="670.2" cy="569.2" r="5.7"/>
<circle class="m" cx="545.9" cy="521.8" r="5.7"/>
<circle class="m" cx="478.5" cy="504.7" r="5.7"/>
<circle class="m" cx="287.9" cy="622.2" r="5.7"/>
<circle class="m" cx="682.7" cy="567.2" r="5.7"/>
<circle class="m" cx="638.1" cy="488.1" r="5.7"/>
<circle class="m" cx="309.3" cy="592.0" r="5.7"/>
<circle class="m" cx="268.2" cy="607.6" r="5.7"/>
<circle class="m" cx="273.1" cy="626.6" r="5.7"/>
<circle class="m" cx="535.6" cy="553.6" r="5.7"/>
<circle class="m" cx="816.7" cy="595.4" r="5.7"/>
<circle class="m" cx="496.8" cy="550.4" r="5.7"/>
<circle class="m" cx="465.2" cy="534.0" r="5.7"/>
<circle class="m" cx="465.1" cy="515.2" r="5.7"/>
<circle class="m" cx="250.1" cy="670.0" r="5.7"/>
<circle class="m" cx="496.9" cy="472.1" r="5.7"/>
<circle class="m" cx="395.1" cy="533.3" r="5.7"/>
<circle class="m" cx="274.8" cy="596.3" r="5.7"/>
<circle class="m" cx="823.5" cy="520.9" r="5.7"/>
<circle class="m" cx="301.3" cy="609.1" r="5.7"/>
<circle class="m" cx="248.0" cy="672.0" r="5.7"/>
<circle class="m" cx="778.9" cy="601.5" r="5.7"/>
<circle class="m" cx="772.4" cy="584.5" r="5.7"/>
<circle class="m" cx="496.8" cy="532.8" r="5.7"/>
<circle class="m" cx="709.4" cy="568.6" r="5.7"/>
<circle class="m" cx="734.2" cy="559.7" r="5.7"/>
<circle class="m" cx="293.3" cy="634.3" r="5.7"/>
<circle class="m" cx="298.5" cy="566.5" r="5.7"/>
<circle class="m" cx="734.0" cy="587.1" r="5.7"/>
<circle class="m" cx="766.3" cy="578.8" r="5.7"/>
<circle class="m" cx="573.7" cy="502.2" r="5.7"/>
<circle class="m" cx="568.2" cy="528.3" r="5.7"/>
<circle class="m" cx="351.7" cy="490.6" r="5.7"/>
<circle class="m" cx="400.9" cy="450.5" r="5.7"/>
<circle class="m" cx="365.1" cy="479.9" r="5.7"/>
<circle class="m" cx="314.8" cy="545.0" r="5.7"/>
<circle class="m" cx="389.0" cy="543.0" r="5.7"/>
<circle class="m" cx="401.9" cy="416.4" r="5.7"/>
<circle class="m" cx="555.0" cy="531.9" r="5.7"/>
<circle class="m" cx="484.3" cy="546.4" r="5.7"/>
<circle class="m" cx="465.1" cy="526.1" r="5.7"/>
<circle class="m" cx="381.9" cy="515.6" r="5.7"/>
<circle class="m" cx="691.7" cy="563.4" r="5.7"/>
<circle class="m" cx="798.4" cy="587.9" r="5.7"/>
<circle class="m" cx="734.7" cy="551.7" r="5.7"/>
<circle class="m" cx="733.7" cy="591.5" r="5.7"/>
<circle class="m" cx="523.0" cy="497.6" r="5.7"/>
<circle class="m" cx="567.6" cy="561.2" r="5.7"/>
<circle class="m" cx="304.7" cy="621.5" r="5.7"/>
<circle class="m" cx="484.1" cy="453.1" r="5.7"/>
<circle class="m" cx="571.7" cy="559.5" r="5.7"/>
<circle class="m" cx="452.7" cy="569.4" r="5.7"/>
<circle class="m" cx="772.4" cy="588.3" r="5.7"/>
<circle class="m" cx="291.5" cy="626.5" r="5.7"/>
<circle class="m" cx="593.7" cy="518.8" r="5.7"/>
<circle class="m" cx="356.9" cy="519.3" r="5.7"/>
<circle class="m" cx="548.9" cy="548.0" r="5.7"/>
<circle class="m" cx="346.8" cy="345.7" r="5.7"/>
<circle class="m" cx="387.7" cy="521.7" r="5.7"/>
<circle class="m" cx="251.2" cy="666.4" r="5.7"/>
<circle class="m" cx="426.2" cy="533.0" r="5.7"/>
<circle class="m" cx="382.1" cy="476.5" r="5.7"/>
<circle class="m" cx="638.3" cy="505.8" r="5.7"/>
<circle class="m" cx="471.6" cy="568.4" r="5.7"/>
<circle class="m" cx="490.6" cy="563.5" r="5.7"/>
<circle class="m" cx="602.5" cy="538.5" r="5.7"/>
<circle class="m" cx="333.7" cy="518.8" r="5.7"/>
<circle class="m" cx="407.1" cy="470.5" r="5.7"/>
<circle class="m" cx="727.2" cy="550.8" r="5.7"/>
<circle class="m" cx="637.7" cy="522.1" r="5.7"/>
<circle class="m" cx="695.7" cy="570.7" r="5.7"/>
<circle class="m" cx="503.4" cy="526.9" r="5.7"/>
<circle class="m" cx="465.1" cy="514.8" r="5.7"/>
<circle class="m" cx="810.9" cy="612.2" r="5.7"/>
<circle class="m" cx="471.9" cy="487.8" r="5.7"/>
<circle class="m" cx="458.3" cy="504.3" r="5.7"/>
<circle class="m" cx="263.2" cy="645.0" r="5.7"/>
<circle class="m" cx="693.3" cy="527.9" r="5.7"/>
<circle class="m" cx="755.7" cy="601.7" r="5.7"/>
<circle class="m" cx="320.2" cy="493.8" r="5.7"/>
<circle class="m" cx="678.5" cy="565.6" r="5.7"/>
<circle class="m" cx="767.2" cy="570.0" r="5.7"/>
<circle class="m" cx="475.8" cy="518.4" r="5.7"/>
<circle class="m" cx="407.8" cy="535.8" r="5.7"/>
<circle class="m" cx="514.2" cy="491.8" r="5.7"/>
<circle class="m" cx="260.7" cy="647.8" r="5.7"/>
<circle class="m" cx="560.5" cy="555.0" r="5.7"/>
<circle class="m" cx="324.5" cy="547.6" r="5.7"/>
<circle class="m" cx="836.1" cy="598.4" r="5.7"/>
<circle class="m" cx="420.2" cy="474.0" r="5.7"/>
<circle class="m" cx="477.6" cy="511.6" r="5.7"/>
<circle class="m" cx="465.1" cy="434.6" r="5.7"/>
<circle class="m" cx="592.9" cy="497.9" r="5.7"/>
<circle class="m" cx="388.6" cy="470.1" r="5.7"/>
<circle class="m" cx="526.2" cy="527.5" r="5.7"/>
<circle class="m" cx="332.3" cy="572.0" r="5.7"/>
<circle class="m" cx="345.6" cy="564.2" r="5.7"/>
<circle class="m" cx="619.3" cy="529.9" r="5.7"/>
<circle class="m" cx="335.0" cy="577.6" r="5.7"/>
<circle class="m" cx="293.9" cy="607.5" r="5.7"/>
<circle class="m" cx="308.0" cy="521.4" r="5.7"/>
<circle class="m" cx="329.8" cy="531.1" r="5.7"/>
<circle class="m" cx="451.9" cy="556.0" r="5.7"/>
<circle class="m" cx="401.4" cy="494.8" r="5.7"/>
<circle class="m" cx="842.7" cy="594.3" r="5.7"/>
<circle class="m" cx="311.1" cy="591.6" r="5.7"/>
<circle class="m" cx="797.9" cy="550.5" r="5.7"/>
<circle class="m" cx="697.3" cy="567.6" r="5.7"/>
<circle class="m" cx="695.3" cy="588.6" r="5.7"/>
<circle class="m" cx="369.4" cy="554.2" r="5.7"/>
<circle class="m" cx="677.0" cy="537.8" r="5.7"/>
<circle class="m" cx="625.2" cy="503.6" r="5.7"/>
<circle class="m" cx="529.7" cy="556.3" r="5.7"/>
<circle class="m" cx="413.5" cy="561.2" r="5.7"/>
<circle class="m" cx="580.3" cy="403.3" r="5.7"/>
<circle class="m" cx="337.1" cy="607.2" r="5.7"/>
<circle class="m" cx="330.0" cy="449.4" r="5.7"/>
<circle class="m" cx="380.9" cy="519.2" r="5.7"/>
<circle class="m" cx="638.5" cy="555.4" r="5.7"/>
<circle class="m" cx="248.6" cy="677.5" r="5.7"/>
<circle class="m" cx="388.5" cy="556.6" r="5.7"/>
<circle class="m" cx="747.6" cy="550.7" r="5.7"/>
<circle class="m" cx="722.3" cy="576.2" r="5.7"/>
<circle class="m" cx="683.1" cy="539.6" r="5.7"/>
<circle class="m" cx="497.0" cy="549.7" r="5.7"/>
<circle class="m" cx="399.7" cy="534.8" r="5.7"/>
<circle class="m" cx="355.4" cy="490.0" r="5.7"/>
<circle class="m" cx="816.8" cy="543.9" r="5.7"/>
<circle class="m" cx="606.2" cy="563.0" r="5.7"/>
<circle class="m" cx="573.5" cy="542.8" r="5.7"/>
<circle class="m" cx="714.9" cy="515.7" r="5.7"/>
<circle class="m" cx="439.4" cy="510.0" r="5.7"/>
<circle class="m" cx="784.6" cy="598.2" r="5.7"/>
<circle class="m" cx="605.9" cy="524.5" r="5.7"/>
<circle class="m" cx="669.8" cy="544.5" r="5.7"/>
<circle class="m" cx="772.5" cy="565.9" r="5.7"/>
<circle class="m" cx="257.4" cy="636.3" r="5.7"/>
<circle class="m" cx="586.5" cy="498.3" r="5.7"/>
<circle class="m" cx="554.3" cy="526.3" r="5.7"/>
<circle class="m" cx="459.3" cy="488.1" r="5.7"/>
<circle class="m" cx="650.3" cy="548.7" r="5.7"/>
<circle class="m" cx="323.5" cy="597.1" r="5.7"/>
<circle class="m" cx="657.6" cy="537.0" r="5.7"/>
<circle class="m" cx="542.3" cy="516.8" r="5.7"/>
<circle class="m" cx="496.8" cy="519.4" r="5.7"/>
<circle class="m" cx="413.7" cy="549.4" r="5.7"/>
<circle class="m" cx="358.1" cy="461.6" r="5.7"/>
<circle class="m" cx="452.5" cy="528.9" r="5.7"/>
<circle class="m" cx="401.4" cy="407.7" r="5.7"/>
<circle class="m" cx="554.7" cy="557.3" r="5.7"/>
<circle class="m" cx="526.6" cy="555.4" r="5.7"/>
<circle class="m" cx="385.7" cy="430.1" r="5.7"/>
<circle class="m" cx="579.8" cy="494.4" r="5.7"/>
<circle class="m" cx="472.2" cy="466.2" r="5.7"/>
<circle class="m" cx="766.6" cy="562.6" r="5.7"/>
<circle class="m" cx="413.4" cy="523.9" r="5.7"/>
<circle class="m" cx="759.5" cy="586.9" r="5.7"/>
<circle class="m" cx="360.3" cy="566.8" r="5.7"/>
<circle class="m" cx="382.1" cy="475.7" r="5.7"/>
<circle class="m" cx="251.7" cy="677.7" r="5.7"/>
<circle class="m" cx="298.0" cy="594.0" r="5.7"/>
<circle class="m" cx="355.2" cy="486.4" r="5.7"/>
<circle class="m" cx="638.4" cy="496.9" r="5.7"/>
<circle class="m" cx="695.9" cy="489.0" r="5.7"/>
<circle class="m" cx="734.2" cy="549.2" r="5.7"/>
<circle class="m" cx="544.5" cy="566.7" r="5.7"/>
<circle class="m" cx="547.8" cy="455.8" r="5.7"/>
<circle class="m" cx="542.0" cy="533.9" r="5.7"/>
<circle class="m" cx="408.3" cy="545.8" r="5.7"/>
<circle class="m" cx="784.3" cy="576.3" r="5.7"/>
<circle class="m" cx="329.3" cy="556.4" r="5.7"/>
<circle class="m" cx="650.7" cy="513.4" r="5.7"/>
<circle class="m" cx="757.8" cy="605.3" r="5.7"/>
<circle class="m" cx="509.9" cy="533.9" r="5.7"/>
<circle class="m" cx="439.4" cy="562.4" r="5.7"/>
<circle class="m" cx="541.3" cy="551.7" r="5.7"/>
<circle class="m" cx="567.8" cy="494.3" r="5.7"/>
<circle class="m" cx="611.8" cy="472.4" r="5.7"/>
<circle class="m" cx="427.6" cy="494.5" r="5.7"/>
<circle class="m" cx="413.4" cy="536.0" r="5.7"/>
<circle class="m" cx="824.4" cy="545.5" r="5.7"/>
<circle class="m" cx="344.8" cy="508.6" r="5.7"/>
<circle class="m" cx="720.5" cy="527.9" r="5.7"/>
<circle class="m" cx="388.2" cy="395.3" r="5.7"/>
<circle class="m" cx="803.9" cy="619.7" r="5.7"/>
<circle class="m" cx="715.6" cy="547.1" r="5.7"/>
<circle class="m" cx="594.7" cy="551.5" r="5.7"/>
<circle class="m" cx="364.3" cy="423.4" r="5.7"/>
<circle class="m" cx="784.8" cy="567.0" r="5.7"/>
<circle class="m" cx="695.3" cy="587.8" r="5.7"/>
<circle class="m" cx="319.8" cy="535.2" r="5.7"/>
<circle class="m" cx="630.4" cy="430.2" r="5.7"/>
<circle class="m" cx="715.1" cy="579.0" r="5.7"/>
<circle class="m" cx="344.3" cy="526.0" r="5.7"/>
<circle class="m" cx="382.7" cy="541.1" r="5.7"/>
<circle class="m" cx="816.5" cy="557.2" r="5.7"/>
<circle class="m" cx="657.1" cy="542.9" r="5.7"/>
<circle class="m" cx="631.4" cy="505.3" r="5.7"/>
<circle class="m" cx="561.4" cy="511.2" r="5.7"/>
<circle class="m" cx="637.3" cy="515.5" r="5.7"/>
<circle class="m" cx="765.4" cy="591.9" r="5.7"/>
<circle class="m" cx="541.9" cy="539.4" r="5.7"/>
<circle class="m" cx="446.2" cy="411.7" r="5.7"/>
<circle class="m" cx="624.8" cy="517.2" r="5.7"/>
<circle class="m" cx="252.4" cy="661.4" r="5.7"/>
<circle class="m" cx="535.3" cy="563.2" r="5.7"/>
<circle class="m" cx="433.1" cy="478.5" r="5.7"/>
<circle class="m" cx="452.8" cy="523.0" r="5.7"/>
<circle class="m" cx="708.7" cy="574.9" r="5.7"/>
<circle class="m" cx="510.6" cy="548.0" r="5.7"/>
<circle class="m" cx="496.9" cy="526.8" r="5.7"/>
<circle class="m" cx="657.2" cy="533.9" r="5.7"/>
<circle class="m" cx="695.2" cy="498.0" r="5.7"/>
<circle class="m" cx="663.1" cy="450.5" r="5.7"/>
<circle class="m" cx="714.9" cy="548.6" r="5.7"/>
<circle class="m" cx="746.7" cy="549.1" r="5.7"/>
<circle class="m" cx="321.9" cy="545.0" r="5.7"/>
<circle class="m" cx="810.5" cy="574.7" r="5.7"/>
<circle class="m" cx="270.8" cy="635.0" r="5.7"/>
<circle class="m" cx="702.3" cy="582.3" r="5.7"/>
<circle class="m" cx="669.7" cy="506.8" r="5.7"/>
<circle class="m" cx="512.4" cy="570.9" r="5.7"/>
<circle class="m" cx="471.3" cy="410.1" r="5.7"/>
<circle class="m" cx="681.5" cy="507.3" r="5.7"/>
<circle class="m" cx="695.5" cy="558.9" r="5.7"/>
<circle class="m" cx="413.9" cy="549.5" r="5.7"/>
<circle class="m" cx="503.0" cy="580.6" r="5.7"/>
<circle class="m" cx="445.5" cy="390.3" r="5.7"/>
<circle class="m" cx="542.1" cy="507.0" r="5.7"/>
<circle class="m" cx="270.6" cy="637.6" r="5.7"/>
<circle class="m" cx="408.1" cy="546.9" r="5.7"/>
<circle class="m" cx="669.9" cy="566.6" r="5.7"/>
<circle class="m" cx="445.7" cy="559.9" r="5.7"/>
<circle class="m" cx="586.5" cy="481.0" r="5.7"/>
<circle class="m" cx="421.5" cy="499.5" r="5.7"/>
<circle class="m" cx="458.4" cy="507.6" r="5.7"/>
<circle class="m" cx="586.8" cy="541.9" r="5.7"/>
<circle class="m" cx="401.2" cy="591.4" r="5.7"/>
<circle class="m" cx="689.1" cy="535.2" r="5.7"/>
<circle class="m" cx="753.4" cy="580.2" r="5.7"/>
<circle class="m" cx="519.2" cy="499.8" r="5.7"/>
<circle class="m" cx="344.9" cy="476.4" r="5.7"/>
<circle class="m" cx="298.0" cy="557.3" r="5.7"/>
<circle class="m" cx="765.4" cy="593.3" r="5.7"/>
<circle class="m" cx="857.1" cy="592.8" r="5.7"/>
<circle class="m" cx="739.7" cy="583.9" r="5.7"/>
<circle class="m" cx="624.8" cy="458.7" r="5.7"/>
<circle class="m" cx="567.8" cy="490.2" r="5.7"/>
<circle class="m" cx="695.8" cy="533.9" r="5.7"/>
<circle class="m" cx="695.9" cy="555.7" r="5.7"/>
<circle class="m" cx="318.7" cy="589.9" r="5.7"/>
<circle class="m" cx="407.8" cy="549.9" r="5.7"/>
<circle class="m" cx="427.3" cy="481.9" r="5.7"/>
<circle class="m" cx="734.1" cy="530.7" r="5.7"/>
<circle class="m" cx="322.4" cy="550.0" r="5.7"/>
<circle class="m" cx="714.9" cy="582.4" r="5.7"/>
<circle class="m" cx="249.5" cy="675.2" r="5.7"/>
<circle class="m" cx="837.2" cy="601.1" r="5.7"/>
<circle class="m" cx="351.2" cy="493.7" r="5.7"/>
<circle class="m" cx="785.9" cy="570.9" r="5.7"/>
<circle class="m" cx="433.1" cy="480.5" r="5.7"/>
<circle class="m" cx="734.1" cy="584.6" r="5.7"/>
<circle class="m" cx="734.1" cy="580.7" r="5.7"/>
<circle class="m" cx="541.5" cy="548.6" r="5.7"/>
<circle class="m" cx="695.8" cy="518.6" r="5.7"/>
<circle class="m" cx="367.9" cy="476.4" r="5.7"/>
<circle class="m" cx="676.1" cy="587.2" r="5.7"/>
<circle class="m" cx="702.3" cy="542.1" r="5.7"/>
<circle class="m" cx="357.6" cy="537.7" r="5.7"/>
<circle class="m" cx="700.4" cy="577.1" r="5.7"/>
<circle class="m" cx="341.2" cy="533.0" r="5.7"/>
<circle class="m" cx="413.6" cy="526.9" r="5.7"/>
<circle class="m" cx="307.3" cy="598.9" r="5.7"/>
<circle class="m" cx="400.6" cy="548.9" r="5.7"/>
<circle class="m" cx="490.9" cy="538.9" r="5.7"/>
<circle class="m" cx="674.4" cy="563.6" r="5.7"/>
<circle class="m" cx="335.7" cy="497.8" r="5.7"/>
<circle class="m" cx="333.0" cy="587.7" r="5.7"/>
<circle class="m" cx="336.9" cy="563.1" r="5.7"/>
<circle class="m" cx="683.2" cy="549.3" r="5.7"/>
<circle class="m" cx="490.3" cy="517.1" r="5.7"/>
<circle class="m" cx="490.4" cy="526.0" r="5.7"/>
<circle class="m" cx="797.6" cy="599.9" r="5.7"/>
<circle class="m" cx="804.8" cy="564.7" r="5.7"/>
<circle class="m" cx="403.8" cy="383.0" r="5.7"/>
<circle class="m" cx="467.7" cy="517.2" r="5.7"/>
<circle class="m" cx="548.3" cy="577.5" r="5.7"/>
<circle class="m" cx="687.8" cy="512.3" r="5.7"/>
<circle class="m" cx="256.8" cy="649.9" r="5.7"/>
<circle class="m" cx="714.5" cy="562.6" r="5.7"/>
<circle class="m" cx="328.7" cy="577.2" r="5.7"/>
<circle class="m" cx="747.4" cy="546.4" r="5.7"/>
<circle class="m" cx="779.1" cy="565.0" r="5.7"/>
<circle class="m" cx="318.1" cy="602.7" r="5.7"/>
<circle class="m" cx="407.7" cy="564.8" r="5.7"/>
<circle class="m" cx="426.8" cy="492.4" r="5.7"/>
<circle class="m" cx="631.2" cy="517.5" r="5.7"/>
<circle class="m" cx="485.7" cy="523.8" r="5.7"/>
<circle class="m" cx="535.7" cy="529.2" r="5.7"/>
<circle class="m" cx="318.3" cy="539.7" r="5.7"/>
<circle class="m" cx="734.1" cy="571.6" r="5.7"/>
<circle class="m" cx="548.9" cy="418.4" r="5.7"/>
<circle class="m" cx="618.1" cy="530.6" r="5.7"/>
<circle class="m" cx="331.6" cy="489.0" r="5.7"/>
<circle class="m" cx="644.3" cy="511.4" r="5.7"/>
<circle class="m" cx="446.7" cy="500.4" r="5.7"/>
<circle class="m" cx="542.4" cy="542.6" r="5.7"/>
<circle class="m" cx="301.8" cy="607.4" r="5.7"/>
<circle class="m" cx="382.7" cy="485.5" r="5.7"/>
<circle class="m" cx="379.6" cy="444.9" r="5.7"/>
<circle class="m" cx="697.3" cy="574.4" r="5.7"/>
<circle class="m" cx="509.4" cy="530.6" r="5.7"/>
<circle class="m" cx="308.1" cy="576.7" r="5.7"/>
<circle class="m" cx="509.7" cy="547.0" r="5.7"/>
<circle class="m" cx="676.9" cy="526.8" r="5.7"/>
<circle class="m" cx="798.4" cy="574.7" r="5.7"/>
<circle class="m" cx="767.9" cy="579.3" r="5.7"/>
<circle class="m" cx="644.9" cy="491.9" r="5.7"/>
<circle class="m" cx="477.9" cy="480.1" r="5.7"/>
<circle class="m" cx="669.9" cy="545.5" r="5.7"/>
<circle class="m" cx="439.3" cy="475.7" r="5.7"/>
<circle class="m" cx="775.2" cy="626.4" r="5.7"/>
<circle class="m" cx="786.7" cy="591.8" r="5.7"/>
<circle class="m" cx="603.9" cy="572.1" r="5.7"/>
<circle class="m" cx="401.3" cy="506.4" r="5.7"/>
<circle class="m" cx="344.5" cy="482.9" r="5.7"/>
<circle class="m" cx="413.3" cy="475.1" r="5.7"/>
<circle class="m" cx="733.9" cy="592.1" r="5.7"/>
<circle class="m" cx="823.7" cy="604.8" r="5.7"/>
<circle class="m" cx="503.4" cy="427.8" r="5.7"/>
<circle class="m" cx="695.7" cy="544.0" r="5.7"/>
<circle class="m" cx="753.2" cy="582.9" r="5.7"/>
<circle class="m" cx="541.8" cy="529.0" r="5.7"/>
<circle class="m" cx="701.9" cy="592.6" r="5.7"/>
<circle class="m" cx="332.1" cy="537.2" r="5.7"/>
<circle class="m" cx="407.3" cy="519.3" r="5.7"/>
<circle class="m" cx="440.2" cy="541.3" r="5.7"/>
<circle class="m" cx="500.4" cy="534.1" r="5.7"/>
<circle class="m" cx="758.9" cy="614.1" r="5.7"/>
<circle class="m" cx="523.4" cy="531.9" r="5.7"/>
<circle class="m" cx="322.2" cy="608.5" r="5.7"/>
<circle class="m" cx="548.3" cy="488.1" r="5.7"/>
<circle class="m" cx="529.3" cy="583.6" r="5.7"/>
<circle class="m" cx="550.3" cy="464.7" r="5.7"/>
<circle class="m" cx="600.0" cy="509.2" r="5.7"/>
<circle class="m" cx="471.2" cy="498.6" r="5.7"/>
<circle class="m" cx="714.8" cy="541.6" r="5.7"/>
<circle class="m" cx="810.4" cy="587.8" r="5.7"/>
<circle class="m" cx="708.4" cy="573.6" r="5.7"/>
<circle class="m" cx="307.5" cy="590.4" r="5.7"/>
<circle class="m" cx="542.6" cy="576.7" r="5.7"/>
<circle class="m" cx="476.0" cy="511.8" r="5.7"/>
<circle class="m" cx="611.1" cy="526.1" r="5.7"/>
<circle class="m" cx="300.9" cy="572.2" r="5.7"/>
<circle class="m" cx="516.7" cy="523.2" r="5.7"/>
<circle class="m" cx="579.9" cy="536.8" r="5.7"/>
<circle class="m" cx="302.4" cy="555.3" r="5.7"/>
<circle class="m" cx="759.2" cy="572.3" r="5.7"/>
<circle class="m" cx="462.8" cy="526.4" r="5.7"/>
<circle class="m" cx="721.2" cy="534.1" r="5.7"/>
<circle class="m" cx="561.7" cy="535.5" r="5.7"/>
<circle class="m" cx="388.1" cy="496.9" r="5.7"/>
<circle class="m" cx="720.9" cy="563.4" r="5.7"/>
<circle class="m" cx="469.0" cy="501.9" r="5.7"/>
<circle class="m" cx="414.7" cy="488.6" r="5.7"/>
<circle class="m" cx="567.4" cy="578.2" r="5.7"/>
<circle class="m" cx="283.7" cy="651.7" r="5.7"/>
<circle class="m" cx="798.5" cy="573.6" r="5.7"/>
<circle class="m" cx="285.8" cy="634.4" r="5.7"/>
<circle class="m" cx="305.2" cy="626.1" r="5.7"/>
<circle class="m" cx="477.7" cy="563.2" r="5.7"/>
<circle class="m" cx="727.8" cy="551.3" r="5.7"/>
<circle class="m" cx="504.8" cy="525.5" r="5.7"/>
<circle class="m" cx="773.0" cy="585.4" r="5.7"/>
<circle class="m" cx="612.3" cy="496.0" r="5.7"/>
<circle class="m" cx="855.5" cy="571.8" r="5.7"/>
<circle class="m" cx="446.1" cy="569.3" r="5.7"/>
<circle class="m" cx="287.7" cy="593.2" r="5.7"/>
<circle class="m" cx="401.1" cy="493.3" r="5.7"/>
<circle class="m" cx="561.2" cy="539.1" r="5.7"/>
<circle class="m" cx="720.8" cy="577.5" r="5.7"/>
<circle class="m" cx="357.7" cy="566.4" r="5.7"/>
<circle class="m" cx="452.6" cy="453.3" r="5.7"/>
<circle class="m" cx="580.4" cy="579.3" r="5.7"/>
<circle class="m" cx="484.3" cy="530.4" r="5.7"/>
<circle class="m" cx="715.4" cy="558.0" r="5.7"/>
<circle class="m" cx="332.5" cy="587.2" r="5.7"/>
<circle class="m" cx="271.3" cy="639.4" r="5.7"/>
<circle class="m" cx="346.7" cy="468.6" r="5.7"/>
<circle class="m" cx="413.9" cy="502.7" r="5.7"/>
<circle class="m" cx="339.6" cy="536.7" r="5.7"/>
<circle class="m" cx="318.0" cy="609.1" r="5.7"/>
<circle class="m" cx="701.9" cy="574.2" r="5.7"/>
<circle class="m" cx="766.2" cy="598.4" r="5.7"/>
<circle class="m" cx="262.0" cy="628.4" r="5.7"/>
<circle class="m" cx="453.0" cy="544.6" r="5.7"/>
<circle class="m" cx="255.7" cy="649.0" r="5.7"/>
<circle class="m" cx="589.6" cy="497.9" r="5.7"/>
<circle class="m" cx="817.3" cy="581.3" r="5.7"/>
<circle class="m" cx="320.0" cy="573.9" r="5.7"/>
<circle class="m" cx="498.3" cy="558.1" r="5.7"/>
<circle class="m" cx="535.9" cy="534.3" r="5.7"/>
<circle class="m" cx="335.6" cy="519.8" r="5.7"/>
<circle class="m" cx="643.9" cy="580.1" r="5.7"/>
<circle class="m" cx="867.9" cy="623.6" r="5.7"/>
<circle class="m" cx="570.2" cy="507.9" r="5.7"/>
<circle class="m" cx="285.3" cy="624.4" r="5.7"/>
<circle class="m" cx="273.4" cy="620.8" r="5.7"/>
<circle class="m" cx="373.6" cy="456.2" r="5.7"/>
<circle class="m" cx="303.6" cy="581.8" r="5.7"/>
<circle class="m" cx="313.8" cy="579.9" r="5.7"/>
<circle class="m" cx="433.2" cy="548.1" r="5.7"/>
<circle class="m" cx="532.5" cy="547.9" r="5.7"/>
<circle class="m" cx="394.9" cy="475.2" r="5.7"/>
<circle class="m" cx="635.2" cy="556.6" r="5.7"/>
<circle class="m" cx="561.2" cy="551.3" r="5.7"/>
<circle class="m" cx="451.9" cy="510.3" r="5.7"/>
<circle class="m" cx="352.6" cy="498.0" r="5.7"/>
<circle class="m" cx="319.7" cy="423.1" r="5.7"/>
<circle class="m" cx="426.7" cy="507.0" r="5.7"/>
<circle class="m" cx="714.4" cy="558.7" r="5.7"/>
<circle class="m" cx="618.7" cy="554.3" r="5.7"/>
<circle class="m" cx="360.1" cy="511.0" r="5.7"/>
<circle class="m" cx="503.3" cy="571.8" r="5.7"/>
<circle class="m" cx="689.8" cy="563.5" r="5.7"/>
<circle class="m" cx="420.5" cy="469.0" r="5.7"/>
<circle class="m" cx="638.3" cy="507.6" r="5.7"/>
<circle class="m" cx="561.5" cy="537.5" r="5.7"/>
<circle class="m" cx="446.2" cy="521.6" r="5.7"/>
<circle class="m" cx="427.1" cy="543.1" r="5.7"/>
<circle class="m" cx="502.1" cy="504.8" r="5.7"/>
<circle class="m" cx="753.0" cy="578.2" r="5.7"/>
<circle class="m" cx="520.9" cy="496.0" r="5.7"/>
<circle class="m" cx="464.3" cy="568.9" r="5.7"/>
<circle class="m" cx="433.1" cy="501.8" r="5.7"/>
<circle class="m" cx="600.0" cy="540.5" r="5.7"/>
<circle class="m" cx="453.1" cy="524.1" r="5.7"/>
<circle class="m" cx="791.5" cy="608.7" r="5.7"/>
<circle class="m" cx="420.2" cy="481.2" r="5.7"/>
<circle class="m" cx="727.4" cy="549.2" r="5.7"/>
<circle class="m" cx="624.3" cy="538.1" r="5.7"/>
<circle class="m" cx="341.4" cy="536.0" r="5.7"/>
<circle class="m" cx="702.4" cy="562.9" r="5.7"/>
<circle class="m" cx="307.6" cy="562.4" r="5.7"/>
<circle class="m" cx="716.3" cy="531.4" r="5.7"/>
<circle class="m" cx="676.1" cy="573.8" r="5.7"/>
<circle class="m" cx="336.9" cy="498.2" r="5.7"/>
<circle class="m" cx="759.0" cy="588.5" r="5.7"/>
<circle class="m" cx="270.2" cy="640.2" r="5.7"/>
<circle class="m" cx="452.6" cy="564.2" r="5.7"/>
<circle class="m" cx="695.5" cy="518.3" r="5.7"/>
<circle class="m" cx="553.1" cy="511.0" r="5.7"/>
<circle class="m" cx="298.5" cy="611.7" r="5.7"/>
<circle class="m" cx="334.7" cy="537.1" r="5.7"/>
<circle class="m" cx="489.2" cy="563.3" r="5.7"/>
<circle class="m" cx="452.8" cy="557.9" r="5.7"/>
<circle class="m" cx="318.9" cy="520.8" r="5.7"/>
<circle class="m" cx="522.4" cy="490.0" r="5.7"/>
<circle class="m" cx="360.0" cy="547.6" r="5.7"/>
<circle class="m" cx="568.0" cy="535.2" r="5.7"/>
<circle class="m" cx="503.3" cy="574.2" r="5.7"/>
<circle class="m" cx="797.9" cy="581.9" r="5.7"/>
<circle class="m" cx="522.1" cy="515.9" r="5.7"/>
<circle class="m" cx="560.9" cy="558.1" r="5.7"/>
<circle class="m" cx="347.2" cy="598.7" r="5.7"/>
<circle class="m" cx="644.6" cy="583.0" r="5.7"/>
<circle class="m" cx="471.2" cy="579.3" r="5.7"/>
<circle class="m" cx="702.5" cy="579.7" r="5.7"/>
<circle class="m" cx="401.1" cy="527.2" r="5.7"/>
<circle class="m" cx="817.2" cy="611.5" r="5.7"/>
<circle class="m" cx="495.2" cy="528.9" r="5.7"/>
<circle class="m" cx="765.2" cy="559.4" r="5.7"/>
<circle class="m" cx="758.9" cy="601.3" r="5.7"/>
<circle class="m" cx="298.4" cy="619.3" r="5.7"/>
<circle class="m" cx="740.3" cy="575.5" r="5.7"/>
<circle class="m" cx="675.1" cy="546.0" r="5.7"/>
<circle class="m" cx="497.7" cy="549.6" r="5.7"/>
<circle class="m" cx="553.0" cy="464.3" r="5.7"/>
<circle class="m" cx="314.4" cy="531.4" r="5.7"/>
<circle class="m" cx="650.9" cy="540.4" r="5.7"/>
<circle class="m" cx="315.1" cy="500.9" r="5.7"/>
<circle class="m" cx="785.3" cy="552.8" r="5.7"/>
<circle class="m" cx="407.3" cy="467.7" r="5.7"/>
<circle class="m" cx="587.2" cy="555.6" r="5.7"/>
<circle class="m" cx="785.3" cy="572.4" r="5.7"/>
<circle class="m" cx="360.8" cy="521.4" r="5.7"/>
<circle class="m" cx="490.6" cy="510.9" r="5.7"/>
<circle class="m" cx="332.4" cy="464.3" r="5.7"/>
<circle class="m" cx="395.6" cy="463.8" r="5.7"/>
<circle class="m" cx="368.9" cy="488.0" r="5.7"/>
<circle class="m" cx="715.1" cy="578.1" r="5.7"/>
<circle class="m" cx="420.3" cy="509.7" r="5.7"/>
<circle class="m" cx="522.3" cy="571.5" r="5.7"/>
<circle class="m" cx="715.1" cy="518.0" r="5.7"/>
<circle class="m" cx="477.9" cy="543.2" r="5.7"/>
<circle class="m" cx="326.6" cy="460.2" r="5.7"/>
<circle class="m" cx="567.5" cy="505.5" r="5.7"/>
<circle class="m" cx="625.6" cy="576.8" r="5.7"/>
<circle class="m" cx="327.9" cy="589.5" r="5.7"/>
<circle class="m" cx="329.9" cy="577.4" r="5.7"/>
<circle class="m" cx="733.8" cy="533.5" r="5.7"/>
<circle class="m" cx="381.4" cy="456.1" r="5.7"/>
<circle class="m" cx="651.1" cy="434.3" r="5.7"/>
<circle class="m" cx="542.6" cy="561.7" r="5.7"/>
<circle class="m" cx="753.2" cy="622.3" r="5.7"/>
<circle class="m" cx="286.7" cy="639.3" r="5.7"/>
<circle class="m" cx="366.8" cy="539.5" r="5.7"/>
<circle class="m" cx="458.7" cy="525.3" r="5.7"/>
<circle class="m" cx="823.5" cy="586.5" r="5.7"/>
<circle class="m" cx="318.5" cy="581.8" r="5.7"/>
<circle class="m" cx="374.8" cy="479.8" r="5.7"/>
<circle class="m" cx="406.9" cy="459.8" r="5.7"/>
<circle class="m" cx="259.0" cy="639.6" r="5.7"/>
<circle class="m" cx="395.2" cy="520.3" r="5.7"/>
<circle class="m" cx="394.0" cy="515.5" r="5.7"/>
<circle class="m" cx="555.4" cy="534.2" r="5.7"/>
<circle class="m" cx="319.8" cy="537.9" r="5.7"/>
<circle class="m" cx="382.4" cy="505.5" r="5.7"/>
<circle class="m" cx="701.7" cy="551.0" r="5.7"/>
<circle class="m" cx="331.5" cy="574.4" r="5.7"/>
<circle class="m" cx="535.5" cy="560.0" r="5.7"/>
<circle class="m" cx="483.7" cy="524.3" r="5.7"/>
<circle class="m" cx="265.1" cy="637.5" r="5.7"/>
<circle class="m" cx="388.8" cy="493.8" r="5.7"/>
<circle class="m" cx="346.2" cy="534.2" r="5.7"/>
<circle class="m" cx="528.7" cy="522.7" r="5.7"/>
<circle class="m" cx="427.2" cy="510.1" r="5.7"/>
<circle class="m" cx="356.8" cy="531.4" r="5.7"/>
<circle class="m" cx="433.3" cy="485.6" r="5.7"/>
<circle class="m" cx="765.9" cy="585.5" r="5.7"/>
<circle class="m" cx="455.9" cy="463.6" r="5.7"/>
<circle class="m" cx="644.3" cy="578.7" r="5.7"/>
</g>
<g fill="none" stroke="#111" stroke-width="2.4" stroke-linecap="square"><path d="M222.2 325.6V697.6"/>
<path d="M203.6 697.6H222.2"/>
<path d="M203.6 635.6H222.2"/>
<path d="M203.6 573.6H222.2"/>
<path d="M203.6 511.6H222.2"/>
<path d="M203.6 449.6H222.2"/>
<path d="M203.6 387.6H222.2"/>
<path d="M203.6 325.6H222.2"/>
<path d="M247.6 712.6H887.6"/>
<path d="M247.6 712.6V731"/>
<path d="M279.6 712.6V731"/>
<path d="M311.6 712.6V731"/>
<path d="M343.6 712.6V731"/>
<path d="M375.6 712.6V731"/>
<path d="M407.6 712.6V731"/>
<path d="M439.6 712.6V731"/>
<path d="M471.6 712.6V731"/>
<path d="M503.6 712.6V731"/>
<path d="M535.6 712.6V731"/>
<path d="M567.6 712.6V731"/>
<path d="M599.6 712.6V731"/>
<path d="M631.6 712.6V731"/>
<path d="M663.6 712.6V731"/>
<path d="M695.6 712.6V731"/>
<path d="M727.6 712.6V731"/>
<path d="M759.6 712.6V731"/>
<path d="M791.6 712.6V731"/>
<path d="M823.6 712.6V731"/>
<path d="M855.6 712.6V731"/>
<path d="M887.6 712.6V731"/></g>
<g class="ticks"><text x="247.6" y="778" text-anchor="middle">0</text>
<text x="311.6" y="778" text-anchor="middle">10</text>
<text x="375.6" y="778" text-anchor="middle">20</text>
<text x="439.6" y="778" text-anchor="middle">30</text>
<text x="503.6" y="778" text-anchor="middle">40</text>
<text x="567.6" y="778" text-anchor="middle">50</text>
<text x="631.6" y="778" text-anchor="middle">60</text>
<text x="695.6" y="778" text-anchor="middle">70</text>
<text x="759.6" y="778" text-anchor="middle">80</text>
<text x="823.6" y="778" text-anchor="middle">90</text>
<text transform="translate(178 697.6) rotate(-90)" text-anchor="middle">0</text>
<text transform="translate(178 635.6) rotate(-90)" text-anchor="middle">5</text>
<text transform="translate(178 573.6) rotate(-90)" text-anchor="middle">10</text>
<text transform="translate(178 511.6) rotate(-90)" text-anchor="middle">15</text>
<text transform="translate(178 449.6) rotate(-90)" text-anchor="middle">20</text>
<text transform="translate(178 387.6) rotate(-90)" text-anchor="middle">25</text>
<text transform="translate(178 325.6) rotate(-90)" text-anchor="middle">30</text></g>

<g class="markers">
<path d="M248.2 676.6 L251.8 664.5 L259.0 648.5 L272.4 633.5 L281.8 617.4 L293.0 608.5 L306.4 591.5 L320.4 579.6 L342.0 546.4 L366.4 524.0 L399.2 525.6 L428.4 533.6 L459.6 539.4 L492.4 537.6 L523.6 540.6 L555.0 539.6 L586.0 540.0 L619.2 533.0 L653.6 547.6 L684.4 563.0 L732.0 571.4 L788.6 590.0 L851.4 603.0" fill="none" stroke="#1b2a5e" stroke-width="1.7" stroke-dasharray="1.7 5.4"/>
<path d="M247.6 677.6 L251.1 666.1 L257.8 651.7 L271.4 637.7 L281.2 628.6 L291.7 615.6 L305.4 606.2 L318.6 587.3 L339.3 574.2 L364.4 573.0 L395.6 578.4 L425.0 579.0 L458.4 575.6 L491.0 575.6 L521.4 575.0 L550.4 576.0 L585.0 577.0 L620.0 577.4 L652.0 583.4 L683.0 586.0 L728.0 596.0 L783.0 605.4 L851.6 620.6" fill="none" stroke="#5a2a1a" stroke-width="1.7" stroke-dasharray="1.7 5.4"/>
<path d="M248.2 672.0V681.0M251.8 659.0V670.0M259.0 642.0V655.0M272.4 626.0V641.0M281.8 606.0V629.0M293.0 596.0V621.0M306.4 572.0V611.0M320.4 556.0V603.0M342.0 515.0V568.0M366.4 491.0V556.0M399.2 480.6V571.0M428.4 487.0V572.0M459.6 504.4V568.0M492.4 501.0V566.0M523.6 511.0V566.0M555.0 508.0V570.0M586.0 515.0V572.0M619.2 496.4V572.0M653.6 518.4V578.0M684.4 540.6V578.0M732.0 548.0V588.0M788.6 568.0V606.0M851.4 589.6V615.0" fill="none" stroke="#1f2f7a" stroke-width="2.3"/>
<path d="M247.6 673.0V682.0M251.1 661.0V671.0M257.8 645.0V658.0M271.4 630.0V645.0M281.2 620.0V637.0M291.7 607.6V632.8M305.4 588.0V627.0M318.6 560.0V611.8M339.3 552.0V604.0M364.4 548.0V598.0M395.6 551.6V605.0M425.0 555.0V603.6M458.4 554.0V597.0M491.0 554.0V597.0M521.4 548.0V599.0M550.4 556.0V595.0M585.0 564.0V597.0M620.0 568.0V597.6M652.0 574.0V602.4M683.0 578.0V603.0M728.0 580.0V613.0M783.0 592.0V623.6M851.6 607.0V637.0" fill="none" stroke="#9a2414" stroke-width="2.3"/>
<g fill="#29a9dc" stroke="#1b2f78" stroke-width="2.2">
<circle cx="248.2" cy="676.6" r="6.7"/>
<circle cx="251.8" cy="664.5" r="6.7"/>
<circle cx="259.0" cy="648.5" r="6.7"/>
<circle cx="272.4" cy="633.5" r="6.7"/>
<circle cx="281.8" cy="617.4" r="6.7"/>
<circle cx="293.0" cy="608.5" r="6.7"/>
<circle cx="306.4" cy="591.5" r="6.7"/>
<circle cx="320.4" cy="579.6" r="6.7"/>
<circle cx="342.0" cy="546.4" r="6.7"/>
<circle cx="366.4" cy="524.0" r="6.7"/>
<circle cx="399.2" cy="525.6" r="6.7"/>
<circle cx="428.4" cy="533.6" r="6.7"/>
<circle cx="459.6" cy="539.4" r="6.7"/>
<circle cx="492.4" cy="537.6" r="6.7"/>
<circle cx="523.6" cy="540.6" r="6.7"/>
<circle cx="555.0" cy="539.6" r="6.7"/>
<circle cx="586.0" cy="540.0" r="6.7"/>
<circle cx="619.2" cy="533.0" r="6.7"/>
<circle cx="653.6" cy="547.6" r="6.7"/>
<circle cx="684.4" cy="563.0" r="6.7"/>
<circle cx="732.0" cy="571.4" r="6.7"/>
<circle cx="788.6" cy="590.0" r="6.7"/>
<circle cx="851.4" cy="603.0" r="6.7"/>
</g>
<g fill="#ffc400" stroke="#9a1f10" stroke-width="2.2">
<circle cx="247.6" cy="677.6" r="6.7"/>
<circle cx="251.1" cy="666.1" r="6.7"/>
<circle cx="257.8" cy="651.7" r="6.7"/>
<circle cx="271.4" cy="637.7" r="6.7"/>
<circle cx="281.2" cy="628.6" r="6.7"/>
<circle cx="291.7" cy="615.6" r="6.7"/>
<circle cx="305.4" cy="606.2" r="6.7"/>
<circle cx="318.6" cy="587.3" r="6.7"/>
<circle cx="339.3" cy="574.2" r="6.7"/>
<circle cx="364.4" cy="573.0" r="6.7"/>
<circle cx="395.6" cy="578.4" r="6.7"/>
<circle cx="425.0" cy="579.0" r="6.7"/>
<circle cx="458.4" cy="575.6" r="6.7"/>
<circle cx="491.0" cy="575.6" r="6.7"/>
<circle cx="521.4" cy="575.0" r="6.7"/>
<circle cx="550.4" cy="576.0" r="6.7"/>
<circle cx="585.0" cy="577.0" r="6.7"/>
<circle cx="620.0" cy="577.4" r="6.7"/>
<circle cx="652.0" cy="583.4" r="6.7"/>
<circle cx="683.0" cy="586.0" r="6.7"/>
<circle cx="728.0" cy="596.0" r="6.7"/>
<circle cx="783.0" cy="605.4" r="6.7"/>
<circle cx="851.6" cy="620.6" r="6.7"/>
</g>
</g>
<g class="axt">
<text x="473.1" y="834" textLength="194.1" lengthAdjust="spacingAndGlyphs">Leeftijd (jaren)</text>
<text transform="translate(120.6 703.2) rotate(-90)" textLength="350.4" lengthAdjust="spacingAndGlyphs">Dagelijkse energiegebruik</text>
</g>
<g class="leg">
<circle cx="780.9" cy="386.9" r="10.2" fill="#00a9d6"/>
<circle cx="780.9" cy="421.8" r="10.2" fill="#ffc000"/>
<text x="805.2" y="395.5" textLength="76.6" lengthAdjust="spacingAndGlyphs">Mannen</text>
<text x="805.6" y="430" textLength="83.4" lengthAdjust="spacingAndGlyphs">Vrouwen</text>
</g>
</svg>

<svg class="illu" width="1000" height="1000" viewBox="0 0 1000 1000">
<path d="M660.5 307C657.5 297 660 289 666 281C673 272 690 266 690 254C690 243 675.5 228 675.5 205C675.5 161 711 132.8 765 132.8C805 132.8 836 159 846.5 190C850.5 206 862 222 880 229C903 238 920.5 256 920.5 279C920.5 290 917 299 911 307Z" fill="#d6e8ff"/>
<path d="M744 187c4-3 9-1 11 4 2 6 1 13-2 18-5-2-10-8-11-14-.6-3 0-6 2-8z" fill="#e4f0ff" opacity=".8"/>
<path d="M723.2 170c.6-1.3 2.2-1.8 3.6-1.4 1.2-4 5-6.4 9-6 4.2.4 6.6 3.4 7 6 2.6-.6 5.6.2 6.8 1.4z" fill="#fff"/>
<path d="M721.600 161.500A12.300 12.300 0 1 1 721.600 185.100A11.900 11.900 0 0 0 721.600 161.500Z" fill="#5cb4ff"/>
<path d="M690.4 182c1.4-3 5-4.6 9.4-4 1.4-6.6 6.6-10.4 12.6-10.2 6 .2 10.6 4 11.8 9.400 3.600-1.800 8.600-.4 10.600 2.800 1.400.8 2.400 1.400 2.800 2z" fill="#fff"/>
<path d="M698.4 225.6L702.4 219.2H710.4L714.4 225.6L710.4 232.8H702.4ZM710.4 219.2L714.4 212H722.4L726.4 219.2L722.4 225.6H714.4M702.4 219.2L698.4 212H690.4M698.4 225.6H690.4L686.4 218.9M702.4 232.8L698.4 240M722.4 212L726.4 205.1H735.2M726.4 219.2H735.2L739.2 226M722.4 225.6L726.9 233.3" fill="none" stroke="#5aa7f0" stroke-width=".95"/>
<path d="M751.5 234.4C747 234.6 743.5 236 740.8 238.2L751 244.2L751 246.5L738.2 239.2C731 242 724.5 246.5 720 251.4C726 253.2 731.5 254.6 736 255.4C729 256.2 721.5 256.4 715.2 257.4C710.5 260.5 707.6 265 708 269.8C708.4 273.5 710.2 276.2 712.8 277.8C716 280 720 281.4 723.2 281C727.5 277.6 731.8 273.4 734.8 268.600C734 273.8 731.8 278.6 728.8 282.6C732 284 735.5 284.6 738.4 284.200C742.5 283.800 746 282.6 749 280.600L753 274C753.5 277 754.6 279.6 756.2 281.200C760 278.500 763.200 270 764 262L763 241Z" fill="#5cb4ff"/>
<path d="M806.2 209.7L810.2 208.9L808 216.5L809.2 222L811.8 208C815.5 206.8 819.4 206.4 823 206.5C826.2 206.600 829.400 206.9 832.1 207.5C829 211.5 825.8 215.4 822.6 218.8C827.8 215.2 833 211.6 838.4 209C842 209 845.6 209.8 848.2 211.5C851 213.2 852.6 215.600 852.8 218.1C853 221 852.4 223.600 851 225.8C849.8 227.600 848.4 229 846.8 230C841.5 229.600 836.200 228.800 831 227.500C832.8 229.500 834.800 231.300 837 232.800C839 233.900 841.200 234.600 843.300 234.900C841.400 237.300 839.300 239.500 837 241.200C834.800 242.800 832.400 243.800 830 244C828 243.600 826.100 242.900 824.400 241.900C822.200 239.900 820.100 238 818 236.300C815.600 235 813 233.900 810.400 233.100L810 234.200C813 235.200 815.800 236.500 818.400 238.200C820.800 240.200 822.800 242.600 824 245.400L823 247.500C820.600 247.900 818.200 247.700 816 247.100C814.200 246.300 812.500 245.300 811 244L806 238Z" fill="#5cb4ff"/>
<path d="M817.9 195.2C813 191.5 806.2 186.5 806.2 181.4C806.2 178.300 808.600 176 811.700 176C814.200 176 816.600 177.400 817.900 179.600C819.200 177.400 821.600 176 824.100 176C827.200 176 829.600 178.300 829.600 181.400C829.600 186.500 822.800 191.500 817.900 195.200Z" fill="#ff6b5c"/>
<path d="M803.2 184.400H808.600l.9-2.400 1 5 1.100-5.200 1.100 4.400 1.100-4 1.100 4.600 1.100-5.200 1.100 5.400 1.100-4.600 1.100 4.200 1.100-4.800 1.100 5 1.100-4.600 1.100 4 1-3.800.9 2h3.600" fill="none" stroke="#fff" stroke-width=".8" stroke-linejoin="round"/>
<ellipse cx="691.4" cy="296.6" rx="10.6" ry="10.3" fill="#ff7468"/>
<ellipse cx="693.6" cy="296.6" rx="10.4" ry="10.3" fill="#ff5a4a"/>
<rect x="702" y="292.5" width="9" height="8.5" fill="#ff5a4a"/>
<ellipse cx="717" cy="296.6" rx="10.6" ry="10.3" fill="#ff7468"/>
<ellipse cx="720.6" cy="296.6" rx="10.6" ry="10.3" fill="#ff5a4a"/>
<circle cx="721.6" cy="296.6" r="4.8" fill="#ff7a6e"/>
<path d="M874.2 219.600C872 215.400 868.500 213.600 865 213.900C859 214.800 855.500 220 856 226C856.300 230 857.500 233.500 859.300 236.200" fill="none" stroke="#e8453c" stroke-width="1"/>
<path d="M856.4 244C856.4 238.500 860.500 233.500 865.500 230.200C867 229.200 868 228.400 868 227.400H880C880 228.400 881 229.200 882.600 230.200C887.600 233.500 891.700 238.500 891.700 244Z" fill="#5cb4ff"/>
<path d="M856.4 244C856.4 238.500 860.500 233.500 865.500 230.200C867 229.200 868 228.400 868 227.400H874.500C874.500 228.400 873.500 229.400 872 230.400C867.500 233.600 863.600 238.500 863.600 244Z" fill="#fff"/>
<rect x="856.4" y="242.8" width="35.3" height="52.5" fill="#ff5a4a"/>
<rect x="856.4" y="242.8" width="7.2" height="52.5" fill="#ff7468"/>
<rect x="888.8" y="242.8" width="2.9" height="52.5" fill="#ff7468"/>
<path d="M856.4 295H891.700V303.700A2.500 2.500 0 0 1 889.200 306.200H858.900A2.500 2.500 0 0 1 856.400 303.700Z" fill="#5cb4ff"/>
<path d="M868.8 221.600A1.600 1.600 0 0 1 870.400 220H878.400A1.600 1.600 0 0 1 880 221.600V224.500H881A1 1 0 0 1 882 225.500V226.500A1 1 0 0 1 881 227.500H867.200A1 1 0 0 1 866.200 226.500V225.500A1 1 0 0 1 867.200 224.500H868.800Z" fill="#ff6b5c"/>
<path d="M847.800 279.200C843.500 275.800 836.500 276.400 833.800 281.500C830.800 287 832 296 836.500 302C839.500 306 844.500 307.200 848.500 305.600C852.500 307.200 858 306.600 861.500 303C866.500 297.800 868.600 288.500 865.500 282C862.800 276.300 853.500 275.600 847.800 279.200Z" fill="#5cb4ff" transform="translate(-5.200 0)"/>
<path d="M847.800 279.200C843.500 275.800 836.500 276.400 833.800 281.500C830.800 287 832 296 836.500 302C839.500 306 844.500 307.200 848.500 305.600C852.500 307.200 858 306.600 861.500 303C866.500 297.800 868.600 288.500 865.500 282C862.800 276.300 853.500 275.600 847.800 279.200Z" fill="#2f49d1"/>
<ellipse cx="859.3" cy="281.8" rx="2.400" ry="3.500" transform="rotate(-20 859.3 281.8)" fill="#b9e8c4"/>
<path d="M847.200 278.600C847.400 273.500 848.300 268.800 849.700 264.600" fill="none" stroke="#1e9a4a" stroke-width="1.600" stroke-linecap="round"/>
<path d="M846.700 272.200C843 274 838.500 274 834.700 272.800C837.500 268.400 842.500 266.400 846.400 268.200C846.800 269.500 846.900 270.900 846.700 272.200Z" fill="#3551c8"/>
<circle cx="764.8" cy="159.8" r="7.8" fill="#1f3564"/>
<path d="M766 163C768 157.500 773 155 778 155C783.500 155 788.500 157.500 792 162C795 166 796.400 171 796 176L794.500 184L788 170L776.200 187C771 186.500 766.800 183 765 178C763.200 173 763.800 167.500 766 163Z" fill="#1f3564"/>
<path d="M788.800 167C792.500 170 795.500 174 796 178.500C796.200 182.500 795.500 186.500 794.800 188.500C793.800 190.500 792 191.600 790 191.200L789.400 191.100V196H776.200V183.500C779 180 783 175 788.800 167Z" fill="#ff9a90"/>
<path d="M788.800 167C786 172.500 782.500 177.500 778.600 181.400C780 176 783 170.500 788.800 167Z" fill="#1f3564"/>
<path d="M776.200 187.500C780 190.500 785 191.800 789.400 191.100V192.800C785 193.800 780 192.500 776.200 189.800Z" fill="#ff8a80"/>
<path d="M760 203.500C757 204.500 755.400 207 754.800 210.500L752.600 226L751.400 238L748 260L744.500 279C743.500 283 741.800 289 740.600 294.500L741.800 295L744.200 290.200L745 293.500L746.200 293.200L746.800 288.500L748.200 291.600L749.400 291L750.200 284.500L757 262L760.500 244L762 224Z" fill="#ffa39b"/>
<path d="M802 203.500C805 204.500 806.600 207 807.200 210.500L809.400 226L810.600 238L814 260L817.500 279C818.500 283 820.200 289 821.400 294.500L820.200 295L817.800 290.200L817 293.500L815.800 293.200L815.200 288.500L813.800 291.600L812.600 291L811.800 284.500L805 262L801.500 244L800 224Z" fill="#ffa39b"/>
<path d="M776.200 194C774 196.500 768 199.500 760 203.500C759 212 760.500 226 764.200 236C765.500 241 766.200 246 766 250.400C765 256.500 762.500 262 760.600 267.200L759.400 272H805L803.800 267.200C801.500 262 799 256.500 797.200 250.400C797 246 798 241 799 236C802.500 226 803.500 212 802 203.500C796 199.500 791.500 196.500 789.400 194Z" fill="#ff9a90"/>
<path d="M761.200 203.200L765.800 201.800C768 209 774 214.400 781.600 214.400C789.200 214.400 795 209 797 201.800L801.200 203.400C801.600 210 801.200 218 800.200 224C800.200 228 799.800 231.500 799 234.800C793.500 236.200 787.500 236.700 781.600 236.600C775.700 236.700 769.700 236.200 764.200 234.800C763 231.500 761.800 228 761 224C760.200 218 760.400 210 761.200 203.200Z" fill="#fff"/>
<path d="M760.600 266.500C767 269 774 269.600 781.600 269.600C789.200 269.600 797 269 803.800 266.500L805.200 272.300C798 273.200 790 273.600 781.600 273.600C773.200 273.600 766 273.200 759.200 272.300Z" fill="#ff5648"/>
<path d="M759.200 272.300C766 273.200 773.200 273.600 781.600 273.600C790 273.600 798 273.200 805.200 272.300C807.500 279 809.200 284 810.200 289C811.500 295 812.400 301 812.800 306.800H786.400C785.800 301.500 784.800 296.500 783.600 292.400C782.800 296.500 782 301.500 781.600 306.800H754C754.400 301 755 295 756 289C756.800 284 757.800 279 759.200 272.300Z" fill="#ff7468"/>
<path d="M757.9 242.0A26.1 28.5 0 0 1 808.0 251.6" fill="none" stroke="#4da6ff" stroke-width="3" stroke-linecap="round"/>
<path d="M803.200 251.400L812.400 253.400L807.600 260Z" fill="#4da6ff"/>
<path d="M805.7 264.7A26.1 28.5 0 0 1 755.8 254.1" fill="none" stroke="#2f49d1" stroke-width="3" stroke-linecap="round"/>
<path d="M752.400 252.900L757.600 246.800L761.600 253.600Z" fill="#2f49d1"/>
<path d="M791.1 245.0A12.2 12.2 0 0 1 779.7 264.8M772.5 260.6A12.2 12.2 0 0 1 783.9 240.8" fill="none" stroke="#fff" stroke-width="1.200"/>
<path d="M784.200 239.500L787.800 242.600L783.600 243.600ZM779.400 266.100L775.800 263L780 262Z" fill="#fff"/>
<path d="M642 307.100H923.200" fill="none" stroke="#14204a" stroke-width="1.300"/>
</svg>

<p class="src"><span class="l1"><b>Bron:</b> Pontzer, H., Yamada, Y., Sagayama, H., Ainslie, P. N., Andersen, L. F., Anderson, L. J., ... &amp; Speakman, J. R.</span><span class="l2">(2021). Daily energy expenditure through the human life course. Science, 373(6556), 808-812.</span></p>
</body>
</html>
